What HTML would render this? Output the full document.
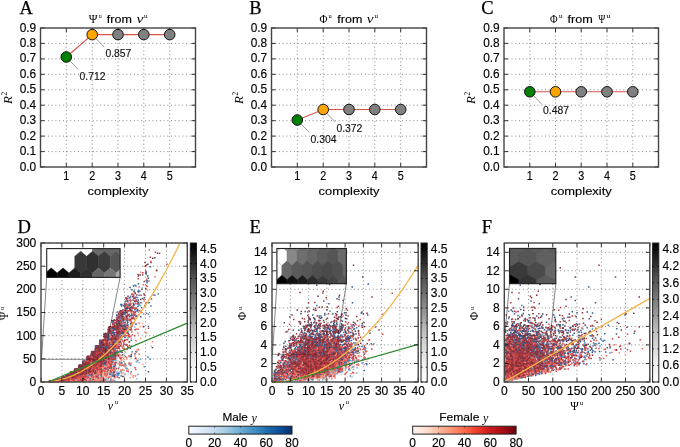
<!DOCTYPE html>
<html><head><meta charset="utf-8"><style>html,body{margin:0;padding:0;background:#fff;}svg{display:block;filter:blur(0.5px);}</style></head>
<body><svg width="680" height="447" viewBox="0 0 680 447">
<rect width="680" height="447" fill="#fff"/>
<path d="M66.3 28.0V167.0M92.2 28.0V167.0M118.0 28.0V167.0M143.8 28.0V167.0M169.7 28.0V167.0M40.5 151.6H195.5M40.5 136.1H195.5M40.5 120.7H195.5M40.5 105.2H195.5M40.5 89.8H195.5M40.5 74.3H195.5M40.5 58.9H195.5M40.5 43.4H195.5" stroke="#000" stroke-width="0.8" stroke-dasharray="1 2.73" opacity="0.6" fill="none"/>
<path d="M66.3 167.0v-4M66.3 28.0v4M92.2 167.0v-4M92.2 28.0v4M118.0 167.0v-4M118.0 28.0v4M143.8 167.0v-4M143.8 28.0v4M169.7 167.0v-4M169.7 28.0v4M40.5 167.0h4M195.5 167.0h-4M40.5 151.6h4M195.5 151.6h-4M40.5 136.1h4M195.5 136.1h-4M40.5 120.7h4M195.5 120.7h-4M40.5 105.2h4M195.5 105.2h-4M40.5 89.8h4M195.5 89.8h-4M40.5 74.3h4M195.5 74.3h-4M40.5 58.9h4M195.5 58.9h-4M40.5 43.4h4M195.5 43.4h-4M40.5 28.0h4M195.5 28.0h-4" stroke="#000" stroke-width="0.8" fill="none"/>
<rect x="40.5" y="28.0" width="155.0" height="139.0" fill="none" stroke="#444" stroke-width="1.4"/>
<text x="36.2" y="170.5" font-size="12" font-family='"Liberation Sans", sans-serif' text-anchor="end" textLength="16.5" lengthAdjust="spacingAndGlyphs" fill="#000" stroke="#000" stroke-width="0.15">0.0</text>
<text x="36.2" y="155.1" font-size="12" font-family='"Liberation Sans", sans-serif' text-anchor="end" textLength="16.5" lengthAdjust="spacingAndGlyphs" fill="#000" stroke="#000" stroke-width="0.15">0.1</text>
<text x="36.2" y="139.6" font-size="12" font-family='"Liberation Sans", sans-serif' text-anchor="end" textLength="16.5" lengthAdjust="spacingAndGlyphs" fill="#000" stroke="#000" stroke-width="0.15">0.2</text>
<text x="36.2" y="124.2" font-size="12" font-family='"Liberation Sans", sans-serif' text-anchor="end" textLength="16.5" lengthAdjust="spacingAndGlyphs" fill="#000" stroke="#000" stroke-width="0.15">0.3</text>
<text x="36.2" y="108.7" font-size="12" font-family='"Liberation Sans", sans-serif' text-anchor="end" textLength="16.5" lengthAdjust="spacingAndGlyphs" fill="#000" stroke="#000" stroke-width="0.15">0.4</text>
<text x="36.2" y="93.3" font-size="12" font-family='"Liberation Sans", sans-serif' text-anchor="end" textLength="16.5" lengthAdjust="spacingAndGlyphs" fill="#000" stroke="#000" stroke-width="0.15">0.5</text>
<text x="36.2" y="77.8" font-size="12" font-family='"Liberation Sans", sans-serif' text-anchor="end" textLength="16.5" lengthAdjust="spacingAndGlyphs" fill="#000" stroke="#000" stroke-width="0.15">0.6</text>
<text x="36.2" y="62.4" font-size="12" font-family='"Liberation Sans", sans-serif' text-anchor="end" textLength="16.5" lengthAdjust="spacingAndGlyphs" fill="#000" stroke="#000" stroke-width="0.15">0.7</text>
<text x="36.2" y="46.9" font-size="12" font-family='"Liberation Sans", sans-serif' text-anchor="end" textLength="16.5" lengthAdjust="spacingAndGlyphs" fill="#000" stroke="#000" stroke-width="0.15">0.8</text>
<text x="36.2" y="31.5" font-size="12" font-family='"Liberation Sans", sans-serif' text-anchor="end" textLength="16.5" lengthAdjust="spacingAndGlyphs" fill="#000" stroke="#000" stroke-width="0.15">0.9</text>
<text x="66.3" y="179.6" font-size="12" font-family='"Liberation Sans", sans-serif' text-anchor="middle" textLength="6.0" lengthAdjust="spacingAndGlyphs" fill="#000" stroke="#000" stroke-width="0.15">1</text>
<text x="92.2" y="179.6" font-size="12" font-family='"Liberation Sans", sans-serif' text-anchor="middle" textLength="6.0" lengthAdjust="spacingAndGlyphs" fill="#000" stroke="#000" stroke-width="0.15">2</text>
<text x="118.0" y="179.6" font-size="12" font-family='"Liberation Sans", sans-serif' text-anchor="middle" textLength="6.0" lengthAdjust="spacingAndGlyphs" fill="#000" stroke="#000" stroke-width="0.15">3</text>
<text x="143.8" y="179.6" font-size="12" font-family='"Liberation Sans", sans-serif' text-anchor="middle" textLength="6.0" lengthAdjust="spacingAndGlyphs" fill="#000" stroke="#000" stroke-width="0.15">4</text>
<text x="169.7" y="179.6" font-size="12" font-family='"Liberation Sans", sans-serif' text-anchor="middle" textLength="6.0" lengthAdjust="spacingAndGlyphs" fill="#000" stroke="#000" stroke-width="0.15">5</text>
<text x="118.0" y="194.6" font-size="11" font-family='"Liberation Sans", sans-serif' text-anchor="middle" textLength="61.0" lengthAdjust="spacingAndGlyphs" fill="#000" stroke="#000" stroke-width="0.15">complexity</text>
<g transform="translate(7.5,97.5) rotate(-90)">
<text x="-2.6" y="4.3" font-size="13" font-family='"Liberation Serif", serif' text-anchor="middle" font-style="italic" fill="#000">R</text>
<text x="3.9" y="-0.8" font-size="7.5" font-family='"Liberation Serif", serif' text-anchor="middle" fill="#000">2</text>
</g>
<text x="88.8" y="22.6" font-size="11.5" font-family='"Liberation Serif", serif' text-anchor="start" textLength="8.8" lengthAdjust="spacingAndGlyphs" fill="#000">Ψ</text>
<text x="98.8" y="18.3" font-size="6.5" font-family='"Liberation Serif", serif' text-anchor="start" textLength="3.0" lengthAdjust="spacingAndGlyphs" fill="#000">u</text>
<text x="106.8" y="22.6" font-size="11" font-family='"Liberation Sans", sans-serif' text-anchor="start" textLength="25.0" lengthAdjust="spacingAndGlyphs" fill="#000" stroke="#000" stroke-width="0.15">from</text>
<text x="136.5" y="22.6" font-size="11.5" font-family='"Liberation Serif", serif' text-anchor="start" font-style="italic" textLength="7.0" lengthAdjust="spacingAndGlyphs" fill="#000">ν</text>
<text x="144.0" y="18.3" font-size="6.5" font-family='"Liberation Serif", serif' text-anchor="start" textLength="3.6" lengthAdjust="spacingAndGlyphs" fill="#000">u</text>
<text x="19.6" y="13.6" font-size="18.5" font-family='"Liberation Serif", serif' text-anchor="start" fill="#000" stroke="#000" stroke-width="0.25">A</text>
<polyline points="66.3,57.0 92.2,34.6 118.0,34.6 143.8,34.6 169.7,34.6" fill="none" stroke="#d9534a" stroke-width="1.1"/>
<path d="M66.3 57.0l12 12.5" stroke="#999" stroke-width="1.0" fill="none"/>
<path d="M92.2 34.6l12 12.5" stroke="#999" stroke-width="1.0" fill="none"/>
<circle cx="66.3" cy="57.0" r="5.3" fill="#008000" stroke="#111" stroke-width="1"/>
<circle cx="92.2" cy="34.6" r="5.3" fill="#ffa500" stroke="#111" stroke-width="1"/>
<circle cx="118.0" cy="34.6" r="5.3" fill="#808080" stroke="#111" stroke-width="1"/>
<circle cx="143.8" cy="34.6" r="5.3" fill="#808080" stroke="#111" stroke-width="1"/>
<circle cx="169.7" cy="34.6" r="5.3" fill="#808080" stroke="#111" stroke-width="1"/>
<text x="79.5" y="79.6" font-size="10.8" font-family='"Liberation Sans", sans-serif' text-anchor="start" textLength="26.0" lengthAdjust="spacingAndGlyphs" fill="#111" stroke="#111" stroke-width="0.15">0.712</text>
<text x="105.4" y="57.2" font-size="10.8" font-family='"Liberation Sans", sans-serif' text-anchor="start" textLength="26.0" lengthAdjust="spacingAndGlyphs" fill="#111" stroke="#111" stroke-width="0.15">0.857</text>
<path d="M297.3 28.0V167.0M323.2 28.0V167.0M349.0 28.0V167.0M374.8 28.0V167.0M400.7 28.0V167.0M271.5 151.6H426.5M271.5 136.1H426.5M271.5 120.7H426.5M271.5 105.2H426.5M271.5 89.8H426.5M271.5 74.3H426.5M271.5 58.9H426.5M271.5 43.4H426.5" stroke="#000" stroke-width="0.8" stroke-dasharray="1 2.73" opacity="0.6" fill="none"/>
<path d="M297.3 167.0v-4M297.3 28.0v4M323.2 167.0v-4M323.2 28.0v4M349.0 167.0v-4M349.0 28.0v4M374.8 167.0v-4M374.8 28.0v4M400.7 167.0v-4M400.7 28.0v4M271.5 167.0h4M426.5 167.0h-4M271.5 151.6h4M426.5 151.6h-4M271.5 136.1h4M426.5 136.1h-4M271.5 120.7h4M426.5 120.7h-4M271.5 105.2h4M426.5 105.2h-4M271.5 89.8h4M426.5 89.8h-4M271.5 74.3h4M426.5 74.3h-4M271.5 58.9h4M426.5 58.9h-4M271.5 43.4h4M426.5 43.4h-4M271.5 28.0h4M426.5 28.0h-4" stroke="#000" stroke-width="0.8" fill="none"/>
<rect x="271.5" y="28.0" width="155.0" height="139.0" fill="none" stroke="#444" stroke-width="1.4"/>
<text x="267.2" y="170.5" font-size="12" font-family='"Liberation Sans", sans-serif' text-anchor="end" textLength="16.5" lengthAdjust="spacingAndGlyphs" fill="#000" stroke="#000" stroke-width="0.15">0.0</text>
<text x="267.2" y="155.1" font-size="12" font-family='"Liberation Sans", sans-serif' text-anchor="end" textLength="16.5" lengthAdjust="spacingAndGlyphs" fill="#000" stroke="#000" stroke-width="0.15">0.1</text>
<text x="267.2" y="139.6" font-size="12" font-family='"Liberation Sans", sans-serif' text-anchor="end" textLength="16.5" lengthAdjust="spacingAndGlyphs" fill="#000" stroke="#000" stroke-width="0.15">0.2</text>
<text x="267.2" y="124.2" font-size="12" font-family='"Liberation Sans", sans-serif' text-anchor="end" textLength="16.5" lengthAdjust="spacingAndGlyphs" fill="#000" stroke="#000" stroke-width="0.15">0.3</text>
<text x="267.2" y="108.7" font-size="12" font-family='"Liberation Sans", sans-serif' text-anchor="end" textLength="16.5" lengthAdjust="spacingAndGlyphs" fill="#000" stroke="#000" stroke-width="0.15">0.4</text>
<text x="267.2" y="93.3" font-size="12" font-family='"Liberation Sans", sans-serif' text-anchor="end" textLength="16.5" lengthAdjust="spacingAndGlyphs" fill="#000" stroke="#000" stroke-width="0.15">0.5</text>
<text x="267.2" y="77.8" font-size="12" font-family='"Liberation Sans", sans-serif' text-anchor="end" textLength="16.5" lengthAdjust="spacingAndGlyphs" fill="#000" stroke="#000" stroke-width="0.15">0.6</text>
<text x="267.2" y="62.4" font-size="12" font-family='"Liberation Sans", sans-serif' text-anchor="end" textLength="16.5" lengthAdjust="spacingAndGlyphs" fill="#000" stroke="#000" stroke-width="0.15">0.7</text>
<text x="267.2" y="46.9" font-size="12" font-family='"Liberation Sans", sans-serif' text-anchor="end" textLength="16.5" lengthAdjust="spacingAndGlyphs" fill="#000" stroke="#000" stroke-width="0.15">0.8</text>
<text x="267.2" y="31.5" font-size="12" font-family='"Liberation Sans", sans-serif' text-anchor="end" textLength="16.5" lengthAdjust="spacingAndGlyphs" fill="#000" stroke="#000" stroke-width="0.15">0.9</text>
<text x="297.3" y="179.6" font-size="12" font-family='"Liberation Sans", sans-serif' text-anchor="middle" textLength="6.0" lengthAdjust="spacingAndGlyphs" fill="#000" stroke="#000" stroke-width="0.15">1</text>
<text x="323.2" y="179.6" font-size="12" font-family='"Liberation Sans", sans-serif' text-anchor="middle" textLength="6.0" lengthAdjust="spacingAndGlyphs" fill="#000" stroke="#000" stroke-width="0.15">2</text>
<text x="349.0" y="179.6" font-size="12" font-family='"Liberation Sans", sans-serif' text-anchor="middle" textLength="6.0" lengthAdjust="spacingAndGlyphs" fill="#000" stroke="#000" stroke-width="0.15">3</text>
<text x="374.8" y="179.6" font-size="12" font-family='"Liberation Sans", sans-serif' text-anchor="middle" textLength="6.0" lengthAdjust="spacingAndGlyphs" fill="#000" stroke="#000" stroke-width="0.15">4</text>
<text x="400.7" y="179.6" font-size="12" font-family='"Liberation Sans", sans-serif' text-anchor="middle" textLength="6.0" lengthAdjust="spacingAndGlyphs" fill="#000" stroke="#000" stroke-width="0.15">5</text>
<text x="349.0" y="194.6" font-size="11" font-family='"Liberation Sans", sans-serif' text-anchor="middle" textLength="61.0" lengthAdjust="spacingAndGlyphs" fill="#000" stroke="#000" stroke-width="0.15">complexity</text>
<g transform="translate(238.5,97.5) rotate(-90)">
<text x="-2.6" y="4.3" font-size="13" font-family='"Liberation Serif", serif' text-anchor="middle" font-style="italic" fill="#000">R</text>
<text x="3.9" y="-0.8" font-size="7.5" font-family='"Liberation Serif", serif' text-anchor="middle" fill="#000">2</text>
</g>
<text x="319.6" y="22.6" font-size="11.5" font-family='"Liberation Serif", serif' text-anchor="start" textLength="8.0" lengthAdjust="spacingAndGlyphs" fill="#000">Φ</text>
<text x="328.6" y="18.3" font-size="6.5" font-family='"Liberation Serif", serif' text-anchor="start" textLength="3.2" lengthAdjust="spacingAndGlyphs" fill="#000">u</text>
<text x="337.3" y="22.6" font-size="11" font-family='"Liberation Sans", sans-serif' text-anchor="start" textLength="25.1" lengthAdjust="spacingAndGlyphs" fill="#000" stroke="#000" stroke-width="0.15">from</text>
<text x="366.7" y="22.6" font-size="11.5" font-family='"Liberation Serif", serif' text-anchor="start" font-style="italic" textLength="6.8" lengthAdjust="spacingAndGlyphs" fill="#000">ν</text>
<text x="374.5" y="18.3" font-size="6.5" font-family='"Liberation Serif", serif' text-anchor="start" textLength="3.5" lengthAdjust="spacingAndGlyphs" fill="#000">u</text>
<text x="249.3" y="13.6" font-size="18.5" font-family='"Liberation Serif", serif' text-anchor="start" fill="#000" stroke="#000" stroke-width="0.25">B</text>
<polyline points="297.3,120.0 323.2,109.5 349.0,109.5 374.8,109.5 400.7,109.5" fill="none" stroke="#d9534a" stroke-width="1.1"/>
<path d="M297.3 120.0l12 12.5" stroke="#999" stroke-width="1.0" fill="none"/>
<path d="M323.2 109.5l12 12.5" stroke="#999" stroke-width="1.0" fill="none"/>
<circle cx="297.3" cy="120.0" r="5.3" fill="#008000" stroke="#111" stroke-width="1"/>
<circle cx="323.2" cy="109.5" r="5.3" fill="#ffa500" stroke="#111" stroke-width="1"/>
<circle cx="349.0" cy="109.5" r="5.3" fill="#808080" stroke="#111" stroke-width="1"/>
<circle cx="374.8" cy="109.5" r="5.3" fill="#808080" stroke="#111" stroke-width="1"/>
<circle cx="400.7" cy="109.5" r="5.3" fill="#808080" stroke="#111" stroke-width="1"/>
<text x="310.5" y="142.6" font-size="10.8" font-family='"Liberation Sans", sans-serif' text-anchor="start" textLength="26.0" lengthAdjust="spacingAndGlyphs" fill="#111" stroke="#111" stroke-width="0.15">0.304</text>
<text x="336.4" y="132.1" font-size="10.8" font-family='"Liberation Sans", sans-serif' text-anchor="start" textLength="26.0" lengthAdjust="spacingAndGlyphs" fill="#111" stroke="#111" stroke-width="0.15">0.372</text>
<path d="M529.8 28.0V167.0M555.5 28.0V167.0M581.2 28.0V167.0M607.0 28.0V167.0M632.8 28.0V167.0M504.0 151.6H658.5M504.0 136.1H658.5M504.0 120.7H658.5M504.0 105.2H658.5M504.0 89.8H658.5M504.0 74.3H658.5M504.0 58.9H658.5M504.0 43.4H658.5" stroke="#000" stroke-width="0.8" stroke-dasharray="1 2.73" opacity="0.6" fill="none"/>
<path d="M529.8 167.0v-4M529.8 28.0v4M555.5 167.0v-4M555.5 28.0v4M581.2 167.0v-4M581.2 28.0v4M607.0 167.0v-4M607.0 28.0v4M632.8 167.0v-4M632.8 28.0v4M504.0 167.0h4M658.5 167.0h-4M504.0 151.6h4M658.5 151.6h-4M504.0 136.1h4M658.5 136.1h-4M504.0 120.7h4M658.5 120.7h-4M504.0 105.2h4M658.5 105.2h-4M504.0 89.8h4M658.5 89.8h-4M504.0 74.3h4M658.5 74.3h-4M504.0 58.9h4M658.5 58.9h-4M504.0 43.4h4M658.5 43.4h-4M504.0 28.0h4M658.5 28.0h-4" stroke="#000" stroke-width="0.8" fill="none"/>
<rect x="504.0" y="28.0" width="154.5" height="139.0" fill="none" stroke="#444" stroke-width="1.4"/>
<text x="499.7" y="170.5" font-size="12" font-family='"Liberation Sans", sans-serif' text-anchor="end" textLength="16.5" lengthAdjust="spacingAndGlyphs" fill="#000" stroke="#000" stroke-width="0.15">0.0</text>
<text x="499.7" y="155.1" font-size="12" font-family='"Liberation Sans", sans-serif' text-anchor="end" textLength="16.5" lengthAdjust="spacingAndGlyphs" fill="#000" stroke="#000" stroke-width="0.15">0.1</text>
<text x="499.7" y="139.6" font-size="12" font-family='"Liberation Sans", sans-serif' text-anchor="end" textLength="16.5" lengthAdjust="spacingAndGlyphs" fill="#000" stroke="#000" stroke-width="0.15">0.2</text>
<text x="499.7" y="124.2" font-size="12" font-family='"Liberation Sans", sans-serif' text-anchor="end" textLength="16.5" lengthAdjust="spacingAndGlyphs" fill="#000" stroke="#000" stroke-width="0.15">0.3</text>
<text x="499.7" y="108.7" font-size="12" font-family='"Liberation Sans", sans-serif' text-anchor="end" textLength="16.5" lengthAdjust="spacingAndGlyphs" fill="#000" stroke="#000" stroke-width="0.15">0.4</text>
<text x="499.7" y="93.3" font-size="12" font-family='"Liberation Sans", sans-serif' text-anchor="end" textLength="16.5" lengthAdjust="spacingAndGlyphs" fill="#000" stroke="#000" stroke-width="0.15">0.5</text>
<text x="499.7" y="77.8" font-size="12" font-family='"Liberation Sans", sans-serif' text-anchor="end" textLength="16.5" lengthAdjust="spacingAndGlyphs" fill="#000" stroke="#000" stroke-width="0.15">0.6</text>
<text x="499.7" y="62.4" font-size="12" font-family='"Liberation Sans", sans-serif' text-anchor="end" textLength="16.5" lengthAdjust="spacingAndGlyphs" fill="#000" stroke="#000" stroke-width="0.15">0.7</text>
<text x="499.7" y="46.9" font-size="12" font-family='"Liberation Sans", sans-serif' text-anchor="end" textLength="16.5" lengthAdjust="spacingAndGlyphs" fill="#000" stroke="#000" stroke-width="0.15">0.8</text>
<text x="499.7" y="31.5" font-size="12" font-family='"Liberation Sans", sans-serif' text-anchor="end" textLength="16.5" lengthAdjust="spacingAndGlyphs" fill="#000" stroke="#000" stroke-width="0.15">0.9</text>
<text x="529.8" y="179.6" font-size="12" font-family='"Liberation Sans", sans-serif' text-anchor="middle" textLength="6.0" lengthAdjust="spacingAndGlyphs" fill="#000" stroke="#000" stroke-width="0.15">1</text>
<text x="555.5" y="179.6" font-size="12" font-family='"Liberation Sans", sans-serif' text-anchor="middle" textLength="6.0" lengthAdjust="spacingAndGlyphs" fill="#000" stroke="#000" stroke-width="0.15">2</text>
<text x="581.2" y="179.6" font-size="12" font-family='"Liberation Sans", sans-serif' text-anchor="middle" textLength="6.0" lengthAdjust="spacingAndGlyphs" fill="#000" stroke="#000" stroke-width="0.15">3</text>
<text x="607.0" y="179.6" font-size="12" font-family='"Liberation Sans", sans-serif' text-anchor="middle" textLength="6.0" lengthAdjust="spacingAndGlyphs" fill="#000" stroke="#000" stroke-width="0.15">4</text>
<text x="632.8" y="179.6" font-size="12" font-family='"Liberation Sans", sans-serif' text-anchor="middle" textLength="6.0" lengthAdjust="spacingAndGlyphs" fill="#000" stroke="#000" stroke-width="0.15">5</text>
<text x="581.2" y="194.6" font-size="11" font-family='"Liberation Sans", sans-serif' text-anchor="middle" textLength="61.0" lengthAdjust="spacingAndGlyphs" fill="#000" stroke="#000" stroke-width="0.15">complexity</text>
<g transform="translate(471.0,97.5) rotate(-90)">
<text x="-2.6" y="4.3" font-size="13" font-family='"Liberation Serif", serif' text-anchor="middle" font-style="italic" fill="#000">R</text>
<text x="3.9" y="-0.8" font-size="7.5" font-family='"Liberation Serif", serif' text-anchor="middle" fill="#000">2</text>
</g>
<text x="550.0" y="22.6" font-size="11.5" font-family='"Liberation Serif", serif' text-anchor="start" textLength="7.6" lengthAdjust="spacingAndGlyphs" fill="#000">Φ</text>
<text x="558.9" y="18.3" font-size="6.5" font-family='"Liberation Serif", serif' text-anchor="start" textLength="3.6" lengthAdjust="spacingAndGlyphs" fill="#000">u</text>
<text x="567.6" y="22.6" font-size="11" font-family='"Liberation Sans", sans-serif' text-anchor="start" textLength="25.3" lengthAdjust="spacingAndGlyphs" fill="#000" stroke="#000" stroke-width="0.15">from</text>
<text x="598.2" y="22.6" font-size="11.5" font-family='"Liberation Serif", serif' text-anchor="start" textLength="7.1" lengthAdjust="spacingAndGlyphs" fill="#000">Ψ</text>
<text x="606.5" y="18.3" font-size="6.5" font-family='"Liberation Serif", serif' text-anchor="start" textLength="4.1" lengthAdjust="spacingAndGlyphs" fill="#000">u</text>
<text x="481.2" y="13.6" font-size="18.5" font-family='"Liberation Serif", serif' text-anchor="start" fill="#000" stroke="#000" stroke-width="0.25">C</text>
<polyline points="529.8,91.8 555.5,91.8 581.2,91.8 607.0,91.8 632.8,91.8" fill="none" stroke="#d9534a" stroke-width="1.1"/>
<path d="M529.8 91.8l12 12.5" stroke="#999" stroke-width="1.0" fill="none"/>
<circle cx="529.8" cy="91.8" r="5.3" fill="#008000" stroke="#111" stroke-width="1"/>
<circle cx="555.5" cy="91.8" r="5.3" fill="#ffa500" stroke="#111" stroke-width="1"/>
<circle cx="581.2" cy="91.8" r="5.3" fill="#808080" stroke="#111" stroke-width="1"/>
<circle cx="607.0" cy="91.8" r="5.3" fill="#808080" stroke="#111" stroke-width="1"/>
<circle cx="632.8" cy="91.8" r="5.3" fill="#808080" stroke="#111" stroke-width="1"/>
<text x="543.0" y="114.4" font-size="10.8" font-family='"Liberation Sans", sans-serif' text-anchor="start" textLength="26.0" lengthAdjust="spacingAndGlyphs" fill="#111" stroke="#111" stroke-width="0.15">0.487</text>
<defs>
<linearGradient id="gr" x1="0" y1="0" x2="0" y2="1"><stop offset="0.000" stop-color="rgb(0, 0, 0)"/><stop offset="0.125" stop-color="rgb(37, 37, 37)"/><stop offset="0.250" stop-color="rgb(82, 82, 82)"/><stop offset="0.375" stop-color="rgb(115, 115, 115)"/><stop offset="0.500" stop-color="rgb(150, 150, 150)"/><stop offset="0.625" stop-color="rgb(189, 189, 189)"/><stop offset="0.750" stop-color="rgb(217, 217, 217)"/><stop offset="0.875" stop-color="rgb(240, 240, 240)"/><stop offset="1.000" stop-color="rgb(255, 255, 255)"/></linearGradient>
<linearGradient id="bl" x1="0" y1="0" x2="1" y2="0"><stop offset="0.000" stop-color="#f7fbff"/><stop offset="0.125" stop-color="#deebf7"/><stop offset="0.250" stop-color="#c6dbef"/><stop offset="0.375" stop-color="#9ecae1"/><stop offset="0.500" stop-color="#6baed6"/><stop offset="0.625" stop-color="#4292c6"/><stop offset="0.750" stop-color="#2171b5"/><stop offset="0.875" stop-color="#08519c"/><stop offset="1.000" stop-color="#08306b"/></linearGradient>
<linearGradient id="rd" x1="0" y1="0" x2="1" y2="0"><stop offset="0.000" stop-color="#fff5f0"/><stop offset="0.125" stop-color="#fee0d2"/><stop offset="0.250" stop-color="#fcbba1"/><stop offset="0.375" stop-color="#fc9272"/><stop offset="0.500" stop-color="#fb6a4a"/><stop offset="0.625" stop-color="#ef3b2c"/><stop offset="0.750" stop-color="#cb181d"/><stop offset="0.875" stop-color="#a50f15"/><stop offset="1.000" stop-color="#67000d"/></linearGradient>
<clipPath id="cD"><rect x="46.7" y="248.6" width="73.4" height="28.8"/></clipPath>
<clipPath id="cE"><rect x="276.9" y="248.5" width="69.5" height="35.2"/></clipPath>
<clipPath id="cF"><rect x="509.5" y="248.4" width="46.3" height="35.3"/></clipPath>
</defs>
<path d="M61.9 243.0V382.0M82.8 243.0V382.0M103.7 243.0V382.0M124.6 243.0V382.0M145.5 243.0V382.0M166.4 243.0V382.0M41.0 358.8H187.3M41.0 335.7H187.3M41.0 312.5H187.3M41.0 289.3H187.3M41.0 266.2H187.3M41.0 243.0H187.3" stroke="#000" stroke-width="0.8" stroke-dasharray="1 2.73" opacity="0.6" fill="none"/>
<path d="M46.7 277.4L41.5 359.3M120.1 277.4L103.7 359.3M41 359.3H103.7" stroke="#777" stroke-width="0.9" fill="none"/>
<g transform="scale(0.25)" stroke-width="5.6" fill="none" opacity="0.8"><path d="M437 1424h6m-39 45h6m23 2h6m-15 3h6m-37 28h6m-91 13h6m-51 9h6m0 2h6m15 0h6" stroke="#c6dbef"/><path d="M450 1374h6m93 24h6m-117 37h6m-15 4h6m7 7h6m-24 6h6m-70 2h6m-13 4h6m97 18h6m-126 4h6m14 2h6m-27 9h6m39 0h6m16 5h6m-128 4h6m162 4h6m-98 2h6m40 2h6m-72 5h6m16 0h6m-75 2h6m81 0h6m36 0h6m-133 2h6m59 0h6m-57 4h6m-63 1h6m29 0h6m32 0h6m-39 4h6" stroke="#9ecae1"/><path d="M596 1267h6m-193 126h6m4 5h6m-8 6h6m16 0h6m-8 11h6m21 6h6m-67 7h6m32 0h6m-23 7h6m10 4h6m13 4h6m-116 20h6m2 0h6m32 2h6m-80 2h6m104 0h6m-53 5h6m-23 8h6m-42 2h6m37 0h6m86 5h6m-166 2h6m13 0h6m31 2h6m-53 4h6m15 0h6m46 3h6m-1 0h6m-13 2h6m-6 0h6m-57 2h6m52 0h6m-106 2h6m-18 2h6m118 0h6m-74 2h6m-18 1h6m17 4h6m0 0h6m-2 0h6m-65 4h6m-36 2h6m25 0h6m66 0h6m-47 2h6m-3 0h6m18 1h6m-43 2h6m-5 0h6m-102 2h6m166 0h6" stroke="#6baed6"/><path d="M542 1244h6m-55 39h6m-63 52h6m5 8h6m63 5h6m-58 8h6m2 18h6m-78 4h6m64 2h6m-70 3h6m62 6h6m-17 2h6m-40 5h6m-34 2h6m-26 2h6m93 6h6m-64 2h6m-33 1h6m13 0h6m2 2h6m-21 4h6m12 2h6m-24 2h6m-46 2h6m10 3h6m-3 0h6m59 2h6m-64 6h6m-14 3h6m2 0h6m18 0h6m17 0h6m-64 2h6m31 0h6m17 0h6m-11 2h6m-72 2h6m14 2h6m3 0h6m50 0h6m-62 2h6m-23 3h6m3 0h6m-5 2h6m-24 2h6m28 2h6m-51 2h6m29 0h6m3 0h6m-14 2h6m-29 3h6m-31 6h6m17 0h6m10 0h6m-24 2h6m-50 2h6m15 0h6m19 0h6m-61 5h6m30 2h6m-6 0h6m-47 2h6m12 0h6m25 2h6m13 0h6m18 0h6m-99 2h6m-5 0h6m67 0h6m-54 1h6m1 2h6m-4 0h6m49 0h6m100 0h6m-220 2h6m-3 0h6m27 0h6m46 0h6m2 4h6m-19 2h6m21 0h6m-23 1h6m-104 2h6m92 0h6m-52 2h6m38 0h6m27 0h6m-106 2h6m4 0h6m71 0h6m-106 2h6m23 0h6m14 0h6m26 0h6m-5 0h6m-38 2h6m129 0h6m-217 2h6m8 0h6m92 0h6m-3 0h6m-27 1h6m0 0h6m22 0h6m9 0h6m-178 2h6m12 0h6m17 0h6m110 0h6m-147 2h6m6 0h6m30 0h6m-16 2h6m25 0h6m-104 2h6m4 0h6m-3 0h6m8 0h6m-2 0h6m3 0h6m5 0h6m14 4h6m23 0h6m26 0h6m26 0h6m21 0h6m-196 1h6m60 0h6m7 0h6m41 0h6m-151 2h6m131 0h6" stroke="#4292c6"/><path d="M593 1124h6m-65 39h6m90 13h6m-117 9h6m19 4h6m-35 2h6m26 0h6m-55 31h6m30 4h6m-38 13h6m-4 4h6m3 1h6m65 10h6m-76 3h6m-35 26h6m-4 23h6m4 1h6m0 6h6m-39 2h6m31 4h6m-45 9h6m-19 4h6m-2 9h6m-39 5h6m51 4h6m-75 9h6m72 8h6m-32 11h6m-64 5h6m18 0h6m-37 2h6m18 0h6m-9 4h6m12 6h6m6 0h6m8 0h6m-89 5h6m3 4h6m39 7h6m3 0h6m-87 2h6m1 0h6m60 2h6m-68 2h6m36 2h6m6 0h6m-55 2h6m16 0h6m23 0h6m4 0h6m0 1h6m-5 0h6m-91 2h6m65 0h6m-4 2h6m0 0h6m-29 4h6m-41 3h6m-22 4h6m61 0h6m-1 2h6m-97 4h6m192 0h6m-161 2h6m-3 1h6m-23 2h6m-5 0h6m14 0h6m-57 2h6m37 0h6m66 0h6m-106 2h6m5 0h6m-1 0h6m14 0h6m12 0h6m-54 2h6m4 0h6m15 0h6m-36 2h6m-23 2h6m4 0h6m28 0h6m1 0h6m13 0h6m-61 1h6m61 0h6m-111 2h6m183 0h6m-183 2h6m44 0h6m83 0h6m-113 2h6m-45 2h6m5 0h6m12 0h6m-45 2h6m22 0h6m12 0h6m24 0h6m-73 2h6m24 0h6m83 0h6m-129 1h6m29 0h6m20 0h6m-7 2h6m-44 2h6m-3 0h6m81 0h6m-107 2h6m8 0h6m-3 0h6m-6 0h6m1 0h6m-64 2h6m36 0h6m-35 2h6m-1 0h6m25 0h6m13 0h6m1 0h6m7 0h6m-74 2h6m45 0h6m49 0h6m-127 1h6m-6 0h6m0 0h6m12 0h6m-2 0h6m11 0h6m9 0h6m-6 0h6m5 0h6m-77 2h6m-5 0h6m-4 0h6m-6 0h6m-1 0h6m25 0h6m0 0h6m48 0h6m63 0h6m-169 2h6m119 0h6m-154 2h6m-3 0h6m32 0h6m13 0h6m7 0h6m-25 2h6m8 0h6m96 0h6m-173 2h6m-6 0h6m4 0h6m-2 0h6m0 0h6m-16 1h6m8 0h6m-6 0h6m-2 0h6m-26 2h6m18 0h6m-43 2h6m8 0h6m11 0h6m57 0h6m15 0h6m-148 2h6m21 0h6m11 0h6m14 0h6m4 0h6m-62 2h6m5 0h6m-2 0h6m1 0h6m37 0h6m18 0h6m-5 0h6m-117 2h6m31 0h6m-6 0h6m25 0h6m21 0h6m-1 0h6m-21 2h6m35 0h6m-150 1h6m7 0h6m31 0h6m112 0h6m-166 2h6m-4 0h6m3 0h6m62 0h6m93 0h6m-161 2h6m13 0h6m-31 2h6m12 0h6m-19 2h6m62 0h6m16 0h6m29 0h6m-153 2h6m38 0h6m82 0h6m-120 2h6m-8 1h6m24 0h6m32 0h6m-130 2h6m-3 0h6m0 0h6m74 0h6m-104 2h6m-4 0h6m128 0h6" stroke="#2171b5"/><path d="M548 1098h6m31 33h6m-93 76h6m55 4h6m36 13h6m-71 15h6m-10 17h6m-63 1h6m53 4h6m-19 2h6m-24 4h6m8 13h6m-44 14h6m34 2h6m-33 4h6m-23 11h6m0 21h6m-7 1h6m5 0h6m-64 13h6m75 0h6m-73 2h6m-4 8h6m-20 5h6m-4 0h6m0 6h6m0 2h6m-60 7h6m-2 2h6m28 0h6m3 0h6m-60 5h6m-6 4h6m-3 4h6m46 2h6m-63 2h6m-3 1h6m4 4h6m0 0h6m28 0h6m11 0h6m-66 9h6m0 4h6m-39 2h6m42 0h6m-6 0h6m-15 4h6m-49 2h6m-11 5h6m27 2h6m4 0h6m-62 2h6m0 0h6m23 0h6m11 0h6m20 0h6m-52 2h6m12 0h6m11 0h6m-61 1h6m4 0h6m5 0h6m13 0h6m36 0h6m-50 2h6m-41 2h6m73 0h6m4 0h6m-86 2h6m5 0h6m-4 0h6m66 4h6m-75 2h6m33 1h6m-76 2h6m7 0h6m4 0h6m-36 2h6m94 0h6m-92 2h6m18 0h6m-31 2h6m15 0h6m15 0h6m32 0h6m33 0h6m-127 2h6m56 0h6m-54 2h6m12 0h6m-60 1h6m8 0h6m64 0h6m-78 2h6m20 0h6m118 0h6m-159 2h6m-29 2h6m50 0h6m-29 2h6m-23 2h6m21 0h6m2 0h6m-61 2h6m12 0h6m23 0h6m-50 1h6m27 0h6m-3 0h6m-24 2h6m-18 2h6m-6 0h6m28 0h6m8 0h6m-79 2h6m39 0h6m-1 0h6m43 0h6m-92 2h6m13 0h6m-43 2h6m13 0h6m1 0h6m8 0h6m26 0h6m-77 2h6m-2 0h6m-3 0h6m24 0h6m-3 0h6m20 0h6m-60 1h6m-3 0h6m44 0h6m-2 0h6m-77 2h6m9 0h6m31 0h6m29 0h6m-93 2h6m24 0h6m30 0h6m30 0h6m36 0h6m-152 2h6m-6 0h6m-2 0h6m18 0h6m91 0h6m-147 2h6m-3 0h6m15 0h6m8 0h6m31 0h6m-65 2h6m-5 0h6m-2 0h6m-5 0h6m-5 0h6m-3 1h6m-5 0h6m0 0h6m1 0h6m-1 0h6m83 0h6m-139 2h6m130 0h6m24 0h6m-165 2h6m24 0h6m-5 0h6m-6 0h6m-39 2h6m26 0h6m-6 0h6m-2 0h6m23 0h6m-47 2h6m25 0h6m8 0h6m-95 2h6m30 0h6m64 0h6m-6 0h6m3 0h6m-125 2h6m29 0h6m19 0h6m-61 1h6m-5 0h6m6 0h6m-2 0h6m9 0h6m1 0h6m-58 2h6m-6 0h6m87 0h6m17 0h6m-118 4h6m15 0h6m7 0h6m106 0h6m-124 2h6m73 0h6m-124 2h6m0 0h6m5 0h6m2 0h6m11 0h6m-56 2h6m-3 0h6m-23 1h6m11 0h6m-34 2h6m2 0h6m-24 2h6m-6 0h6m56 0h6" stroke="#08519c"/><path d="M559 1100h6m25 13h6m-12 11h6m-52 67h6m-36 3h6m53 0h6m-23 6h6m-20 6h6m9 3h6m-50 21h6m28 1h6m-30 4h6m-24 2h6m1 4h6m-33 2h6m12 0h6m21 0h6m-9 1h6m-52 2h6m3 10h6m-1 1h6m6 4h6m-24 4h6m0 0h6m6 2h6m-31 2h6m-6 3h6m-3 0h6m-3 4h6m4 6h6m10 0h6m-68 1h6m53 0h6m-35 6h6m26 0h6m-55 2h6m-17 2h6m-1 1h6m13 0h6m-22 2h6m-6 0h6m30 6h6m-4 0h6m-43 2h6m38 5h6m14 0h6m-95 4h6m17 2h6m-29 5h6m16 0h6m3 0h6m7 2h6m-36 4h6m10 4h6m4 0h6m-12 2h6m0 0h6m-46 1h6m1 0h6m19 0h6m-51 2h6m18 6h6m8 0h6m-43 2h6m0 0h6m6 2h6m-27 1h6m-4 0h6m1 2h6m-6 0h6m14 8h6m8 0h6m-18 1h6m-1 0h6m-49 4h6m15 0h6m-41 2h6m-2 2h6m17 0h6m44 2h6m-62 2h6m-5 0h6m44 0h6m-76 1h6m30 6h6m-30 4h6m-10 2h6m51 0h6m-56 1h6m37 0h6m-76 2h6m-6 0h6m9 0h6m32 0h6m28 0h6m44 0h6m-142 2h6m44 0h6m-51 2h6m57 0h6m-3 2h6m143 0h6m-210 2h6m7 0h6m4 0h6m4 0h6m-40 2h6m7 0h6m31 0h6m-51 1h6m1 0h6m3 0h6m0 0h6m16 0h6m-3 0h6m-79 2h6m0 0h6m-1 0h6m19 0h6m-39 2h6m-5 0h6m9 0h6m-3 0h6m47 0h6m-55 2h6m34 0h6m-5 0h6m-63 2h6m13 0h6m9 0h6m27 0h6m-88 2h6m2 0h6m12 0h6m-40 2h6m-4 0h6m-2 0h6m21 0h6m1 0h6m-6 0h6m8 0h6m-3 0h6m-66 1h6m32 0h6m-44 2h6m-2 0h6m23 0h6m1 0h6m1 0h6m-5 0h6m2 0h6m14 0h6m-75 2h6m20 0h6m-2 0h6m-4 0h6m15 0h6m-63 2h6m163 0h6m-173 2h6m-4 0h6m18 0h6m6 0h6m-38 2h6m10 0h6m10 0h6m23 0h6m45 0h6m-126 2h6m25 0h6m8 0h6m16 0h6m-5 0h6m-79 1h6m-1 0h6m22 0h6m0 0h6m-5 0h6m-47 2h6m-1 0h6m-3 0h6m-3 0h6m-4 0h6m24 2h6m-44 2h6m8 0h6m-6 0h6m46 0h6m-81 2h6m2 0h6m48 0h6m13 0h6m-53 2h6m10 0h6m-4 0h6m-3 0h6m2 0h6m-81 1h6m6 0h6m57 0h6m14 0h6m-101 2h6m-6 0h6m0 0h6m-3 0h6m-2 0h6m-3 0h6m7 0h6m35 0h6m-54 2h6m-1 0h6m7 0h6m12 0h6m15 0h6m-78 2h6m7 0h6m7 0h6m-1 0h6m5 0h6m-47 2h6m-3 0h6m17 0h6m4 0h6m-48 2h6m-4 0h6m3 0h6m8 0h6m7 0h6m0 0h6m-46 2h6m-5 0h6m64 0h6m2 0h6m-108 1h6m2 0h6m-1 0h6m17 0h6m20 0h6m-6 0h6m-46 2h6m10 0h6m-2 0h6m-6 0h6m31 0h6m-81 2h6m-2 0h6m8 0h6m-1 0h6m-2 0h6m-3 0h6m14 0h6m26 0h6m-88 2h6m23 0h6m21 0h6m-5 0h6m-3 0h6m85 0h6m-160 2h6m-6 0h6m-1 0h6m-5 0h6m15 0h6m-4 0h6m-5 0h6m-2 0h6m-5 0h6m-4 0h6m7 0h6m-56 2h6m-3 0h6m28 0h6m0 0h6m21 0h6m-54 2h6m-4 0h6m7 0h6m-4 0h6m5 0h6m10 0h6m-55 1h6m-3 0h6m11 0h6m-5 0h6m-5 0h6m-1 0h6m-65 2h6m31 0h6m10 0h6m-52 2h6m-2 0h6m-6 0h6m-3 0h6m-1 0h6m0 0h6m-4 0h6m2 0h6m-3 0h6m-4 0h6m7 0h6m13 0h6m-1 0h6m-5 0h6m-78 2h6m12 0h6m4 0h6m49 0h6m-84 2h6m-3 0h6m-2 0h6m11 0h6m16 0h6m-64 2h6m-5 0h6m0 0h6m-4 0h6m-5 0h6m-6 0h6m9 0h6m6 0h6m0 0h6m-50 2h6m-4 0h6m-6 0h6m-2 0h6m1 0h6m-6 0h6m4 0h6m-3 0h6m4 0h6m13 0h6m-2 0h6m-59 1h6m-2 0h6m2 0h6m-6 0h6m-3 0h6m-1 0h6m19 0h6m1 0h6m12 0h6m28 0h6m-99 2h6m3 0h6m3 0h6m8 0h6m-6 0h6m12 0h6m77 0h6m-150 2h6m29 0h6m-61 2h6m1 0h6m-4 0h6m37 0h6m-5 0h6m-1 0h6m-5 0h6m-2 0h6m3 0h6m-81 2h6m-4 0h6m-4 0h6m-5 0h6m-4 0h6m5 0h6m3 0h6m-4 0h6m-2 0h6m-4 0h6m-4 0h6m-1 0h6m9 0h6m-3 0h6m1 0h6m4 0h6m-84 2h6m-6 0h6m1 0h6m-3 0h6m2 0h6m-5 0h6m-3 0h6m9 0h6m-5 0h6m-3 0h6m0 0h6m7 0h6m-62 2h6m17 0h6m-4 0h6m-5 0h6m5 0h6m-2 0h6m-49 1h6m3 0h6m0 0h6m8 0h6m-1 0h6m9 0h6m7 0h6m-34 2h6m3 0h6m5 0h6m60 0h6m-143 2h6m1 0h6m-3 0h6m1 0h6m22 0h6m3 0h6m-2 0h6m14 0h6m11 0h6m-90 2h6m2 0h6m8 0h6m0 0h6m17 0h6m-67 2h6m-1 0h6m-5 0h6m-2 0h6m17 0h6m-40 2h6m2 0h6m-1 0h6m-2 0h6m-4 0h6m0 0h6m-6 0h6m3 0h6m42 0h6m54 0h6m-118 1h6m4 0h6m3 0h6m0 0h6m2 0h6m-66 2h6m12 0h6m16 0h6m100 0h6m-170 2h6m-5 0h6m-3 0h6m29 0h6m2 0h6m-52 2h6m0 0h6m-4 0h6m37 0h6m34 0h6m-100 2h6m-4 0h6m0 0h6m-2 0h6m32 0h6m5 0h6m7 0h6m21 0h6m-102 2h6m47 0h6m-58 2h6m6 0h6m-5 0h6m-6 0h6m-4 0h6m6 0h6m-3 0h6m-60 1h6m3 0h6m-12 2h6m4 0h6m3 0h6m0 0h6m152 0h6m-178 2h6m-1 0h6m122 0h6m-153 2h6m7 0h6m23 0h6m11 0h6m11 0h6m22 0h6m-127 2h6m1 0h6m-5 0h6m-3 0h6m-5 0h6m17 0h6m12 0h6m-53 2h6m-3 0h6m7 0h6m-1 0h6m-26 2h6m-3 0h6m-5 0h6m10 0h6m38 0h6m-3 0h6m-2 0h6m13 0h6m5 0h6m31 0h6m-162 1h6m-1 0h6m-3 0h6m53 0h6m-78 2h6m-5 0h6m7 0h6m-6 0h6m89 0h6m-129 2h6m-6 0h6m-3 0h6m-4 0h6m-4 0h6m-3 0h6m-6 0h6m-6 0h6m4 0h6m-5 0h6m-4 0h6" stroke="#08306b"/><path d="M345 1465h6m166 26h6m-107 20h6" stroke="#fff5f0"/><path d="M419 1485h6m-9 6h6m-71 5h6m139 6h6m-159 2h6m97 2h6m-103 2h6m100 1h6m-81 6h6m-130 4h6m40 0h6m142 0h6m-138 3h6m13 4h6" stroke="#fee0d2"/><path d="M368 1417h6m94 13h6m-88 7h6m37 0h6m-66 6h6m20 2h6m3 1h6m69 0h6m-131 10h6m38 7h6m47 11h6m-118 2h6m76 0h6m-60 2h6m16 6h6m-40 1h6m-47 2h6m66 0h6m1 2h6m-73 4h6m124 2h6m-165 3h6m66 0h6m33 2h6m110 0h6m-164 2h6m21 0h6m9 4h6m-106 3h6m-1 0h6m14 2h6m-74 4h6m-1 0h6m20 0h6m14 0h6m35 2h6m2 0h6m-95 2h6m21 0h6m81 0h6m-114 2h6m103 0h6m-54 1h6m82 0h6m-131 2h6m69 0h6m-184 2h6" stroke="#fcbba1"/><path d="M483 1280h6m4 27h6m59 0h6m-87 6h6m-23 43h6m-25 16h6m-21 8h6m12 37h6m-44 4h6m14 0h6m-34 5h6m4 4h6m-8 5h6m36 0h6m-5 2h6m48 0h6m-67 2h6m-12 2h6m-56 4h6m14 1h6m-33 8h6m-15 5h6m29 0h6m-13 2h6m5 0h6m16 0h6m-34 2h6m6 0h6m-32 2h6m21 0h6m-54 2h6m126 0h6m-139 2h6m-10 2h6m46 1h6m21 0h6m0 0h6m-89 2h6m30 0h6m32 0h6m-3 0h6m-100 2h6m0 0h6m37 0h6m-85 2h6m26 0h6m60 0h6m-58 2h6m29 2h6m-53 2h6m37 0h6m-49 1h6m4 0h6m20 0h6m37 0h6m71 0h6m-157 4h6m37 0h6m-57 2h6m133 0h6m-131 2h6m0 0h6m0 0h6m106 0h6m-163 2h6m23 0h6m20 0h6m-85 1h6m1 0h6m3 0h6m-2 0h6m35 0h6m25 0h6m-73 2h6m66 0h6m-83 2h6m23 0h6m8 0h6m-68 2h6m8 0h6m140 0h6m-154 2h6m-6 2h6m71 0h6m35 0h6m-174 2h6m15 0h6m30 0h6m24 0h6m0 0h6m-44 1h6m6 0h6m38 0h6m7 0h6m31 0h6m-124 2h6m8 0h6m-1 0h6m2 0h6m-78 2h6m8 0h6m-5 0h6m14 0h6m17 0h6m22 0h6m-94 2h6m9 0h6m57 0h6m21 0h6m-110 2h6m9 2h6m9 0h6m19 0h6m99 0h6m-180 2h6m10 0h6m23 0h6m102 0h6m-99 1h6m-85 2h6m98 0h6m8 0h6m1 0h6m-158 2h6m12 0h6m89 0h6" stroke="#fc9272"/><path d="M560 1089h6m21 72h6m-86 95h6m-61 24h6m35 35h6m3 17h6m75 0h6m-116 11h6m-49 7h6m86 2h6m-61 5h6m-18 2h6m38 2h6m102 6h6m-161 13h6m-5 0h6m-6 0h6m1 16h6m-46 2h6m17 0h6m-59 6h6m37 0h6m1 0h6m0 0h6m-85 4h6m78 0h6m1 0h6m-32 1h6m105 0h6m-110 4h6m-20 4h6m0 0h6m30 0h6m-80 2h6m40 0h6m-43 2h6m-11 1h6m63 0h6m-71 2h6m7 0h6m117 0h6m-190 2h6m72 0h6m-67 2h6m-29 2h6m60 0h6m12 0h6m-49 2h6m-3 0h6m5 0h6m32 0h6m-43 1h6m-9 2h6m4 0h6m-1 0h6m2 0h6m9 0h6m16 0h6m-67 2h6m-1 0h6m70 0h6m-97 2h6m148 0h6m-161 2h6m41 0h6m-49 2h6m-30 2h6m28 0h6m-21 3h6m48 2h6m-4 0h6m-46 2h6m17 0h6m0 0h6m84 0h6m-147 2h6m-21 2h6m25 0h6m-2 0h6m-72 2h6m90 0h6m-83 1h6m27 0h6m-5 0h6m28 0h6m-29 2h6m18 0h6m-77 2h6m-1 0h6m13 0h6m8 0h6m10 0h6m-61 2h6m-2 0h6m-9 2h6m30 0h6m59 0h6m-92 2h6m16 0h6m4 0h6m-9 2h6m23 0h6m-79 1h6m15 0h6m0 0h6m5 0h6m-2 0h6m-65 2h6m96 0h6m-122 2h6m14 0h6m-6 0h6m-4 0h6m22 0h6m6 0h6m-50 2h6m12 0h6m26 0h6m-66 2h6m-4 0h6m2 0h6m-28 2h6m4 0h6m-13 2h6m-5 0h6m-1 0h6m4 0h6m20 0h6m0 0h6m28 0h6m11 0h6m-1 1h6m-91 2h6m-3 0h6m5 0h6m-4 0h6m23 0h6m-73 2h6m-3 0h6m-5 0h6m23 0h6m-2 0h6m8 0h6m15 0h6m-80 4h6m10 0h6m-5 0h6m2 0h6m-41 2h6m12 0h6m46 0h6m90 0h6m-169 1h6m-5 0h6m8 0h6m60 0h6m34 0h6m-152 2h6m19 0h6m8 0h6m-5 0h6m-2 0h6m4 0h6m-55 2h6m18 0h6m-1 0h6m-5 0h6m12 0h6m29 0h6m9 0h6m4 0h6m24 0h6m-160 2h6m52 0h6m1 0h6m73 0h6m-159 2h6m10 0h6m22 0h6m18 0h6m38 0h6m-5 0h6m5 0h6m-126 2h6m6 0h6m4 0h6m8 0h6m-6 0h6m6 0h6m15 0h6m77 0h6m25 0h6m-167 2h6m108 0h6m-130 1h6m5 0h6m44 2h6m-80 2h6m-4 0h6m0 0h6m10 0h6m13 0h6m20 0h6m11 0h6m12 0h6m17 0h6m-128 2h6m6 0h6m65 0h6m-3 0h6m46 0h6m-182 2h6m24 0h6m-1 0h6m-1 0h6m-21 2h6m21 0h6m23 0h6m-1 0h6m15 0h6m4 0h6m86 0h6m-198 2h6m64 0h6m0 0h6m-101 1h6m13 0h6m0 0h6m33 0h6m38 0h6m-117 2h6m11 0h6m24 0h6m75 0h6m74 0h6m-245 2h6m-6 0h6m-5 0h6m-2 0h6m-6 0h6m-2 0h6m18 0h6m63 0h6m33 0h6" stroke="#fb6a4a"/><path d="M550 1105h6m28 12h6m-27 94h6m-71 28h6m-11 15h6m40 3h6m-41 8h6m20 9h6m-28 4h6m39 15h6m-96 1h6m35 8h6m13 2h6m-33 2h6m-44 7h6m-32 2h6m59 0h6m6 2h6m-43 3h6m-6 2h6m14 4h6m-9 2h6m-25 2h6m15 0h6m-10 3h6m-28 2h6m40 6h6m-13 2h6m-91 2h6m26 1h6m-9 4h6m-3 6h6m10 1h6m9 0h6m-28 6h6m-40 7h6m-36 2h6m17 0h6m-28 4h6m48 4h6m9 0h6m-15 2h6m-30 1h6m-53 2h6m23 2h6m-35 4h6m-11 5h6m23 0h6m39 0h6m-79 2h6m58 0h6m-34 4h6m1 0h6m-29 2h6m27 0h6m-15 2h6m-36 2h6m8 0h6m48 0h6m-102 3h6m23 0h6m17 0h6m0 0h6m-12 2h6m-60 2h6m42 0h6m-8 2h6m-49 2h6m68 0h6m-70 2h6m71 0h6m19 0h6m-99 1h6m32 2h6m-80 2h6m-9 2h6m89 0h6m-34 2h6m13 0h6m17 0h6m39 0h6m-146 2h6m31 0h6m45 0h6m-71 1h6m65 0h6m-99 2h6m0 0h6m5 0h6m-5 0h6m-3 0h6m2 0h6m-2 0h6m-23 2h6m-3 0h6m-33 2h6m20 0h6m9 0h6m17 0h6m-55 2h6m4 0h6m0 0h6m31 0h6m-59 2h6m-4 0h6m-4 0h6m41 0h6m10 0h6m-60 2h6m-49 1h6m24 0h6m22 0h6m-4 0h6m-4 0h6m48 0h6m-87 2h6m3 0h6m-17 2h6m1 0h6m-2 0h6m-3 0h6m27 0h6m-59 2h6m62 0h6m-34 2h6m12 0h6m-81 2h6m12 0h6m1 0h6m1 0h6m130 0h6m-75 3h6m-105 2h6m13 0h6m-58 2h6m-2 0h6m19 0h6m6 0h6m8 0h6m-5 0h6m33 0h6m36 0h6m-142 2h6m5 0h6m-2 0h6m8 0h6m-4 0h6m-3 0h6m13 0h6m-43 2h6m11 0h6m91 0h6m-135 2h6m-3 0h6m4 0h6m8 0h6m-3 0h6m15 0h6m6 0h6m-53 2h6m47 0h6m27 0h6m-97 1h6m-5 0h6m0 0h6m8 0h6m-2 0h6m5 0h6m17 0h6m-68 2h6m5 0h6m0 0h6m0 0h6m12 0h6m-67 2h6m16 0h6m10 0h6m-1 0h6m-2 0h6m-5 0h6m-31 2h6m2 0h6m45 0h6m13 0h6m32 0h6m-155 2h6m-6 0h6m28 0h6m147 0h6m-155 2h6m-1 0h6m2 0h6m17 0h6m7 0h6m-96 2h6m-4 0h6m-5 0h6m-5 0h6m-2 0h6m13 0h6m11 0h6m11 0h6m-2 0h6m-42 1h6m5 0h6m-3 0h6m1 0h6m12 0h6m3 0h6m11 0h6m115 0h6m-221 2h6m29 0h6m1 0h6m13 0h6m-3 0h6m9 0h6m32 0h6m-121 2h6m11 0h6m-5 0h6m4 0h6m-1 0h6m3 0h6m13 0h6m41 0h6m-106 2h6m3 0h6m-1 0h6m-6 0h6m-5 0h6m15 0h6m6 0h6m38 0h6m4 0h6m70 0h6m-190 2h6m-6 0h6m10 0h6m1 0h6m14 0h6m9 0h6m63 0h6m-122 2h6m0 0h6m8 0h6m13 0h6m-5 0h6m28 0h6m-6 0h6m-75 1h6m-4 0h6m6 0h6m21 0h6m0 0h6m-56 2h6m-5 0h6m15 0h6m-3 0h6m5 0h6m27 0h6m35 0h6m-5 0h6m18 0h6m-191 2h6m19 0h6m5 0h6m-3 0h6m27 0h6m12 0h6m-90 2h6m22 0h6m12 0h6m-2 0h6m6 0h6m7 0h6m13 0h6m-97 2h6m-2 0h6m4 0h6m-2 0h6m5 0h6m-3 0h6m10 0h6m1 0h6m10 0h6m4 0h6m11 0h6m164 0h6m-255 2h6m1 0h6m27 0h6m-70 2h6m-3 0h6m10 0h6m-2 0h6m1 0h6m41 0h6m4 0h6m29 0h6m-135 1h6m6 0h6m15 0h6m105 0h6m-4 0h6m-140 2h6m47 0h6m-1 0h6m2 0h6m-53 2h6m-6 0h6m53 0h6m-5 0h6m19 0h6m23 0h6m-42 2h6m30 0h6m30 0h6m-205 2h6m-1 0h6m1 0h6m58 0h6m2 0h6m5 0h6m5 0h6m-107 2h6m-5 0h6m-2 0h6m164 0h6m-191 2h6m31 0h6m35 0h6m2 0h6m29 0h6m-150 1h6m12 0h6m2 0h6m31 0h6m8 0h6m6 0h6m-96 2h6m-4 0h6m-5 0h6m41 0h6m-2 0h6m46 0h6m-103 2h6m33 0h6m87 0h6" stroke="#ef3b2c"/><path d="M550 1115h6m8 42h6m-20 8h6m-29 11h6m18 39h6m-61 3h6m23 17h6m-23 11h6m-35 8h6m51 24h6m-79 4h6m16 0h6m-29 5h6m5 17h6m-22 2h6m38 3h6m-20 2h6m-21 2h6m16 0h6m-33 2h6m30 5h6m-76 13h6m-13 2h6m45 2h6m-32 4h6m7 2h6m65 0h6m-73 3h6m-51 4h6m-13 2h6m33 2h6m1 0h6m-35 3h6m-7 2h6m16 4h6m-11 2h6m-1 0h6m-60 2h6m54 0h6m-59 2h6m51 0h6m-72 1h6m-4 0h6m28 4h6m-1 2h6m30 2h6m-85 2h6m42 0h6m0 2h6m2 1h6m-75 2h6m52 0h6m-5 0h6m-53 2h6m11 0h6m-1 0h6m-6 2h6m9 2h6m-3 0h6m-54 2h6m38 0h6m-1 0h6m10 0h6m-51 2h6m5 0h6m-49 1h6m-5 0h6m50 0h6m-23 2h6m10 0h6m62 0h6m-63 2h6m-3 0h6m-62 2h6m-4 0h6m-19 2h6m20 0h6m33 0h6m-22 2h6m-67 2h6m43 0h6m-25 1h6m25 0h6m14 0h6m-46 2h6m-33 4h6m7 0h6m-3 0h6m22 0h6m-49 2h6m24 0h6m-44 2h6m1 0h6m-25 2h6m47 0h6m-1 0h6m-2 0h6m-68 1h6m51 0h6m11 0h6m0 0h6m-88 2h6m16 0h6m15 0h6m10 0h6m10 0h6m-25 2h6m-75 2h6m28 0h6m-3 0h6m-3 2h6m3 0h6m-1 0h6m7 0h6m-75 2h6m58 0h6m7 0h6m-60 1h6m11 0h6m14 0h6m1 0h6m57 0h6m-139 2h6m23 0h6m-33 2h6m20 0h6m-5 0h6m0 0h6m1 0h6m2 0h6m-51 2h6m-2 0h6m26 0h6m19 0h6m13 0h6m-42 2h6m-38 2h6m-2 0h6m32 0h6m-2 0h6m4 0h6m-68 2h6m-5 0h6m-1 0h6m9 0h6m16 0h6m-75 1h6m3 0h6m5 0h6m28 0h6m8 0h6m-2 0h6m5 0h6m17 0h6m6 0h6m-90 2h6m5 0h6m31 0h6m-4 0h6m11 0h6m-105 2h6m-4 0h6m3 0h6m25 0h6m-1 0h6m2 0h6m23 0h6m-41 2h6m124 0h6m-170 2h6m15 0h6m-3 0h6m79 0h6m-124 2h6m5 0h6m-3 0h6m3 0h6m-2 0h6m-3 0h6m-5 0h6m-5 0h6m21 0h6m-1 0h6m66 0h6m-134 2h6m-4 0h6m-5 0h6m8 0h6m15 0h6m5 0h6m30 0h6m-68 1h6m-3 0h6m-29 2h6m-4 0h6m-2 0h6m11 0h6m53 0h6m17 0h6m-141 2h6m-1 0h6m31 0h6m5 0h6m-5 0h6m27 0h6m-5 0h6m17 0h6m-78 2h6m15 0h6m4 0h6m-1 0h6m-82 2h6m13 0h6m-3 0h6m1 0h6m13 0h6m81 0h6m-139 2h6m-3 0h6m0 0h6m-6 0h6m-5 0h6m12 0h6m6 0h6m7 0h6m21 0h6m11 0h6m-110 2h6m0 0h6m5 0h6m13 0h6m6 0h6m-1 0h6m-4 0h6m-1 0h6m5 0h6m-6 0h6m-52 1h6m10 0h6m-24 2h6m-2 0h6m2 0h6m0 0h6m-5 0h6m-5 0h6m6 0h6m-38 2h6m12 0h6m14 0h6m-78 2h6m3 0h6m-4 0h6m-4 0h6m12 0h6m14 0h6m-4 0h6m-6 0h6m2 0h6m169 0h6m-250 2h6m7 0h6m19 0h6m-3 0h6m108 0h6m-137 2h6m-6 0h6m-2 0h6m11 0h6m0 0h6m19 0h6m8 0h6m-4 0h6m-92 2h6m-6 0h6m9 0h6m5 0h6m-5 0h6m2 0h6m22 0h6m-2 0h6m79 0h6m-143 1h6m-3 0h6m8 0h6m1 0h6m-5 0h6m-3 0h6m-2 0h6m16 0h6m-81 2h6m17 0h6m13 0h6m-6 0h6m1 0h6m9 0h6m6 0h6m3 0h6m-92 2h6m18 0h6m0 0h6m-5 0h6m7 0h6m85 0h6m-154 2h6m13 0h6m-3 0h6m-2 0h6m-2 0h6m-2 0h6m-35 2h6m43 0h6m56 0h6m-102 2h6m6 0h6m-3 0h6m47 0h6m7 0h6m-88 1h6m-2 0h6m3 0h6m-6 0h6m-1 0h6m-4 0h6m9 0h6m39 0h6m-90 2h6m-6 0h6m0 0h6m-1 0h6m7 0h6m-2 0h6m37 0h6m-74 2h6m-5 0h6m49 0h6m-100 2h6m17 0h6m6 0h6m-4 0h6m35 0h6m24 0h6m50 0h6m-166 2h6m14 0h6m12 0h6m-2 0h6m5 0h6m4 0h6m39 0h6m-4 0h6m-2 0h6m-90 2h6m12 0h6m10 0h6m6 0h6m6 0h6m-98 2h6m7 0h6m21 0h6m-6 0h6m-5 0h6m8 0h6m-74 1h6m7 0h6m7 0h6m3 0h6m39 0h6m47 0h6m-123 2h6m-3 0h6m-2 0h6m-4 0h6m-4 0h6m15 0h6m5 0h6m24 0h6m13 0h6m-99 2h6m-3 0h6m5 0h6m6 0h6m2 0h6m10 0h6m-61 2h6m3 0h6m-2 0h6m-6 0h6m9 0h6m73 0h6m-124 2h6m22 0h6m4 0h6m26 0h6m8 0h6m-2 0h6m14 0h6m-112 2h6m4 0h6m18 0h6m39 0h6m-106 2h6m1 0h6m-3 0h6m11 0h6m22 0h6m-38 1h6m-6 0h6m-45 2h6m7 0h6m-6 0h6m7 0h6m-50 2h6m-1 0h6m-5 0h6m-6 0h6m0 0h6m-6 0h6m-4 0h6m2 0h6m-2 0h6m-3 0h6" stroke="#cb181d"/><path d="M598 1029h6m20 54h6m-105 95h6m72 18h6m-101 6h6m3 0h6m-3 2h6m-7 9h6m21 2h6m-20 2h6m14 0h6m-49 3h6m12 10h6m-28 1h6m-12 10h6m19 13h6m-58 2h6m5 3h6m38 2h6m-44 13h6m-7 6h6m-12 3h6m-31 8h6m9 2h6m7 1h6m5 4h6m-25 4h6m-12 2h6m33 0h6m-53 2h6m12 3h6m-37 2h6m-27 8h6m29 1h6m-36 8h6m34 5h6m-39 2h6m16 0h6m44 4h6m-20 2h6m-55 2h6m-4 0h6m15 0h6m-4 0h6m12 0h6m-76 3h6m-15 2h6m0 2h6m58 0h6m-20 2h6m-45 5h6m10 0h6m19 2h6m-39 4h6m-5 0h6m8 0h6m-2 0h6m-12 2h6m14 0h6m-63 7h6m-25 4h6m47 0h6m37 2h6m-99 4h6m15 0h6m-42 3h6m36 0h6m11 0h6m-49 2h6m34 2h6m-49 2h6m17 0h6m-42 4h6m-3 0h6m39 1h6m-9 2h6m-56 2h6m-1 0h6m-5 0h6m48 0h6m-5 0h6m-5 0h6m-61 2h6m33 0h6m23 0h6m-76 2h6m23 2h6m10 3h6m6 0h6m-56 2h6m4 0h6m2 0h6m14 0h6m-66 2h6m24 0h6m60 0h6m-75 2h6m14 0h6m13 0h6m15 0h6m-62 2h6m1 0h6m-45 2h6m6 0h6m-4 0h6m-4 0h6m23 0h6m6 0h6m-1 0h6m-60 2h6m19 0h6m-47 5h6m10 2h6m15 0h6m-46 2h6m39 0h6m-43 2h6m17 0h6m28 0h6m-55 1h6m43 0h6m-38 2h6m3 0h6m0 0h6m-42 4h6m-5 0h6m10 0h6m1 0h6m9 0h6m4 0h6m2 0h6m-45 2h6m16 0h6m3 0h6m-61 2h6m2 0h6m-2 0h6m0 0h6m-2 0h6m0 0h6m6 0h6m-27 2h6m-5 0h6m19 0h6m-48 1h6m-5 0h6m-2 0h6m-1 0h6m38 0h6m-77 2h6m13 0h6m-36 2h6m-6 0h6m-1 0h6m4 0h6m12 0h6m-29 2h6m-3 0h6m1 0h6m28 0h6m12 0h6m7 0h6m-69 2h6m-27 2h6m2 0h6m3 0h6m26 0h6m15 0h6m-68 2h6m-1 0h6m-3 0h6m-3 0h6m4 0h6m10 0h6m-25 1h6m-4 0h6m-6 0h6m-2 0h6m2 0h6m21 0h6m14 0h6m-91 2h6m28 0h6m40 0h6m10 0h6m-97 2h6m29 0h6m1 0h6m-46 2h6m-1 0h6m-1 0h6m-4 0h6m31 0h6m1 0h6m-85 2h6m1 0h6m-6 0h6m1 0h6m5 0h6m33 0h6m-72 2h6m8 0h6m-13 2h6m-6 1h6m16 0h6m15 0h6m21 0h6m-88 2h6m-6 0h6m0 0h6m6 0h6m15 0h6m23 0h6m-58 2h6m1 0h6m21 0h6m-51 2h6m2 0h6m15 0h6m1 0h6m-5 0h6m-61 2h6m-4 0h6m-6 0h6m10 0h6m10 0h6m-3 0h6m19 0h6m-76 2h6m-6 0h6m5 0h6m10 0h6m0 0h6m3 0h6m-47 2h6m-3 0h6m0 0h6m60 0h6m-42 1h6m-1 0h6m41 0h6m-75 2h6m14 0h6m8 0h6m-73 2h6m3 0h6m39 0h6m-66 2h6m30 0h6m7 0h6m86 0h6m-146 2h6m7 0h6m2 0h6m21 0h6m16 0h6m-65 2h6m20 0h6m4 0h6m4 0h6m-42 1h6m-5 0h6m9 0h6m-2 0h6m2 0h6m50 0h6m-90 2h6m8 0h6m-2 0h6m-5 0h6m-59 2h6m6 0h6m15 0h6m0 0h6m-5 0h6m-3 0h6m-5 0h6m15 0h6m7 0h6m-70 2h6m8 0h6m-4 0h6m-4 0h6m9 0h6m-2 0h6m-62 2h6m6 0h6m11 0h6m17 0h6m3 0h6m0 0h6m3 0h6m-68 2h6m5 0h6m3 0h6m22 0h6m-1 0h6m30 0h6m13 0h6m-86 2h6m-4 0h6m-50 1h6m-4 0h6m-2 0h6m3 0h6m27 0h6m-66 2h6m7 0h6m3 0h6m-26 2h6m3 0h6m10 0h6m68 0h6m-110 2h6m19 0h6m-4 0h6m16 0h6m-68 2h6m-1 0h6m7 0h6m43 0h6m-75 2h6m-5 0h6m1 0h6m4 0h6m29 0h6m-71 3h6m-6 0h6m-4 0h6m-12 2h6m84 0h6m-112 2h6m-2 0h6" stroke="#a50f15"/><path d="M627 1013h6m-32 37h6m16 31h6m-77 19h6m22 55h6m-77 30h6m12 2h6m-32 4h6m-5 2h6m30 13h6m-24 9h6m-22 3h6m-27 6h6m11 4h6m2 0h6m-16 2h6m-24 22h6m-3 2h6m-9 7h6m6 8h6m10 5h6m9 0h6m-41 6h6m-37 2h6m-18 1h6m22 8h6m27 5h6m-36 2h6m-5 2h6m-36 6h6m44 0h6m-44 7h6m-30 2h6m15 0h6m38 2h6m-40 2h6m-1 1h6m20 4h6m-14 6h6m12 0h6m-81 3h6m-20 4h6m-7 11h6m1 0h6m17 0h6m14 2h6m-26 2h6m2 2h6m-64 9h6m3 0h6m-15 2h6m0 0h6m23 0h6m8 0h6m-23 4h6m-25 3h6m7 4h6m-21 2h6m20 4h6m-4 0h6m-56 3h6m-1 0h6m32 2h6m73 0h6m-106 2h6m-2 0h6m31 0h6m-75 2h6m0 0h6m-1 0h6m33 0h6m-13 2h6m-44 2h6m29 0h6m-36 1h6m12 0h6m39 0h6m-55 2h6m32 0h6m-5 0h6m-1 0h6m-44 2h6m-3 0h6m-37 2h6m-2 0h6m-4 0h6m13 0h6m-33 2h6m0 0h6m9 0h6m15 0h6m31 0h6m1 0h6m-54 2h6m29 0h6m-87 2h6m35 0h6m-52 1h6m2 0h6m38 0h6m-55 2h6m-6 0h6m-3 0h6m2 0h6m-16 2h6m22 0h6m-5 0h6m-1 0h6m-47 2h6m14 0h6m3 0h6m19 0h6m-62 2h6m-3 0h6m1 0h6m23 0h6m2 0h6m-50 2h6m-4 0h6m-6 0h6m13 0h6m25 0h6m-58 2h6m-6 0h6m14 0h6m33 0h6m-66 1h6m-6 0h6m-4 0h6m20 0h6m20 0h6m-54 2h6m34 0h6m-1 0h6m-73 2h6m4 0h6m29 0h6m-2 0h6m-49 2h6m-5 0h6m12 0h6m-4 0h6m0 0h6m2 0h6m31 0h6m1 0h6m-79 2h6m5 0h6m6 0h6m19 0h6m-67 2h6m-2 0h6m40 0h6m-20 1h6m151 0h6m-193 2h6m0 0h6m72 0h6m-95 2h6m8 0h6m-11 2h6m-6 0h6m-4 0h6m-6 0h6m8 0h6m-31 2h6m-6 2h6m9 0h6m-5 0h6m0 0h6m18 0h6m0 0h6m-3 0h6m6 0h6m-90 2h6m6 0h6m55 0h6m-79 1h6m-4 0h6m-2 0h6m16 0h6m-26 2h6m113 0h6m-133 2h6m12 2h6m2 0h6m1 0h6m1 0h6m2 0h6m8 0h6m-67 2h6m-5 0h6m25 0h6m-1 0h6m1 0h6m14 0h6m-65 2h6m4 0h6m-4 0h6m1 0h6m1 0h6m-40 2h6m-6 0h6m1 0h6m13 0h6m10 0h6m-35 1h6m12 0h6m6 0h6m1 0h6m-70 2h6m0 0h6m16 0h6m16 0h6m2 0h6m-59 2h6m5 0h6m-2 0h6m10 0h6m-6 0h6m-2 0h6m97 0h6m-141 2h6m30 0h6m-6 0h6m-16 2h6m14 0h6m-58 2h6m3 0h6m6 0h6m-4 0h6m2 0h6m-5 0h6m-5 0h6m-43 2h6m-5 0h6m-1 0h6m-5 0h6m-3 0h6m-2 0h6m2 0h6m18 0h6m-5 0h6m-51 1h6m5 0h6m-1 0h6m-3 0h6m-4 0h6m31 0h6m-53 2h6m6 0h6m10 0h6m-57 2h6m-2 0h6m6 0h6m-2 0h6m-5 0h6m-25 2h6m7 0h6m14 0h6m-4 0h6m-42 2h6m-5 0h6m-3 0h6m-4 0h6m8 0h6m11 0h6m-4 0h6m8 0h6m4 0h6m-76 2h6m5 0h6m-4 0h6m3 0h6m1 0h6m26 0h6m-52 2h6m8 0h6m0 0h6m-3 0h6m7 0h6m-40 1h6m1 0h6m-2 0h6m3 0h6m-20 2h6m-5 0h6m-4 0h6m-2 0h6m1 0h6m2 0h6m15 0h6m-85 2h6m-1 0h6m-3 0h6m4 0h6m-21 2h6m-6 0h6m-5 0h6m15 0h6m82 0h6m-119 2h6m-5 0h6m-4 0h6m-3 0h6m-5 0h6m9 0h6m6 0h6m-4 0h6m81 0h6m-109 2h6m-2 0h6m0 0h6m-1 0h6m-25 1h6m-2 0h6m-3 0h6m8 0h6m-29 2h6m15 0h6m14 0h6m-5 0h6m12 0h6m-99 2h6m-1 0h6m-5 0h6m-3 0h6m-11 2h6m-1 0h6m-4 0h6m0 0h6m0 0h6m27 0h6m-65 2h6m-6 0h6m3 0h6m-1 0h6m31 0h6m-40 2h6m-1 0h6m6 0h6m-29 2h6m4 0h6m53 0h6m-100 1h6m-6 0h6m-3 0h6m18 0h6m19 0h6m8 0h6m10 0h6m-90 2h6m-6 0h6m-3 0h6m-3 0h6m-6 0h6m-1 0h6m12 0h6m22 0h6m-55 2h6m-5 0h6m10 0h6m-38 4h6m3 0h6m-5 0h6m-3 0h6m37 0h6m1 0h6m-24 2h6m-59 2h6m19 0h6m-48 1h6m-5 0h6m4 0h6m-6 0h6m7 0h6m-5 0h6m-33 2h6m7 0h6m9 0h6m18 0h6m-75 2h6m0 0h6m-1 0h6m-6 0h6m-5 0h6m-4 0h6m11 0h6" stroke="#67000d"/><path d="M365 1506h6" stroke="#deebf7"/><path d="M392 1471h6m-7 31h6m-55 6h6m24 1h6m-45 4h6m9 6h6m-48 2h6m102 0h6m-67 5h6" stroke="#c6dbef"/><path d="M450 1402h6m38 13h6m-57 7h6m68 4h6m-85 2h6m-21 22h6m1 0h6m-6 2h6m17 4h6m-82 5h6m16 6h6m-54 17h6m41 0h6m-51 3h6m-6 0h6m91 9h6m-84 10h6m-85 11h6m1 4h6m-91 3h6m162 2h6m4 0h6" stroke="#9ecae1"/><path d="M541 1298h6m-11 11h6m-55 2h6m-45 15h6m-25 59h6m-19 2h6m12 8h6m-33 31h6m13 9h6m-33 2h6m52 2h6m1 2h6m-88 9h6m166 0h6m-211 6h6m62 0h6m-69 2h6m-7 1h6m9 2h6m24 4h6m-41 2h6m105 2h6m-132 3h6m-4 0h6m-8 2h6m5 2h6m-22 2h6m35 0h6m-37 4h6m147 0h6m-170 2h6m66 0h6m-89 1h6m-15 2h6m31 2h6m31 0h6m89 2h6m-167 4h6m29 1h6m127 2h6m-21 2h6m-174 4h6m8 0h6m23 0h6m9 0h6m22 0h6m-56 4h6m-88 1h6m8 0h6m20 0h6m33 0h6m9 0h6m64 0h6m-64 2h6m-91 2h6m146 0h6m-176 2h6m45 0h6m95 0h6m113 0h6m-277 4h6m32 0h6m1 0h6m-14 2h6m28 0h6m-93 1h6m111 2h6m-6 0h6m-122 2h6m8 0h6m11 0h6m81 0h6" stroke="#6baed6"/><path d="M566 1152h6m-51 63h6m4 13h6m-30 29h6m-49 91h6m-37 15h6m19 2h6m27 20h6m-88 6h6m18 2h6m-23 5h6m24 2h6m-27 2h6m22 0h6m-7 2h6m-61 2h6m21 0h6m-4 0h6m-14 3h6m26 0h6m-8 2h6m14 0h6m-60 2h6m-27 2h6m34 0h6m4 0h6m-50 7h6m-9 10h6m33 0h6m0 3h6m-88 2h6m74 0h6m114 0h6m-108 2h6m-57 2h6m-9 2h6m4 0h6m-27 2h6m94 0h6m-163 1h6m50 0h6m78 2h6m-96 2h6m61 0h6m-105 4h6m96 0h6m-107 2h6m14 0h6m-41 2h6m18 3h6m-2 0h6m1 0h6m3 0h6m2 0h6m-2 0h6m5 0h6m-93 2h6m56 0h6m18 0h6m46 0h6m-23 4h6m-128 4h6m24 1h6m-2 0h6m1 0h6m86 0h6m-118 2h6m43 0h6m-29 2h6m2 0h6m-27 2h6m17 0h6m1 0h6m18 0h6m-76 2h6m-1 0h6m-5 0h6m16 0h6m0 0h6m41 0h6m30 0h6m-85 2h6m-30 2h6m16 0h6m-3 0h6m32 0h6m-83 1h6m33 0h6m1 2h6m-5 0h6m7 0h6m-54 2h6m22 0h6m-69 2h6m19 0h6m7 0h6m-43 2h6m-4 0h6m-4 0h6m17 0h6m21 0h6m-90 2h6m17 0h6m46 0h6m-35 3h6m74 0h6m-76 2h6m10 0h6m28 0h6m-107 2h6m14 0h6m-2 0h6m0 0h6m26 0h6m-87 2h6m116 0h6m-116 2h6m8 2h6m66 0h6m35 0h6m-23 1h6m-123 2h6m18 0h6m14 0h6m-3 0h6m20 0h6m-4 0h6m-8 2h6m55 0h6m-168 2h6m28 0h6m99 0h6m22 0h6m-147 2h6m104 0h6m-138 2h6m-3 0h6m0 0h6m-32 2h6m100 0h6m72 0h6m-187 1h6m97 0h6m30 0h6m27 0h6m-149 2h6m42 0h6m-73 2h6m66 0h6" stroke="#4292c6"/><path d="M550 1218h6m-43 2h6m34 0h6m-70 37h6m-8 13h6m-5 6h6m-3 28h6m-9 5h6m-29 2h6m15 22h6m-28 4h6m6 6h6m17 0h6m-50 2h6m8 1h6m-60 11h6m16 2h6m42 0h6m-16 6h6m-10 13h6m64 0h6m-99 4h6m-72 3h6m3 6h6m7 0h6m60 0h6m-61 7h6m-5 0h6m2 0h6m23 2h6m-44 2h6m16 0h6m-3 0h6m13 0h6m81 2h6m-71 4h6m-62 1h6m-57 6h6m19 0h6m11 0h6m-58 2h6m96 0h6m-74 2h6m14 0h6m-39 2h6m5 1h6m4 2h6m7 0h6m-35 2h6m-6 2h6m34 0h6m-81 2h6m39 0h6m10 0h6m-70 3h6m27 0h6m-12 2h6m34 0h6m-41 2h6m17 0h6m13 6h6m-33 3h6m2 0h6m26 0h6m-82 2h6m-6 0h6m10 0h6m37 0h6m-35 2h6m-28 2h6m8 2h6m-3 0h6m26 0h6m-85 2h6m0 0h6m93 0h6m19 0h6m-119 2h6m16 0h6m-5 0h6m17 0h6m-79 3h6m59 0h6m-55 2h6m23 0h6m-28 2h6m0 0h6m16 0h6m-63 2h6m70 0h6m167 0h6m-257 2h6m6 0h6m10 0h6m2 0h6m-3 0h6m-4 0h6m46 0h6m-83 2h6m3 0h6m4 0h6m3 0h6m-5 0h6m26 0h6m-60 1h6m5 0h6m-31 2h6m17 0h6m13 0h6m60 0h6m-115 2h6m0 0h6m3 0h6m4 0h6m10 0h6m-36 2h6m2 0h6m9 0h6m-56 2h6m12 0h6m-3 0h6m1 0h6m-1 0h6m0 0h6m-3 0h6m1 0h6m119 0h6m-180 2h6m-5 0h6m21 0h6m4 0h6m3 0h6m2 0h6m0 0h6m-56 2h6m7 0h6m-2 0h6m13 0h6m-32 1h6m59 0h6m-60 2h6m43 0h6m-44 2h6m1 0h6m-55 2h6m1 0h6m-6 0h6m3 0h6m-19 2h6m-5 0h6m-6 0h6m3 0h6m0 0h6m7 0h6m-57 2h6m11 0h6m-2 0h6m-4 0h6m-2 0h6m-4 0h6m0 0h6m-5 0h6m97 0h6m-87 1h6m-6 0h6m-79 2h6m26 2h6m-56 2h6m21 0h6m8 0h6m27 0h6m-76 2h6m23 0h6m-5 0h6m36 0h6m2 0h6m36 0h6m85 0h6m-183 2h6m-2 0h6m-41 2h6m0 0h6m-2 0h6m34 0h6m23 0h6m51 0h6m-145 1h6m-4 0h6m61 0h6m17 0h6m16 0h6m-136 2h6m14 0h6m39 0h6m6 0h6m-72 2h6m-4 0h6m0 0h6m-5 0h6m-5 0h6m5 0h6m17 0h6m85 0h6m-86 2h6m-3 0h6m27 0h6m-131 2h6m11 0h6m-3 0h6m14 0h6m7 2h6m9 0h6m-48 2h6m79 0h6m8 0h6m78 0h6m-184 1h6m83 0h6m-1 2h6m42 0h6m-207 2h6m-2 0h6m8 0h6m-4 0h6" stroke="#2171b5"/><path d="M537 1141h6m-2 3h6m69 37h6m-84 8h6m-50 35h6m32 6h6m-45 24h6m28 7h6m-56 15h6m-2 7h6m-18 2h6m5 11h6m11 0h6m-38 4h6m17 2h6m97 4h6m-142 5h6m1 9h6m21 0h6m-39 10h6m24 2h6m-4 1h6m-28 2h6m-1 2h6m-20 6h6m-33 2h6m22 7h6m10 2h6m-67 3h6m33 0h6m-31 8h6m-37 2h6m25 2h6m7 0h6m-24 5h6m23 0h6m-7 2h6m-23 2h6m19 4h6m-17 3h6m-63 2h6m9 0h6m15 0h6m19 2h6m-20 4h6m75 0h6m-132 2h6m-11 1h6m24 0h6m12 0h6m-16 2h6m-18 2h6m-31 2h6m15 4h6m11 0h6m-64 3h6m39 0h6m46 0h6m-96 8h6m56 2h6m-57 2h6m16 0h6m-22 1h6m21 0h6m-62 2h6m3 0h6m25 0h6m-6 0h6m-5 2h6m-4 0h6m-57 2h6m73 0h6m-48 2h6m61 2h6m-102 1h6m53 0h6m-37 2h6m18 0h6m-2 0h6m-61 2h6m32 0h6m10 0h6m-72 2h6m6 0h6m28 0h6m-1 0h6m1 0h6m-66 2h6m19 0h6m43 0h6m-31 2h6m18 2h6m-26 1h6m11 0h6m-68 2h6m3 0h6m-1 0h6m13 0h6m-6 0h6m50 0h6m-105 2h6m15 0h6m-6 0h6m28 0h6m4 0h6m12 0h6m-107 2h6m56 0h6m5 0h6m-2 0h6m-48 2h6m0 0h6m-3 0h6m7 0h6m19 0h6m-62 4h6m-5 0h6m7 0h6m-4 0h6m-23 1h6m11 0h6m80 0h6m-111 4h6m-3 0h6m5 0h6m-6 0h6m-54 2h6m22 0h6m4 0h6m0 0h6m19 0h6m-6 0h6m-39 2h6m5 0h6m4 0h6m-36 2h6m15 0h6m30 0h6m24 0h6m-116 2h6m8 0h6m11 0h6m64 0h6m-113 1h6m26 0h6m-3 0h6m0 0h6m-5 0h6m-52 2h6m60 0h6m-77 2h6m79 0h6m-66 2h6m4 0h6m37 0h6m-50 2h6m42 0h6m-79 2h6m0 0h6m-5 0h6m0 0h6m-27 2h6m19 0h6m-2 0h6m-2 0h6m-35 1h6m-1 0h6m2 0h6m15 0h6m0 0h6m-1 0h6m10 0h6m-68 2h6m41 0h6m23 0h6m-74 2h6m-3 0h6m-4 0h6m10 0h6m26 0h6m66 0h6m-167 2h6m17 0h6m0 0h6m63 0h6m-72 2h6m-6 0h6m17 0h6m-52 2h6m-6 0h6m-2 0h6m-6 0h6m13 0h6m0 0h6m38 0h6m12 0h6m-77 1h6m14 0h6m-1 0h6m48 0h6m-64 2h6m-52 2h6m12 0h6m7 0h6m12 0h6m7 0h6m98 0h6m-198 2h6m6 0h6m11 0h6m-4 0h6m3 0h6m74 0h6m58 0h6m-189 2h6m-6 0h6m-3 0h6m-6 0h6m9 0h6m-1 0h6m28 0h6m-3 0h6m7 0h6m11 0h6m89 0h6m-188 4h6m-1 0h6m25 0h6m34 0h6m2 0h6m-82 1h6m-1 0h6m0 0h6m18 0h6m0 0h6m-58 2h6m15 0h6m2 2h6m12 0h6m57 0h6m-106 2h6m12 0h6m62 0h6m22 0h6m-164 2h6m10 0h6m-5 0h6m3 0h6m-1 0h6m-4 0h6m-39 2h6m-2 0h6m7 0h6m-5 0h6m7 0h6m40 0h6m44 0h6m-127 2h6m49 0h6m43 0h6m-131 1h6m-5 0h6m11 0h6m7 0h6m17 0h6m5 0h6m-4 0h6m-70 2h6m2 0h6m-36 2h6m2 0h6" stroke="#08519c"/><path d="M581 1087h6m1 17h6m-43 31h6m-32 24h6m25 6h6m13 26h6m-49 2h6m-9 7h6m7 0h6m-47 4h6m1 3h6m33 0h6m-56 8h6m11 5h6m29 6h6m-35 4h6m37 1h6m-80 8h6m24 4h6m-41 3h6m6 4h6m-2 0h6m-23 7h6m19 4h6m-28 6h6m-19 3h6m8 4h6m-5 4h6m-3 2h6m-31 2h6m4 1h6m-8 6h6m13 0h6m-13 4h6m28 1h6m-40 2h6m-3 0h6m46 0h6m-51 4h6m-36 2h6m16 0h6m-3 2h6m-26 2h6m95 1h6m-106 2h6m-47 6h6m44 0h6m-53 2h6m26 2h6m7 0h6m20 1h6m-45 2h6m10 0h6m-16 2h6m10 6h6m-42 2h6m16 0h6m-32 1h6m29 0h6m-1 2h6m-68 4h6m60 0h6m-66 6h6m-21 3h6m-6 2h6m2 0h6m-1 0h6m15 0h6m-3 0h6m6 2h6m1 0h6m-63 4h6m7 0h6m33 0h6m-19 1h6m-45 2h6m-25 2h6m15 0h6m48 0h6m-19 2h6m-46 2h6m1 0h6m17 2h6m2 0h6m-55 2h6m-6 3h6m-18 2h6m8 0h6m19 0h6m-37 2h6m-12 2h6m18 0h6m2 0h6m14 0h6m-57 4h6m49 0h6m-80 1h6m-5 0h6m21 0h6m-4 0h6m9 0h6m-50 2h6m4 0h6m22 2h6m1 0h6m21 0h6m4 0h6m-84 2h6m1 0h6m2 0h6m16 0h6m-37 2h6m32 0h6m-42 2h6m-19 2h6m30 0h6m14 0h6m-51 3h6m8 0h6m39 0h6m-77 2h6m2 0h6m46 0h6m13 0h6m-74 2h6m2 0h6m-24 2h6m-4 0h6m-5 0h6m1 0h6m-5 0h6m0 0h6m-4 0h6m-5 0h6m27 0h6m-1 0h6m-27 2h6m-58 2h6m32 0h6m25 0h6m86 0h6m-166 1h6m0 0h6m31 0h6m19 0h6m-72 2h6m11 0h6m13 0h6m-38 2h6m7 0h6m-18 2h6m-4 2h6m26 2h6m109 0h6m-142 2h6m7 0h6m14 0h6m8 0h6m-6 0h6m-63 1h6m-1 0h6m-21 2h6m-2 0h6m7 0h6m-4 0h6m18 0h6m5 0h6m-68 2h6m2 0h6m19 0h6m-5 0h6m23 0h6m5 0h6m-86 2h6m-4 0h6m7 0h6m6 0h6m6 0h6m36 0h6m-58 2h6m-40 2h6m-3 0h6m0 0h6m14 0h6m-3 0h6m-4 0h6m-6 0h6m-5 0h6m9 0h6m30 0h6m-93 1h6m-6 0h6m13 0h6m20 0h6m-51 2h6m15 0h6m4 0h6m1 0h6m0 0h6m-3 0h6m1 0h6m11 0h6m-76 2h6m4 0h6m-6 0h6m13 0h6m9 0h6m1 0h6m-49 2h6m-6 0h6m21 0h6m-6 0h6m7 0h6m16 0h6m9 0h6m-87 2h6m-3 0h6m4 0h6m-1 0h6m1 0h6m-2 0h6m22 0h6m-59 2h6m-1 0h6m68 0h6m-66 2h6m3 0h6m-6 0h6m4 0h6m-67 1h6m-5 0h6m36 0h6m6 0h6m-51 2h6m-5 0h6m-3 0h6m10 0h6m-5 0h6m-2 0h6m12 0h6m-5 0h6m-61 2h6m-3 0h6m-3 0h6m15 0h6m-2 0h6m-3 0h6m2 0h6m14 0h6m14 0h6m-91 2h6m45 0h6m-1 0h6m8 0h6m3 0h6m-66 2h6m1 0h6m-4 0h6m13 0h6m-1 0h6m-55 2h6m-4 0h6m13 0h6m-5 0h6m15 0h6m1 0h6m6 0h6m-64 2h6m-2 0h6m7 0h6m-5 0h6m1 0h6m13 0h6m-1 0h6m-57 1h6m13 0h6m0 0h6m-2 0h6m-12 2h6m2 0h6m0 0h6m-63 2h6m-1 0h6m-6 0h6m-3 0h6m-5 0h6m4 0h6m19 0h6m-28 2h6m-3 0h6m11 0h6m-2 0h6m-5 0h6m0 0h6m3 0h6m4 0h6m-74 2h6m-2 0h6m-5 0h6m-6 0h6m-5 0h6m2 0h6m37 0h6m3 0h6m2 0h6m54 0h6m-131 2h6m5 0h6m-2 0h6m7 0h6m-2 0h6m-5 0h6m-48 2h6m-5 0h6m14 0h6m-5 0h6m6 0h6m-4 0h6m-2 0h6m-41 1h6m11 0h6m-4 0h6m1 0h6m3 0h6m-50 2h6m90 0h6m11 0h6m-123 2h6m14 0h6m5 0h6m7 0h6m-1 0h6m7 0h6m-3 0h6m-75 2h6m-4 0h6m7 0h6m14 0h6m-4 0h6m-2 0h6m-6 0h6m6 0h6m-1 0h6m-5 0h6m10 0h6m-90 2h6m-5 0h6m-5 0h6m-6 0h6m4 0h6m-5 0h6m1 0h6m13 0h6m2 0h6m24 0h6m28 0h6m-116 2h6m3 0h6m-3 0h6m0 0h6m18 0h6m-2 0h6m3 0h6m12 0h6m-1 0h6m16 0h6m-105 2h6m17 0h6m16 0h6m6 0h6m33 0h6m-93 1h6m6 0h6m-1 0h6m4 0h6m-2 0h6m-4 0h6m8 0h6m-62 2h6m12 0h6m-4 0h6m11 0h6m41 0h6m68 0h6m-181 2h6m3 0h6m-4 0h6m7 0h6m7 0h6m5 0h6m1 0h6m-1 0h6m-63 2h6m-1 0h6m7 0h6m6 0h6m86 0h6m61 0h6m-194 2h6m-4 0h6m15 0h6m13 0h6m29 0h6m-85 2h6m-2 0h6m0 0h6m6 0h6m-2 0h6m3 0h6m5 0h6m11 0h6m-66 1h6m14 0h6m-3 0h6m3 0h6m11 0h6m1 0h6m68 0h6m18 0h6m-144 2h6m10 0h6m2 0h6m-70 2h6m0 0h6m-2 0h6m18 0h6m38 0h6m27 0h6m45 0h6m-165 2h6m-2 0h6m-3 0h6m7 0h6m81 0h6m-112 2h6m-2 0h6m-5 0h6m-3 0h6m8 0h6m-2 0h6m8 0h6m8 0h6m127 0h6m-194 2h6m0 0h6m9 0h6m4 0h6m5 0h6m-43 2h6m8 0h6m29 0h6m14 0h6m-93 1h6m-5 0h6m11 0h6m-5 0h6m-4 0h6m-5 0h6m49 0h6m-87 2h6m2 0h6m1 0h6m0 0h6m20 0h6m18 0h6m-74 2h6m2 2h6m31 0h6m11 0h6m-6 0h6m-5 0h6m-91 2h6m17 0h6m-5 0h6m-3 0h6m-6 0h6m-3 0h6m-2 0h6m-1 0h6m-44 2h6m0 0h6m-5 0h6m0 0h6m7 0h6m21 0h6m-57 2h6m4 0h6m9 0h6m60 0h6m-114 1h6m-5 0h6m0 0h6m1 0h6m1 0h6m-4 0h6m22 0h6m-61 2h6m-1 0h6m-6 0h6m-2 0h6m-4 0h6m-6 0h6m6 0h6m8 0h6m15 0h6m-78 2h6m-5 0h6m0 0h6m-3 0h6m-6 0h6m-5 0h6m0 0h6m-4 0h6" stroke="#08306b"/><path d="M346 1476h6m3 6h6" stroke="#fff5f0"/><path d="M535 1226h6m-87 219h6m-51 3h6m-9 28h6m27 6h6m-85 33h6m26 2h6m-106 7h6" stroke="#fee0d2"/><path d="M551 1337h6m-141 72h6m34 10h6m-18 22h6m-52 9h6m-33 2h6m45 6h6m-32 7h6m-6 7h6m68 10h6m-162 2h6m64 0h6m35 0h6m-45 9h6m-69 5h6m44 2h6m-83 2h6m107 0h6m-3 2h6m-32 2h6m27 0h6m-79 2h6m-19 1h6m21 0h6m-85 2h6m96 0h6m27 0h6m-97 4h6m41 0h6m48 0h6m18 0h6m-74 4h6m-61 2h6m-63 1h6m22 2h6m27 0h6m6 0h6m6 0h6m-156 2h6m3 0h6" stroke="#fcbba1"/><path d="M567 1294h6m-84 4h6m9 22h6m-87 47h6m60 0h6m-77 15h6m-25 3h6m197 0h6m-151 6h6m-20 4h6m-49 3h6m27 4h6m-4 0h6m-28 2h6m13 5h6m-6 0h6m16 2h6m-52 6h6m-18 2h6m32 2h6m-18 1h6m-21 6h6m46 0h6m-105 5h6m-15 2h6m55 4h6m-44 7h6m79 0h6m-92 2h6m80 2h6m-63 4h6m5 0h6m-51 2h6m98 0h6m-124 2h6m209 0h6m-137 1h6m-35 2h6m22 2h6m-66 4h6m18 0h6m-74 2h6m18 0h6m33 0h6m38 0h6m-79 2h6m-47 1h6m77 2h6m-67 2h6m-1 0h6m10 0h6m64 2h6m-40 2h6m-70 2h6m0 0h6m133 0h6m-159 2h6m3 0h6m16 0h6m25 0h6m-63 1h6m-4 0h6m10 0h6m45 0h6m-72 4h6m2 0h6m-40 2h6m34 0h6m35 0h6m-61 2h6m22 0h6m-6 2h6m-28 1h6m50 0h6m6 0h6m-2 0h6m-92 2h6m-36 2h6m-5 0h6m11 0h6m40 0h6m54 0h6m-127 2h6m39 0h6m-91 2h6m31 0h6m12 0h6m-47 2h6m-4 0h6m54 0h6m14 2h6m54 0h6m-111 1h6m18 0h6m53 0h6m111 2h6m-241 2h6m14 0h6m26 0h6m35 0h6m-45 2h6m23 0h6m39 0h6m-146 2h6m96 0h6m-45 2h6m-72 2h6m23 0h6m30 0h6m61 0h6m-167 1h6m15 0h6m-6 0h6m32 0h6m6 0h6m17 0h6m29 0h6m121 0h6m-258 2h6m24 0h6m28 0h6m-113 2h6m18 0h6m126 0h6" stroke="#fc9272"/><path d="M575 1204h6m-108 70h6m8 4h6m1 5h6m-1 6h6m-14 5h6m-27 21h6m8 4h6m-21 16h6m84 19h6m-114 5h6m-6 4h6m-25 20h6m37 0h6m-58 10h6m-12 3h6m32 4h6m-46 4h6m38 0h6m-39 2h6m-32 2h6m12 1h6m-3 0h6m3 0h6m-22 2h6m1 4h6m33 0h6m-64 4h6m10 0h6m-2 0h6m-30 3h6m-5 0h6m16 0h6m-24 2h6m-1 0h6m4 0h6m51 0h6m-124 2h6m30 0h6m5 4h6m9 0h6m7 0h6m-86 2h6m26 1h6m47 0h6m-1 0h6m-62 4h6m12 0h6m11 0h6m8 0h6m5 0h6m-46 2h6m-50 4h6m12 0h6m4 0h6m30 2h6m-51 1h6m48 0h6m-70 2h6m4 0h6m48 0h6m-49 2h6m11 0h6m-2 0h6m-6 0h6m-43 2h6m4 0h6m0 0h6m4 0h6m-71 2h6m14 0h6m53 0h6m-52 2h6m-3 0h6m51 2h6m56 0h6m-150 1h6m10 0h6m-4 0h6m-34 2h6m2 0h6m38 0h6m5 0h6m-2 0h6m-7 2h6m20 0h6m-42 2h6m-2 0h6m19 0h6m-87 4h6m5 2h6m57 0h6m-101 1h6m32 0h6m8 0h6m-48 2h6m-3 0h6m1 0h6m18 0h6m8 0h6m-36 2h6m8 0h6m-4 0h6m17 0h6m-59 2h6m-2 0h6m6 0h6m9 0h6m114 0h6m-161 2h6m50 0h6m-64 2h6m23 0h6m8 0h6m10 0h6m35 0h6m5 0h6m-117 2h6m45 0h6m-48 1h6m22 0h6m14 0h6m15 0h6m2 0h6m31 0h6m-111 2h6m13 0h6m20 0h6m24 0h6m4 0h6m-98 2h6m51 0h6m-88 2h6m-2 0h6m35 0h6m35 0h6m-45 2h6m5 0h6m-81 2h6m17 0h6m36 0h6m69 0h6m9 0h6m60 0h6m-223 1h6m11 0h6m-10 2h6m-1 0h6m20 0h6m52 0h6m-108 2h6m12 0h6m-35 2h6m-1 0h6m55 0h6m168 0h6m-272 2h6m53 0h6m7 0h6m29 0h6m-95 2h6m20 0h6m2 0h6m1 0h6m74 0h6m12 0h6m11 0h6m-138 2h6m7 0h6m57 0h6m20 0h6m43 0h6m-129 1h6m188 0h6m-273 2h6m4 0h6m15 0h6m66 0h6m17 0h6m62 0h6m-4 0h6m-133 2h6m-80 2h6m-1 0h6m-1 0h6m25 0h6m92 0h6m-143 2h6m18 0h6m-4 0h6m11 0h6m6 0h6m-49 2h6m-5 0h6m14 0h6m7 0h6m-81 2h6m10 0h6m29 0h6m14 0h6m25 0h6m5 0h6m-115 1h6m0 0h6m30 0h6m3 0h6m-79 2h6m47 0h6m-6 0h6m26 0h6m18 0h6m8 0h6m1 0h6m61 0h6m-215 2h6m51 0h6" stroke="#fb6a4a"/><path d="M580 1083h6m31 24h6m-52 32h6m-24 9h6m-46 65h6m-35 31h6m0 0h6m65 0h6m-4 6h6m3 6h6m-91 1h6m14 0h6m-13 6h6m-41 7h6m64 6h6m-75 2h6m-7 2h6m9 3h6m34 0h6m-29 6h6m-23 5h6m-34 2h6m-9 2h6m69 6h6m-40 3h6m-12 6h6m18 2h6m-7 7h6m11 6h6m-92 2h6m-1 3h6m77 6h6m-82 2h6m25 7h6m-15 6h6m-37 3h6m10 6h6m0 0h6m19 2h6m-36 2h6m-7 2h6m51 0h6m-39 1h6m-47 4h6m-24 2h6m54 0h6m-32 4h6m3 0h6m-73 2h6m31 0h6m49 0h6m-75 5h6m58 0h6m-88 6h6m23 3h6m56 0h6m-70 4h6m20 0h6m-19 2h6m-28 2h6m6 4h6m-46 3h6m36 0h6m-21 2h6m-1 0h6m17 0h6m2 0h6m4 0h6m-73 2h6m7 0h6m19 0h6m16 0h6m-96 2h6m14 0h6m5 0h6m0 0h6m61 0h6m75 0h6m-178 2h6m-4 0h6m-27 2h6m34 0h6m12 1h6m-43 2h6m16 2h6m-16 2h6m44 0h6m-52 2h6m-23 2h6m-5 0h6m9 0h6m31 0h6m-87 1h6m-3 0h6m43 0h6m16 0h6m-80 2h6m21 0h6m0 0h6m0 0h6m-49 2h6m13 0h6m34 0h6m6 0h6m-72 2h6m14 0h6m9 0h6m9 0h6m18 2h6m-89 2h6m66 0h6m-2 0h6m-75 2h6m41 0h6m-41 1h6m17 0h6m25 0h6m-50 2h6m-5 0h6m-6 2h6m1 0h6m-1 0h6m-5 0h6m22 0h6m-88 2h6m-6 0h6m29 0h6m-5 0h6m-3 0h6m11 0h6m31 0h6m-62 2h6m-46 2h6m8 0h6m23 0h6m-30 2h6m-1 0h6m0 0h6m14 0h6m13 0h6m-5 0h6m-59 1h6m-2 0h6m19 0h6m0 0h6m-61 2h6m4 0h6m23 0h6m-4 0h6m11 0h6m2 0h6m6 0h6m62 0h6m-167 2h6m24 0h6m5 0h6m22 0h6m-76 2h6m26 0h6m-2 0h6m-2 0h6m11 0h6m-2 0h6m-30 2h6m17 0h6m26 0h6m-58 2h6m-5 0h6m-4 0h6m-4 0h6m15 0h6m1 0h6m4 0h6m-86 2h6m-2 0h6m-6 0h6m25 0h6m29 0h6m14 0h6m13 0h6m-96 1h6m5 0h6m22 0h6m15 0h6m97 0h6m-179 2h6m2 0h6m-2 0h6m2 0h6m-1 0h6m-8 2h6m15 0h6m-4 0h6m20 0h6m8 0h6m-82 2h6m-5 0h6m10 0h6m5 0h6m14 0h6m39 0h6m-135 2h6m26 0h6m0 0h6m4 0h6m76 0h6m-85 2h6m-3 0h6m3 0h6m-3 0h6m-3 0h6m0 0h6m3 0h6m14 0h6m-81 2h6m0 0h6m14 0h6m-5 0h6m-5 0h6m-46 1h6m6 0h6m31 0h6m-4 0h6m1 0h6m61 0h6m-115 2h6m-1 0h6m-6 0h6m-4 0h6m20 0h6m10 0h6m-23 2h6m-5 0h6m3 0h6m-85 2h6m22 0h6m3 0h6m31 0h6m58 0h6m-131 2h6m-2 0h6m-5 0h6m6 0h6m16 0h6m-63 2h6m1 0h6m2 0h6m-6 0h6m2 0h6m-24 1h6m-2 0h6m-2 0h6m17 0h6m22 0h6m-4 0h6m0 0h6m-2 0h6m-77 2h6m-4 0h6m-5 0h6m-1 0h6m8 0h6m-2 0h6m7 0h6m10 0h6m-58 2h6m0 0h6m4 0h6m-5 0h6m-2 0h6m20 0h6m63 0h6m-141 2h6m6 0h6m-2 0h6m-6 0h6m0 0h6m0 0h6m29 0h6m-67 2h6m0 0h6m8 0h6m37 0h6m-11 2h6m-3 0h6m-70 2h6m0 0h6m12 0h6m17 0h6m-52 1h6m14 0h6m26 0h6m30 0h6m-106 2h6m2 0h6m2 0h6m15 0h6m-3 0h6m1 0h6m-1 0h6m72 0h6m-5 0h6m-157 2h6m2 0h6m3 0h6m9 0h6m7 0h6m-3 0h6m31 0h6m2 0h6m-5 0h6m4 0h6m11 0h6m1 0h6m-113 2h6m5 0h6m27 0h6m0 0h6m17 0h6m27 0h6m-131 2h6m20 0h6m1 0h6m31 0h6m3 0h6m21 0h6m-111 2h6m-19 2h6m143 0h6m56 0h6m-236 1h6m6 0h6m-6 0h6m0 0h6m4 0h6m28 0h6m8 0h6m-89 2h6m3 0h6m12 0h6m8 0h6m33 0h6m-2 0h6m-2 0h6m85 0h6m2 0h6m-205 2h6m1 0h6m-6 0h6m10 0h6m5 0h6m2 0h6m16 0h6" stroke="#ef3b2c"/><path d="M619 1009h6m-25 37h6m-19 78h6m-10 19h6m-38 24h6m15 31h6m-59 2h6m8 2h6m-21 16h6m0 8h6m-32 5h6m-4 2h6m37 2h6m-34 6h6m-12 2h6m-27 1h6m27 2h6m-39 11h6m-22 2h6m73 2h6m-83 2h6m60 2h6m-62 4h6m-2 7h6m21 4h6m-45 3h6m-2 0h6m0 2h6m-41 13h6m9 6h6m36 7h6m8 4h6m21 2h6m-108 3h6m0 0h6m9 0h6m19 8h6m-66 2h6m28 0h6m-27 2h6m25 3h6m-9 2h6m-4 0h6m-19 2h6m14 2h6m-29 4h6m-2 0h6m-38 1h6m15 0h6m54 0h6m-102 4h6m20 0h6m1 0h6m17 6h6m-19 1h6m-62 4h6m-6 4h6m5 0h6m31 0h6m-52 2h6m-5 0h6m9 11h6m32 0h6m-10 4h6m-80 3h6m8 0h6m24 0h6m-8 2h6m5 0h6m-52 2h6m-8 2h6m63 0h6m-69 2h6m7 0h6m12 0h6m34 0h6m19 0h6m-74 2h6m-19 1h6m34 2h6m-2 2h6m-4 0h6m-27 2h6m19 2h6m-20 2h6m-41 2h6m0 0h6m9 0h6m-35 1h6m-5 0h6m-40 2h6m1 0h6m-1 0h6m50 0h6m6 0h6m-6 2h6m-81 2h6m0 0h6m45 0h6m0 0h6m-40 2h6m24 0h6m-59 2h6m13 0h6m28 2h6m33 0h6m-106 1h6m15 0h6m-10 2h6m7 0h6m-1 0h6m-3 0h6m18 0h6m-42 2h6m4 0h6m-4 0h6m3 0h6m0 0h6m-78 2h6m10 2h6m17 0h6m5 0h6m-4 0h6m67 0h6m2 0h6m-124 2h6m-6 0h6m16 0h6m1 0h6m-34 1h6m5 0h6m14 0h6m-20 2h6m-3 0h6m28 0h6m-76 2h6m12 0h6m5 0h6m-1 0h6m17 0h6m-27 2h6m-6 0h6m24 0h6m-3 0h6m20 0h6m-106 2h6m-2 0h6m1 0h6m25 0h6m-2 0h6m-45 2h6m31 0h6m-35 2h6m0 0h6m-2 0h6m-1 0h6m39 0h6m-82 1h6m28 0h6m-48 2h6m-1 0h6m18 0h6m-5 0h6m19 0h6m5 0h6m3 0h6m-69 2h6m10 0h6m0 0h6m-1 0h6m50 0h6m-101 2h6m20 0h6m-2 0h6m7 0h6m-2 0h6m68 0h6m-136 2h6m20 0h6m-5 0h6m-5 0h6m34 0h6m14 0h6m-67 2h6m20 0h6m32 0h6m0 0h6m65 0h6m-150 2h6m15 0h6m5 0h6m-57 1h6m14 0h6m-6 0h6m9 0h6m11 0h6m-38 2h6m-3 0h6m-5 0h6m1 0h6m2 0h6m-5 0h6m16 0h6m85 0h6m-162 2h6m20 0h6m5 0h6m-61 2h6m1 0h6m-8 2h6m9 0h6m-5 0h6m1 0h6m-1 0h6m1 0h6m0 0h6m10 0h6m23 0h6m-1 0h6m28 0h6m-116 2h6m11 0h6m-2 0h6m11 0h6m-5 0h6m-6 0h6m-1 0h6m2 0h6m-59 2h6m-5 0h6m2 0h6m-4 0h6m-4 0h6m18 0h6m-47 1h6m22 0h6m-15 2h6m-5 0h6m6 0h6m8 0h6m1 0h6m-3 0h6m80 0h6m-170 2h6m37 0h6m-3 0h6m2 0h6m-59 2h6m-3 0h6m15 0h6m-3 0h6m36 0h6m2 0h6m10 0h6m-92 2h6m13 0h6m3 0h6m-2 0h6m-5 0h6m2 0h6m7 0h6m5 0h6m5 0h6m59 0h6m-159 2h6m5 0h6m0 0h6m-1 0h6m-4 0h6m-6 0h6m26 0h6m-65 2h6m-4 0h6m11 0h6m-2 0h6m-5 0h6m-4 0h6m-1 0h6m14 0h6m56 0h6m29 0h6m-124 1h6m-4 0h6m-2 0h6m2 0h6m21 0h6m1 0h6m44 0h6m-76 2h6m-65 2h6m11 0h6m-6 0h6m0 0h6m15 0h6m14 0h6m52 0h6m-130 2h6m52 0h6m-60 2h6m-1 0h6m15 0h6m3 0h6m15 0h6m-75 2h6m15 0h6m7 0h6m5 0h6m-4 0h6m0 0h6m1 0h6m-46 1h6m-3 0h6m44 0h6m18 0h6m-108 2h6m12 0h6m0 0h6m-5 0h6m-4 0h6m4 0h6m-44 2h6m-1 0h6m4 0h6m3 0h6m-3 0h6m-50 2h6m1 0h6m-5 0h6m-6 0h6m23 0h6m-3 0h6m62 0h6m10 0h6m-122 2h6m-5 0h6m2 0h6m3 0h6m-3 0h6m14 0h6m18 0h6m-63 2h6m-2 0h6m-1 0h6m-4 0h6m17 0h6m5 0h6m-55 2h6m9 0h6m7 0h6m33 0h6m-1 0h6m15 0h6m91 0h6m-217 1h6m10 0h6m-1 0h6m5 0h6m-4 0h6m0 0h6m4 0h6m71 0h6m-134 2h6m-3 0h6m16 0h6m7 0h6m10 0h6m-49 2h6m5 0h6m3 0h6m-1 0h6m37 0h6m-76 2h6m15 0h6m7 0h6m0 0h6m33 0h6m-110 2h6m1 0h6m5 0h6m-6 0h6m0 0h6m58 0h6m-93 2h6m7 0h6m1 0h6m-2 0h6m6 0h6m35 0h6m2 0h6m0 0h6m-93 2h6m-3 0h6m-2 0h6m-23 1h6m3 0h6m-5 0h6m5 0h6m-34 2h6m41 0h6m30 0h6m-108 2h6m10 0h6" stroke="#cb181d"/><path d="M635 1013h6m-73 87h6m-30 80h6m-47 18h6m34 6h6m33 7h6m-87 9h6m6 11h6m6 0h6m6 4h6m-72 22h6m65 6h6m-78 2h6m66 2h6m-23 2h6m1 1h6m-63 4h6m35 8h6m-53 1h6m57 8h6m-72 2h6m55 3h6m-80 8h6m30 0h6m-26 5h6m0 0h6m-16 4h6m-36 2h6m19 2h6m-16 2h6m10 0h6m-41 3h6m35 2h6m-39 2h6m36 0h6m-15 7h6m-32 8h6m-15 4h6m7 1h6m-30 4h6m-3 0h6m-17 2h6m45 0h6m-30 5h6m0 0h6m-51 4h6m82 2h6m-45 2h6m-6 0h6m-63 2h6m111 0h6m-90 2h6m-5 1h6m-2 0h6m-25 2h6m-21 8h6m6 0h6m6 0h6m-5 0h6m-52 3h6m72 0h6m-31 6h6m-23 2h6m13 0h6m-6 5h6m-3 0h6m-48 2h6m35 0h6m9 0h6m-72 2h6m-1 0h6m-6 0h6m16 2h6m14 0h6m17 0h6m-83 2h6m2 0h6m23 5h6m-47 2h6m19 0h6m31 0h6m-41 2h6m50 0h6m-99 2h6m24 0h6m14 0h6m-5 0h6m3 0h6m-36 2h6m21 0h6m-54 2h6m26 0h6m-51 2h6m-1 0h6m-2 0h6m4 0h6m6 0h6m9 0h6m-1 0h6m-53 1h6m47 0h6m28 0h6m-69 2h6m12 0h6m46 0h6m-58 2h6m19 0h6m83 0h6m-128 2h6m34 0h6m-62 2h6m2 0h6m8 0h6m-59 2h6m59 0h6m8 0h6m-55 1h6m3 2h6m8 2h6m29 0h6m-65 2h6m5 0h6m-48 2h6m17 2h6m12 0h6m-48 2h6m15 0h6m-2 0h6m-10 1h6m7 0h6m-2 0h6m-62 2h6m3 0h6m3 0h6m17 0h6m6 0h6m-55 2h6m12 0h6m27 0h6m-56 2h6m10 0h6m0 0h6m11 0h6m6 0h6m63 0h6m-82 2h6m-2 0h6m-5 0h6m7 0h6m-6 0h6m-67 2h6m3 0h6m61 0h6m-84 2h6m-4 0h6m-2 0h6m-1 0h6m2 0h6m25 0h6m-45 1h6m12 0h6m-12 2h6m19 0h6m-65 2h6m6 0h6m36 0h6m15 0h6m-69 2h6m4 0h6m18 0h6m-2 0h6m12 0h6m-70 2h6m3 0h6m-6 0h6m-4 0h6m9 0h6m-5 0h6m24 0h6m-66 2h6m8 0h6m8 0h6m8 0h6m7 0h6m-6 0h6m-66 2h6m-3 0h6m9 0h6m2 0h6m12 0h6m-3 0h6m-57 1h6m14 0h6m15 0h6m27 0h6m-82 2h6m3 0h6m13 0h6m19 0h6m-62 2h6m6 0h6m3 0h6m18 0h6m-67 2h6m37 0h6m6 0h6m3 0h6m1 0h6m-6 0h6m-60 2h6m21 0h6m1 0h6m-5 0h6m-57 2h6m-1 0h6m-3 0h6m-6 0h6m-5 0h6m7 0h6m-4 0h6m-4 0h6m-4 0h6m-2 0h6m1 0h6m57 0h6m-106 2h6m-5 0h6m-3 0h6m3 0h6m-5 0h6m19 0h6m15 0h6m8 0h6m22 0h6m9 0h6m17 0h6m-130 1h6m-4 0h6m-3 0h6m0 0h6m6 0h6m-4 0h6m-51 2h6m15 0h6m0 0h6m6 0h6m-48 2h6m36 0h6m1 0h6m11 0h6m-79 2h6m0 0h6m2 0h6m-26 2h6m49 0h6m8 0h6m-56 2h6m-2 0h6m-3 0h6m-2 0h6m1 0h6m-5 0h6m8 0h6m-4 0h6m129 0h6m-183 1h6m8 0h6m-5 0h6m-6 0h6m-3 0h6m-3 0h6m-4 0h6m21 0h6m-4 0h6m-67 2h6m37 0h6m-4 0h6m8 0h6m-85 2h6m-6 0h6m12 0h6m4 0h6m-5 0h6m0 0h6m-3 0h6m11 0h6m-2 0h6m-57 2h6m15 0h6m-1 0h6m27 0h6m-72 2h6m4 0h6m1 0h6m-3 0h6m3 0h6m-6 0h6m24 0h6m15 0h6m4 0h6m4 0h6m-1 0h6m-91 2h6m-1 0h6m-2 0h6m-5 0h6m-27 2h6m-12 1h6m75 0h6m-28 2h6m142 0h6m-211 2h6m2 0h6m-24 2h6m-5 0h6m-2 0h6m-23 2h6m-2 0h6m-6 0h6m119 0h6m-145 2h6m177 0h6m-195 2h6m3 0h6m-32 1h6m-5 0h6m-1 0h6m22 0h6m19 0h6m-60 2h6m-25 2h6m-6 0h6m-5 0h6m-5 0h6m-2 0h6" stroke="#a50f15"/><path d="M608 1033h6m-33 58h6m-54 76h6m-1 5h6m-6 2h6m31 6h6m-51 42h6m-28 11h6m-14 13h6m-2 4h6m-46 11h6m43 0h6m-4 6h6m-49 3h6m49 4h6m-69 4h6m-6 0h6m-15 2h6m32 2h6m-48 1h6m-6 4h6m26 0h6m-25 6h6m6 0h6m-1 7h6m-23 2h6m2 0h6m-21 4h6m-12 3h6m-3 0h6m3 2h6m-33 2h6m35 2h6m4 0h6m-53 9h6m-11 2h6m-12 2h6m50 0h6m-56 4h6m2 1h6m-1 0h6m18 2h6m13 0h6m13 0h6m-103 2h6m24 0h6m14 8h6m-4 0h6m-54 1h6m0 0h6m18 0h6m-31 4h6m-2 0h6m44 6h6m-67 3h6m-6 4h6m-5 0h6m4 0h6m0 0h6m21 0h6m-39 2h6m21 2h6m-36 2h6m27 0h6m-54 3h6m3 0h6m11 2h6m8 0h6m-50 2h6m48 0h6m-25 2h6m-30 4h6m-37 1h6m48 0h6m5 0h6m25 0h6m-99 4h6m78 0h6m-71 2h6m2 2h6m2 0h6m-9 2h6m-12 2h6m-33 1h6m7 0h6m0 0h6m-26 2h6m45 0h6m-41 2h6m-25 2h6m-4 0h6m16 0h6m11 0h6m-46 2h6m-24 2h6m10 0h6m12 0h6m-2 2h6m12 0h6m-52 1h6m9 0h6m-5 0h6m-22 2h6m42 0h6m4 0h6m-67 2h6m-6 0h6m44 0h6m6 0h6m-77 2h6m-4 0h6m2 0h6m44 0h6m-50 2h6m-6 0h6m-2 0h6m11 0h6m34 0h6m10 0h6m-81 2h6m3 0h6m30 0h6m-64 2h6m0 1h6m8 0h6m28 0h6m29 0h6m-41 2h6m-73 2h6m46 0h6m44 0h6m-98 2h6m4 0h6m0 0h6m4 0h6m-48 2h6m-1 0h6m5 0h6m-12 2h6m-10 1h6m-5 0h6m7 0h6m38 0h6m6 0h6m-73 2h6m38 0h6m-62 2h6m11 0h6m18 0h6m39 0h6m-83 2h6m23 0h6m-32 2h6m-1 0h6m2 0h6m-6 0h6m-3 0h6m-28 2h6m17 0h6m21 0h6m-39 2h6m4 0h6m-50 1h6m0 0h6m15 0h6m6 0h6m-3 0h6m-53 2h6m-6 0h6m0 0h6m-6 0h6m-5 0h6m-3 0h6m8 0h6m4 0h6m-5 0h6m-3 0h6m-4 0h6m-6 0h6m10 0h6m29 0h6m-93 2h6m-4 0h6m9 0h6m-2 0h6m-1 0h6m39 0h6m-79 2h6m1 0h6m-6 0h6m12 0h6m-5 0h6m24 0h6m-62 2h6m-3 0h6m2 0h6m51 0h6m-1 0h6m-75 2h6m-5 0h6m-6 0h6m-1 0h6m-2 0h6m-4 0h6m13 0h6m-4 0h6m-46 2h6m6 0h6m1 0h6m8 0h6m51 0h6m-95 1h6m40 0h6m-60 2h6m13 0h6m15 0h6m0 0h6m-55 2h6m-4 0h6m26 0h6m0 0h6m21 0h6m-80 2h6m2 0h6m7 0h6m-5 0h6m-22 2h6m-4 0h6m-5 0h6m-3 0h6m23 0h6m12 0h6m-4 0h6m-64 2h6m-3 0h6m-3 0h6m-4 0h6m5 0h6m18 0h6m-51 2h6m-6 0h6m-4 0h6m-1 0h6m-4 0h6m3 0h6m-5 0h6m-2 0h6m-1 0h6m-5 0h6m-5 0h6m7 0h6m18 0h6m56 0h6m-133 1h6m27 0h6m-6 0h6m-4 0h6m1 0h6m-41 2h6m4 0h6m17 0h6m46 0h6m-106 2h6m-3 0h6m16 0h6m14 0h6m-5 0h6m31 0h6m-98 2h6m11 0h6m18 0h6m-4 0h6m-46 2h6m3 0h6m3 0h6m10 0h6m27 0h6m-69 2h6m-6 0h6m-2 0h6m22 0h6m26 0h6m-72 2h6m4 0h6m2 0h6m-5 0h6m-2 0h6m42 0h6m-66 1h6m5 0h6m11 0h6m-3 0h6m8 0h6m-50 2h6m18 0h6m-41 2h6m4 0h6m0 0h6m-1 0h6m-43 2h6m-5 0h6m-4 0h6m1 0h6m14 0h6m29 0h6m46 0h6m-132 2h6m-6 0h6m1 0h6m-3 0h6m-4 0h6m-5 0h6m10 0h6m-24 2h6m-5 0h6m-6 0h6m11 0h6m7 0h6m3 0h6m-46 1h6m-1 0h6m3 0h6m-6 0h6m7 0h6m-5 0h6m5 0h6m-36 2h6m-5 0h6m4 0h6m-54 2h6m1 0h6m-12 2h6m-5 0h6m-5 0h6m-4 0h6m-3 0h6m-4 0h6m-4 0h6m-5 0h6m-5 0h6m56 0h6m-81 2h6m-5 0h6m6 0h6m-15 2h6m1 0h6m0 0h6m169 0h6m27 0h6m-232 2h6m39 0h6m-66 1h6m-3 0h6m-4 0h6m1 0h6m-5 0h6m4 0h6m-3 0h6m-29 2h6m0 0h6m27 0h6m-2 0h6m-53 2h6m6 0h6m3 0h6m17 0h6m21 0h6m-73 2h6m4 0h6m40 0h6m-83 2h6m-5 0h6m0 0h6m5 0h6m1 0h6m-20 2h6m5 0h6m19 0h6m-53 2h6m-5 0h6m-5 0h6m6 0h6m-36 1h6m2 0h6m-3 0h6m-16 2h6m-24 2h6m-6 0h6m-6 0h6m-1 0h6m-3 0h6m146 0h6" stroke="#67000d"/><path d="M582 1495h6" stroke="#deebf7"/><path d="M390 1469h6m-21 9h6m49 18h6" stroke="#c6dbef"/><path d="M423 1419h6m-60 18h6m18 6h6m-37 18h6m80 6h6m-70 4h6m-90 18h6m35 6h6m22 0h6m35 1h6m-58 10h6m22 2h6m4 0h6m-97 9h6m44 2h6m-5 0h6m-108 2h6m22 1h6m63 0h6m-34 4h6m7 0h6" stroke="#9ecae1"/><path d="M509 1300h6m-68 37h6m-26 59h6m4 12h6m4 1h6m47 0h6m-79 2h6m-53 13h6m23 17h6m-72 5h6m3 12h6m24 1h6m-5 0h6m-2 0h6m5 0h6m10 0h6m-44 2h6m19 2h6m-67 4h6m104 0h6m-35 2h6m-74 2h6m47 0h6m-15 1h6m4 4h6m10 0h6m-60 6h6m11 0h6m-58 2h6m1 0h6m9 0h6m12 1h6m-49 2h6m94 0h6m-54 2h6m85 0h6m41 0h6m-186 2h6m42 0h6m20 0h6m43 0h6m13 0h6m-177 2h6m64 0h6m-57 2h6m-55 5h6m13 0h6m25 0h6m8 0h6m30 0h6m-81 4h6m-8 2h6m-25 2h6m12 0h6m26 0h6m13 1h6m-40 2h6m46 0h6m-50 4h6m-18 2h6m23 0h6m-11 2h6m77 0h6m-182 3h6m43 0h6m72 0h6m-106 2h6m-65 2h6m21 0h6m44 0h6" stroke="#6baed6"/><path d="M559 1222h6m26 34h6m-114 57h6m-21 26h6m2 2h6m-43 35h6m10 6h6m-41 11h6m-1 0h6m-52 2h6m17 3h6m-18 4h6m41 0h6m-30 2h6m30 2h6m-59 2h6m13 1h6m45 0h6m-15 2h6m-77 2h6m50 0h6m-43 2h6m1 2h6m-27 2h6m11 0h6m0 5h6m0 4h6m-22 2h6m-3 0h6m5 0h6m-4 0h6m-56 2h6m37 1h6m-35 6h6m-11 2h6m66 0h6m-83 4h6m5 1h6m0 0h6m-18 2h6m158 0h6m-155 2h6m-15 2h6m27 0h6m-36 2h6m-28 2h6m4 0h6m-24 2h6m3 0h6m12 0h6m42 1h6m-90 2h6m141 0h6m-189 2h6m35 0h6m2 0h6m-14 2h6m56 0h6m-62 2h6m13 0h6m0 0h6m10 0h6m11 0h6m-52 2h6m-3 0h6m11 0h6m6 0h6m-96 2h6m28 0h6m0 1h6m-5 0h6m-28 2h6m0 0h6m18 0h6m-3 2h6m-37 2h6m40 0h6m-27 2h6m7 0h6m79 2h6m17 0h6m-174 3h6m7 0h6m10 0h6m9 0h6m16 0h6m5 0h6m-84 2h6m19 0h6m29 0h6m-3 0h6m141 0h6m-186 2h6m6 0h6m-28 4h6m32 0h6m-58 2h6m39 0h6m-73 1h6m-6 0h6m-5 0h6m71 0h6m-74 2h6m-22 2h6m4 0h6m19 0h6m-35 2h6m45 0h6m119 0h6m-192 2h6m-1 0h6m13 0h6m-11 2h6m56 0h6m-94 2h6m21 0h6m21 0h6m4 0h6m3 0h6m-83 1h6m59 0h6m-73 2h6m90 0h6m-104 2h6m40 0h6m2 0h6m-56 4h6m0 0h6m-42 2h6m47 0h6m-62 2h6m10 0h6m41 0h6m-52 1h6m82 0h6m103 0h6m-216 2h6m36 2h6" stroke="#4292c6"/><path d="M551 1163h6m-23 57h6m20 28h6m-68 17h6m12 13h6m-36 7h6m-1 2h6m2 13h6m4 0h6m-40 13h6m26 0h6m-50 7h6m38 0h6m-3 8h6m-35 2h6m-67 9h6m44 9h6m33 4h6m-117 9h6m30 0h6m-14 4h6m1 0h6m5 0h6m2 0h6m1 0h6m-1 2h6m3 0h6m-38 5h6m-10 2h6m-17 2h6m23 0h6m41 2h6m-69 2h6m-29 5h6m-2 0h6m16 2h6m-32 2h6m15 6h6m13 0h6m-42 1h6m-7 2h6m33 0h6m-49 4h6m19 0h6m-32 4h6m1 0h6m113 0h6m-158 2h6m16 1h6m10 2h6m-12 2h6m-11 2h6m-47 2h6m22 0h6m15 0h6m-35 2h6m48 0h6m-7 2h6m-91 1h6m5 2h6m7 0h6m17 0h6m-14 2h6m7 0h6m79 0h6m-108 2h6m4 2h6m11 0h6m-82 2h6m62 1h6m-71 2h6m62 0h6m11 0h6m-61 2h6m30 0h6m175 0h6m-195 2h6m2 0h6m-72 2h6m52 0h6m7 0h6m20 2h6m-68 2h6m-4 0h6m-5 0h6m-37 1h6m29 0h6m6 0h6m-28 2h6m-30 2h6m78 0h6m-75 2h6m-43 4h6m5 0h6m160 2h6m-155 1h6m28 0h6m-57 2h6m36 0h6m-8 2h6m-48 2h6m41 0h6m38 0h6m-78 2h6m1 0h6m48 0h6m-100 2h6m-4 0h6m40 0h6m14 0h6m-48 2h6m-38 1h6m4 0h6m-1 0h6m12 0h6m8 0h6m-45 4h6m11 0h6m3 0h6m-60 2h6m5 0h6m84 0h6m-40 2h6m-47 2h6m9 0h6m20 0h6m13 0h6m-61 2h6m0 1h6m4 0h6m-5 0h6m-1 0h6m36 0h6m-4 0h6m-105 2h6m-1 0h6m18 0h6m-4 0h6m-6 0h6m16 2h6m12 0h6m-69 2h6m-6 0h6m-3 0h6m12 0h6m12 0h6m34 0h6m41 0h6m-136 2h6m-1 0h6m12 0h6m-54 2h6m15 0h6m8 0h6m16 0h6m58 0h6m-118 1h6m36 0h6m-42 2h6m5 0h6m0 0h6m-2 0h6m-4 0h6m-1 0h6m1 0h6m32 0h6m2 0h6m4 0h6m154 0h6m-255 2h6m13 0h6m11 0h6m125 0h6m-200 2h6m10 0h6m6 0h6m47 0h6m-94 2h6m0 0h6m38 0h6m24 0h6m-2 0h6m4 0h6m21 0h6m-113 2h6m7 0h6m5 0h6m8 0h6m78 0h6m-140 2h6m21 0h6m23 0h6m57 1h6m-144 2h6m13 0h6m15 0h6m29 0h6m-66 2h6m1 0h6m26 0h6m-2 0h6m-67 2h6m34 0h6m30 0h6m-74 2h6m-1 0h6m15 0h6m3 0h6m64 0h6m-23 2h6m-114 2h6m6 0h6m11 0h6m50 0h6m35 0h6m44 0h6m-183 1h6m-3 0h6m151 0h6m-167 2h6m3 0h6m28 0h6m86 0h6m-177 2h6m5 0h6" stroke="#2171b5"/><path d="M589 1057h6m-42 124h6m-79 37h6m16 15h6m-41 15h6m15 9h6m49 8h6m-62 2h6m-20 7h6m7 0h6m-1 2h6m-51 13h6m46 0h6m-37 13h6m47 5h6m-53 10h6m-66 22h6m56 0h6m-59 18h6m24 4h6m64 0h6m-112 2h6m24 0h6m-5 0h6m-47 7h6m-15 12h6m48 0h6m-78 3h6m25 0h6m20 0h6m-18 2h6m-21 4h6m20 0h6m-5 0h6m32 2h6m-64 2h6m35 3h6m-14 2h6m-53 2h6m69 0h6m-25 2h6m-54 4h6m0 0h6m9 0h6m16 0h6m-84 1h6m36 4h6m-40 2h6m18 4h6m1 0h6m-2 0h6m-40 2h6m6 0h6m-38 1h6m36 0h6m-6 2h6m-31 4h6m64 0h6m-5 0h6m131 0h6m-212 2h6m12 0h6m-56 5h6m12 0h6m35 0h6m-47 2h6m13 0h6m-25 2h6m21 0h6m-54 2h6m28 0h6m-41 2h6m23 0h6m-2 0h6m24 0h6m-44 3h6m2 0h6m24 0h6m-67 2h6m10 0h6m15 2h6m14 0h6m64 0h6m-142 2h6m4 0h6m7 0h6m4 0h6m-37 2h6m1 0h6m15 0h6m-40 4h6m9 0h6m11 0h6m-23 1h6m-1 0h6m25 0h6m-30 2h6m38 0h6m-56 2h6m12 0h6m15 0h6m-45 2h6m-6 0h6m25 0h6m-52 2h6m-1 0h6m5 0h6m-34 2h6m-5 0h6m12 0h6m4 0h6m4 0h6m-1 0h6m-68 2h6m11 0h6m13 0h6m10 0h6m-28 1h6m0 0h6m35 0h6m-63 2h6m1 0h6m-2 0h6m-3 0h6m-5 0h6m-4 0h6m-4 0h6m10 0h6m1 0h6m125 0h6m-190 2h6m10 0h6m-5 0h6m112 0h6m-166 2h6m21 0h6m10 0h6m14 0h6m-41 2h6m-4 0h6m3 0h6m1 0h6m6 0h6m2 0h6m-56 2h6m-2 0h6m-3 0h6m-3 0h6m19 0h6m30 0h6m15 0h6m-43 2h6m-64 1h6m-3 0h6m-9 2h6m38 0h6m-4 0h6m-3 0h6m-46 2h6m-4 0h6m6 0h6m-2 0h6m9 0h6m19 0h6m-78 2h6m37 0h6m15 0h6m44 0h6m-1 0h6m20 0h6m-168 2h6m-4 0h6m4 0h6m10 0h6m-1 0h6m45 0h6m6 0h6m35 0h6m-150 2h6m13 0h6m35 0h6m9 0h6m15 0h6m22 0h6m62 0h6m-179 1h6m3 0h6m-5 0h6m0 0h6m-4 0h6m0 0h6m-6 0h6m4 0h6m-3 0h6m-1 0h6m-41 2h6m-2 0h6m23 0h6m-75 2h6m21 0h6m32 0h6m9 0h6m3 0h6m95 0h6m-194 2h6m78 0h6m-90 2h6m-3 0h6m-2 0h6m11 0h6m-1 0h6m20 0h6m8 0h6m-1 0h6m-69 2h6m-1 0h6m-14 2h6m16 0h6m77 0h6m-122 1h6m1 0h6m-2 0h6m-37 2h6m35 0h6m1 0h6m-1 0h6m83 0h6m-122 2h6m-1 0h6m3 0h6m37 0h6m-5 0h6m-10 2h6m-106 2h6m-3 0h6m24 0h6m-5 0h6m-6 0h6m35 0h6m12 2h6m13 0h6m-104 2h6m5 0h6m-38 1h6m25 0h6m4 0h6m18 0h6m-74 2h6m-26 2h6m-3 0h6m-4 0h6" stroke="#08519c"/><path d="M616 1031h6m-24 36h6m-22 29h6m-57 48h6m-20 6h6m28 17h6m-25 13h6m-21 11h6m70 20h6m-99 6h6m-22 1h6m42 2h6m-47 2h6m2 13h6m43 4h6m-31 2h6m18 3h6m-81 8h6m11 0h6m-6 2h6m2 0h6m-17 5h6m-28 2h6m52 0h6m-46 2h6m-1 4h6m67 0h6m-91 2h6m-18 1h6m18 6h6m3 6h6m-33 3h6m-2 0h6m-9 8h6m-12 5h6m10 6h6m-1 0h6m2 2h6m-55 5h6m15 0h6m-24 2h6m-14 2h6m5 0h6m13 0h6m-19 2h6m-4 0h6m30 0h6m-37 2h6m-3 0h6m-7 3h6m-4 0h6m-32 2h6m20 2h6m2 0h6m-35 4h6m-3 0h6m36 0h6m-68 2h6m51 1h6m-61 4h6m16 0h6m6 2h6m-20 2h6m-28 4h6m36 1h6m-47 4h6m61 0h6m-66 4h6m-8 3h6m8 0h6m-34 2h6m-8 2h6m18 0h6m-31 2h6m-23 2h6m40 0h6m26 0h6m-77 2h6m26 2h6m-33 1h6m37 0h6m-61 2h6m-4 0h6m-5 4h6m-5 0h6m16 0h6m-25 2h6m6 0h6m23 0h6m-16 2h6m-38 3h6m6 0h6m5 0h6m-47 2h6m3 0h6m53 0h6m-78 2h6m53 0h6m-3 0h6m-74 2h6m29 0h6m-3 0h6m-19 2h6m-22 2h6m-3 0h6m11 0h6m8 0h6m20 0h6m-5 0h6m-60 2h6m24 0h6m-41 1h6m-3 0h6m33 0h6m-6 0h6m6 0h6m-3 0h6m-29 2h6m-4 0h6m-33 2h6m18 0h6m8 0h6m0 0h6m-60 2h6m1 0h6m-10 2h6m-5 0h6m14 0h6m19 0h6m-58 2h6m8 0h6m2 0h6m10 0h6m2 0h6m-62 2h6m43 0h6m3 0h6m0 0h6m25 0h6m-102 3h6m12 0h6m21 0h6m19 0h6m6 0h6m-3 0h6m-94 2h6m-5 0h6m11 0h6m10 0h6m22 0h6m-40 2h6m-5 0h6m1 0h6m7 0h6m-3 0h6m-63 2h6m-5 0h6m5 0h6m-3 0h6m-1 0h6m-3 0h6m2 0h6m1 0h6m8 0h6m0 0h6m-48 2h6m0 0h6m4 0h6m-1 0h6m10 0h6m-63 2h6m14 0h6m14 0h6m9 0h6m-1 0h6m-67 1h6m11 0h6m23 0h6m35 0h6m-91 2h6m3 0h6m28 0h6m13 0h6m-65 2h6m36 0h6m-5 0h6m10 0h6m87 0h6m-179 2h6m0 0h6m1 0h6m6 0h6m12 0h6m46 0h6m12 0h6m-84 2h6m-5 0h6m9 0h6m44 0h6m-78 2h6m23 0h6m-2 0h6m9 0h6m2 0h6m-72 1h6m54 0h6m-73 2h6m9 0h6m7 0h6m5 0h6m-3 0h6m3 0h6m10 0h6m3 0h6m-5 0h6m-84 2h6m16 0h6m-5 0h6m-3 0h6m8 0h6m11 0h6m31 0h6m-109 2h6m12 0h6m-5 0h6m9 0h6m18 0h6m5 0h6m-75 2h6m0 0h6m25 0h6m-36 2h6m-1 0h6m-4 0h6m35 0h6m-67 2h6m9 0h6m-5 0h6m10 0h6m8 0h6m11 0h6m-83 1h6m0 0h6m5 0h6m12 0h6m-2 0h6m0 0h6m13 0h6m21 0h6m-88 2h6m-5 0h6m-5 0h6m61 0h6m-2 0h6m2 0h6m-90 2h6m-2 0h6m48 0h6m14 0h6m1 0h6m-89 2h6m4 0h6m-3 0h6m11 0h6m0 0h6m-4 0h6m79 0h6m-134 2h6m-4 0h6m-3 0h6m13 0h6m12 0h6m9 0h6m-5 0h6m13 0h6m20 0h6m-108 2h6m-4 0h6m11 0h6m0 0h6m11 0h6m12 0h6m0 0h6m5 0h6m-2 0h6m0 0h6m16 0h6m-109 2h6m19 0h6m7 0h6m1 0h6m30 0h6m-71 1h6m-3 0h6m3 0h6m-57 2h6m3 0h6m20 0h6m-5 0h6m0 0h6m7 0h6m14 0h6m-83 2h6m0 0h6m-6 0h6m-4 0h6m0 0h6m-3 0h6m15 0h6m-1 0h6m4 0h6m-5 0h6m-54 2h6m-1 0h6m10 0h6m11 0h6m19 0h6m14 0h6m-88 2h6m-5 0h6m-3 0h6m10 0h6m8 0h6m3 0h6m6 0h6m24 0h6m41 0h6m-145 2h6m-5 0h6m2 0h6m-2 0h6m-3 0h6m-5 0h6m-2 0h6m-3 0h6m60 0h6m-97 2h6m-4 0h6m-3 0h6m-3 0h6m7 0h6m1 0h6m24 0h6m-22 1h6m3 0h6m-4 0h6m63 0h6m-116 2h6m5 0h6m-4 0h6m13 0h6m-3 0h6m-5 0h6m-64 2h6m0 0h6m-2 0h6m16 0h6m8 0h6m-5 0h6m2 0h6m-63 2h6m-5 0h6m0 0h6m10 0h6m1 0h6m4 0h6m13 0h6m2 0h6m-78 2h6m1 0h6m-6 0h6m-2 0h6m0 0h6m-5 0h6m-6 0h6m-5 0h6m2 0h6m-2 0h6m18 0h6m-58 2h6m2 0h6m2 0h6m2 0h6m-3 0h6m5 0h6m-4 0h6m-3 0h6m6 0h6m-5 0h6m-63 2h6m-6 0h6m-4 0h6m-6 0h6m-1 0h6m-3 0h6m0 0h6m14 0h6m-6 0h6m-1 0h6m-43 1h6m0 0h6m6 0h6m-6 0h6m-5 0h6m9 0h6m1 0h6m-5 0h6m1 0h6m-4 0h6m11 0h6m-73 2h6m0 0h6m1 0h6m3 0h6m-4 0h6m-3 0h6m7 0h6m-5 0h6m1 0h6m0 0h6m-3 0h6m28 0h6m192 0h6m-309 2h6m10 0h6m9 0h6m-5 0h6m-3 0h6m1 0h6m1 0h6m-64 2h6m-6 0h6m3 0h6m-4 0h6m0 0h6m3 0h6m11 0h6m56 0h6m-105 2h6m-3 0h6m-5 0h6m6 0h6m5 0h6m4 0h6m-3 0h6m-48 2h6m-1 0h6m-2 0h6m-3 0h6m1 0h6m-1 0h6m0 0h6m4 0h6m-3 0h6m4 0h6m26 0h6m50 0h6m-142 1h6m-6 0h6m-2 0h6m0 0h6m-5 0h6m9 0h6m0 0h6m-46 2h6m-5 0h6m19 0h6m-6 0h6m8 0h6m-6 0h6m14 0h6m91 0h6m-148 2h6m19 0h6m-5 0h6m12 0h6m-83 2h6m-3 0h6m2 0h6m0 0h6m0 0h6m-3 0h6m-6 0h6m-31 2h6m-1 0h6m-6 0h6m-4 0h6m-2 0h6m8 0h6m-12 2h6m5 0h6m-2 0h6m6 0h6m28 0h6m-76 2h6m7 0h6m-2 0h6m-3 0h6m4 0h6m-56 1h6m-1 0h6m5 0h6m11 0h6m12 0h6m16 0h6m-83 2h6m-6 0h6m-3 0h6m-4 0h6m-5 0h6m-6 0h6m-1 0h6m-3 0h6m5 0h6m7 0h6m65 0h6m-118 2h6m5 0h6m-1 0h6m4 0h6m-2 0h6m40 0h6m-80 2h6m-1 0h6m94 0h6m-120 2h6m2 0h6m-4 0h6m9 0h6m-41 2h6m-3 0h6m-3 0h6m0 0h6m-1 0h6m12 0h6m-40 2h6m-4 0h6m-5 0h6m1 0h6m1 0h6m-1 0h6m-6 0h6m-5 0h6m0 0h6m-49 1h6m-4 0h6m-5 0h6m-6 0h6m29 0h6m-48 2h6m-6 0h6m44 0h6m-73 2h6m-5 0h6m-5 0h6m-5 0h6m-2 0h6m-6 0h6m-6 0h6m-4 0h6m-4 0h6m-3 0h6" stroke="#08306b"/><path d="M609 1398h6m-247 65h6m-57 52h6" stroke="#fff5f0"/><path d="M420 1404h6m-17 46h6m-24 8h6m-43 13h6m98 1h6m-90 15h6m-7 6h6m-24 5h6m-42 2h6m48 4h6m-95 4h6m62 14h6" stroke="#fee0d2"/><path d="M603 1068h6m-113 217h6m-55 78h6m94 39h6m-121 2h6m87 9h6m-71 4h6m-95 26h6m92 5h6m-49 4h6m-58 4h6m-24 7h6m54 4h6m-68 7h6m-27 2h6m78 0h6m-60 2h6m-43 6h6m114 3h6m36 4h6m-102 2h6m-89 2h6m39 0h6m-58 1h6m101 2h6m-99 2h6m-4 4h6m105 2h6m-80 2h6m25 1h6m-124 2h6m74 0h6m-69 2h6m26 0h6m28 0h6m17 0h6m-41 2h6m-10 4h6m8 0h6m-75 2h6m56 0h6m-96 1h6m-2 2h6m24 0h6m34 0h6m-111 2h6" stroke="#fcbba1"/><path d="M476 1357h6m-14 17h6m-32 11h6m-17 13h6m64 0h6m37 2h6m-143 19h6m13 0h6m61 9h6m-119 4h6m1 3h6m15 0h6m-11 4h6m18 0h6m-48 7h6m0 0h6m9 0h6m23 4h6m-49 4h6m-1 0h6m52 0h6m-95 5h6m-10 2h6m-4 0h6m50 0h6m-70 2h6m58 2h6m6 0h6m-62 2h6m22 0h6m-5 2h6m-77 2h6m22 0h6m41 0h6m-23 1h6m7 2h6m-61 2h6m-1 0h6m149 2h6m-62 2h6m-151 4h6m32 0h6m5 0h6m-21 5h6m84 0h6m-29 2h6m-119 2h6m105 0h6m-100 2h6m-6 0h6m15 0h6m32 0h6m-53 1h6m-1 0h6m0 0h6m32 0h6m-83 2h6m-7 2h6m-10 2h6m109 0h6m-42 2h6m-40 2h6m-2 0h6m31 0h6m-83 2h6m22 0h6m-5 0h6m22 1h6m4 0h6m14 0h6m-60 2h6m49 0h6m-3 0h6m-76 2h6m-15 4h6m83 0h6m-158 2h6m0 0h6m29 0h6m27 0h6m10 0h6m32 0h6m-123 2h6m17 0h6m10 0h6m18 1h6m-6 0h6m0 0h6m81 0h6m-207 2h6m35 0h6m20 0h6m51 0h6m-138 2h6m0 0h6m66 0h6m43 0h6" stroke="#fc9272"/><path d="M574 1065h6m-114 237h6m105 26h6m-34 4h6m-64 13h6m-58 1h6m13 0h6m38 13h6m-93 6h6m16 0h6m-12 2h6m4 5h6m-15 2h6m16 4h6m-43 4h6m19 5h6m-6 6h6m-15 2h6m7 3h6m-69 2h6m86 0h6m-63 2h6m8 0h6m8 2h6m-47 7h6m25 4h6m-30 2h6m-6 0h6m24 0h6m-62 4h6m32 0h6m-47 1h6m33 0h6m-23 4h6m-49 2h6m0 2h6m13 0h6m-3 2h6m8 3h6m-41 2h6m83 0h6m-92 2h6m5 0h6m4 0h6m18 0h6m-3 0h6m58 0h6m-101 2h6m-3 0h6m4 0h6m-24 2h6m12 0h6m34 0h6m35 0h6m-147 3h6m-1 0h6m47 0h6m-4 0h6m35 0h6m-114 4h6m23 0h6m2 0h6m18 0h6m-2 0h6m30 0h6m-88 2h6m15 0h6m7 0h6m45 0h6m30 0h6m-118 2h6m3 0h6m2 0h6m0 0h6m59 4h6m22 0h6m-140 1h6m15 0h6m34 0h6m17 0h6m8 0h6m-103 2h6m-3 0h6m14 0h6m-4 0h6m16 0h6m98 0h6m-99 2h6m24 0h6m-70 2h6m28 0h6m50 2h6m-121 2h6m33 0h6m8 0h6m-48 2h6m10 0h6m46 0h6m-6 0h6m-99 1h6m36 0h6m-48 2h6m4 0h6m3 0h6m0 2h6m15 0h6m77 0h6m-90 2h6m61 0h6m-127 2h6m2 0h6m24 0h6m1 0h6m108 0h6m-163 2h6m-1 0h6m16 0h6m1 0h6m-5 0h6m25 0h6m22 0h6m-128 2h6m69 0h6m16 0h6m4 0h6m0 0h6m-110 1h6m19 0h6m-1 0h6m14 2h6m13 0h6m5 0h6m8 0h6m-84 2h6m6 0h6m0 0h6m4 0h6m-1 0h6m-4 0h6m6 0h6m16 0h6m28 0h6m-141 2h6m29 0h6m36 0h6m26 0h6m14 0h6m-137 2h6m19 0h6m-2 0h6m7 0h6m15 0h6m33 0h6m-5 0h6m-82 2h6m-5 0h6m1 0h6m19 0h6m69 0h6m-95 1h6m47 0h6m-88 2h6m-6 0h6m4 0h6m2 0h6m27 0h6m60 0h6m-129 4h6m27 0h6m-37 2h6m3 0h6m11 0h6m-2 0h6m10 0h6m-36 2h6m57 0h6m57 0h6m-74 2h6m-59 1h6m-5 0h6m-5 0h6m5 0h6m-1 0h6m-52 2h6m0 0h6m2 0h6m21 0h6m13 0h6m-95 2h6m13 0h6m16 0h6m10 0h6m-73 2h6m26 0h6m75 0h6m17 0h6m-163 2h6m26 0h6m8 0h6m5 0h6m-3 0h6m65 0h6m-122 2h6m4 0h6m5 0h6m11 0h6m20 0h6m17 0h6m45 0h6m-143 2h6m2 0h6m27 0h6m0 0h6m23 0h6m54 0h6m-1 0h6m-164 1h6m3 0h6m-1 0h6m41 0h6m54 0h6m15 0h6m13 0h6m-176 2h6m17 0h6m65 0h6m61 0h6m-185 2h6m3 0h6m20 0h6m14 0h6m-4 0h6m-1 0h6m53 0h6m-2 0h6" stroke="#fb6a4a"/><path d="M594 1000h6m-14 146h6m18 34h6m-115 35h6m32 0h6m-42 29h6m22 4h6m-64 2h6m44 4h6m1 13h6m-68 7h6m22 2h6m19 2h6m-4 9h6m-40 6h6m31 11h6m-67 11h6m6 7h6m-32 17h6m63 6h6m-67 1h6m-18 13h6m-2 2h6m19 0h6m14 0h6m-32 2h6m65 0h6m-98 2h6m-24 2h6m-22 3h6m2 0h6m42 0h6m-42 6h6m19 0h6m17 0h6m-19 4h6m30 0h6m-111 3h6m45 0h6m-22 2h6m6 0h6m10 2h6m40 2h6m-27 4h6m-87 2h6m4 3h6m-6 0h6m127 0h6m-99 2h6m-49 2h6m3 2h6m-47 2h6m7 0h6m-4 2h6m-1 1h6m-39 6h6m66 0h6m-63 2h6m23 0h6m-44 2h6m44 0h6m-41 2h6m7 0h6m-2 0h6m6 0h6m-41 1h6m14 0h6m9 0h6m-2 0h6m-1 0h6m-18 2h6m-14 2h6m6 0h6m-38 2h6m2 0h6m-8 2h6m-41 2h6m23 0h6m-45 1h6m34 0h6m0 0h6m21 0h6m-54 2h6m5 0h6m-1 0h6m3 0h6m12 0h6m-37 2h6m15 0h6m-4 0h6m11 0h6m10 0h6m-75 2h6m22 0h6m-35 2h6m5 0h6m-3 0h6m-5 0h6m39 2h6m-84 2h6m4 0h6m12 0h6m-4 0h6m-31 1h6m-3 0h6m23 0h6m-8 2h6m-41 2h6m18 0h6m13 0h6m-3 0h6m-34 2h6m-5 0h6m2 0h6m-5 0h6m-51 2h6m14 0h6m3 0h6m-2 0h6m16 0h6m38 0h6m13 0h6m-112 2h6m15 0h6m47 0h6m27 0h6m-122 2h6m1 0h6m-3 0h6m8 0h6m10 0h6m54 0h6m-107 1h6m21 0h6m-2 0h6m47 0h6m-76 2h6m-2 0h6m-5 0h6m14 0h6m4 0h6m-4 0h6m-54 2h6m1 0h6m32 0h6m-2 0h6m93 0h6m-172 2h6m39 0h6m1 0h6m15 0h6m25 0h6m-115 2h6m4 0h6m9 0h6m23 0h6m20 0h6m1 0h6m-78 2h6m15 0h6m8 0h6m17 0h6m18 0h6m-75 2h6m27 0h6m6 0h6m53 0h6m-122 1h6m17 0h6m21 0h6m32 0h6m-101 2h6m4 0h6m10 0h6m-5 0h6m14 0h6m-45 2h6m2 0h6m-5 0h6m-3 0h6m-5 0h6m10 0h6m-50 4h6m8 0h6m43 0h6m11 0h6m-10 2h6m1 0h6m-115 2h6m13 0h6m0 0h6m23 0h6m-1 0h6m143 0h6m-191 1h6m-22 2h6m27 0h6m-6 0h6m0 0h6m6 0h6m10 0h6m10 0h6m47 0h6m-122 2h6m67 0h6m-89 4h6m-3 0h6m-5 0h6m0 0h6m-3 0h6m69 0h6m-107 2h6m-6 1h6m0 0h6m-4 0h6m12 0h6m53 0h6m26 0h6m-133 2h6m0 0h6m-1 0h6m3 0h6m-1 0h6m11 0h6m18 0h6m-5 0h6m27 0h6m-112 2h6m-6 0h6m25 0h6m2 0h6m-5 0h6m6 0h6m83 0h6m-158 2h6m-3 0h6m104 0h6m-121 2h6m24 0h6m2 0h6m7 0h6m42 0h6m11 0h6m-108 2h6m4 0h6m7 0h6m7 0h6m-4 0h6m6 0h6m-56 2h6m24 0h6m43 0h6m14 0h6m-125 1h6m5 0h6m10 0h6m-2 0h6m31 0h6m25 0h6m63 0h6m-166 2h6m-5 0h6m3 0h6m19 0h6m4 0h6m8 0h6m70 0h6m-138 2h6m36 0h6m24 0h6m-108 2h6m27 0h6m-3 0h6m24 0h6m-72 2h6m21 0h6m-5 0h6m-43 4h6m0 0h6m-2 0h6m-1 0h6m5 0h6m5 0h6m7 0h6m27 0h6m-5 0h6m28 0h6m-3 0h6m40 0h6m7 0h6m-192 1h6m-5 0h6m69 0h6m-95 2h6m-4 0h6m-5 0h6m6 0h6m4 0h6m23 0h6m51 0h6m19 0h6m16 0h6m-181 2h6m-4 0h6m-4 0h6m-5 0h6m-5 0h6m-5 0h6m2 0h6m-6 0h6m25 0h6m27 0h6" stroke="#ef3b2c"/><path d="M665 1057h6m-146 121h6m0 9h6m-1 7h6m-39 24h6m4 10h6m14 5h6m15 10h6m-81 5h6m50 2h6m-7 7h6m-63 13h6m8 0h6m-9 4h6m11 2h6m14 15h6m-9 2h6m-80 5h6m-13 8h6m18 0h6m11 0h6m-55 5h6m37 2h6m109 0h6m-130 2h6m7 0h6m-45 2h6m94 0h6m-42 2h6m26 0h6m-76 3h6m19 2h6m-64 6h6m32 0h6m-5 0h6m-59 3h6m38 0h6m-50 2h6m42 13h6m-36 4h6m-19 4h6m34 1h6m1 0h6m-29 6h6m12 2h6m-74 2h6m43 5h6m38 0h6m2 8h6m-1 0h6m-89 2h6m-18 1h6m17 2h6m-50 2h6m79 0h6m-27 2h6m-20 2h6m-15 4h6m-34 3h6m-2 4h6m10 0h6m-2 0h6m-46 2h6m1 0h6m-2 2h6m53 0h6m-26 2h6m-51 1h6m3 0h6m8 0h6m15 0h6m-74 2h6m8 0h6m0 0h6m0 0h6m4 0h6m17 0h6m17 0h6m-36 2h6m0 0h6m7 0h6m-74 2h6m26 0h6m42 0h6m-51 2h6m13 0h6m-32 2h6m8 0h6m5 0h6m-36 2h6m-4 0h6m15 0h6m-5 0h6m-50 1h6m28 0h6m-33 2h6m31 0h6m90 0h6m-167 2h6m-2 0h6m29 0h6m-49 2h6m2 0h6m29 0h6m-34 2h6m-16 2h6m-1 0h6m-6 0h6m41 0h6m-3 0h6m11 0h6m9 0h6m-94 1h6m16 0h6m11 0h6m7 0h6m-1 0h6m8 0h6m20 0h6m-104 2h6m11 0h6m11 0h6m18 0h6m8 0h6m-39 2h6m-5 0h6m-46 2h6m17 0h6m22 0h6m-19 2h6m24 0h6m-73 2h6m5 0h6m-4 0h6m-3 0h6m-3 0h6m20 0h6m-68 2h6m34 0h6m22 0h6m10 0h6m-46 1h6m14 0h6m-3 0h6m-5 0h6m0 0h6m26 0h6m-96 2h6m35 0h6m1 0h6m18 0h6m17 0h6m-109 2h6m19 0h6m19 0h6m7 0h6m-5 0h6m-39 2h6m6 0h6m32 0h6m-78 2h6m7 0h6m-6 0h6m6 0h6m-4 0h6m8 0h6m36 0h6m-108 2h6m17 0h6m19 0h6m13 0h6m-34 2h6m4 0h6m-23 1h6m3 0h6m-4 0h6m38 0h6m32 0h6m-142 2h6m19 0h6m-2 0h6m-4 0h6m4 0h6m6 0h6m-33 2h6m2 0h6m-4 0h6m-1 0h6m15 0h6m11 0h6m33 0h6m-108 2h6m25 0h6m6 0h6m-75 2h6m44 0h6m1 0h6m-58 2h6m46 0h6m8 0h6m-1 0h6m2 0h6m-90 2h6m0 0h6m-5 0h6m4 0h6m6 0h6m0 0h6m6 0h6m10 0h6m2 0h6m-4 0h6m38 0h6m102 0h6m-210 1h6m14 0h6m16 0h6m14 0h6m-25 2h6m72 0h6m-125 2h6m-4 0h6m0 0h6m25 0h6m4 0h6m2 0h6m-77 2h6m-5 0h6m6 0h6m-3 0h6m-5 0h6m13 0h6m4 0h6m-72 2h6m7 0h6m-3 0h6m14 0h6m7 0h6m-2 0h6m69 0h6m-135 2h6m-3 0h6m5 0h6m2 0h6m-5 0h6m4 0h6m15 0h6m10 0h6m-79 2h6m-6 0h6m-3 0h6m12 0h6m2 0h6m0 0h6m-2 0h6m-17 1h6m-5 0h6m5 0h6m-3 0h6m-4 0h6m4 0h6m10 0h6m-61 2h6m13 0h6m-2 0h6m-3 0h6m15 0h6m14 0h6m57 0h6m-170 2h6m-4 0h6m6 0h6m23 0h6m8 0h6m3 0h6m-5 0h6m-1 0h6m12 0h6m-96 2h6m5 0h6m8 0h6m4 0h6m-4 0h6m-4 0h6m-6 0h6m-1 0h6m-3 0h6m4 0h6m-35 2h6m27 0h6m-6 0h6m4 0h6m10 0h6m-90 2h6m1 0h6m-3 0h6m8 0h6m7 0h6m-5 0h6m-5 0h6m-29 1h6m1 0h6m7 0h6m-6 0h6m16 0h6m18 0h6m82 0h6m-160 2h6m-35 2h6m4 0h6m20 0h6m15 0h6m-58 2h6m24 0h6m-4 0h6m-50 2h6m3 0h6m-4 0h6m-4 0h6m-2 0h6m1 0h6m-2 0h6m-5 0h6m-4 0h6m6 0h6m-4 0h6m-4 0h6m-29 2h6m1 0h6m-2 0h6m5 0h6m6 0h6m5 0h6m0 0h6m2 0h6m-70 2h6m-1 0h6m23 0h6m-5 0h6m18 0h6m25 0h6m-107 1h6m3 0h6m0 0h6m13 0h6m41 0h6m-112 2h6m4 0h6m1 0h6m33 0h6m0 0h6m-63 2h6m9 0h6m2 0h6m-5 0h6m-5 0h6m17 0h6m32 0h6m-6 0h6m-96 2h6m-3 0h6m10 0h6m-5 0h6m18 0h6m37 0h6m-104 2h6m-4 0h6m7 0h6m2 0h6m20 0h6m44 0h6m-4 0h6m-3 0h6m-112 2h6m12 0h6m14 0h6m10 0h6m31 0h6m-101 2h6m4 0h6m-2 0h6m5 0h6m33 0h6m-76 1h6m10 0h6m-5 0h6m7 0h6m-38 2h6m-5 0h6m-3 0h6m39 0h6m45 0h6m-129 2h6m-3 0h6m-1 0h6m-2 0h6m2 0h6m75 0h6" stroke="#cb181d"/><path d="M568 1091h6m-13 90h6m-28 10h6m-6 15h6m-15 7h6m-12 15h6m-26 2h6m20 16h6m-12 15h6m-23 2h6m-9 2h6m-45 5h6m47 8h6m-47 4h6m-35 14h6m10 8h6m20 0h6m74 2h6m-140 1h6m-4 0h6m20 6h6m3 2h6m-13 2h6m-39 2h6m24 1h6m54 0h6m-57 2h6m8 2h6m-20 2h6m-15 2h6m13 2h6m18 2h6m-69 1h6m-33 4h6m47 4h6m14 4h6m-33 3h6m12 0h6m-40 8h6m-37 3h6m50 0h6m30 0h6m-97 2h6m4 0h6m65 0h6m-102 2h6m16 2h6m18 4h6m-7 1h6m-3 0h6m21 0h6m-58 2h6m-24 6h6m14 0h6m14 0h6m-5 0h6m-33 2h6m-8 2h6m11 0h6m-41 1h6m25 2h6m14 0h6m-3 0h6m-79 4h6m5 0h6m45 0h6m-31 2h6m46 2h6m-97 2h6m33 0h6m18 0h6m-2 0h6m-46 1h6m5 0h6m-26 2h6m33 0h6m-51 6h6m33 0h6m-2 2h6m-43 2h6m-31 3h6m45 0h6m9 0h6m-77 2h6m18 0h6m38 0h6m-71 2h6m29 0h6m-47 2h6m13 0h6m-1 0h6m36 0h6m-48 2h6m14 0h6m11 0h6m-58 2h6m22 0h6m33 0h6m-75 1h6m3 0h6m1 0h6m37 0h6m-69 2h6m19 0h6m-1 0h6m18 0h6m-81 2h6m-5 0h6m53 0h6m5 0h6m0 0h6m-31 2h6m-25 2h6m2 0h6m-5 0h6m35 0h6m-77 2h6m24 0h6m14 0h6m-44 3h6m82 0h6m-114 2h6m2 0h6m0 0h6m11 0h6m-5 0h6m67 0h6m-108 2h6m-4 0h6m19 0h6m56 0h6m-90 2h6m26 0h6m-5 0h6m-39 2h6m11 0h6m1 0h6m28 0h6m-46 2h6m9 0h6m-25 1h6m-5 0h6m-2 0h6m2 0h6m12 0h6m-68 2h6m-1 0h6m-1 0h6m17 0h6m52 0h6m-90 2h6m1 0h6m-6 0h6m14 0h6m6 0h6m-53 2h6m62 0h6m-69 2h6m-4 0h6m22 0h6m-1 0h6m2 0h6m-52 2h6m42 0h6m14 0h6m-77 2h6m5 0h6m10 0h6m-4 0h6m10 0h6m0 0h6m-40 1h6m3 0h6m-1 0h6m16 0h6m1 0h6m37 0h6m-99 2h6m0 0h6m-5 0h6m10 2h6m1 0h6m-61 2h6m-1 0h6m63 0h6m0 0h6m28 0h6m-131 2h6m1 0h6m4 0h6m18 0h6m-5 0h6m-41 2h6m1 0h6m1 0h6m-5 0h6m-16 2h6m2 0h6m6 0h6m6 0h6m18 0h6m-32 1h6m-4 0h6m-1 0h6m18 0h6m50 0h6m-113 2h6m1 0h6m10 0h6m38 0h6m8 0h6m-123 2h6m27 0h6m-3 0h6m16 0h6m8 0h6m-81 2h6m1 0h6m1 0h6m-3 0h6m-5 0h6m18 0h6m-3 0h6m-50 2h6m1 0h6m-4 0h6m12 0h6m0 0h6m2 0h6m25 0h6m13 0h6m7 0h6m-108 2h6m-3 0h6m10 0h6m-1 0h6m-1 0h6m12 0h6m-3 0h6m-4 0h6m-2 0h6m-31 2h6m6 0h6m14 0h6m-3 0h6m-46 1h6m7 0h6m-1 0h6m6 0h6m-25 2h6m1 0h6m5 0h6m-80 2h6m-3 0h6m13 0h6m8 0h6m10 0h6m-6 0h6m16 0h6m-70 2h6m20 0h6m1 0h6m2 0h6m64 0h6m-99 2h6m-2 0h6m24 0h6m3 0h6m-78 2h6m15 0h6m17 0h6m9 0h6m-27 1h6m2 0h6m23 0h6m-76 2h6m5 0h6m8 0h6m19 0h6m-3 0h6m-5 0h6m19 0h6m-88 2h6m-5 0h6m-2 0h6m21 0h6m-1 0h6m-60 2h6m1 0h6m-4 0h6m-5 0h6m83 0h6m-97 2h6m-4 0h6m-6 0h6m28 0h6m-35 2h6m51 0h6m40 0h6m-2 0h6m-125 2h6m6 0h6m1 0h6m32 0h6m-76 1h6m26 0h6m-5 0h6m-4 0h6m-43 2h6m-3 0h6m-2 0h6m8 0h6m4 0h6m0 0h6m95 0h6m-150 2h6m13 0h6m18 0h6m5 0h6m-53 2h6m10 0h6m18 0h6m-59 2h6m5 0h6m-1 0h6m-4 0h6m4 0h6m45 0h6m-6 0h6m45 0h6m-116 2h6m9 0h6m41 0h6m-99 2h6m20 0h6m-5 0h6m-49 1h6m123 0h6m-127 2h6m11 0h6m5 0h6m58 0h6m-124 2h6m1 0h6m-5 0h6m-4 0h6" stroke="#a50f15"/><path d="M577 1050h6m2 9h6m-11 4h6m-12 63h6m-7 50h6m-19 22h6m-49 24h6m54 0h6m-66 13h6m-5 4h6m-43 4h6m12 0h6m34 5h6m-58 2h6m-5 7h6m-7 8h6m11 4h6m-42 7h6m27 0h6m-16 2h6m-26 5h6m-6 0h6m-7 11h6m-8 6h6m-18 2h6m44 0h6m-45 2h6m10 0h6m-23 2h6m-35 1h6m-11 2h6m10 0h6m14 0h6m-22 2h6m30 2h6m-28 2h6m-40 4h6m55 0h6m18 0h6m-85 3h6m6 2h6m16 4h6m-2 0h6m-18 2h6m-2 3h6m-57 2h6m0 0h6m-14 4h6m-2 0h6m29 0h6m-48 6h6m-5 0h6m39 3h6m-21 6h6m3 0h6m-1 3h6m-1 0h6m-26 2h6m-4 0h6m-41 2h6m-13 4h6m-10 2h6m-4 0h6m-5 0h6m-2 0h6m58 0h6m-24 2h6m-56 1h6m45 0h6m7 0h6m-67 2h6m24 2h6m-30 4h6m32 0h6m-3 0h6m-49 2h6m1 0h6m37 0h6m-5 0h6m-67 2h6m5 0h6m100 0h6m-134 1h6m10 0h6m48 0h6m-74 2h6m6 0h6m-5 2h6m21 0h6m8 0h6m-60 2h6m-3 0h6m-16 2h6m2 0h6m7 0h6m24 2h6m-59 2h6m3 0h6m-4 0h6m18 0h6m28 0h6m-43 1h6m-39 2h6m17 0h6m12 0h6m-46 2h6m7 2h6m10 0h6m1 0h6m-26 2h6m19 0h6m0 0h6m-62 2h6m-1 0h6m3 0h6m30 0h6m-64 3h6m-4 0h6m0 0h6m-3 0h6m-4 0h6m37 0h6m61 0h6m-125 2h6m31 0h6m29 0h6m-77 2h6m81 0h6m-85 2h6m19 0h6m-2 0h6m-15 2h6m-37 2h6m-3 0h6m16 0h6m30 0h6m27 0h6m-76 2h6m3 0h6m-30 1h6m30 0h6m-43 2h6m91 0h6m-127 2h6m22 0h6m5 0h6m-4 0h6m11 0h6m-33 2h6m-4 0h6m-1 0h6m-47 2h6m-1 0h6m25 0h6m0 0h6m8 0h6m-53 2h6m9 0h6m-4 0h6m24 0h6m-3 0h6m-6 0h6m-58 1h6m62 0h6m-77 2h6m2 0h6m23 0h6m38 0h6m-89 2h6m1 0h6m12 2h6m12 0h6m3 0h6m-37 2h6m1 0h6m4 0h6m1 0h6m2 0h6m6 0h6m-63 2h6m11 0h6m10 0h6m2 2h6m-34 1h6m-3 0h6m-6 0h6m11 0h6m14 0h6m9 0h6m-99 2h6m59 0h6m-1 0h6m-35 2h6m6 0h6m-60 2h6m3 0h6m30 0h6m-33 2h6m-6 0h6m-3 0h6m11 0h6m29 0h6m-77 2h6m-1 0h6m4 0h6m-1 0h6m-4 0h6m7 0h6m31 0h6m-64 2h6m22 0h6m-30 1h6m47 0h6m-72 2h6m0 0h6m26 0h6m-69 2h6m-6 0h6m4 0h6m-2 0h6m-15 2h6m-6 0h6m-4 0h6m-5 0h6m31 0h6m-4 0h6m-2 0h6m29 0h6m-92 2h6m-1 0h6m2 0h6m11 0h6m3 0h6m-44 2h6m-3 0h6m-4 0h6m-6 0h6m-5 0h6m-3 0h6m-2 0h6m-1 0h6m6 0h6m-29 2h6m14 0h6m-3 0h6m-31 1h6m5 0h6m-5 0h6m-14 2h6m1 0h6m24 0h6m-60 2h6m-4 0h6m10 0h6m30 0h6m55 0h6m-129 2h6m-3 0h6m-3 0h6m-5 0h6m-4 0h6m9 0h6m29 0h6m-64 2h6m4 0h6m7 0h6m12 0h6m7 0h6m-57 2h6m25 0h6m-5 0h6m-1 0h6m-2 0h6m7 0h6m-63 2h6m-5 0h6m-1 0h6m5 0h6m2 0h6m-6 0h6m41 0h6m1 0h6m-69 1h6m10 0h6m-6 0h6m67 0h6m-93 2h6m29 0h6m0 0h6m-4 0h6m-69 2h6m17 0h6m128 0h6m-179 2h6m-3 0h6m3 0h6m5 0h6m15 0h6m45 0h6m-90 2h6m35 0h6m5 0h6m28 0h6m-93 2h6m-5 1h6m1 0h6m-23 2h6m1 0h6m24 0h6m1 0h6m-63 2h6m30 0h6m-3 0h6m88 0h6m-144 2h6m1 0h6m-2 0h6m-4 0h6m2 0h6m12 0h6m0 0h6m-49 2h6m-2 0h6m-2 0h6m-3 0h6m-1 0h6m-17 2h6m13 2h6m2 0h6m-50 1h6m31 0h6m-39 2h6m-4 0h6m2 0h6m16 0h6m-31 2h6m-5 0h6m59 0h6m-72 2h6m-28 2h6m1 0h6m-25 2h6m-1 0h6m-4 0h6m-5 0h6m-4 0h6m87 0h6m-110 2h6m17 0h6m-46 1h6m0 0h6m-5 0h6m-4 0h6m-6 0h6m-10 2h6m-28 2h6m-4 0h6m-3 0h6m-4 0h6m-5 0h6m-6 0h6m-6 0h6m-5 0h6m-2 0h6m-5 0h6" stroke="#67000d"/></g>
<polyline points="41.0,382.0 42.9,382.0 44.7,381.9 46.6,381.8 48.4,381.7 50.3,381.5 52.1,381.3 54.0,381.0 55.8,380.7 57.7,380.3 59.5,379.9 61.4,379.4 63.2,378.9 65.1,378.4 66.9,377.8 68.8,377.1 70.6,376.4 72.5,375.7 74.3,374.9 76.2,374.0 78.0,373.1 79.9,372.2 81.7,371.2 83.6,370.1 85.4,369.0 87.3,367.9 89.1,366.7 91.0,365.4 92.9,364.1 94.7,362.8 96.6,361.4 98.4,359.9 100.3,358.4 102.1,356.8 104.0,355.2 105.8,353.6 107.7,351.8 109.5,350.1 111.4,348.3 113.2,346.4 115.1,344.5 116.9,342.5 118.8,340.4 120.6,338.4 122.5,336.2 124.3,334.0 126.2,331.8 128.0,329.5 129.9,327.1 131.7,324.7 133.6,322.3 135.4,319.8 137.3,317.2 139.2,314.6 141.0,311.9 142.9,309.2 144.7,306.4 146.6,303.6 148.4,300.7 150.3,297.7 152.1,294.7 154.0,291.7 155.8,288.6 157.7,285.4 159.5,282.2 161.4,278.9 163.2,275.6 165.1,272.2 166.9,268.8 168.8,265.3 170.6,261.8 172.5,258.2 174.3,254.5 176.2,250.8 178.0,247.0 179.9,243.2" fill="none" stroke="#f3b446" stroke-width="1.25"/>
<polyline points="48.1,382.0 187.3,323.1" fill="none" stroke="#2e8b2e" stroke-width="1.2"/>
<path d="M41.0 382.0v-4M41.0 243.0v4M61.9 382.0v-4M61.9 243.0v4M82.8 382.0v-4M82.8 243.0v4M103.7 382.0v-4M103.7 243.0v4M124.6 382.0v-4M124.6 243.0v4M145.5 382.0v-4M145.5 243.0v4M166.4 382.0v-4M166.4 243.0v4M187.3 382.0v-4M187.3 243.0v4M41.0 382.0h4M187.3 382.0h-4M41.0 358.8h4M187.3 358.8h-4M41.0 335.7h4M187.3 335.7h-4M41.0 312.5h4M187.3 312.5h-4M41.0 289.3h4M187.3 289.3h-4M41.0 266.2h4M187.3 266.2h-4M41.0 243.0h4M187.3 243.0h-4" stroke="#000" stroke-width="0.8" fill="none"/>
<rect x="41.0" y="243.0" width="146.3" height="139.0" fill="none" stroke="#444" stroke-width="1.4"/>
<text x="36.3" y="385.8" font-size="12" font-family='"Liberation Sans", sans-serif' text-anchor="end" textLength="6.7" lengthAdjust="spacingAndGlyphs" fill="#000" stroke="#000" stroke-width="0.15">0</text>
<text x="36.3" y="362.6" font-size="12" font-family='"Liberation Sans", sans-serif' text-anchor="end" textLength="13.4" lengthAdjust="spacingAndGlyphs" fill="#000" stroke="#000" stroke-width="0.15">50</text>
<text x="36.3" y="339.5" font-size="12" font-family='"Liberation Sans", sans-serif' text-anchor="end" textLength="20.1" lengthAdjust="spacingAndGlyphs" fill="#000" stroke="#000" stroke-width="0.15">100</text>
<text x="36.3" y="316.3" font-size="12" font-family='"Liberation Sans", sans-serif' text-anchor="end" textLength="20.1" lengthAdjust="spacingAndGlyphs" fill="#000" stroke="#000" stroke-width="0.15">150</text>
<text x="36.3" y="293.1" font-size="12" font-family='"Liberation Sans", sans-serif' text-anchor="end" textLength="20.1" lengthAdjust="spacingAndGlyphs" fill="#000" stroke="#000" stroke-width="0.15">200</text>
<text x="36.3" y="270.0" font-size="12" font-family='"Liberation Sans", sans-serif' text-anchor="end" textLength="20.1" lengthAdjust="spacingAndGlyphs" fill="#000" stroke="#000" stroke-width="0.15">250</text>
<text x="36.3" y="246.8" font-size="12" font-family='"Liberation Sans", sans-serif' text-anchor="end" textLength="20.1" lengthAdjust="spacingAndGlyphs" fill="#000" stroke="#000" stroke-width="0.15">300</text>
<text x="41.0" y="395.0" font-size="12" font-family='"Liberation Sans", sans-serif' text-anchor="middle" textLength="6.7" lengthAdjust="spacingAndGlyphs" fill="#000" stroke="#000" stroke-width="0.15">0</text>
<text x="61.9" y="395.0" font-size="12" font-family='"Liberation Sans", sans-serif' text-anchor="middle" textLength="6.7" lengthAdjust="spacingAndGlyphs" fill="#000" stroke="#000" stroke-width="0.15">5</text>
<text x="82.8" y="395.0" font-size="12" font-family='"Liberation Sans", sans-serif' text-anchor="middle" textLength="13.4" lengthAdjust="spacingAndGlyphs" fill="#000" stroke="#000" stroke-width="0.15">10</text>
<text x="103.7" y="395.0" font-size="12" font-family='"Liberation Sans", sans-serif' text-anchor="middle" textLength="13.4" lengthAdjust="spacingAndGlyphs" fill="#000" stroke="#000" stroke-width="0.15">15</text>
<text x="124.6" y="395.0" font-size="12" font-family='"Liberation Sans", sans-serif' text-anchor="middle" textLength="13.4" lengthAdjust="spacingAndGlyphs" fill="#000" stroke="#000" stroke-width="0.15">20</text>
<text x="145.5" y="395.0" font-size="12" font-family='"Liberation Sans", sans-serif' text-anchor="middle" textLength="13.4" lengthAdjust="spacingAndGlyphs" fill="#000" stroke="#000" stroke-width="0.15">25</text>
<text x="166.4" y="395.0" font-size="12" font-family='"Liberation Sans", sans-serif' text-anchor="middle" textLength="13.4" lengthAdjust="spacingAndGlyphs" fill="#000" stroke="#000" stroke-width="0.15">30</text>
<text x="187.3" y="395.0" font-size="12" font-family='"Liberation Sans", sans-serif' text-anchor="middle" textLength="13.4" lengthAdjust="spacingAndGlyphs" fill="#000" stroke="#000" stroke-width="0.15">35</text>
<text x="17.6" y="233.4" font-size="18.5" font-family='"Liberation Serif", serif' text-anchor="start" fill="#000" stroke="#000" stroke-width="0.25">D</text>
<rect x="46.7" y="248.6" width="73.4" height="28.8" fill="#fff"/>
<g clip-path="url(#cD)"><polygon points="51.2,234.6 57.1,239.6 57.1,251.3 51.2,256.3 45.3,251.3 45.3,239.6" fill="#fff" stroke="#fff" stroke-width="0.5"/><polygon points="63.0,234.6 68.9,239.6 68.9,251.3 63.0,256.3 57.1,251.3 57.1,239.6" fill="#fff" stroke="#fff" stroke-width="0.5"/><polygon points="74.8,234.6 80.7,239.6 80.7,251.3 74.8,256.3 68.9,251.3 68.9,239.6" fill="#fff" stroke="#fff" stroke-width="0.5"/><polygon points="86.6,234.6 92.5,239.6 92.5,251.3 86.6,256.3 80.7,251.3 80.7,239.6" fill="#fff" stroke="#fff" stroke-width="0.5"/><polygon points="98.4,234.6 104.3,239.6 104.3,251.3 98.4,256.3 92.5,251.3 92.5,239.6" fill="#6a6a6a" stroke="#6a6a6a" stroke-width="0.5"/><polygon points="110.2,234.6 116.1,239.6 116.1,251.3 110.2,256.3 104.3,251.3 104.3,239.6" fill="#666" stroke="#666" stroke-width="0.5"/><polygon points="122.0,234.6 127.9,239.6 127.9,251.3 122.0,256.3 116.1,251.3 116.1,239.6" fill="#666" stroke="#666" stroke-width="0.5"/><polygon points="45.3,251.3 51.2,256.3 51.2,268.0 45.3,273.0 39.4,268.0 39.4,256.3" fill="#fff" stroke="#fff" stroke-width="0.5"/><polygon points="57.1,251.3 63.0,256.3 63.0,268.0 57.1,273.0 51.2,268.0 51.2,256.3" fill="#fff" stroke="#fff" stroke-width="0.5"/><polygon points="68.9,251.3 74.8,256.3 74.8,268.0 68.9,273.0 63.0,268.0 63.0,256.3" fill="#fff" stroke="#fff" stroke-width="0.5"/><polygon points="80.7,251.3 86.6,256.3 86.6,268.0 80.7,273.0 74.8,268.0 74.8,256.3" fill="#383838" stroke="#383838" stroke-width="0.5"/><polygon points="92.5,251.3 98.4,256.3 98.4,268.0 92.5,273.0 86.6,268.0 86.6,256.3" fill="#303030" stroke="#303030" stroke-width="0.5"/><polygon points="104.3,251.3 110.2,256.3 110.2,268.0 104.3,273.0 98.4,268.0 98.4,256.3" fill="#3c3c3c" stroke="#3c3c3c" stroke-width="0.5"/><polygon points="116.1,251.3 122.0,256.3 122.0,268.0 116.1,273.0 110.2,268.0 110.2,256.3" fill="#555" stroke="#555" stroke-width="0.5"/><polygon points="51.2,268.0 57.1,273.0 57.1,284.7 51.2,289.7 45.3,284.7 45.3,273.0" fill="#000" stroke="#000" stroke-width="0.5"/><polygon points="63.0,268.0 68.9,273.0 68.9,284.7 63.0,289.7 57.1,284.7 57.1,273.0" fill="#080808" stroke="#080808" stroke-width="0.5"/><polygon points="74.8,268.0 80.7,273.0 80.7,284.7 74.8,289.7 68.9,284.7 68.9,273.0" fill="#1c1c1c" stroke="#1c1c1c" stroke-width="0.5"/><polygon points="86.6,268.0 92.5,273.0 92.5,284.7 86.6,289.7 80.7,284.7 80.7,273.0" fill="#303030" stroke="#303030" stroke-width="0.5"/><polygon points="98.4,268.0 104.3,273.0 104.3,284.7 98.4,289.7 92.5,284.7 92.5,273.0" fill="#666" stroke="#666" stroke-width="0.5"/><polygon points="110.2,268.0 116.1,273.0 116.1,284.7 110.2,289.7 104.3,284.7 104.3,273.0" fill="#777" stroke="#777" stroke-width="0.5"/><polygon points="122.0,268.0 127.9,273.0 127.9,284.7 122.0,289.7 116.1,284.7 116.1,273.0" fill="#aaa" stroke="#aaa" stroke-width="0.5"/></g>
<rect x="46.7" y="248.6" width="73.4" height="28.8" fill="none" stroke="#222" stroke-width="1.1"/>
<rect x="190.3" y="243.0" width="6.2" height="139.0" fill="url(#gr)" stroke="#222" stroke-width="1"/>
<path d="M190.3 382.0h1.5M196.5 382.0h-1.5M190.3 367.2h1.5M196.5 367.2h-1.5M190.3 352.4h1.5M196.5 352.4h-1.5M190.3 337.6h1.5M196.5 337.6h-1.5M190.3 322.9h1.5M196.5 322.9h-1.5M190.3 308.1h1.5M196.5 308.1h-1.5M190.3 293.3h1.5M196.5 293.3h-1.5M190.3 278.5h1.5M196.5 278.5h-1.5M190.3 263.7h1.5M196.5 263.7h-1.5M190.3 248.9h1.5M196.5 248.9h-1.5" stroke="#000" stroke-width="0.8"/>
<text x="200.1" y="385.8" font-size="12" font-family='"Liberation Sans", sans-serif' text-anchor="start" textLength="16.7" lengthAdjust="spacingAndGlyphs" fill="#000" stroke="#000" stroke-width="0.15">0.0</text>
<text x="200.1" y="371.0" font-size="12" font-family='"Liberation Sans", sans-serif' text-anchor="start" textLength="16.7" lengthAdjust="spacingAndGlyphs" fill="#000" stroke="#000" stroke-width="0.15">0.5</text>
<text x="200.1" y="356.2" font-size="12" font-family='"Liberation Sans", sans-serif' text-anchor="start" textLength="16.7" lengthAdjust="spacingAndGlyphs" fill="#000" stroke="#000" stroke-width="0.15">1.0</text>
<text x="200.1" y="341.4" font-size="12" font-family='"Liberation Sans", sans-serif' text-anchor="start" textLength="16.7" lengthAdjust="spacingAndGlyphs" fill="#000" stroke="#000" stroke-width="0.15">1.5</text>
<text x="200.1" y="326.7" font-size="12" font-family='"Liberation Sans", sans-serif' text-anchor="start" textLength="16.7" lengthAdjust="spacingAndGlyphs" fill="#000" stroke="#000" stroke-width="0.15">2.0</text>
<text x="200.1" y="311.9" font-size="12" font-family='"Liberation Sans", sans-serif' text-anchor="start" textLength="16.7" lengthAdjust="spacingAndGlyphs" fill="#000" stroke="#000" stroke-width="0.15">2.5</text>
<text x="200.1" y="297.1" font-size="12" font-family='"Liberation Sans", sans-serif' text-anchor="start" textLength="16.7" lengthAdjust="spacingAndGlyphs" fill="#000" stroke="#000" stroke-width="0.15">3.0</text>
<text x="200.1" y="282.3" font-size="12" font-family='"Liberation Sans", sans-serif' text-anchor="start" textLength="16.7" lengthAdjust="spacingAndGlyphs" fill="#000" stroke="#000" stroke-width="0.15">3.5</text>
<text x="200.1" y="267.5" font-size="12" font-family='"Liberation Sans", sans-serif' text-anchor="start" textLength="16.7" lengthAdjust="spacingAndGlyphs" fill="#000" stroke="#000" stroke-width="0.15">4.0</text>
<text x="200.1" y="252.7" font-size="12" font-family='"Liberation Sans", sans-serif' text-anchor="start" textLength="16.7" lengthAdjust="spacingAndGlyphs" fill="#000" stroke="#000" stroke-width="0.15">4.5</text>
<text x="110.5" y="409.5" font-size="12" font-family='"Liberation Serif", serif' text-anchor="middle" font-style="italic" fill="#000">ν</text>
<text x="116.5" y="404.0" font-size="6.5" font-family='"Liberation Serif", serif' text-anchor="middle" fill="#000">u</text>
<g transform="translate(4.2,316) rotate(-90)">
<text x="0.0" y="3.8" font-size="11.5" font-family='"Liberation Serif", serif' text-anchor="middle" fill="#000">Ψ</text>
<text x="7.5" y="-0.5" font-size="6.5" font-family='"Liberation Serif", serif' text-anchor="middle" fill="#000">u</text>
</g>
<path d="M290.3 243.0V382.0M308.6 243.0V382.0M326.8 243.0V382.0M345.1 243.0V382.0M363.4 243.0V382.0M381.6 243.0V382.0M399.9 243.0V382.0M272.0 363.5H418.2M272.0 344.9H418.2M272.0 326.4H418.2M272.0 307.9H418.2M272.0 289.3H418.2M272.0 270.8H418.2M272.0 252.3H418.2" stroke="#000" stroke-width="0.8" stroke-dasharray="1 2.73" opacity="0.6" fill="none"/>
<path d="M276.9 283.7L272.5 354.3M346.4 283.7L335 354.3M272 354.3H335" stroke="#777" stroke-width="0.9" fill="none"/>
<g transform="scale(0.25)" stroke-width="5.6" fill="none" opacity="0.8"><path d="M1280 1464h6m-21 7h6m23 0h6m13 10h6m-72 21h6" stroke="#c6dbef"/><path d="M1319 1432h6m-41 8h6m44 9h6m-59 2h6m-20 3h6m-85 3h6m11 10h6m-51 7h6m125 2h6m2 1h6m-75 10h6m54 2h6m-50 5h6m-7 2h6m-11 1h6m77 0h6m32 0h6m-139 1h6m-47 5h6m42 5h6m0 12h6" stroke="#9ecae1"/><path d="M1383 1376h6m-115 22h6m-4 17h6m-63 2h6m20 5h6m7 2h6m5 0h6m27 6h6m-2 0h6m-9 7h6m38 4h6m-113 1h6m12 2h6m58 9h6m-66 1h6m32 2h6m96 1h6m-242 1h6m-1 0h6m167 1h6m-43 1h6m-88 2h6m-28 3h6m20 0h6m31 1h6m51 0h6m-127 5h6m106 1h6m-12 2h6m-80 1h6m71 0h6m27 0h6m-72 1h6m2 0h6m88 0h6m-185 1h6m87 0h6m-35 1h6m-4 0h6m66 0h6m-88 2h6m-63 1h6m113 0h6m-69 1h6m11 0h6m-57 2h6m3 1h6m7 1h6m-38 3h6m29 0h6m-21 1h6m-35 1h6m111 1h6m6 1h6m42 0h6m-129 1h6m-106 1h6m124 2h6m-52 2h6m-63 1h6m118 0h6m-86 1h6m-42 4h6m16 0h6m39 0h6m-21 2h6m25 0h6m18 0h6m-98 1h6m72 0h6m114 0h6m-310 1h6m93 1h6m17 0h6m42 0h6m-173 4h6" stroke="#6baed6"/><path d="M1402 1316h6m-139 37h6m-10 27h6m16 8h6m59 12h6m-117 8h6m74 4h6m-91 1h6m59 0h6m1 3h6m-37 3h6m24 0h6m-27 5h6m102 1h6m-237 2h6m95 0h6m75 0h6m5 1h6m-120 3h6m-92 1h6m85 1h6m151 0h6m-175 2h6m29 2h6m-24 2h6m22 2h6m-82 4h6m27 0h6m15 0h6m-8 1h6m13 0h6m6 0h6m-15 2h6m1 0h6m-92 1h6m41 0h6m-41 1h6m50 0h6m1 0h6m25 0h6m-44 2h6m57 2h6m-143 1h6m107 1h6m-41 2h6m84 0h6m-126 1h6m62 1h6m27 0h6m-91 1h6m18 0h6m3 0h6m-34 1h6m6 0h6m14 0h6m-13 1h6m9 0h6m6 0h6m-203 1h6m107 0h6m42 0h6m-35 1h6m15 2h6m-73 1h6m131 0h6m-134 1h6m103 0h6m-113 1h6m88 1h6m111 0h6m-127 1h6m8 0h6m-53 1h6m24 0h6m-72 1h6m-45 3h6m78 0h6m-114 1h6m15 0h6m17 0h6m41 0h6m15 0h6m-5 0h6m1 1h6m15 0h6m-141 1h6m136 0h6m-145 1h6m102 0h6m-66 2h6m28 0h6m24 0h6m-66 1h6m35 0h6m7 1h6m-63 1h6m52 1h6m-4 0h6m-51 3h6m26 1h6m-32 1h6m3 0h6m-99 2h6m41 1h6m-4 1h6m-126 1h6m37 1h6m76 1h6m-21 1h6m-1 0h6m39 0h6m12 1h6m-178 1h6m182 0h6m-187 1h6m156 0h6m55 0h6m-176 1h6m-16 1h6m91 0h6m-137 1h6m93 1h6m70 1h6m-169 1h6m24 2h6m113 0h6m-6 0h6m-73 3h6m29 1h6m-71 1h6m100 3h6m-198 1h6" stroke="#4292c6"/><path d="M1322 1337h6m24 18h6m11 11h6m-158 3h6m24 0h6m-30 1h6m23 1h6m154 1h6m-95 1h6m-71 2h6m57 1h6m-26 4h6m-71 1h6m-9 1h6m51 0h6m0 0h6m1 2h6m95 0h6m-44 1h6m-97 3h6m-51 1h6m36 0h6m99 0h6m-5 0h6m-99 1h6m-3 1h6m-38 5h6m74 6h6m-42 4h6m1 0h6m-5 1h6m38 0h6m5 1h6m-136 1h6m16 1h6m98 0h6m-123 1h6m56 0h6m108 0h6m-4 0h6m-213 1h6m26 0h6m40 0h6m160 0h6m-79 5h6m-179 2h6m31 0h6m79 0h6m36 0h6m-141 1h6m35 1h6m80 0h6m-182 2h6m74 1h6m32 0h6m64 3h6m-222 2h6m101 0h6m91 0h6m-116 1h6m3 0h6m6 0h6m-36 1h6m-41 4h6m-1 0h6m2 0h6m67 0h6m151 0h6m-200 2h6m-4 0h6m1 0h6m7 0h6m-97 1h6m-28 2h6m73 0h6m169 0h6m-118 1h6m-63 1h6m59 0h6m69 0h6m-160 1h6m-13 1h6m40 0h6m36 0h6m76 0h6m-182 1h6m-1 1h6m-39 1h6m22 0h6m44 0h6m34 0h6m90 0h6m3 0h6m-179 1h6m8 0h6m33 0h6m-68 1h6m74 0h6m-100 1h6m-2 1h6m45 0h6m36 0h6m15 0h6m-45 1h6m-92 2h6m-1 0h6m38 0h6m-10 2h6m-112 1h6m75 0h6m63 0h6m-94 1h6m74 1h6m-129 1h6m15 0h6m13 0h6m140 0h6m-159 1h6m22 1h6m-4 0h6m60 0h6m8 0h6m11 0h6m-158 1h6m36 0h6m101 0h6m-2 0h6m-87 1h6m-113 1h6m84 0h6m46 0h6m-72 1h6m112 0h6m-203 1h6m21 0h6m93 0h6m17 0h6m-69 1h6m75 0h6m-130 1h6m127 0h6m-132 1h6m8 1h6m27 1h6m-4 0h6m41 0h6m-109 1h6m21 0h6m30 1h6m-26 2h6m-38 1h6m-38 1h6m13 0h6m36 0h6m9 0h6m28 0h6m-187 1h6m37 0h6m6 0h6m12 0h6m0 0h6m14 0h6m26 0h6m-34 1h6m29 0h6m23 0h6m44 0h6m-111 1h6m2 0h6m-9 1h6m33 0h6m34 0h6m7 0h6m-65 1h6m26 0h6m3 0h6m-95 1h6m20 0h6m67 0h6m-140 1h6m30 0h6m11 0h6m17 1h6m20 0h6m38 1h6m-96 1h6m35 0h6m40 0h6m-152 1h6m92 0h6m9 0h6m-2 0h6m-118 1h6m47 0h6m62 0h6m-99 1h6m43 0h6m0 0h6m-6 0h6m75 0h6m-85 1h6m-13 1h6m28 1h6m-79 3h6m-80 1h6m50 0h6m5 0h6m25 0h6m35 1h6m-16 1h6m-67 1h6m51 0h6m-142 1h6m39 0h6m67 1h6m13 1h6m9 0h6m-2 0h6m113 0h6m-302 1h6m105 0h6m52 0h6m-48 1h6m20 0h6m-87 1h6m48 0h6m-26 1h6m34 2h6m-3 0h6m39 1h6m-139 5h6" stroke="#2171b5"/><path d="M1264 1222h6m-16 52h6m185 27h6m-184 12h6m89 1h6m-37 1h6m-51 10h6m47 8h6m-123 5h6m166 9h6m-47 1h6m-77 1h6m16 3h6m-18 2h6m-10 1h6m-82 3h6m114 12h6m-137 1h6m-11 5h6m40 1h6m125 0h6m-137 5h6m119 0h6m-131 1h6m-3 3h6m-38 1h6m12 0h6m27 0h6m32 0h6m-33 1h6m56 0h6m-59 1h6m-85 1h6m118 1h6m-85 1h6m43 0h6m13 0h6m45 0h6m-131 1h6m81 0h6m-86 1h6m16 0h6m-90 1h6m213 1h6m-191 1h6m-31 1h6m121 0h6m-61 1h6m9 0h6m2 2h6m-39 3h6m62 0h6m78 0h6m-143 2h6m14 0h6m-111 3h6m-38 1h6m112 2h6m36 0h6m-135 2h6m109 0h6m-62 2h6m-68 1h6m24 2h6m19 0h6m78 0h6m6 1h6m-139 1h6m-2 0h6m28 0h6m21 0h6m21 0h6m-71 1h6m37 0h6m9 0h6m93 0h6m-161 1h6m-43 1h6m57 0h6m9 0h6m-53 1h6m9 0h6m54 0h6m-116 2h6m63 0h6m22 1h6m-127 2h6m104 1h6m-5 0h6m-116 2h6m91 0h6m-94 2h6m57 1h6m10 0h6m45 0h6m-73 1h6m-28 1h6m47 1h6m-30 1h6m20 0h6m10 0h6m-95 1h6m44 0h6m-1 1h6m66 0h6m-114 1h6m114 0h6m19 0h6m-137 1h6m67 0h6m52 0h6m-88 1h6m-136 1h6m-3 0h6m98 0h6m38 0h6m45 0h6m-212 1h6m50 0h6m10 0h6m67 0h6m-83 1h6m27 0h6m-5 0h6m27 0h6m-94 1h6m42 0h6m101 0h6m-4 0h6m-148 2h6m43 0h6m116 0h6m-176 1h6m3 1h6m111 0h6m23 0h6m-97 1h6m40 0h6m22 0h6m-110 1h6m-3 0h6m22 0h6m-47 1h6m112 0h6m-167 1h6m74 0h6m6 0h6m-3 0h6m-109 2h6m80 0h6m-3 0h6m-3 0h6m-119 1h6m36 0h6m126 0h6m-146 2h6m51 0h6m-87 1h6m10 0h6m31 0h6m15 1h6m48 0h6m-53 1h6m14 0h6m-137 2h6m26 0h6m91 0h6m-2 0h6m7 0h6m-98 1h6m31 0h6m22 0h6m-86 1h6m32 0h6m22 0h6m14 0h6m-87 1h6m-3 0h6m69 0h6m4 1h6m-52 1h6m80 0h6m-1 0h6m6 0h6m-161 1h6m38 0h6m-2 0h6m0 0h6m53 0h6m-51 1h6m-12 2h6m27 0h6m-122 1h6m23 0h6m52 0h6m48 0h6m-91 1h6m11 0h6m8 0h6m-3 0h6m-81 1h6m121 0h6m-120 1h6m61 0h6m4 0h6m28 0h6m44 0h6m102 2h6m-249 1h6m-18 1h6m83 0h6m30 0h6m-125 2h6m-3 1h6m37 0h6m19 1h6m-32 1h6m-161 1h6m9 0h6m27 0h6m49 1h6m10 0h6m7 1h6m-6 0h6m-120 1h6m66 0h6m24 0h6m70 0h6m-166 1h6m115 0h6m29 0h6m0 0h6m-66 1h6m1 0h6m-47 1h6m40 0h6m67 0h6m-163 1h6m74 0h6m-14 2h6m-110 1h6m92 0h6m-27 1h6m-3 1h6m81 1h6m-176 1h6m103 0h6m-28 1h6m4 0h6m12 1h6m-39 1h6m-112 2h6m-13 3h6m58 1h6m-55 4h6m88 0h6m-77 1h6m1 0h6" stroke="#08519c"/><path d="M1362 1108h6m38 40h6m-5 63h6m-162 27h6m89 9h6m-24 9h6m29 4h6m99 0h6m-193 4h6m97 11h6m-43 1h6m-79 7h6m52 1h6m29 1h6m-239 6h6m277 2h6m-225 2h6m159 0h6m-125 4h6m-19 1h6m78 0h6m-61 1h6m-38 3h6m94 0h6m35 0h6m-109 1h6m22 0h6m-85 2h6m75 0h6m18 0h6m-33 2h6m-79 1h6m140 1h6m-113 1h6m80 6h6m-36 1h6m44 1h6m-179 1h6m159 0h6m-77 1h6m-44 3h6m124 0h6m-46 2h6m13 1h6m-147 2h6m129 3h6m-112 2h6m160 0h6m-143 2h6m-1 0h6m25 2h6m8 1h6m79 0h6m-211 2h6m3 0h6m145 0h6m19 0h6m-135 2h6m18 1h6m16 2h6m6 0h6m-125 1h6m84 1h6m60 0h6m-154 2h6m-54 2h6m121 0h6m16 1h6m19 0h6m-90 1h6m38 0h6m32 0h6m57 0h6m-9 1h6m-96 1h6m62 2h6m9 0h6m-222 1h6m48 0h6m73 0h6m-22 1h6m-2 0h6m59 0h6m63 0h6m-67 2h6m-11 1h6m-86 1h6m-145 1h6m165 0h6m52 0h6m-74 2h6m58 1h6m-106 2h6m-20 1h6m19 0h6m42 0h6m-38 1h6m121 0h6m-146 1h6m8 0h6m4 0h6m-151 1h6m2 0h6m79 0h6m51 0h6m-98 1h6m42 1h6m-64 1h6m45 0h6m-3 0h6m15 0h6m25 0h6m-30 1h6m16 0h6m-95 2h6m6 0h6m93 0h6m62 2h6m-149 1h6m83 0h6m-107 1h6m146 0h6m-169 2h6m-8 1h6m66 0h6m-35 1h6m-3 0h6m-103 1h6m87 0h6m18 0h6m-18 1h6m16 0h6m30 0h6m3 0h6m15 0h6m-156 1h6m103 0h6m66 0h6m-148 1h6m22 0h6m5 0h6m-5 0h6m41 0h6m18 0h6m-167 1h6m6 0h6m152 1h6m31 0h6m-115 2h6m-4 0h6m122 0h6m-283 1h6m128 1h6m111 0h6m-237 1h6m8 0h6m45 1h6m-5 0h6m31 0h6m82 0h6m-188 1h6m60 0h6m-58 1h6m128 0h6m-104 1h6m-28 1h6m33 0h6m43 1h6m4 0h6m102 0h6m-229 1h6m49 0h6m54 0h6m37 0h6m-78 1h6m2 0h6m45 0h6m-96 1h6m81 0h6m18 0h6m-220 1h6m68 0h6m143 0h6m25 0h6m-84 1h6m-120 1h6m20 0h6m51 0h6m-136 1h6m30 0h6m138 0h6m-171 1h6m112 0h6m-6 0h6m-68 1h6m97 0h6m-103 1h6m41 0h6m-1 0h6m83 0h6m-186 1h6m64 0h6m46 0h6m4 0h6m-124 1h6m15 0h6m29 0h6m6 0h6m-154 1h6m38 0h6m11 0h6m13 1h6m-6 0h6m98 0h6m-131 1h6m17 0h6m-12 1h6m-68 2h6m60 0h6m31 0h6m43 0h6m-54 1h6m12 0h6m2 0h6m2 0h6m-5 0h6m39 0h6m-124 1h6m50 0h6m48 0h6m-125 1h6m62 0h6m-108 1h6m42 0h6m10 0h6m10 0h6m82 0h6m-149 1h6m13 0h6m-40 1h6m57 0h6m6 0h6m-24 1h6m3 0h6m24 0h6m47 0h6m-203 1h6m101 0h6m9 0h6m46 0h6m137 0h6m-258 1h6m51 0h6m-138 1h6m30 0h6m64 0h6m-2 0h6m0 0h6m-1 0h6m41 0h6m7 0h6m31 0h6m-179 1h6m-5 0h6m94 0h6m-5 0h6m89 0h6m-200 1h6m63 0h6m7 0h6m-2 0h6m9 0h6m-4 0h6m56 0h6m-142 1h6m45 0h6m104 0h6m-142 1h6m31 0h6m6 0h6m15 0h6m-139 1h6m16 0h6m97 0h6m2 0h6m-145 1h6m78 0h6m26 0h6m-4 0h6m20 0h6m-134 1h6m2 0h6m-1 0h6m35 0h6m-2 0h6m0 0h6m20 0h6m-61 1h6m27 0h6m-113 1h6m100 0h6m34 0h6m-79 1h6m120 0h6m-104 1h6m31 0h6m0 0h6m27 0h6m-33 1h6m9 0h6m-172 1h6m101 0h6m26 0h6m8 0h6m-65 1h6m9 0h6m51 0h6m-6 0h6m-143 1h6m-4 0h6m45 0h6m10 0h6m33 0h6m11 0h6m-87 1h6m49 0h6m-88 1h6m11 0h6m28 0h6m8 0h6m13 0h6m97 0h6m-156 1h6m52 0h6m36 0h6m-178 1h6m56 0h6m29 0h6m43 0h6m-4 0h6m51 0h6m-198 1h6m23 0h6m-5 0h6m3 0h6m7 0h6m14 0h6m-42 1h6m11 0h6m26 0h6m2 0h6m-75 1h6m4 0h6m5 0h6m125 0h6m-1 0h6m-241 1h6m59 0h6m38 0h6m-83 1h6m28 0h6m34 0h6m19 0h6m1 0h6m31 2h6m58 0h6m-167 1h6m-1 0h6m3 0h6m34 0h6m5 0h6m-55 1h6m12 0h6m-85 1h6m30 0h6m-1 0h6m74 0h6m5 0h6m14 1h6m-145 1h6m57 0h6m35 0h6m21 0h6m37 0h6m-227 1h6m141 0h6m5 0h6m23 0h6m-36 1h6m6 0h6m12 0h6m-45 1h6m-115 1h6m138 0h6m12 0h6m-85 1h6m7 0h6m26 0h6m-67 1h6m30 0h6m28 0h6m-28 1h6m53 0h6m1 0h6m-92 1h6m14 0h6m-84 1h6m58 0h6m19 0h6m24 0h6m-170 1h6m86 0h6m-2 0h6m0 0h6m-2 0h6m-77 1h6m40 0h6m19 0h6m38 0h6m-111 1h6m-4 0h6m143 0h6m-169 1h6m18 0h6m49 0h6m68 0h6m-232 1h6m34 0h6m82 0h6m3 1h6m20 0h6m-153 1h6m79 0h6m122 0h6m-174 1h6m4 0h6m2 1h6m53 0h6m39 0h6m49 0h6m-170 1h6m3 0h6m5 0h6m4 0h6m62 0h6m30 0h6m-158 1h6m74 0h6m50 0h6m-187 1h6m25 0h6m64 0h6m49 0h6m-73 1h6m33 0h6m8 0h6m-140 1h6m35 0h6m52 0h6m-3 0h6m-4 0h6m9 0h6m26 0h6m-83 1h6m5 0h6m11 0h6m-127 1h6m110 0h6m4 0h6m11 0h6m-118 1h6m115 0h6m1 0h6m-144 1h6m88 0h6m0 0h6m36 0h6m38 0h6m-160 1h6m7 0h6m2 1h6m33 0h6m0 0h6m5 0h6m-3 0h6m-112 1h6m40 0h6m85 0h6m-70 1h6m15 1h6m2 0h6m-73 1h6m78 0h6m9 0h6m-92 1h6m69 0h6m41 1h6m-116 1h6m112 1h6m-214 1h6m57 0h6m-67 1h6m22 0h6m104 0h6m-142 1h6m55 1h6m35 2h6m14 0h6m-79 1h6m23 0h6m-67 5h6m-17 1h6m27 2h6m16 2h6" stroke="#08306b"/><path d="M1472 1435h6m-229 24h6m-12 27h6m-146 31h6" stroke="#fff5f0"/><path d="M1272 1424h6m131 10h6m-129 36h6m-41 5h6m-8 6h6m76 11h6m-71 5h6m-22 11h6" stroke="#fee0d2"/><path d="M1247 1432h6m96 0h6m34 0h6m-130 4h6m64 5h6m-3 6h6m-68 6h6m16 1h6m-74 2h6m58 0h6m-14 3h6m-138 2h6m61 12h6m-28 1h6m72 0h6m-45 1h6m88 0h6m-86 2h6m-12 2h6m-8 1h6m-60 1h6m26 1h6m-11 1h6m-130 1h6m240 1h6m-90 1h6m-52 1h6m143 0h6m-189 1h6m6 0h6m80 0h6m-56 1h6m25 0h6m72 2h6m-75 1h6m32 2h6m-73 1h6m-56 1h6m106 3h6m4 0h6m-46 2h6m-14 1h6m-13 1h6m12 2h6m-48 1h6m63 3h6m-12 3h6m-164 5h6m67 7h6" stroke="#fcbba1"/><path d="M1246 1350h6m7 42h6m45 12h6m15 0h6m-37 2h6m-42 4h6m-50 5h6m-18 2h6m75 1h6m-63 5h6m27 0h6m12 1h6m-39 1h6m78 0h6m-47 1h6m1 4h6m55 3h6m-92 4h6m52 2h6m-186 1h6m128 0h6m86 0h6m-172 1h6m84 6h6m-42 4h6m42 2h6m-118 1h6m105 2h6m-76 1h6m108 1h6m-20 1h6m34 0h6m-159 1h6m22 0h6m19 0h6m31 1h6m8 2h6m-160 1h6m84 2h6m4 0h6m3 0h6m-71 2h6m32 1h6m-94 1h6m41 0h6m36 0h6m20 1h6m39 0h6m-165 1h6m60 0h6m-58 1h6m62 0h6m-139 1h6m95 0h6m-70 2h6m132 0h6m-35 1h6m9 0h6m30 2h6m51 0h6m-145 1h6m-47 1h6m32 0h6m19 0h6m-75 1h6m26 2h6m79 0h6m-146 1h6m46 0h6m-31 1h6m100 0h6m54 0h6m-75 1h6m23 0h6m-113 1h6m38 0h6m7 1h6m-41 1h6m108 1h6m-99 1h6m-127 1h6m53 0h6m45 0h6m-18 1h6m49 0h6m-59 1h6m-2 0h6m60 0h6m-47 1h6m-26 1h6m-94 2h6m77 0h6m-12 2h6m-4 2h6m-26 1h6m13 0h6m-59 1h6m37 0h6m32 1h6m18 1h6m-35 1h6m-50 2h6m40 0h6m16 1h6m-61 3h6m-129 2h6m125 1h6m-142 2h6m23 5h6" stroke="#fc9272"/><path d="M1309 1292h6m156 70h6m-257 1h6m99 0h6m-18 2h6m106 8h6m-108 2h6m-91 17h6m-75 8h6m62 0h6m21 0h6m0 0h6m32 0h6m-25 2h6m-95 5h6m109 0h6m-84 3h6m109 0h6m-71 1h6m130 0h6m-197 2h6m-16 2h6m137 0h6m0 0h6m-71 2h6m36 0h6m-146 2h6m24 0h6m-4 1h6m38 0h6m16 0h6m42 0h6m-36 2h6m-17 1h6m-58 2h6m-62 1h6m52 0h6m54 0h6m-109 1h6m91 1h6m7 0h6m-48 1h6m9 0h6m-31 1h6m-9 1h6m-80 1h6m66 0h6m17 0h6m36 2h6m3 0h6m-159 1h6m79 1h6m-135 1h6m101 1h6m120 0h6m-195 1h6m85 0h6m-21 1h6m-79 2h6m68 0h6m-48 1h6m132 1h6m-159 4h6m40 0h6m3 0h6m5 0h6m-83 1h6m-13 1h6m67 0h6m-102 1h6m124 0h6m-92 3h6m12 0h6m36 0h6m28 0h6m-103 1h6m74 0h6m-100 1h6m54 0h6m-63 1h6m8 0h6m2 0h6m57 0h6m-4 0h6m-64 1h6m-53 1h6m6 1h6m107 0h6m-5 0h6m-4 0h6m112 0h6m-186 1h6m-2 0h6m25 0h6m-122 1h6m39 0h6m13 0h6m51 0h6m12 0h6m-28 1h6m15 0h6m4 0h6m-80 1h6m24 0h6m33 0h6m-142 1h6m71 0h6m-5 1h6m19 0h6m12 2h6m17 0h6m-40 1h6m-68 1h6m60 0h6m-70 1h6m16 0h6m16 0h6m15 0h6m-105 1h6m65 0h6m2 0h6m-2 0h6m-118 1h6m88 0h6m53 0h6m-136 1h6m58 0h6m65 0h6m-3 0h6m-100 1h6m-72 1h6m77 0h6m9 0h6m-4 0h6m-42 1h6m87 0h6m11 0h6m-76 1h6m-1 0h6m-4 0h6m-3 0h6m26 0h6m-131 1h6m60 0h6m48 0h6m-2 0h6m1 0h6m14 0h6m18 0h6m-182 1h6m38 0h6m53 0h6m-100 1h6m48 0h6m30 2h6m39 0h6m-105 1h6m27 0h6m-7 1h6m56 0h6m6 0h6m-194 2h6m19 0h6m98 0h6m51 0h6m-144 2h6m54 0h6m-25 1h6m-5 0h6m-54 1h6m73 0h6m9 0h6m-50 1h6m-5 0h6m41 0h6m117 0h6m-292 1h6m132 0h6m-37 1h6m-130 1h6m69 0h6m8 0h6m-1 0h6m97 0h6m-77 1h6m-5 0h6m15 0h6m10 0h6m-48 1h6m-124 1h6m126 0h6m30 0h6m16 0h6m-135 1h6m90 0h6m34 0h6m-55 1h6m50 0h6m-208 1h6m37 0h6m55 0h6m16 0h6m-34 2h6m11 0h6m79 0h6m-68 2h6m-138 1h6m38 0h6m81 0h6m-35 1h6m1 0h6m50 2h6m-74 1h6m79 0h6m-209 1h6m80 0h6m24 0h6m38 0h6m48 1h6m-43 2h6m-47 5h6m-146 2h6" stroke="#fb6a4a"/><path d="M1336 1281h6m-67 12h6m-17 28h6m-67 22h6m157 8h6m-32 1h6m-81 6h6m-79 4h6m10 1h6m70 3h6m-44 1h6m75 0h6m-4 0h6m-144 4h6m-4 1h6m193 1h6m-105 1h6m-97 2h6m24 0h6m142 1h6m-97 6h6m27 0h6m-88 1h6m43 0h6m63 1h6m-88 1h6m-41 1h6m-14 1h6m39 0h6m-3 2h6m7 0h6m-85 2h6m31 0h6m116 0h6m-150 2h6m145 1h6m-184 1h6m72 0h6m-143 2h6m173 0h6m-99 1h6m-25 1h6m10 0h6m19 0h6m-1 3h6m0 0h6m8 1h6m25 2h6m150 0h6m-83 1h6m-119 1h6m54 1h6m52 1h6m53 0h6m-22 1h6m-169 3h6m-4 0h6m64 0h6m-71 1h6m-53 1h6m143 1h6m22 1h6m-192 1h6m24 0h6m13 0h6m29 1h6m49 0h6m-31 1h6m-58 1h6m-42 2h6m1 0h6m67 0h6m13 0h6m10 0h6m-129 1h6m35 0h6m-96 1h6m74 0h6m-58 1h6m19 0h6m15 0h6m108 0h6m-115 1h6m0 0h6m-77 3h6m3 0h6m67 0h6m84 0h6m-184 1h6m28 0h6m41 1h6m-3 0h6m1 1h6m90 0h6m30 0h6m-155 1h6m127 0h6m-193 1h6m10 0h6m42 0h6m71 0h6m-204 1h6m50 0h6m17 0h6m18 0h6m23 0h6m39 0h6m-71 1h6m0 1h6m104 0h6m-167 1h6m19 0h6m25 0h6m140 0h6m-212 1h6m0 0h6m2 0h6m50 1h6m-81 1h6m14 0h6m22 0h6m12 0h6m-138 1h6m56 0h6m9 0h6m-36 2h6m32 0h6m-3 0h6m-44 1h6m45 0h6m-5 0h6m-73 1h6m56 0h6m99 0h6m-167 2h6m1 0h6m4 0h6m15 0h6m32 0h6m53 0h6m-4 0h6m34 0h6m-130 1h6m-88 1h6m84 0h6m52 0h6m58 0h6m-101 1h6m-19 1h6m57 0h6m-136 1h6m20 0h6m27 0h6m22 0h6m3 0h6m44 0h6m-208 1h6m32 0h6m-4 0h6m23 0h6m3 0h6m31 0h6m44 0h6m-61 1h6m-4 0h6m-2 0h6m121 0h6m-175 1h6m4 0h6m17 0h6m43 0h6m-8 1h6m-129 1h6m37 0h6m203 0h6m-192 1h6m4 0h6m30 0h6m-86 1h6m33 0h6m13 0h6m49 0h6m23 0h6m-88 1h6m-2 0h6m-77 1h6m35 0h6m27 0h6m-135 1h6m92 0h6m-1 0h6m16 0h6m-4 0h6m-107 1h6m67 0h6m-66 1h6m218 0h6m-198 1h6m166 0h6m-178 1h6m35 0h6m44 0h6m-80 1h6m31 0h6m34 0h6m-146 1h6m20 0h6m12 0h6m21 0h6m10 0h6m28 0h6m0 0h6m2 0h6m10 0h6m-106 1h6m33 0h6m-43 1h6m27 0h6m-5 0h6m-2 0h6m24 0h6m8 0h6m-20 1h6m8 0h6m-178 1h6m77 0h6m-50 1h6m19 0h6m4 0h6m28 0h6m4 0h6m9 0h6m13 0h6m-2 0h6m-95 1h6m1 0h6m89 0h6m28 0h6m12 0h6m-233 1h6m12 0h6m50 0h6m3 0h6m45 0h6m18 0h6m-4 0h6m-170 1h6m113 0h6m69 0h6m25 0h6m-196 1h6m22 0h6m18 0h6m57 0h6m-13 1h6m-93 1h6m12 0h6m15 0h6m23 0h6m-61 1h6m29 0h6m-51 1h6m13 0h6m83 0h6m4 0h6m-117 1h6m28 0h6m31 0h6m19 0h6m-45 1h6m2 0h6m-71 1h6m32 0h6m-2 0h6m57 0h6m-107 1h6m3 0h6m15 0h6m5 0h6m106 0h6m-218 1h6m16 1h6m65 0h6m15 0h6m36 0h6m39 0h6m-193 1h6m39 0h6m66 0h6m19 0h6m1 0h6m76 0h6m-232 1h6m-51 1h6m97 0h6m29 0h6m69 0h6m-114 1h6m25 0h6m51 0h6m-69 1h6m2 0h6m-2 0h6m-56 1h6m91 0h6m-130 1h6m66 0h6m24 0h6m8 0h6m9 0h6m-158 1h6m31 0h6m47 0h6m-4 0h6m53 0h6m-203 1h6m118 0h6m11 0h6m-46 1h6m42 0h6m-3 0h6m-4 1h6m-68 1h6m7 0h6m30 0h6m37 1h6m-112 1h6m58 0h6m4 0h6m-137 1h6m93 0h6m35 0h6m-179 1h6m116 0h6m-109 1h6m18 0h6m-2 0h6m26 0h6m53 0h6m15 0h6m-137 1h6m181 0h6m-146 5h6m-61 2h6m-10 1h6m5 1h6m-13 2h6m-24 2h6m5 1h6m-11 1h6" stroke="#ef3b2c"/><path d="M1228 1248h6m204 30h6m-53 13h6m-163 5h6m92 1h6m83 2h6m-95 13h6m-33 9h6m-27 3h6m11 1h6m-23 12h6m238 0h6m-203 8h6m-112 4h6m32 1h6m-80 3h6m93 4h6m-93 1h6m215 1h6m-255 1h6m125 0h6m-120 5h6m23 0h6m81 0h6m30 0h6m-87 1h6m53 0h6m-28 1h6m-4 0h6m78 0h6m-67 2h6m-25 1h6m-37 1h6m16 0h6m-41 1h6m-22 1h6m23 0h6m55 0h6m-32 1h6m-116 4h6m40 0h6m6 0h6m16 2h6m-128 1h6m97 0h6m40 0h6m-57 3h6m-55 3h6m91 0h6m22 1h6m52 0h6m-136 1h6m-50 1h6m94 1h6m-48 2h6m-37 1h6m10 0h6m19 0h6m-4 2h6m71 0h6m85 1h6m-250 3h6m116 0h6m-51 1h6m92 0h6m-64 1h6m-55 1h6m5 0h6m62 2h6m-100 1h6m3 0h6m42 1h6m14 0h6m-84 1h6m10 0h6m-76 2h6m44 1h6m2 0h6m21 0h6m-13 1h6m-27 1h6m41 0h6m-17 1h6m-2 0h6m-106 1h6m35 0h6m29 0h6m16 0h6m58 0h6m-109 1h6m11 0h6m68 0h6m-147 1h6m0 0h6m27 0h6m1 0h6m65 0h6m-123 1h6m-27 1h6m49 0h6m7 0h6m-5 0h6m-6 0h6m16 0h6m-62 1h6m91 0h6m59 0h6m-198 1h6m31 1h6m-4 0h6m17 0h6m8 0h6m-41 1h6m108 0h6m-161 1h6m49 0h6m162 0h6m-232 1h6m37 0h6m141 0h6m-126 1h6m20 0h6m80 0h6m-93 1h6m7 0h6m32 0h6m5 0h6m-20 1h6m-140 1h6m36 0h6m40 0h6m5 1h6m-120 1h6m21 0h6m15 0h6m-1 0h6m110 0h6m-101 1h6m22 0h6m-143 1h6m113 0h6m-54 1h6m26 0h6m-3 0h6m71 0h6m-156 1h6m5 0h6m28 0h6m53 0h6m28 0h6m9 0h6m-40 1h6m-74 1h6m5 0h6m36 0h6m-82 1h6m38 0h6m13 0h6m-35 1h6m3 0h6m58 1h6m-69 1h6m10 0h6m-3 0h6m43 0h6m-98 1h6m5 0h6m90 0h6m31 0h6m-119 1h6m-151 1h6m105 0h6m-24 1h6m29 0h6m-4 0h6m-23 1h6m79 0h6m15 0h6m-146 1h6m23 0h6m65 0h6m7 0h6m2 0h6m-87 1h6m81 0h6m-219 1h6m108 0h6m27 0h6m16 0h6m8 0h6m-67 1h6m-4 0h6m-6 0h6m9 0h6m60 0h6m42 0h6m-62 1h6m-99 1h6m7 0h6m16 0h6m82 0h6m-216 1h6m32 0h6m1 0h6m18 0h6m87 0h6m13 0h6m9 0h6m-111 1h6m76 0h6m16 0h6m17 0h6m-144 1h6m58 0h6m11 0h6m-104 1h6m-1 0h6m19 0h6m48 0h6m-37 1h6m5 0h6m-2 0h6m-106 1h6m41 0h6m0 0h6m-45 1h6m4 1h6m33 0h6m99 0h6m-3 0h6m-155 1h6m18 0h6m11 0h6m73 0h6m-94 1h6m28 0h6m23 0h6m12 0h6m-116 1h6m50 0h6m59 0h6m41 0h6m-157 1h6m11 0h6m20 0h6m53 0h6m-142 1h6m103 0h6m4 0h6m39 0h6m-133 1h6m36 0h6m12 0h6m11 0h6m7 0h6m60 0h6m-208 1h6m23 0h6m22 0h6m7 0h6m3 0h6m22 0h6m71 0h6m-187 1h6m14 0h6m35 0h6m44 0h6m-4 0h6m-82 1h6m-37 1h6m23 0h6m29 0h6m22 0h6m13 0h6m-51 1h6m27 0h6m-3 0h6m24 0h6m-99 1h6m28 0h6m-4 0h6m-5 0h6m15 0h6m13 0h6m-94 1h6m49 0h6m6 0h6m29 0h6m-55 1h6m23 0h6m-5 0h6m-67 1h6m129 0h6m-182 1h6m23 0h6m14 0h6m23 0h6m62 0h6m-170 1h6m39 0h6m36 0h6m17 0h6m-135 1h6m57 0h6m76 0h6m-121 1h6m71 0h6m7 0h6m54 0h6m-136 1h6m3 0h6m7 0h6m16 0h6m11 0h6m15 0h6m-146 1h6m141 0h6m-113 1h6m66 0h6m-89 1h6m118 0h6m-68 1h6m4 0h6m33 0h6m-3 0h6m12 0h6m6 0h6m-147 1h6m22 0h6m8 0h6m32 0h6m48 0h6m-3 0h6m44 0h6m-219 1h6m24 0h6m-1 0h6m3 0h6m75 0h6m-67 1h6m8 0h6m-1 0h6m37 0h6m19 0h6m-131 1h6m0 0h6m3 0h6m52 0h6m-47 1h6m5 0h6m72 0h6m-2 0h6m-88 1h6m22 0h6m7 0h6m15 0h6m-61 1h6m38 0h6m-2 0h6m-60 1h6m5 0h6m0 0h6m43 0h6m53 0h6m-95 1h6m-79 1h6m72 0h6m62 0h6m-56 1h6m37 1h6m-130 1h6m29 0h6m0 0h6m4 0h6m20 0h6m19 1h6m-88 1h6m21 0h6m-3 0h6m16 0h6m30 1h6m-200 1h6m12 1h6m60 0h6m-75 1h6m172 0h6m-164 1h6m86 1h6m-76 1h6m26 1h6m27 0h6m-64 2h6m80 2h6m0 2h6m-166 1h6m14 0h6m202 0h6m-81 1h6m-161 3h6m21 0h6m-22 1h6" stroke="#cb181d"/><path d="M1256 1210h6m125 31h6m-82 14h6m25 8h6m-77 19h6m136 20h6m-75 3h6m57 5h6m-105 3h6m98 4h6m-214 6h6m69 6h6m-14 6h6m-54 1h6m93 1h6m-5 0h6m-53 4h6m14 1h6m0 0h6m-28 2h6m117 0h6m-172 3h6m72 0h6m21 3h6m-148 3h6m60 0h6m-28 2h6m58 0h6m72 0h6m-231 3h6m125 0h6m-36 1h6m63 0h6m54 0h6m-136 1h6m-4 0h6m52 0h6m28 1h6m-80 2h6m-133 1h6m117 2h6m106 0h6m-110 1h6m-21 1h6m10 0h6m-110 1h6m112 0h6m46 0h6m-72 1h6m-125 3h6m71 2h6m58 0h6m37 1h6m-120 1h6m79 0h6m-88 1h6m44 2h6m-122 2h6m223 0h6m-240 2h6m38 1h6m113 0h6m57 1h6m-132 1h6m-4 0h6m58 1h6m-8 3h6m-1 0h6m-155 1h6m108 0h6m-5 0h6m11 0h6m-5 0h6m-175 1h6m30 0h6m17 0h6m45 0h6m66 0h6m-105 1h6m-1 0h6m19 0h6m23 0h6m18 0h6m2 1h6m-39 1h6m19 0h6m35 2h6m-94 1h6m13 0h6m82 1h6m16 0h6m-210 1h6m227 0h6m-219 1h6m81 0h6m-20 1h6m-6 1h6m22 0h6m-128 1h6m56 1h6m50 2h6m-74 1h6m27 0h6m-97 1h6m203 1h6m-147 1h6m-93 1h6m58 0h6m31 1h6m38 0h6m-34 1h6m-66 1h6m5 0h6m111 0h6m-177 1h6m103 0h6m37 0h6m-112 1h6m2 0h6m-64 1h6m27 0h6m15 0h6m31 1h6m-90 1h6m25 0h6m28 0h6m20 0h6m11 0h6m22 0h6m-1 0h6m-148 1h6m64 0h6m3 0h6m0 0h6m-6 0h6m19 0h6m71 0h6m6 0h6m5 0h6m-239 2h6m178 0h6m-190 1h6m33 0h6m69 0h6m128 0h6m-179 2h6m56 0h6m-123 1h6m31 0h6m38 0h6m-68 1h6m54 0h6m-53 1h6m5 0h6m-6 0h6m113 0h6m-57 1h6m-131 1h6m13 0h6m53 0h6m68 0h6m4 0h6m17 0h6m-160 1h6m155 0h6m-99 1h6m-27 1h6m0 0h6m0 0h6m36 0h6m-22 1h6m-165 1h6m65 0h6m59 0h6m69 0h6m-183 1h6m127 1h6m-107 1h6m-11 1h6m69 0h6m57 0h6m30 0h6m-199 1h6m45 0h6m23 0h6m-94 1h6m19 0h6m65 0h6m28 0h6m-114 2h6m95 0h6m7 0h6m-49 1h6m13 0h6m26 0h6m-127 1h6m34 0h6m35 0h6m-58 1h6m29 1h6m18 0h6m23 0h6m19 0h6m-54 1h6m12 0h6m57 0h6m-192 1h6m89 0h6m-1 0h6m-1 0h6m66 0h6m-149 1h6m47 0h6m-102 1h6m66 0h6m-19 1h6m16 0h6m-57 3h6m21 0h6m35 0h6m7 0h6m115 0h6m-178 1h6m58 0h6m14 0h6m-118 1h6m31 0h6m47 0h6m-179 1h6m140 0h6m7 0h6m-70 1h6m1 0h6m1 0h6m-13 1h6m6 0h6m19 0h6m43 0h6m5 0h6m-117 1h6m20 0h6m109 0h6m-95 1h6m14 0h6m44 0h6m-123 1h6m-5 0h6m6 0h6m27 0h6m23 0h6m0 0h6m41 0h6m0 0h6m-202 2h6m51 0h6m117 0h6m16 0h6m-182 1h6m17 0h6m34 0h6m4 0h6m8 0h6m-4 0h6m15 1h6m29 0h6m-6 0h6m-205 1h6m132 0h6m21 0h6m-88 1h6m69 0h6m49 0h6m10 0h6m9 0h6m-118 1h6m67 0h6m-11 1h6m33 0h6m-146 1h6m8 0h6m14 0h6m28 0h6m-95 1h6m40 0h6m7 0h6m6 0h6m37 1h6m-168 1h6m64 0h6m2 0h6m-5 0h6m6 0h6m-118 1h6m104 0h6m-37 3h6m18 0h6m9 0h6m3 0h6m66 0h6m-95 1h6m31 0h6m-75 1h6m11 0h6m16 0h6m69 0h6m-210 1h6m50 0h6m10 0h6m40 0h6m-61 1h6m27 0h6m66 0h6m-172 1h6m116 0h6m-4 0h6m38 0h6m-147 1h6m160 0h6m-127 1h6m-20 1h6m30 0h6m71 2h6m-175 1h6m94 0h6m125 0h6m-133 1h6m25 0h6m17 0h6m-150 1h6m33 0h6m42 1h6m14 0h6m-23 1h6m-11 1h6m26 1h6m-83 3h6m10 0h6m-52 1h6m22 0h6m90 1h6m-73 1h6m-3 0h6m-35 1h6m-65 1h6m38 1h6m54 1h6m-98 1h6m82 0h6m-117 1h6m13 0h6m102 0h6m-133 6h6m18 0h6m60 0h6m-101 6h6" stroke="#a50f15"/><path d="M1411 1061h6m-220 109h6m99 21h6m-2 37h6m70 7h6m-83 4h6m-109 7h6m257 7h6m-106 3h6m10 5h6m-52 8h6m-134 5h6m166 0h6m-147 5h6m13 1h6m-70 7h6m0 1h6m97 12h6m-13 1h6m-80 1h6m103 1h6m-67 6h6m25 1h6m1 2h6m66 0h6m-45 1h6m-7 2h6m-82 2h6m244 3h6m-229 3h6m-32 2h6m76 0h6m-126 1h6m148 0h6m-84 1h6m-167 1h6m201 1h6m-17 1h6m-25 1h6m-58 1h6m59 0h6m-33 2h6m122 0h6m-255 1h6m74 0h6m20 0h6m-2 2h6m-47 1h6m46 2h6m-35 2h6m24 0h6m10 1h6m-159 1h6m58 2h6m97 1h6m-176 1h6m64 0h6m57 0h6m-41 2h6m18 0h6m0 0h6m37 1h6m-83 1h6m34 0h6m95 0h6m-132 1h6m102 0h6m-213 1h6m55 0h6m19 0h6m68 0h6m-71 1h6m-54 1h6m130 0h6m-139 1h6m-9 1h6m-5 0h6m94 1h6m-88 1h6m62 0h6m4 0h6m-125 4h6m114 0h6m21 0h6m-75 1h6m-40 1h6m41 0h6m36 1h6m-134 1h6m22 0h6m-57 1h6m74 0h6m-2 0h6m3 0h6m-32 1h6m-45 1h6m99 1h6m56 1h6m-84 1h6m1 0h6m48 4h6m16 0h6m-162 1h6m9 0h6m26 0h6m-4 1h6m-81 1h6m50 0h6m11 1h6m119 0h6m-110 1h6m3 0h6m-69 1h6m-106 1h6m50 0h6m57 0h6m8 0h6m29 0h6m0 0h6m26 2h6m-220 1h6m99 0h6m40 0h6m-97 1h6m54 0h6m56 0h6m-17 1h6m22 0h6m65 0h6m-25 1h6m-27 1h6m-110 2h6m-21 1h6m47 0h6m-73 1h6m29 0h6m-73 1h6m156 0h6m-52 1h6m-19 1h6m-128 2h6m89 0h6m-110 1h6m24 0h6m9 0h6m21 0h6m27 0h6m13 0h6m-132 1h6m45 0h6m-62 1h6m50 0h6m162 1h6m-202 1h6m7 0h6m38 0h6m-75 1h6m25 0h6m-7 1h6m44 0h6m22 0h6m18 0h6m7 0h6m-37 1h6m-76 1h6m29 0h6m18 0h6m64 0h6m-189 1h6m29 0h6m84 0h6m22 0h6m-134 1h6m23 0h6m62 0h6m-104 1h6m-21 1h6m126 0h6m22 0h6m-199 1h6m96 0h6m41 0h6m-151 1h6m105 0h6m31 0h6m-83 1h6m71 0h6m-115 1h6m10 0h6m8 0h6m69 0h6m0 0h6m-120 1h6m112 0h6m26 0h6m-176 1h6m106 0h6m20 0h6m30 0h6m-133 1h6m12 0h6m21 0h6m24 0h6m-21 1h6m-121 1h6m69 0h6m-6 0h6m12 1h6m-41 1h6m47 0h6m-139 1h6m50 0h6m41 0h6m-17 1h6m99 0h6m-214 1h6m136 0h6m-41 1h6m147 0h6m-237 1h6m-6 1h6m80 0h6m22 0h6m24 0h6m69 0h6m11 0h6m-179 1h6m27 0h6m13 0h6m30 0h6m-5 1h6m-48 1h6m43 0h6m5 0h6m-160 1h6m10 0h6m52 0h6m106 0h6m2 0h6m-78 1h6m-62 1h6m19 0h6m-87 1h6m30 1h6m40 0h6m73 0h6m-156 1h6m107 0h6m-91 1h6m28 0h6m2 0h6m-44 1h6m-1 0h6m44 0h6m-82 1h6m-2 0h6m21 0h6m9 0h6m135 1h6m-179 2h6m36 0h6m-37 1h6m4 0h6m-39 1h6m-5 0h6m99 0h6m-95 1h6m-23 1h6m83 0h6m5 0h6m-68 1h6m-4 0h6m29 0h6m-112 1h6m60 0h6m-23 1h6m43 0h6m38 0h6m23 0h6m-143 1h6m3 0h6m17 0h6m-130 1h6m101 0h6m-43 1h6m32 0h6m-2 0h6m64 0h6m12 0h6m-170 1h6m139 0h6m-100 1h6m52 0h6m-6 0h6m17 0h6m-6 0h6m-10 1h6m-68 1h6m13 0h6m2 0h6m32 0h6m-166 1h6m93 0h6m110 0h6m-115 1h6m28 0h6m-36 1h6m13 0h6m-3 0h6m50 0h6m-3 0h6m-73 1h6m52 0h6m-92 1h6m-2 0h6m62 0h6m-3 0h6m-186 1h6m57 0h6m65 0h6m14 0h6m58 0h6m-68 1h6m6 0h6m-176 1h6m156 0h6m-41 1h6m17 0h6m-34 1h6m-2 1h6m53 0h6m32 0h6m-226 1h6m81 0h6m81 0h6m-139 1h6m13 0h6m33 0h6m11 0h6m-37 1h6m14 0h6m-21 1h6m40 2h6m42 0h6m-145 2h6m9 0h6m27 0h6m54 1h6m-5 0h6m-52 1h6m29 0h6m2 0h6m-156 2h6m49 0h6m57 0h6m-100 1h6m45 0h6m-68 1h6m-36 2h6m134 0h6m-88 1h6m54 0h6m22 1h6m-87 1h6m1 0h6m47 0h6m-31 2h6m-49 2h6m60 1h6m-2 0h6m26 1h6m11 1h6m-153 2h6m18 0h6m55 0h6m-99 2h6m93 0h6m-68 1h6m24 2h6m-82 1h6m56 0h6m-73 1h6m30 0h6m4 0h6m47 0h6m38 0h6m-107 4h6m-50 5h6m-6 5h6m-10 1h6m-5 2h6m-9 1h6" stroke="#67000d"/><path d="M1110 1471h6" stroke="#deebf7"/><path d="M1280 1415h6m-84 55h6m27 12h6m-72 2h6m62 15h6m22 1h6m-1 11h6m-178 4h6" stroke="#c6dbef"/><path d="M1239 1436h6m15 1h6m74 9h6m45 7h6m-145 14h6m-14 2h6m-7 2h6m41 0h6m-74 1h6m45 0h6m-71 6h6m63 6h6m32 4h6m-57 3h6m-18 1h6m167 0h6m-177 5h6m48 2h6m-120 5h6m75 0h6m50 0h6m-97 1h6m85 1h6m-43 1h6m-64 10h6" stroke="#9ecae1"/><path d="M1330 1345h6m0 49h6m119 0h6m-179 13h6m20 5h6m43 1h6m-126 17h6m-13 3h6m2 6h6m-7 1h6m-16 1h6m-2 3h6m37 2h6m-73 2h6m106 1h6m-45 2h6m-20 1h6m81 0h6m-144 1h6m60 0h6m-105 2h6m121 5h6m-66 1h6m26 0h6m-111 2h6m92 2h6m24 0h6m5 1h6m-83 1h6m0 0h6m-20 3h6m8 1h6m91 0h6m-60 1h6m79 2h6m-172 2h6m-80 2h6m248 2h6m-89 1h6m48 1h6m-91 1h6m-37 3h6m-26 2h6m-1 1h6m-19 1h6m52 0h6m-50 3h6m-1 1h6m-81 2h6m23 0h6m79 0h6m-83 1h6m25 3h6m-3 0h6m54 1h6m-84 2h6m-5 6h6m47 0h6m-58 10h6m43 0h6" stroke="#6baed6"/><path d="M1352 1350h6m-60 9h6m85 5h6m40 1h6m-25 10h6m-128 5h6m-48 2h6m18 5h6m-1 0h6m-16 1h6m-11 9h6m42 1h6m-19 1h6m15 3h6m46 1h6m-73 3h6m-55 1h6m5 1h6m-53 3h6m2 2h6m33 1h6m-4 0h6m71 5h6m-46 1h6m-34 2h6m43 3h6m3 2h6m-129 3h6m75 0h6m20 0h6m30 1h6m-145 2h6m17 2h6m61 0h6m36 0h6m-154 2h6m65 3h6m-39 1h6m34 1h6m23 1h6m-15 1h6m46 0h6m-118 2h6m128 0h6m-156 1h6m103 1h6m29 0h6m-52 2h6m-56 2h6m73 0h6m88 0h6m-187 4h6m-36 1h6m8 0h6m5 0h6m27 0h6m-44 1h6m9 0h6m-122 1h6m55 0h6m24 0h6m6 0h6m22 0h6m-101 2h6m48 3h6m-2 0h6m37 0h6m-3 0h6m20 1h6m-51 1h6m33 0h6m-89 1h6m53 0h6m12 1h6m-147 2h6m0 0h6m36 0h6m80 0h6m-67 1h6m-17 1h6m21 0h6m-15 1h6m55 0h6m-122 2h6m136 0h6m-139 1h6m51 0h6m15 0h6m64 1h6m-123 1h6m-48 1h6m71 0h6m11 1h6m107 1h6m-140 1h6m-34 1h6m2 1h6m119 0h6m-133 1h6m23 0h6m2 0h6m14 0h6m30 0h6m-142 1h6m51 0h6m2 0h6m4 0h6m-5 0h6m11 0h6m37 0h6m-129 1h6m76 0h6m-132 1h6m69 0h6m17 2h6m5 0h6m-114 1h6m9 0h6m40 0h6m82 0h6m-120 1h6m4 0h6m67 0h6m8 0h6m-160 1h6m79 0h6m-24 1h6m118 0h6m-122 1h6m44 0h6m2 0h6m55 0h6m-145 1h6m25 0h6m20 0h6m-4 0h6m-67 2h6m72 2h6m-164 1h6m68 0h6m77 1h6m-11 1h6m1 1h6m-4 0h6m-128 1h6m102 3h6m-111 2h6m30 1h6m54 1h6m36 7h6m-97 1h6" stroke="#4292c6"/><path d="M1269 1302h6m88 19h6m-139 24h6m146 19h6m-189 1h6m29 9h6m252 2h6m-264 1h6m98 0h6m53 4h6m-185 4h6m211 0h6m-14 5h6m-80 2h6m-65 3h6m87 0h6m-152 2h6m41 0h6m9 0h6m-51 1h6m-34 1h6m83 3h6m-129 1h6m100 0h6m116 0h6m-55 1h6m-86 2h6m-67 2h6m2 0h6m44 0h6m-98 2h6m166 0h6m14 0h6m-109 2h6m15 0h6m-66 1h6m106 1h6m-55 1h6m-10 1h6m58 0h6m-109 4h6m-64 3h6m158 2h6m-165 1h6m52 0h6m5 0h6m60 0h6m16 1h6m-131 1h6m-11 3h6m55 0h6m-37 1h6m-28 1h6m-3 0h6m24 2h6m28 0h6m37 0h6m-127 1h6m18 2h6m43 1h6m-44 1h6m37 0h6m-90 1h6m17 0h6m97 1h6m-108 1h6m-15 1h6m43 0h6m-133 2h6m8 0h6m18 2h6m46 0h6m-5 0h6m-64 1h6m22 0h6m2 0h6m70 0h6m25 0h6m-3 0h6m-185 1h6m8 1h6m71 0h6m-52 1h6m112 0h6m-167 1h6m25 0h6m0 0h6m27 0h6m16 0h6m15 0h6m-76 1h6m4 0h6m19 0h6m-8 1h6m-12 1h6m6 0h6m-2 2h6m12 0h6m-97 1h6m111 0h6m26 0h6m27 0h6m1 0h6m82 0h6m-332 1h6m143 0h6m52 0h6m-6 0h6m-23 1h6m-113 1h6m8 0h6m55 0h6m14 0h6m-175 1h6m68 0h6m-31 1h6m17 0h6m-47 1h6m88 0h6m-14 1h6m79 0h6m-125 2h6m41 0h6m-69 1h6m79 0h6m11 0h6m-213 1h6m84 0h6m28 0h6m5 0h6m-36 1h6m31 0h6m17 0h6m44 0h6m-64 1h6m1 0h6m-120 1h6m71 0h6m19 0h6m-27 1h6m45 0h6m-75 1h6m24 0h6m8 0h6m65 0h6m-215 1h6m94 0h6m-3 0h6m65 0h6m37 0h6m-153 1h6m-3 0h6m23 0h6m39 0h6m6 0h6m32 0h6m-131 2h6m14 0h6m73 0h6m12 0h6m-13 1h6m-148 1h6m2 0h6m34 0h6m70 0h6m0 1h6m-146 1h6m59 0h6m-8 1h6m35 0h6m13 0h6m-54 2h6m18 0h6m7 0h6m-73 1h6m156 0h6m-178 1h6m64 0h6m77 0h6m-175 1h6m58 0h6m-3 0h6m8 0h6m-1 0h6m-14 1h6m-31 1h6m83 0h6m-152 1h6m46 0h6m69 0h6m-89 1h6m4 0h6m77 1h6m-38 1h6m-174 1h6m90 0h6m16 0h6m47 0h6m-112 1h6m1 0h6m45 0h6m9 1h6m-130 1h6m33 0h6m6 1h6m24 1h6m2 0h6m3 2h6m13 0h6m23 0h6m-97 1h6m82 0h6m28 1h6m-33 1h6m-127 1h6m77 0h6m-141 1h6m158 1h6m-59 2h6m31 0h6m-81 2h6m24 0h6m11 4h6m-15 2h6" stroke="#2171b5"/><path d="M1424 1311h6m-15 4h6m-63 6h6m-84 6h6m-64 11h6m-25 1h6m98 11h6m-84 3h6m126 5h6m-185 2h6m215 2h6m39 0h6m-197 1h6m-9 1h6m-4 0h6m75 10h6m-50 1h6m183 0h6m-222 3h6m114 2h6m-152 1h6m12 5h6m2 0h6m18 2h6m-27 2h6m72 0h6m-2 1h6m24 2h6m-81 1h6m32 2h6m-47 1h6m-39 1h6m181 1h6m-218 2h6m84 0h6m-121 1h6m39 0h6m52 1h6m-143 2h6m67 1h6m25 0h6m21 0h6m5 1h6m33 0h6m-148 1h6m75 0h6m-42 1h6m86 0h6m21 0h6m-189 1h6m48 1h6m33 0h6m28 3h6m-123 1h6m-22 1h6m10 1h6m122 1h6m-81 1h6m-30 1h6m10 0h6m73 2h6m-74 1h6m26 0h6m-134 1h6m26 0h6m7 0h6m1 0h6m17 0h6m48 0h6m-10 1h6m-131 1h6m20 1h6m5 0h6m27 0h6m49 0h6m24 0h6m10 0h6m-128 1h6m7 0h6m-6 0h6m-59 1h6m80 1h6m-1 0h6m50 0h6m-155 1h6m170 0h6m-109 1h6m10 0h6m36 0h6m-149 1h6m167 0h6m-162 1h6m31 0h6m68 0h6m-128 1h6m15 0h6m19 1h6m0 3h6m-4 0h6m-16 1h6m10 0h6m11 0h6m-43 1h6m39 0h6m-111 1h6m34 0h6m70 1h6m49 0h6m47 0h6m-164 1h6m2 0h6m-7 1h6m10 0h6m49 0h6m0 0h6m19 0h6m-119 1h6m22 0h6m32 0h6m1 0h6m0 0h6m31 0h6m-97 1h6m-71 1h6m67 0h6m4 0h6m25 0h6m-80 1h6m31 0h6m-109 1h6m31 1h6m105 0h6m-144 1h6m44 1h6m7 0h6m-1 0h6m-40 1h6m145 0h6m6 0h6m-130 1h6m9 0h6m19 0h6m182 0h6m-247 1h6m-18 1h6m69 0h6m61 0h6m-248 1h6m83 0h6m108 0h6m-168 1h6m20 0h6m56 0h6m54 0h6m-90 1h6m6 0h6m28 0h6m-45 1h6m62 0h6m67 0h6m-195 1h6m62 0h6m16 0h6m31 0h6m21 0h6m-119 1h6m49 0h6m45 0h6m-51 1h6m11 1h6m18 0h6m-131 1h6m55 0h6m-48 1h6m15 0h6m17 1h6m-93 2h6m34 0h6m16 0h6m-2 0h6m20 0h6m-107 1h6m63 0h6m10 0h6m-50 1h6m39 0h6m49 0h6m-69 1h6m-37 1h6m117 0h6m-98 1h6m5 0h6m9 0h6m17 0h6m17 0h6m-101 1h6m24 0h6m33 0h6m1 0h6m-78 1h6m15 0h6m43 0h6m-39 1h6m-79 1h6m58 0h6m1 0h6m-142 1h6m50 0h6m61 0h6m9 0h6m23 0h6m31 0h6m-189 1h6m148 0h6m-93 1h6m7 1h6m56 1h6m-23 2h6m3 0h6m53 0h6m-73 1h6m-96 1h6m86 0h6m-100 1h6m13 0h6m-50 2h6m39 0h6m77 1h6m25 0h6m-98 1h6m28 0h6m44 0h6m-163 1h6m23 0h6m107 0h6m11 2h6m-113 1h6m-15 1h6m25 0h6m-111 1h6m-3 1h6m62 0h6m25 1h6m15 2h6m-2 0h6m-69 4h6m7 1h6m-23 1h6m37 0h6m-67 1h6m20 0h6m26 0h6m47 0h6m-85 1h6m10 1h6m-89 3h6m45 0h6m-79 1h6m83 1h6m-91 1h6m0 1h6m74 2h6" stroke="#08519c"/><path d="M1448 1108h6m16 28h6m-212 5h6m75 54h6m18 7h6m67 50h6m-247 3h6m41 5h6m42 0h6m-28 4h6m70 5h6m7 0h6m-90 4h6m22 0h6m-57 3h6m29 6h6m-42 6h6m74 1h6m-111 1h6m85 0h6m-49 5h6m52 5h6m-108 2h6m80 2h6m5 0h6m2 0h6m18 2h6m23 2h6m-142 2h6m11 2h6m54 1h6m-62 1h6m9 0h6m61 0h6m-146 1h6m4 2h6m26 0h6m-40 3h6m14 1h6m64 0h6m-93 1h6m111 0h6m6 0h6m-101 1h6m69 0h6m-90 2h6m17 0h6m-50 1h6m91 0h6m-88 3h6m75 0h6m44 2h6m-164 5h6m23 1h6m-7 1h6m13 1h6m-17 1h6m145 3h6m-64 1h6m-138 1h6m13 0h6m33 1h6m-35 1h6m112 0h6m-61 3h6m73 0h6m-192 2h6m48 0h6m6 0h6m112 1h6m-149 2h6m24 0h6m8 0h6m-1 0h6m28 0h6m4 1h6m-92 1h6m-6 0h6m87 0h6m-184 2h6m-6 1h6m54 0h6m-4 0h6m47 1h6m70 0h6m-27 1h6m-190 1h6m118 0h6m-53 1h6m95 0h6m-8 1h6m0 0h6m-47 1h6m20 1h6m-130 1h6m39 0h6m63 1h6m-135 3h6m99 0h6m-69 1h6m45 1h6m140 0h6m-109 1h6m-108 2h6m79 0h6m46 1h6m-161 1h6m25 0h6m66 1h6m-32 1h6m34 1h6m-148 1h6m116 0h6m-5 0h6m-1 0h6m-60 1h6m20 0h6m74 0h6m-60 1h6m12 1h6m6 0h6m-94 1h6m12 0h6m8 0h6m-42 1h6m104 1h6m-220 1h6m150 0h6m-139 1h6m62 0h6m6 1h6m38 0h6m28 0h6m43 0h6m-132 1h6m54 0h6m-110 1h6m97 0h6m-9 1h6m-91 1h6m39 0h6m8 0h6m6 0h6m15 0h6m89 0h6m-87 1h6m-2 0h6m0 0h6m-145 1h6m24 1h6m66 0h6m-60 1h6m-3 0h6m66 0h6m-110 1h6m10 0h6m21 0h6m15 0h6m-3 0h6m48 0h6m-129 1h6m26 0h6m20 0h6m2 0h6m-45 1h6m30 0h6m5 0h6m-5 0h6m-16 1h6m-117 2h6m50 0h6m32 0h6m2 0h6m1 0h6m9 0h6m4 0h6m60 0h6m63 0h6m-124 1h6m-120 1h6m145 0h6m-148 1h6m93 0h6m34 0h6m-51 1h6m-8 1h6m-58 1h6m84 0h6m-12 1h6m5 0h6m-169 1h6m71 0h6m80 0h6m10 0h6m-153 1h6m69 0h6m-29 1h6m-4 0h6m13 0h6m70 0h6m-178 2h6m10 0h6m2 0h6m32 0h6m75 0h6m-163 1h6m41 0h6m44 0h6m-102 1h6m22 0h6m-3 0h6m26 0h6m47 0h6m13 0h6m24 0h6m-107 1h6m18 0h6m0 0h6m-159 1h6m112 0h6m-3 0h6m20 0h6m-2 0h6m5 1h6m1 0h6m36 0h6m-202 1h6m85 0h6m12 0h6m42 0h6m2 0h6m-1 1h6m-127 1h6m9 0h6m31 0h6m11 0h6m9 0h6m23 0h6m5 0h6m43 0h6m-211 1h6m88 0h6m-1 0h6m-77 1h6m114 0h6m-84 1h6m73 0h6m65 0h6m-224 1h6m54 0h6m11 0h6m-6 0h6m2 0h6m22 0h6m-132 1h6m84 0h6m-2 0h6m9 0h6m98 0h6m-195 1h6m86 0h6m54 0h6m38 0h6m6 0h6m-201 1h6m29 0h6m17 0h6m1 0h6m40 0h6m-9 1h6m20 0h6m46 0h6m-211 1h6m114 0h6m18 0h6m1 0h6m8 0h6m12 0h6m-116 1h6m48 0h6m-61 1h6m4 0h6m85 0h6m-42 1h6m26 0h6m-109 1h6m21 0h6m1 0h6m90 0h6m96 0h6m-184 1h6m14 0h6m37 0h6m-81 1h6m60 0h6m-128 1h6m24 0h6m-2 0h6m21 0h6m62 0h6m16 0h6m-128 1h6m16 0h6m1 0h6m22 0h6m-81 1h6m38 0h6m29 0h6m3 0h6m-3 0h6m-34 1h6m-3 0h6m77 0h6m-6 0h6m-115 1h6m9 0h6m-116 1h6m51 0h6m30 0h6m4 0h6m63 0h6m-123 1h6m-4 0h6m18 0h6m-21 1h6m17 0h6m17 0h6m20 0h6m30 0h6m-217 1h6m67 0h6m43 0h6m29 0h6m9 0h6m27 0h6m-120 1h6m32 0h6m38 0h6m-81 1h6m46 0h6m34 0h6m44 0h6m-189 1h6m45 0h6m6 0h6m4 0h6m20 0h6m17 0h6m66 0h6m-149 1h6m-4 0h6m13 0h6m9 0h6m-5 0h6m-126 1h6m80 0h6m4 0h6m17 0h6m0 0h6m4 0h6m-1 0h6m-107 1h6m10 0h6m35 0h6m42 0h6m-94 1h6m8 0h6m5 0h6m25 0h6m-117 1h6m35 0h6m20 0h6m7 0h6m52 0h6m85 0h6m-236 1h6m-1 0h6m73 0h6m8 0h6m87 0h6m-109 1h6m15 0h6m30 0h6m-5 0h6m-115 1h6m4 0h6m31 0h6m-5 0h6m-5 0h6m3 0h6m-5 0h6m1 0h6m-80 1h6m3 0h6m-2 0h6m41 0h6m-3 0h6m44 0h6m10 0h6m-5 0h6m-114 1h6m10 0h6m-7 1h6m50 0h6m-152 1h6m92 0h6m17 0h6m45 0h6m-3 0h6m-8 1h6m16 0h6m-131 1h6m42 0h6m-3 0h6m3 0h6m3 0h6m-4 0h6m31 0h6m58 0h6m-161 1h6m42 0h6m8 0h6m31 0h6m13 0h6m-101 1h6m36 0h6m1 0h6m23 0h6m-125 1h6m0 0h6m39 0h6m-21 1h6m14 0h6m-127 1h6m88 0h6m4 0h6m-9 1h6m-3 0h6m12 0h6m-119 1h6m23 0h6m17 0h6m65 0h6m104 0h6m-201 1h6m28 0h6m7 0h6m4 0h6m26 0h6m-56 1h6m-1 0h6m24 0h6m-2 0h6m17 0h6m-107 1h6m54 0h6m53 0h6m-130 1h6m28 0h6m22 0h6m13 0h6m-6 0h6m71 0h6m-155 1h6m90 0h6m25 0h6m-180 1h6m3 0h6m143 0h6m-181 1h6m96 0h6m15 0h6m54 0h6m-9 1h6m-66 1h6m-3 0h6m22 0h6m-6 0h6m-149 1h6m33 0h6m8 0h6m25 0h6m5 0h6m58 0h6m37 0h6m-187 1h6m52 0h6m11 0h6m51 0h6m1 0h6m-129 1h6m92 0h6m1 0h6m-8 1h6m6 0h6m35 0h6m36 0h6m-189 1h6m14 0h6m24 0h6m42 0h6m-2 0h6m-73 1h6m50 0h6m-135 1h6m34 0h6m66 0h6m3 0h6m39 0h6m-203 1h6m133 0h6m14 0h6m23 0h6m1 0h6m-3 0h6m-108 1h6m54 0h6m37 0h6m-96 1h6m-123 1h6m102 0h6m-21 1h6m3 0h6m8 0h6m18 0h6m10 0h6m-162 1h6m9 0h6m-5 0h6m102 0h6m5 0h6m5 0h6m2 0h6m-145 1h6m42 0h6m3 1h6m34 0h6m44 0h6m-58 1h6m30 0h6m-51 1h6m-73 1h6m173 0h6m-220 1h6m27 1h6m95 0h6m16 0h6m-159 1h6m80 0h6m-4 0h6m-34 1h6m44 0h6m-113 2h6m50 0h6m36 0h6m-89 2h6m-22 1h6m137 0h6m-149 1h6m-3 0h6m9 0h6m-5 0h6m-29 1h6m27 0h6m59 0h6m-88 7h6m-2 1h6" stroke="#08306b"/><path d="M1213 1508h6" stroke="#fff5f0"/><path d="M1314 1459h6m-132 2h6m19 6h6m61 1h6m-26 2h6m18 3h6m15 0h6m-83 6h6m52 14h6m12 5h6m-124 3h6m-78 4h6m108 0h6m76 13h6" stroke="#fee0d2"/><path d="M1381 1404h6m-35 10h6m-68 17h6m12 1h6m-35 12h6m-72 2h6m10 1h6m65 2h6m-31 11h6m-103 3h6m231 2h6m-172 1h6m32 2h6m-20 3h6m58 0h6m-57 3h6m11 0h6m-175 4h6m181 0h6m-129 5h6m-8 4h6m45 0h6m84 0h6m-68 3h6m-53 2h6m-1 0h6m67 0h6m-31 1h6m16 0h6m-133 1h6m14 0h6m20 0h6m-11 5h6m19 1h6m50 3h6m-191 9h6m113 2h6m16 1h6m-150 4h6" stroke="#fcbba1"/><path d="M1153 1368h6m48 32h6m79 1h6m58 2h6m-134 6h6m43 0h6m108 2h6m-187 7h6m167 2h6m-66 4h6m-36 1h6m50 0h6m23 1h6m-158 2h6m-19 1h6m71 0h6m-114 5h6m24 3h6m25 0h6m-23 2h6m3 2h6m9 3h6m61 1h6m-9 2h6m5 0h6m32 0h6m-197 1h6m96 0h6m89 0h6m-120 1h6m-112 1h6m183 0h6m-125 2h6m66 0h6m-69 2h6m26 0h6m-35 2h6m54 0h6m3 0h6m-14 1h6m8 0h6m-8 1h6m-26 2h6m28 1h6m-70 1h6m3 1h6m-4 1h6m14 0h6m2 1h6m-3 0h6m-172 1h6m54 0h6m49 1h6m42 0h6m-98 1h6m108 0h6m4 0h6m-28 1h6m-4 2h6m-70 1h6m9 0h6m-3 0h6m138 1h6m-138 2h6m14 2h6m-7 1h6m-83 1h6m18 0h6m-1 0h6m3 0h6m0 0h6m-53 1h6m79 3h6m-5 1h6m30 2h6m-167 1h6m118 0h6m-137 1h6m0 0h6m-6 0h6m75 0h6m30 0h6m16 0h6m-55 1h6m8 0h6m-45 1h6m46 1h6m0 0h6m-68 1h6m62 0h6m19 0h6m-182 1h6m32 0h6m25 0h6m42 0h6m16 0h6m-118 1h6m79 0h6m27 0h6m16 0h6m-102 2h6m69 0h6m-78 1h6m101 0h6m12 0h6m-87 2h6m-98 2h6m34 0h6m-79 1h6m178 0h6m-152 2h6m50 0h6m51 0h6m24 0h6m-147 2h6m24 1h6m25 1h6m-40 4h6m18 2h6m-32 7h6" stroke="#fc9272"/><path d="M1361 1348h6m-126 5h6m-2 3h6m59 0h6m-17 17h6m115 1h6m-190 7h6m44 1h6m9 1h6m56 4h6m9 0h6m-62 4h6m-123 4h6m-22 1h6m25 5h6m35 1h6m67 1h6m-185 3h6m76 0h6m63 0h6m49 2h6m-86 1h6m56 3h6m-31 2h6m20 5h6m-13 1h6m-41 4h6m-23 1h6m60 3h6m11 0h6m27 0h6m-104 1h6m-97 1h6m234 3h6m-236 1h6m20 0h6m7 0h6m145 0h6m-163 1h6m63 0h6m-97 2h6m-43 1h6m31 0h6m47 0h6m-1 0h6m-43 2h6m13 0h6m37 1h6m-101 1h6m-60 1h6m9 0h6m44 0h6m5 0h6m-72 1h6m93 1h6m42 0h6m0 0h6m-162 1h6m87 0h6m55 2h6m12 1h6m-2 0h6m-135 1h6m51 0h6m-24 1h6m8 0h6m-76 1h6m19 0h6m74 0h6m-177 1h6m-2 0h6m1 0h6m39 0h6m38 0h6m40 0h6m13 0h6m-30 2h6m-58 1h6m68 0h6m-46 1h6m5 0h6m-1 0h6m-27 1h6m-2 0h6m52 0h6m58 0h6m-166 1h6m37 0h6m92 0h6m-123 2h6m26 0h6m87 0h6m-83 1h6m28 0h6m-50 1h6m-85 1h6m70 0h6m28 0h6m-94 1h6m-5 0h6m21 0h6m16 0h6m-5 0h6m-4 0h6m-5 0h6m-41 1h6m35 0h6m32 0h6m-84 1h6m26 0h6m-6 0h6m-71 1h6m0 0h6m5 0h6m6 2h6m0 0h6m11 0h6m-16 1h6m22 0h6m1 0h6m-26 1h6m-50 1h6m18 0h6m-97 1h6m108 0h6m16 0h6m-162 1h6m54 1h6m31 0h6m24 0h6m-62 1h6m27 0h6m-32 1h6m7 0h6m32 0h6m-77 1h6m16 0h6m14 0h6m23 0h6m59 0h6m26 0h6m-161 1h6m3 0h6m111 0h6m-204 1h6m88 0h6m37 0h6m-4 1h6m35 0h6m-44 1h6m-134 1h6m64 0h6m20 0h6m-6 0h6m8 0h6m38 0h6m-137 1h6m52 0h6m12 0h6m3 0h6m22 0h6m6 1h6m-136 1h6m30 0h6m61 0h6m-1 0h6m-124 1h6m70 0h6m3 1h6m13 0h6m52 0h6m-109 1h6m61 0h6m-139 1h6m102 0h6m67 0h6m-47 1h6m-69 1h6m7 0h6m30 0h6m-73 1h6m38 0h6m-29 1h6m11 0h6m144 0h6m-92 1h6m-98 1h6m18 0h6m18 0h6m38 1h6m-110 1h6m102 0h6m-177 1h6m0 0h6m7 0h6m-2 0h6m1 0h6m27 0h6m-26 1h6m17 0h6m23 0h6m-14 1h6m16 0h6m-3 0h6m-79 1h6m92 1h6m-29 1h6m-148 1h6m36 0h6m108 0h6m42 0h6m-45 1h6m45 0h6m-224 1h6m116 2h6m25 0h6m-77 1h6m30 0h6m19 0h6m-56 1h6m-2 0h6m-6 1h6m70 1h6m-114 3h6m15 2h6m-98 2h6m23 2h6m15 0h6m-70 2h6" stroke="#fb6a4a"/><path d="M1369 1264h6m-41 46h6m-27 3h6m32 12h6m-188 29h6m25 13h6m137 2h6m-97 1h6m-37 2h6m63 6h6m102 0h6m51 6h6m-132 1h6m-35 2h6m-43 2h6m97 0h6m-98 1h6m3 1h6m-45 1h6m-33 1h6m122 1h6m-109 1h6m48 1h6m115 3h6m-213 3h6m108 1h6m7 0h6m81 0h6m-156 2h6m-39 1h6m109 0h6m-130 1h6m64 2h6m88 1h6m-158 1h6m11 0h6m-3 0h6m103 0h6m-115 1h6m49 0h6m-180 2h6m122 1h6m-5 0h6m-29 1h6m-27 5h6m16 0h6m7 0h6m81 1h6m22 0h6m-67 1h6m-48 1h6m-3 0h6m66 0h6m-85 1h6m100 0h6m-152 1h6m48 1h6m28 0h6m33 0h6m-111 1h6m-127 1h6m44 0h6m118 0h6m-44 1h6m11 0h6m101 0h6m-142 1h6m41 0h6m19 0h6m85 0h6m-90 1h6m-4 0h6m-103 1h6m9 0h6m-3 0h6m1 0h6m-56 1h6m108 0h6m-105 1h6m-3 0h6m132 0h6m-172 1h6m-10 1h6m4 0h6m28 0h6m37 0h6m-110 1h6m102 0h6m-109 1h6m70 0h6m-1 0h6m3 0h6m125 0h6m-119 1h6m1 0h6m-79 1h6m52 1h6m87 0h6m-45 1h6m15 0h6m-3 0h6m-157 1h6m74 0h6m-69 1h6m99 0h6m-55 1h6m14 0h6m3 0h6m-4 0h6m23 0h6m21 0h6m-174 1h6m26 0h6m39 0h6m-116 1h6m42 0h6m25 0h6m36 0h6m-69 1h6m50 0h6m-77 1h6m16 0h6m51 0h6m-50 1h6m13 0h6m53 0h6m-205 1h6m96 0h6m58 0h6m-158 1h6m77 0h6m-1 0h6m33 0h6m0 0h6m-58 1h6m-1 0h6m21 0h6m23 0h6m2 0h6m-74 1h6m29 0h6m10 0h6m8 0h6m-6 0h6m-75 1h6m57 0h6m55 0h6m-173 1h6m51 0h6m38 0h6m43 0h6m-108 1h6m-2 0h6m55 0h6m-1 0h6m0 0h6m70 0h6m-174 1h6m-43 1h6m76 0h6m4 0h6m-2 0h6m16 0h6m-146 1h6m89 0h6m53 0h6m-65 1h6m-17 1h6m3 0h6m-3 0h6m0 0h6m-63 1h6m1 0h6m128 0h6m12 0h6m-176 1h6m83 0h6m-108 1h6m78 0h6m-25 1h6m19 0h6m0 0h6m36 0h6m10 0h6m-153 1h6m53 0h6m-33 1h6m6 0h6m15 0h6m-4 0h6m123 0h6m-201 1h6m20 0h6m32 0h6m-137 1h6m106 0h6m41 0h6m2 0h6m89 0h6m-179 1h6m12 0h6m4 0h6m1 0h6m-3 0h6m66 0h6m-101 1h6m15 0h6m-124 1h6m53 0h6m16 0h6m7 0h6m35 0h6m-5 0h6m24 0h6m43 0h6m-171 1h6m42 0h6m7 0h6m16 0h6m-52 1h6m12 0h6m12 0h6m35 0h6m24 0h6m39 0h6m-151 1h6m25 0h6m18 0h6m-110 1h6m24 0h6m-4 0h6m40 0h6m35 0h6m-2 0h6m-83 1h6m7 0h6m-2 0h6m28 0h6m4 0h6m41 0h6m-75 1h6m25 0h6m15 0h6m-81 1h6m18 0h6m-147 1h6m85 0h6m24 0h6m75 0h6m36 0h6m-1 0h6m-143 1h6m18 0h6m18 0h6m35 0h6m-155 1h6m29 0h6m24 0h6m-3 0h6m35 0h6m4 0h6m24 0h6m-77 1h6m56 0h6m-65 1h6m23 0h6m57 0h6m-88 1h6m-6 0h6m35 0h6m11 0h6m-109 1h6m28 0h6m-138 1h6m175 0h6m-73 1h6m22 0h6m3 0h6m-56 1h6m14 0h6m24 0h6m-79 1h6m30 0h6m74 0h6m-117 1h6m45 0h6m24 0h6m20 0h6m-157 1h6m71 0h6m7 0h6m-78 1h6m35 1h6m33 0h6m5 0h6m-4 0h6m31 0h6m-118 1h6m2 0h6m0 0h6m16 0h6m-102 1h6m21 0h6m86 0h6m-15 1h6m-5 1h6m15 0h6m6 0h6m57 0h6m-137 1h6m4 0h6m-103 1h6m34 0h6m94 0h6m9 1h6m-68 1h6m0 1h6m95 0h6m-229 1h6m98 0h6m-59 1h6m54 0h6m36 0h6m31 0h6m-111 2h6m20 0h6m35 0h6m3 0h6m-100 1h6m-73 1h6m0 0h6m152 0h6m25 0h6m-81 1h6m-53 2h6m22 0h6m39 0h6m-152 1h6m109 0h6m13 0h6m-133 1h6m19 0h6m-2 1h6m40 0h6m60 1h6m-141 3h6m4 1h6" stroke="#ef3b2c"/><path d="M1346 1230h6m35 66h6m-238 1h6m216 4h6m50 3h6m-33 19h6m-61 9h6m-148 5h6m51 4h6m138 3h6m-89 2h6m75 2h6m-181 1h6m31 0h6m1 2h6m-71 1h6m45 2h6m85 0h6m60 1h6m-148 2h6m37 0h6m-65 2h6m75 0h6m5 3h6m29 0h6m-110 1h6m54 0h6m-30 6h6m-153 3h6m170 0h6m-194 2h6m154 0h6m10 3h6m60 2h6m-105 2h6m5 0h6m-82 2h6m208 2h6m-183 2h6m50 0h6m38 0h6m-88 3h6m65 1h6m-103 1h6m107 0h6m-58 1h6m-28 4h6m-103 1h6m23 1h6m67 1h6m-125 1h6m92 1h6m50 0h6m-97 1h6m7 0h6m87 0h6m0 2h6m-110 1h6m49 0h6m-62 1h6m16 0h6m-86 1h6m6 0h6m32 0h6m4 0h6m9 0h6m-109 2h6m59 0h6m156 0h6m-203 1h6m52 0h6m9 0h6m35 0h6m39 1h6m-98 1h6m35 0h6m-138 1h6m80 0h6m16 0h6m-57 1h6m73 0h6m-142 1h6m27 0h6m51 0h6m44 0h6m-38 1h6m-129 1h6m-4 0h6m84 1h6m33 0h6m-1 0h6m9 0h6m-70 1h6m7 0h6m30 0h6m-120 1h6m206 0h6m3 0h6m-206 1h6m18 0h6m9 0h6m15 0h6m38 0h6m39 0h6m13 0h6m-236 1h6m132 0h6m27 0h6m19 0h6m14 0h6m-83 1h6m-66 1h6m-24 1h6m66 0h6m70 0h6m3 0h6m3 0h6m-244 1h6m43 0h6m46 0h6m-3 0h6m95 0h6m-188 1h6m117 0h6m163 0h6m-222 1h6m104 0h6m-55 1h6m20 0h6m58 0h6m-251 1h6m67 0h6m172 0h6m20 0h6m-260 1h6m-1 0h6m94 0h6m133 0h6m-176 1h6m77 0h6m10 0h6m-113 1h6m13 0h6m4 0h6m140 0h6m-187 1h6m-6 1h6m-4 0h6m101 0h6m-137 1h6m-2 0h6m52 0h6m-18 1h6m10 0h6m60 0h6m19 0h6m21 0h6m-209 1h6m68 0h6m-37 1h6m34 0h6m15 0h6m-125 1h6m43 0h6m33 0h6m63 0h6m16 0h6m-243 1h6m119 0h6m0 0h6m20 0h6m59 0h6m-70 1h6m-1 0h6m-148 1h6m155 0h6m4 0h6m-140 1h6m79 0h6m27 0h6m6 0h6m61 0h6m-235 1h6m104 0h6m30 0h6m3 0h6m89 0h6m-143 1h6m22 0h6m-28 1h6m-24 1h6m8 0h6m-5 0h6m29 0h6m-54 1h6m6 0h6m10 0h6m12 0h6m-97 1h6m22 0h6m35 0h6m72 0h6m1 0h6m-193 1h6m79 0h6m30 0h6m61 0h6m-173 1h6m145 0h6m25 0h6m-130 1h6m8 0h6m85 0h6m-133 1h6m49 0h6m-2 1h6m10 0h6m-43 1h6m0 0h6m62 0h6m0 0h6m-76 1h6m-1 0h6m-5 0h6m53 0h6m-76 1h6m-4 0h6m36 0h6m43 0h6m-161 1h6m41 0h6m17 0h6m74 0h6m-124 1h6m77 0h6m31 0h6m-147 1h6m19 0h6m11 0h6m-35 1h6m8 0h6m11 0h6m-4 0h6m22 0h6m-117 1h6m48 0h6m2 0h6m59 0h6m-148 1h6m31 0h6m23 0h6m93 0h6m-149 1h6m26 0h6m5 0h6m66 0h6m-17 1h6m28 0h6m-75 1h6m17 0h6m-36 1h6m-76 1h6m45 0h6m-1 0h6m-87 2h6m75 0h6m8 0h6m-43 1h6m60 0h6m-3 0h6m-142 1h6m9 0h6m81 0h6m66 0h6m-79 1h6m9 0h6m-121 1h6m45 0h6m17 0h6m3 0h6m40 0h6m24 0h6m51 0h6m-209 1h6m47 0h6m31 0h6m21 0h6m10 0h6m33 0h6m17 0h6m-94 1h6m30 0h6m-1 0h6m15 0h6m-132 1h6m31 0h6m39 0h6m-163 1h6m96 0h6m-2 0h6m100 0h6m-191 1h6m36 0h6m6 0h6m27 0h6m47 0h6m-97 1h6m24 0h6m6 0h6m7 0h6m5 0h6m-86 1h6m23 0h6m31 0h6m-151 1h6m188 0h6m-102 1h6m1 0h6m24 0h6m8 0h6m37 0h6m-1 0h6m-3 0h6m-150 1h6m57 0h6m64 0h6m-101 1h6m23 0h6m6 0h6m13 0h6m25 0h6m-124 1h6m39 0h6m63 0h6m-129 1h6m46 0h6m9 0h6m7 0h6m16 0h6m31 1h6m-52 1h6m-86 1h6m14 0h6m5 0h6m52 0h6m-102 1h6m43 0h6m1 0h6m-106 2h6m71 0h6m-2 0h6m15 1h6m12 0h6m-132 1h6m133 0h6m-160 1h6m73 0h6m50 0h6m-44 1h6m40 0h6m21 1h6m-73 1h6m-3 0h6m5 0h6m35 0h6m34 0h6m-82 1h6m-119 1h6m19 0h6m118 0h6m-136 1h6m29 0h6m43 0h6m-5 0h6m3 0h6m13 0h6m6 0h6m-2 0h6m-155 1h6m25 0h6m71 0h6m107 0h6m-239 1h6m85 1h6m-14 1h6m2 0h6m13 1h6m-108 1h6m107 0h6m-95 3h6m104 1h6m-96 1h6m-57 1h6m73 0h6" stroke="#cb181d"/><path d="M1288 1172h6m-63 39h6m114 14h6m-123 20h6m187 38h6m-109 4h6m50 0h6m-105 6h6m26 9h6m40 5h6m-90 4h6m-6 3h6m36 0h6m-68 6h6m-9 4h6m-54 1h6m262 0h6m-331 1h6m185 1h6m-1 1h6m-104 4h6m-14 5h6m50 4h6m134 0h6m-141 4h6m-59 2h6m108 1h6m-52 1h6m120 0h6m-26 5h6m-241 1h6m159 2h6m-108 3h6m29 1h6m62 4h6m12 0h6m6 0h6m-51 1h6m-72 4h6m50 1h6m16 2h6m-190 2h6m141 3h6m34 0h6m41 0h6m-181 1h6m-1 0h6m84 0h6m-88 1h6m63 0h6m-79 1h6m-1 0h6m39 0h6m51 0h6m9 0h6m-204 1h6m54 0h6m101 1h6m-27 1h6m-66 2h6m27 0h6m62 1h6m32 1h6m16 0h6m-178 2h6m35 1h6m-54 2h6m46 0h6m-6 0h6m5 0h6m35 0h6m-54 1h6m50 0h6m39 1h6m-113 2h6m59 0h6m-119 1h6m83 1h6m70 0h6m-140 2h6m32 0h6m21 0h6m-18 1h6m5 0h6m-133 3h6m1 0h6m12 0h6m48 0h6m29 0h6m47 0h6m-178 1h6m20 0h6m16 0h6m76 0h6m-4 0h6m-122 1h6m67 0h6m11 0h6m29 0h6m-125 2h6m30 0h6m69 1h6m-35 2h6m-135 1h6m14 0h6m143 0h6m-176 1h6m79 0h6m33 0h6m-92 1h6m49 0h6m31 0h6m18 0h6m-149 1h6m79 0h6m16 0h6m-133 1h6m81 0h6m30 0h6m47 0h6m-74 1h6m-40 1h6m-66 1h6m63 0h6m81 0h6m-131 1h6m24 0h6m0 0h6m26 0h6m18 1h6m53 0h6m-203 1h6m24 0h6m52 0h6m60 0h6m27 0h6m67 0h6m-241 1h6m54 1h6m91 0h6m5 0h6m39 0h6m-122 1h6m-110 1h6m159 0h6m-85 1h6m10 0h6m4 0h6m-59 1h6m31 0h6m-72 2h6m39 0h6m18 0h6m54 0h6m-1 0h6m-104 1h6m-6 0h6m16 0h6m13 1h6m32 0h6m-125 1h6m78 0h6m184 0h6m-293 1h6m80 0h6m48 0h6m15 0h6m-45 1h6m51 0h6m-117 1h6m13 1h6m24 0h6m-19 1h6m23 0h6m-89 1h6m-2 1h6m-32 1h6m1 0h6m25 0h6m22 0h6m41 0h6m-102 1h6m39 0h6m46 0h6m-46 1h6m17 0h6m-86 1h6m0 0h6m2 0h6m7 0h6m28 0h6m-95 1h6m136 0h6m30 0h6m-183 1h6m15 0h6m24 0h6m72 0h6m2 0h6m-121 1h6m-27 2h6m147 0h6m-136 1h6m43 0h6m-145 1h6m103 0h6m-1 0h6m63 0h6m-131 1h6m75 0h6m-106 1h6m75 0h6m29 0h6m18 0h6m4 0h6m-54 1h6m-5 0h6m-1 0h6m-99 1h6m65 0h6m-38 1h6m-65 1h6m67 0h6m36 0h6m-93 1h6m67 0h6m-4 0h6m11 0h6m-107 1h6m50 0h6m-100 1h6m99 0h6m-131 1h6m9 0h6m65 0h6m13 1h6m0 0h6m-74 1h6m17 0h6m6 0h6m7 0h6m86 0h6m33 0h6m-219 1h6m62 0h6m69 1h6m34 0h6m-34 1h6m-55 1h6m7 0h6m21 0h6m11 0h6m-80 1h6m66 0h6m-116 1h6m20 0h6m23 0h6m30 0h6m-5 0h6m-130 1h6m2 0h6m122 0h6m-54 1h6m-128 1h6m104 0h6m37 0h6m-3 0h6m46 0h6m-154 1h6m58 0h6m-4 0h6m0 1h6m-30 1h6m4 0h6m-3 3h6m43 0h6m-80 1h6m25 1h6m13 1h6m-5 0h6m-107 1h6m40 0h6m15 0h6m3 0h6m-4 0h6m6 0h6m-124 1h6m49 0h6m56 1h6m27 0h6m-92 1h6m15 0h6m10 0h6m-34 1h6m37 0h6m-140 1h6m105 0h6m8 0h6m7 0h6m20 0h6m-77 1h6m-2 0h6m14 0h6m-19 1h6m56 0h6m-96 1h6m45 0h6m-43 1h6m1 0h6m-132 2h6m136 0h6m-4 0h6m16 0h6m4 0h6m58 0h6m-69 1h6m-162 2h6m64 0h6m12 2h6m22 0h6m-70 2h6m53 0h6m15 0h6m-21 1h6m-3 0h6m4 1h6m12 0h6m-110 1h6m46 3h6m-105 3h6m41 0h6m-71 1h6m43 0h6m-53 2h6m10 0h6m-19 8h6m-11 3h6" stroke="#a50f15"/><path d="M1315 1138h6m34 43h6m-92 4h6m210 3h6m-138 10h6m-85 31h6m101 22h6m-47 4h6m-2 4h6m-185 1h6m181 9h6m-106 2h6m89 4h6m-181 3h6m64 12h6m15 4h6m177 0h6m-209 3h6m161 2h6m-190 2h6m-5 2h6m73 0h6m-38 1h6m-68 1h6m37 1h6m57 0h6m11 0h6m113 1h6m-150 2h6m-26 1h6m32 1h6m-121 2h6m-67 5h6m217 1h6m7 1h6m-165 4h6m115 0h6m-62 1h6m-71 1h6m93 1h6m17 1h6m-20 2h6m-22 5h6m-21 1h6m67 4h6m-214 2h6m183 0h6m-71 1h6m26 1h6m-143 2h6m-25 3h6m64 0h6m33 1h6m-14 3h6m-2 0h6m-66 2h6m62 0h6m-39 1h6m135 1h6m-110 1h6m-59 1h6m20 0h6m79 0h6m-19 2h6m13 1h6m-1 0h6m-120 1h6m113 0h6m-5 0h6m-122 1h6m86 0h6m-126 2h6m115 0h6m-100 1h6m-1 1h6m106 0h6m-105 1h6m66 0h6m-172 1h6m111 0h6m8 0h6m-87 2h6m97 0h6m111 1h6m-271 1h6m54 0h6m72 0h6m147 1h6m-289 1h6m-6 0h6m59 0h6m-32 1h6m-44 1h6m184 0h6m50 0h6m-140 1h6m-43 1h6m74 0h6m-80 1h6m22 1h6m-5 1h6m-5 2h6m-73 1h6m64 0h6m-29 1h6m-76 2h6m15 0h6m60 0h6m15 0h6m3 0h6m25 0h6m-142 1h6m43 0h6m-112 1h6m79 0h6m45 0h6m-154 1h6m121 0h6m96 0h6m-169 2h6m0 0h6m131 0h6m-224 1h6m203 0h6m-31 1h6m7 0h6m13 0h6m-92 1h6m19 0h6m48 1h6m-216 1h6m273 0h6m-282 1h6m97 0h6m0 0h6m8 0h6m87 0h6m-175 1h6m-19 1h6m83 0h6m-66 1h6m42 0h6m63 0h6m-77 1h6m66 0h6m-66 1h6m26 0h6m-86 1h6m-20 1h6m19 0h6m4 0h6m20 0h6m-138 1h6m6 0h6m227 0h6m-182 1h6m61 0h6m35 0h6m-181 1h6m78 0h6m22 0h6m12 0h6m68 0h6m-163 2h6m46 0h6m7 0h6m54 0h6m4 0h6m33 0h6m-113 1h6m-37 2h6m41 0h6m61 0h6m-158 1h6m-6 1h6m106 0h6m-79 1h6m-73 1h6m103 0h6m24 1h6m-1 0h6m50 0h6m15 0h6m-131 1h6m16 0h6m42 0h6m-65 1h6m24 0h6m-71 1h6m10 0h6m-54 2h6m22 0h6m28 0h6m-1 0h6m11 0h6m57 0h6m11 0h6m-230 1h6m98 0h6m97 0h6m27 0h6m-129 1h6m8 1h6m-62 1h6m22 0h6m13 0h6m15 0h6m-55 1h6m-2 0h6m110 0h6m-107 1h6m-124 1h6m91 0h6m9 0h6m-99 1h6m57 0h6m48 0h6m-5 0h6m19 0h6m18 0h6m49 0h6m-115 1h6m23 0h6m10 1h6m-51 1h6m-35 1h6m17 0h6m16 0h6m46 0h6m8 0h6m-167 1h6m31 1h6m11 1h6m-57 1h6m90 1h6m-89 1h6m57 0h6m-3 0h6m2 0h6m8 0h6m-54 1h6m3 0h6m17 0h6m-15 1h6m24 0h6m-88 1h6m91 0h6m-157 1h6m36 0h6m175 0h6m-20 1h6m-256 1h6m74 0h6m87 0h6m-16 1h6m12 0h6m1 0h6m55 0h6m-106 1h6m-3 0h6m-34 1h6m-16 1h6m49 0h6m-2 0h6m-3 0h6m-123 1h6m6 0h6m46 1h6m3 0h6m-6 0h6m1 1h6m17 1h6m77 0h6m-206 1h6m72 0h6m20 0h6m13 0h6m-2 0h6m10 0h6m-170 1h6m-9 1h6m188 0h6m24 0h6m-180 1h6m72 0h6m-113 1h6m107 1h6m-53 1h6m10 0h6m56 0h6m-85 1h6m24 0h6m-148 1h6m96 0h6m105 0h6m-158 1h6m87 0h6m23 0h6m-29 1h6m-3 0h6m-96 1h6m15 0h6m2 0h6m59 0h6m-156 1h6m73 0h6m-13 1h6m42 0h6m19 0h6m13 0h6m-2 0h6m-75 2h6m21 0h6m12 0h6m-3 0h6m-3 0h6m16 0h6m-36 1h6m-19 1h6m-140 1h6m194 0h6m72 0h6m-231 1h6m104 0h6m-76 1h6m41 0h6m-80 2h6m73 0h6m-113 1h6m78 0h6m-45 1h6m21 0h6m5 0h6m-123 1h6m146 0h6m0 0h6m-102 1h6m16 0h6m76 0h6m-182 3h6m166 0h6m-118 1h6m37 2h6m19 0h6m27 0h6m-103 6h6m-2 0h6m62 2h6m-156 2h6m16 0h6m111 1h6m6 0h6m-123 1h6m72 0h6m23 2h6m37 0h6m-96 1h6m34 0h6m16 0h6m-158 1h6m-5 1h6m128 0h6m-145 1h6m-3 0h6m111 0h6m-3 2h6m-38 1h6m-96 5h6m-7 1h6m4 1h6" stroke="#67000d"/><path d="M1446 1505h6m-190 2h6" stroke="#deebf7"/><path d="M1299 1475h6m-35 5h6m-95 1h6m129 7h6m3 3h6m-79 1h6m-87 7h6m20 7h6m104 15h6" stroke="#c6dbef"/><path d="M1205 1398h6m-28 3h6m135 5h6m-157 31h6m138 5h6m-16 2h6m-65 6h6m7 19h6m69 3h6m-64 12h6m-92 1h6m123 0h6m3 0h6m-79 3h6m-75 3h6m39 3h6m95 0h6m-215 1h6m185 0h6m-30 1h6m-165 1h6m66 1h6m98 1h6m-156 1h6m88 3h6m-17 1h6m-29 2h6m38 3h6m-85 1h6m83 7h6" stroke="#9ecae1"/><path d="M1272 1400h6m79 6h6m-121 2h6m38 7h6m1 16h6m-117 9h6m-11 4h6m109 1h6m24 11h6m-81 1h6m84 1h6m1 3h6m-60 1h6m-2 4h6m-103 2h6m29 0h6m15 0h6m-10 1h6m81 0h6m-39 1h6m-8 1h6m-65 1h6m97 5h6m60 0h6m-161 3h6m-17 1h6m1 7h6m20 0h6m16 0h6m-182 2h6m113 0h6m6 0h6m25 0h6m-64 2h6m25 0h6m48 0h6m104 0h6m-170 1h6m-36 1h6m1 1h6m17 1h6m40 3h6m-33 1h6m-35 2h6m-69 1h6m72 0h6m-97 1h6m9 1h6m-32 1h6m6 0h6m26 0h6m32 0h6m0 2h6m-30 1h6m-7 1h6m4 1h6m-68 2h6m38 2h6m-25 1h6m-94 2h6m28 3h6m-25 4h6" stroke="#6baed6"/><path d="M1402 1330h6m-72 7h6m27 26h6m-74 23h6m-87 14h6m90 2h6m-61 4h6m-32 2h6m55 9h6m-12 1h6m-58 1h6m12 2h6m-36 1h6m44 1h6m-70 1h6m22 6h6m32 1h6m-96 1h6m40 1h6m-26 2h6m14 2h6m21 0h6m31 0h6m-64 1h6m3 0h6m-7 1h6m37 0h6m42 0h6m-79 2h6m49 1h6m10 0h6m-103 1h6m-45 1h6m111 1h6m10 0h6m-59 1h6m15 0h6m8 1h6m-158 2h6m94 0h6m0 0h6m10 0h6m-121 1h6m93 0h6m18 0h6m-88 1h6m159 0h6m-177 1h6m-40 2h6m99 0h6m50 1h6m-32 1h6m-176 1h6m131 0h6m-20 1h6m65 1h6m-130 1h6m34 0h6m-18 1h6m-10 1h6m69 0h6m-60 1h6m13 0h6m18 0h6m37 0h6m8 1h6m5 0h6m-147 1h6m31 0h6m-25 1h6m8 1h6m-42 2h6m54 0h6m-28 2h6m22 0h6m-4 0h6m1 0h6m26 0h6m18 0h6m-100 1h6m-79 1h6m102 0h6m-6 1h6m43 0h6m-64 1h6m-111 1h6m101 1h6m48 0h6m-86 1h6m45 1h6m-136 1h6m67 0h6m4 1h6m-110 1h6m30 0h6m34 0h6m-98 1h6m34 0h6m45 1h6m33 1h6m-1 0h6m7 0h6m-68 1h6m37 0h6m-21 1h6m-4 0h6m69 0h6m-155 2h6m-1 0h6m61 1h6m-52 2h6m15 0h6m57 0h6m45 0h6m-255 1h6m120 0h6m17 0h6m28 0h6m23 0h6m-72 1h6m-92 1h6m92 0h6m-16 2h6m54 0h6m-108 1h6m-6 0h6m31 0h6m22 0h6m-5 0h6m-95 1h6m115 0h6m-85 1h6m41 0h6m-30 1h6m-46 1h6m-108 2h6m97 0h6m25 0h6m-88 1h6m83 1h6m-49 2h6m-103 2h6m42 1h6m56 1h6m-36 1h6m-63 3h6m97 2h6" stroke="#4292c6"/><path d="M1317 1245h6m70 71h6m-83 9h6m-59 1h6m-39 18h6m101 14h6m-66 1h6m88 3h6m-135 4h6m-25 4h6m63 3h6m25 0h6m15 0h6m-44 3h6m-66 1h6m-31 3h6m63 0h6m107 4h6m-52 1h6m-67 1h6m-36 1h6m36 2h6m-108 2h6m134 0h6m-100 6h6m36 5h6m-55 1h6m-6 3h6m40 0h6m1 2h6m-47 2h6m1 1h6m109 0h6m43 2h6m-114 1h6m-35 1h6m-119 1h6m197 0h6m-181 2h6m38 0h6m102 0h6m0 1h6m-97 1h6m-65 1h6m-2 1h6m16 0h6m3 0h6m48 0h6m25 0h6m-38 2h6m52 1h6m-119 1h6m105 0h6m-178 1h6m89 1h6m17 0h6m-112 2h6m99 0h6m-94 1h6m93 0h6m-28 1h6m2 0h6m1 0h6m-33 1h6m28 0h6m-80 1h6m43 0h6m-104 1h6m55 0h6m-60 1h6m32 1h6m57 0h6m-107 1h6m190 0h6m-173 1h6m4 1h6m6 0h6m40 0h6m108 0h6m-163 1h6m50 0h6m32 0h6m-126 1h6m27 0h6m-43 1h6m102 0h6m56 1h6m-252 1h6m197 0h6m-63 2h6m77 2h6m-93 1h6m-141 1h6m92 0h6m-53 1h6m13 0h6m-2 0h6m-10 2h6m-40 1h6m50 0h6m26 0h6m20 0h6m-162 1h6m167 0h6m-39 1h6m9 0h6m36 1h6m-89 1h6m-46 1h6m6 0h6m45 0h6m54 0h6m0 0h6m-95 1h6m37 0h6m13 0h6m-95 1h6m2 0h6m15 0h6m9 0h6m37 0h6m2 0h6m-61 1h6m5 0h6m-2 0h6m-5 0h6m47 0h6m-102 1h6m-6 0h6m68 0h6m4 0h6m-178 2h6m35 0h6m48 0h6m13 0h6m-34 1h6m13 0h6m68 0h6m-119 1h6m176 0h6m-124 1h6m-118 1h6m44 0h6m11 0h6m38 0h6m42 0h6m-164 1h6m52 1h6m27 0h6m-35 1h6m-6 0h6m-4 0h6m9 0h6m11 0h6m-88 3h6m53 0h6m-51 1h6m23 0h6m-9 1h6m-33 1h6m63 0h6m-2 0h6m-131 1h6m107 1h6m-161 1h6m71 0h6m-26 1h6m24 0h6m58 0h6m-1 0h6m1 1h6m33 0h6m21 0h6m-190 2h6m37 0h6m20 0h6m-67 2h6m188 0h6m-114 1h6m15 0h6m-159 1h6m2 0h6m156 0h6m-103 1h6m14 0h6m-4 0h6m9 0h6m-62 1h6m33 0h6m100 0h6m5 0h6m-220 1h6m81 0h6m20 0h6m52 0h6m-1 1h6m4 0h6m-127 1h6m95 0h6m-30 1h6m-44 1h6m24 0h6m19 0h6m-7 1h6m-3 0h6m-85 1h6m-78 1h6m96 0h6m53 0h6m-4 0h6m-101 1h6m3 0h6m45 3h6m-145 1h6m0 0h6m42 0h6m126 0h6m-208 4h6m75 2h6m37 0h6m-8 3h6m-5 2h6m-115 5h6m-8 4h6" stroke="#2171b5"/><path d="M1367 1301h6m-43 18h6m-120 1h6m150 10h6m-104 4h6m52 5h6m-67 2h6m83 0h6m-121 5h6m5 3h6m149 7h6m-159 3h6m-17 2h6m64 14h6m26 2h6m12 3h6m-77 1h6m-119 4h6m149 1h6m-144 1h6m30 0h6m-41 1h6m74 2h6m49 4h6m-78 2h6m-23 2h6m3 0h6m77 3h6m-1 2h6m-57 1h6m-39 1h6m-21 1h6m45 0h6m-75 1h6m139 0h6m42 0h6m-24 1h6m-166 3h6m18 0h6m136 0h6m-153 1h6m-20 1h6m140 0h6m-178 1h6m79 0h6m10 1h6m-155 1h6m144 0h6m-103 3h6m-60 1h6m224 0h6m-150 2h6m12 0h6m-52 1h6m74 0h6m-95 2h6m74 0h6m-6 0h6m31 0h6m-122 1h6m135 0h6m-119 2h6m126 1h6m-157 1h6m128 0h6m-189 1h6m75 0h6m-26 1h6m28 0h6m-22 1h6m70 1h6m-185 1h6m116 0h6m20 0h6m-47 1h6m4 0h6m43 0h6m-93 1h6m12 0h6m-6 1h6m128 0h6m-167 1h6m68 0h6m-180 1h6m113 0h6m159 0h6m-158 1h6m130 0h6m-135 1h6m43 0h6m-149 1h6m47 0h6m49 0h6m36 0h6m-90 1h6m14 0h6m53 0h6m-166 1h6m44 0h6m135 0h6m-122 1h6m10 0h6m30 0h6m24 0h6m18 0h6m-71 1h6m-82 1h6m61 0h6m17 0h6m15 0h6m51 0h6m-232 1h6m67 1h6m42 0h6m-20 2h6m18 0h6m-19 1h6m0 0h6m23 0h6m-130 1h6m59 0h6m1 0h6m-47 2h6m17 1h6m22 0h6m52 0h6m-125 1h6m67 0h6m-18 1h6m-3 0h6m2 0h6m-34 1h6m2 0h6m149 1h6m-190 1h6m37 0h6m33 1h6m16 0h6m-107 1h6m72 0h6m-128 1h6m22 0h6m28 0h6m41 0h6m-62 1h6m28 0h6m21 0h6m38 0h6m-101 1h6m20 0h6m5 2h6m13 1h6m-2 0h6m44 0h6m-213 1h6m70 0h6m-9 1h6m46 0h6m59 0h6m-86 1h6m20 0h6m22 0h6m-107 1h6m7 0h6m19 0h6m18 0h6m-61 1h6m115 1h6m-168 1h6m105 0h6m53 0h6m-147 1h6m33 0h6m39 0h6m-79 1h6m85 0h6m-178 1h6m95 0h6m-35 1h6m26 0h6m-48 1h6m26 0h6m14 0h6m-6 0h6m16 0h6m-62 1h6m81 0h6m31 0h6m-55 1h6m-120 1h6m68 3h6m-99 1h6m60 0h6m-35 1h6m3 0h6m11 0h6m46 0h6m-71 1h6m63 0h6m12 0h6m-94 1h6m0 1h6m60 0h6m-71 1h6m38 0h6m-79 1h6m69 0h6m24 0h6m-138 1h6m60 0h6m-6 1h6m24 0h6m-153 1h6m143 0h6m56 0h6m-125 2h6m45 0h6m-27 1h6m61 0h6m-30 1h6m-28 1h6m-117 4h6m53 1h6m22 2h6m-111 2h6m11 0h6m26 5h6m82 2h6m-156 2h6m21 0h6" stroke="#08519c"/><path d="M1353 1188h6m-67 16h6m15 11h6m-101 31h6m221 2h6m-76 3h6m-85 3h6m-74 8h6m124 5h6m-131 11h6m214 12h6m-197 2h6m76 0h6m-18 2h6m-66 4h6m67 0h6m-113 1h6m120 0h6m-129 5h6m158 0h6m-51 2h6m-141 2h6m137 2h6m-65 3h6m-19 2h6m8 0h6m-114 1h6m24 3h6m96 0h6m-39 1h6m37 0h6m-180 1h6m146 1h6m-5 0h6m60 0h6m36 1h6m-77 1h6m-67 1h6m113 0h6m-107 2h6m-88 2h6m-34 1h6m186 0h6m-111 2h6m51 0h6m-2 0h6m23 1h6m87 0h6m-240 1h6m-8 1h6m47 1h6m121 0h6m-152 2h6m24 2h6m-38 3h6m-85 1h6m136 0h6m-68 1h6m-38 1h6m85 0h6m8 0h6m-139 1h6m95 1h6m62 0h6m-116 1h6m2 0h6m49 1h6m55 1h6m-192 2h6m47 0h6m117 0h6m-83 1h6m35 0h6m23 0h6m-129 1h6m47 0h6m-40 1h6m-5 0h6m-16 1h6m6 3h6m-108 1h6m89 0h6m31 1h6m53 0h6m-172 1h6m128 0h6m-152 1h6m36 0h6m158 0h6m-173 1h6m133 0h6m-144 1h6m90 0h6m-101 1h6m-3 0h6m1 0h6m20 0h6m110 0h6m-123 1h6m44 0h6m-68 1h6m-33 1h6m45 1h6m-6 0h6m-18 1h6m43 0h6m-188 1h6m83 0h6m-6 0h6m6 0h6m36 0h6m-22 2h6m69 0h6m-55 1h6m-29 1h6m-47 1h6m87 1h6m103 0h6m-268 2h6m74 1h6m57 0h6m-4 0h6m-50 1h6m17 0h6m-33 1h6m-1 0h6m-5 2h6m9 0h6m-2 0h6m6 0h6m143 0h6m-141 1h6m15 0h6m-182 1h6m0 0h6m169 0h6m12 0h6m-171 1h6m36 0h6m25 0h6m-10 1h6m14 0h6m10 0h6m-98 1h6m114 0h6m90 0h6m33 0h6m-81 1h6m-184 1h6m93 0h6m23 1h6m36 0h6m-203 1h6m23 0h6m29 0h6m56 0h6m35 0h6m-208 1h6m78 0h6m56 0h6m-81 1h6m162 0h6m-22 1h6m-155 1h6m14 0h6m51 0h6m65 0h6m-119 1h6m15 0h6m-16 1h6m35 0h6m102 0h6m-58 2h6m11 0h6m-97 1h6m25 0h6m46 0h6m6 0h6m-189 1h6m25 0h6m23 0h6m50 0h6m111 0h6m-137 1h6m34 0h6m-127 1h6m32 0h6m12 0h6m14 0h6m-45 1h6m12 0h6m-83 2h6m11 0h6m2 0h6m9 0h6m-13 1h6m25 0h6m24 0h6m115 0h6m-110 1h6m10 0h6m-114 1h6m-1 0h6m44 0h6m13 0h6m-4 0h6m5 0h6m17 0h6m-2 0h6m13 0h6m-155 1h6m-4 0h6m6 0h6m41 1h6m-84 3h6m61 0h6m-32 1h6m2 0h6m66 0h6m7 0h6m-192 1h6m37 0h6m12 0h6m-4 0h6m62 0h6m12 0h6m-6 0h6m7 0h6m15 0h6m58 0h6m-161 1h6m15 0h6m59 0h6m-154 1h6m83 0h6m-38 1h6m-4 0h6m7 0h6m51 0h6m-48 1h6m5 0h6m-1 0h6m-83 1h6m33 0h6m6 1h6m21 0h6m2 0h6m-3 0h6m-5 0h6m27 0h6m-129 1h6m10 0h6m42 0h6m9 0h6m43 0h6m-1 0h6m-1 0h6m-1 0h6m-160 1h6m23 0h6m35 0h6m21 0h6m43 0h6m11 0h6m-201 1h6m106 0h6m53 0h6m-155 1h6m79 0h6m60 0h6m74 0h6m-189 1h6m24 0h6m-4 0h6m-4 0h6m33 0h6m-3 0h6m4 0h6m11 0h6m-114 1h6m11 0h6m20 0h6m31 0h6m7 0h6m-42 1h6m18 0h6m12 0h6m55 0h6m-203 1h6m17 0h6m17 0h6m19 0h6m73 0h6m36 0h6m-144 1h6m11 0h6m-63 1h6m22 0h6m-5 0h6m-1 0h6m50 0h6m-68 1h6m13 0h6m-2 0h6m76 1h6m29 1h6m-98 1h6m-140 1h6m102 0h6m30 0h6m-25 1h6m35 0h6m3 0h6m-154 1h6m102 0h6m5 0h6m-125 1h6m17 0h6m24 0h6m6 0h6m88 0h6m-48 1h6m-113 1h6m20 0h6m45 0h6m76 0h6m-147 1h6m27 0h6m2 0h6m27 0h6m-5 0h6m40 0h6m-80 1h6m0 0h6m21 0h6m7 0h6m70 0h6m-161 1h6m11 0h6m45 0h6m-36 1h6m12 0h6m9 0h6m4 0h6m-1 0h6m32 0h6m-71 1h6m34 0h6m3 0h6m33 0h6m-215 1h6m33 0h6m17 0h6m8 0h6m3 0h6m0 0h6m10 0h6m10 0h6m53 0h6m-105 1h6m54 0h6m-5 0h6m-131 1h6m57 0h6m22 0h6m9 0h6m-2 0h6m1 0h6m25 0h6m2 0h6m19 0h6m56 0h6m-197 2h6m9 0h6m35 0h6m-44 1h6m5 0h6m-3 0h6m21 0h6m94 0h6m-206 1h6m18 0h6m49 0h6m16 0h6m-6 0h6m68 0h6m-145 1h6m30 0h6m16 0h6m2 0h6m-3 0h6m55 0h6m-187 1h6m49 0h6m21 0h6m-67 1h6m44 0h6m1 0h6m13 0h6m-98 1h6m-5 0h6m29 0h6m4 0h6m-1 0h6m33 0h6m57 0h6m-95 1h6m22 0h6m47 0h6m15 0h6m-115 1h6m120 0h6m-147 1h6m-1 0h6m37 0h6m-104 1h6m95 0h6m-31 1h6m35 0h6m21 0h6m-142 1h6m65 0h6m2 0h6m37 0h6m-6 0h6m5 0h6m-71 1h6m48 0h6m9 0h6m-3 0h6m33 0h6m-208 1h6m75 0h6m40 0h6m-65 1h6m61 0h6m8 0h6m-122 1h6m6 1h6m45 0h6m-4 0h6m1 0h6m28 0h6m34 0h6m-149 1h6m128 0h6m14 0h6m-142 1h6m26 0h6m28 0h6m61 0h6m-84 1h6m73 0h6m-224 1h6m114 0h6m65 0h6m-100 1h6m9 0h6m9 0h6m47 0h6m31 0h6m-163 1h6m47 0h6m10 0h6m16 0h6m34 0h6m-4 0h6m-185 1h6m5 0h6m23 0h6m38 0h6m13 0h6m5 0h6m9 0h6m23 0h6m-105 1h6m51 0h6m19 0h6m12 0h6m-97 1h6m1 0h6m1 0h6m13 0h6m8 1h6m45 0h6m-192 1h6m76 0h6m31 0h6m-104 1h6m95 0h6m26 0h6m-5 1h6m-133 1h6m142 0h6m-142 1h6m41 0h6m19 0h6m7 0h6m12 0h6m69 0h6m-56 1h6m-72 1h6m61 0h6m-144 1h6m9 0h6m36 0h6m15 0h6m2 0h6m-120 1h6m101 0h6m2 0h6m17 0h6m-7 1h6m59 0h6m-161 1h6m123 0h6m-180 1h6m101 0h6m3 0h6m41 0h6m10 0h6m-160 1h6m72 1h6m52 0h6m47 0h6m-225 1h6m26 1h6m15 0h6m96 0h6m14 0h6m-33 1h6m21 0h6m-44 2h6m-127 2h6m102 0h6m96 0h6m-223 1h6m152 0h6m-114 1h6m8 0h6m43 2h6m-103 1h6m-8 2h6m66 0h6m-86 2h6m-12 1h6m1 1h6m-15 2h6m-12 1h6m30 1h6m-44 3h6" stroke="#08306b"/><path d="M1386 1429h6m-129 50h6m-20 16h6m56 15h6" stroke="#fff5f0"/><path d="M1331 1435h6m1 22h6m-141 11h6m62 0h6m-113 15h6m77 8h6m83 0h6m-7 2h6m-82 8h6m114 1h6m-142 1h6m-27 4h6m17 3h6" stroke="#fee0d2"/><path d="M1459 1417h6m-164 5h6m-103 7h6m110 8h6m-60 2h6m97 10h6m-58 1h6m-51 1h6m-67 2h6m-10 1h6m48 3h6m-51 3h6m18 1h6m9 1h6m156 0h6m-224 3h6m52 1h6m-20 1h6m36 3h6m29 1h6m-142 1h6m14 0h6m70 0h6m-39 1h6m-139 4h6m125 3h6m-140 3h6m100 0h6m-32 1h6m21 1h6m76 0h6m-56 2h6m-79 2h6m-26 1h6m179 0h6m-71 1h6m39 2h6m-54 2h6m-54 1h6m-21 2h6m70 4h6m-67 2h6m154 4h6m-116 2h6m-24 1h6m0 1h6m-92 7h6m35 2h6m50 1h6" stroke="#fcbba1"/><path d="M1284 1354h6m28 11h6m-88 4h6m73 13h6m-55 11h6m166 8h6m-206 6h6m2 4h6m-19 9h6m54 4h6m-51 1h6m-39 2h6m213 0h6m-162 2h6m16 2h6m-62 1h6m23 6h6m-8 2h6m45 3h6m11 0h6m-131 1h6m75 0h6m117 0h6m-196 1h6m231 0h6m-267 3h6m114 0h6m32 1h6m-57 1h6m-54 1h6m29 0h6m-14 2h6m-74 2h6m139 0h6m-161 2h6m85 0h6m4 0h6m-210 1h6m39 0h6m154 0h6m-119 1h6m-17 1h6m26 0h6m62 1h6m-6 1h6m-3 0h6m80 0h6m-124 2h6m54 0h6m-151 1h6m84 0h6m70 1h6m-135 2h6m29 0h6m30 0h6m-82 1h6m95 0h6m53 0h6m-128 1h6m-6 1h6m3 0h6m29 0h6m-39 3h6m74 0h6m-145 1h6m1 0h6m-3 0h6m71 0h6m-15 2h6m-92 1h6m56 0h6m-33 1h6m90 0h6m-140 1h6m70 0h6m63 3h6m-67 1h6m-27 1h6m-57 1h6m-4 0h6m26 0h6m-7 2h6m29 0h6m-89 1h6m91 0h6m1 0h6m13 0h6m-11 1h6m-131 1h6m32 0h6m6 0h6m57 0h6m-89 1h6m28 0h6m25 0h6m-62 3h6m-17 1h6m34 0h6m-7 1h6m-20 1h6m80 0h6m-81 1h6m-20 1h6m-114 1h6m117 1h6m45 1h6m-106 1h6m81 0h6m-131 1h6m41 0h6m5 0h6m39 0h6m-22 1h6m11 0h6m21 2h6m-182 1h6m12 0h6m113 1h6m-55 1h6m59 1h6m3 0h6m-48 1h6m-101 2h6m183 0h6m-111 2h6m-105 1h6m93 2h6m-109 4h6" stroke="#fc9272"/><path d="M1290 1309h6m0 37h6m12 1h6m-107 2h6m91 1h6m-16 6h6m-10 3h6m66 2h6m-40 1h6m-35 8h6m-69 12h6m59 3h6m119 8h6m-114 3h6m-49 1h6m12 0h6m14 0h6m-121 2h6m-41 4h6m115 0h6m-30 2h6m97 0h6m-57 1h6m-14 7h6m-2 1h6m-51 2h6m23 3h6m-28 2h6m87 0h6m-124 1h6m56 0h6m19 0h6m47 1h6m45 2h6m-197 3h6m19 0h6m-6 0h6m-21 1h6m22 0h6m-67 1h6m73 0h6m-170 3h6m140 0h6m23 0h6m4 0h6m-73 1h6m-24 1h6m20 0h6m23 1h6m-4 1h6m-94 1h6m77 0h6m-63 1h6m43 0h6m-24 2h6m19 0h6m-65 1h6m19 0h6m7 0h6m51 0h6m15 0h6m-204 1h6m55 1h6m-2 0h6m94 1h6m1 0h6m2 0h6m-61 1h6m-14 2h6m19 0h6m-74 1h6m15 0h6m75 0h6m-75 1h6m-79 1h6m22 0h6m9 0h6m155 0h6m-176 1h6m76 0h6m-139 1h6m57 0h6m-83 1h6m112 0h6m-65 1h6m74 0h6m9 0h6m-148 1h6m193 1h6m-140 1h6m62 0h6m10 0h6m131 0h6m-126 1h6m-129 1h6m46 0h6m70 0h6m2 0h6m-176 1h6m33 0h6m79 0h6m-44 1h6m44 0h6m1 0h6m-97 1h6m53 0h6m48 0h6m-130 1h6m25 1h6m10 0h6m50 0h6m2 0h6m-143 2h6m-15 2h6m51 0h6m40 0h6m91 0h6m-215 1h6m80 0h6m35 0h6m23 0h6m-86 1h6m32 0h6m-51 1h6m-4 0h6m41 0h6m8 0h6m-96 1h6m40 0h6m6 0h6m-4 0h6m22 0h6m7 0h6m14 0h6m-188 1h6m41 0h6m30 1h6m17 0h6m34 0h6m-124 1h6m34 0h6m74 0h6m8 1h6m-191 1h6m152 0h6m10 0h6m38 0h6m-152 1h6m94 0h6m24 0h6m-2 0h6m-116 1h6m10 0h6m10 0h6m-145 1h6m128 0h6m-5 0h6m53 0h6m3 0h6m-143 1h6m4 0h6m72 0h6m-52 1h6m19 0h6m19 0h6m21 0h6m-110 1h6m3 0h6m-1 0h6m-2 0h6m63 0h6m-89 1h6m44 0h6m-1 0h6m49 0h6m-71 1h6m-10 1h6m-5 0h6m2 0h6m56 0h6m62 0h6m-70 1h6m-140 1h6m78 0h6m15 0h6m22 0h6m-136 1h6m18 0h6m8 0h6m50 1h6m2 0h6m113 0h6m-242 1h6m32 0h6m-2 0h6m21 0h6m34 0h6m1 0h6m-146 1h6m76 0h6m-3 0h6m4 0h6m39 0h6m-181 1h6m125 0h6m20 0h6m50 0h6m-152 1h6m-2 0h6m46 0h6m-15 1h6m20 0h6m-100 1h6m35 0h6m90 0h6m-172 1h6m17 0h6m109 0h6m-141 2h6m71 0h6m7 0h6m-1 1h6m69 0h6m-208 1h6m64 0h6m55 0h6m9 0h6m-35 1h6m3 0h6m-60 1h6m29 0h6m10 0h6m-49 1h6m-9 1h6m10 0h6m37 1h6m-61 1h6m84 0h6m6 0h6m-91 1h6m-31 1h6m-5 0h6m-1 0h6m23 0h6m-99 1h6m-7 1h6m212 0h6m-173 1h6m68 1h6m-152 1h6m64 1h6m100 5h6m-184 2h6m96 0h6m-89 3h6" stroke="#fb6a4a"/><path d="M1401 1298h6m-108 21h6m-76 3h6m44 4h6m107 6h6m-107 18h6m31 8h6m-18 4h6m20 0h6m-8 7h6m-158 2h6m71 0h6m57 2h6m150 6h6m-144 2h6m-107 4h6m112 0h6m-81 2h6m66 1h6m0 0h6m-134 1h6m33 0h6m-22 3h6m-52 1h6m-12 1h6m25 0h6m209 1h6m-136 1h6m-67 1h6m39 1h6m75 0h6m52 0h6m-183 2h6m25 0h6m-67 2h6m178 0h6m-118 1h6m-145 1h6m57 0h6m23 0h6m66 1h6m13 1h6m-26 1h6m-33 1h6m-57 1h6m13 0h6m27 1h6m-61 1h6m-42 1h6m81 0h6m-31 1h6m32 2h6m-95 1h6m144 0h6m-233 1h6m73 0h6m-23 1h6m94 1h6m-6 0h6m7 0h6m-36 1h6m68 0h6m-177 1h6m-1 0h6m165 0h6m-241 1h6m159 0h6m117 1h6m-160 2h6m8 0h6m23 0h6m-124 1h6m82 0h6m-31 1h6m1 0h6m-86 1h6m72 1h6m38 0h6m22 0h6m-58 1h6m3 0h6m-35 1h6m78 0h6m-172 1h6m21 0h6m148 0h6m-235 1h6m133 0h6m33 0h6m-160 1h6m103 0h6m-62 2h6m8 0h6m9 0h6m3 0h6m47 0h6m16 0h6m58 1h6m-199 1h6m35 0h6m70 0h6m85 0h6m-203 1h6m37 0h6m15 0h6m-48 1h6m170 0h6m-188 1h6m46 0h6m140 0h6m-151 1h6m9 0h6m28 0h6m40 0h6m-49 1h6m-168 1h6m67 0h6m34 0h6m-65 1h6m4 0h6m31 0h6m22 0h6m-123 1h6m60 0h6m-21 1h6m41 0h6m-131 1h6m85 0h6m-4 0h6m99 0h6m7 0h6m-59 2h6m18 0h6m1 0h6m-137 1h6m89 0h6m15 0h6m-86 1h6m18 0h6m-33 1h6m52 0h6m0 0h6m25 0h6m14 0h6m-128 1h6m-5 0h6m18 0h6m11 0h6m12 0h6m101 0h6m-238 1h6m165 0h6m-85 1h6m-2 0h6m12 0h6m-3 0h6m11 0h6m33 0h6m15 0h6m-126 1h6m9 0h6m-37 1h6m32 0h6m22 0h6m38 0h6m-84 1h6m3 0h6m54 0h6m-132 1h6m-2 0h6m3 0h6m-56 1h6m95 1h6m1 0h6m-6 1h6m37 0h6m-129 1h6m17 0h6m82 0h6m-38 1h6m7 0h6m-137 1h6m215 0h6m-137 1h6m2 0h6m30 0h6m45 0h6m-129 1h6m-85 1h6m106 0h6m66 0h6m-120 1h6m14 0h6m5 0h6m20 0h6m10 0h6m46 0h6m-165 1h6m31 0h6m20 0h6m-4 0h6m13 0h6m1 0h6m5 0h6m37 0h6m-163 1h6m6 0h6m12 0h6m3 0h6m11 0h6m27 0h6m12 0h6m76 0h6m-130 1h6m3 0h6m41 0h6m-154 1h6m124 0h6m33 0h6m-75 1h6m-5 0h6m27 0h6m-46 1h6m10 0h6m17 0h6m26 0h6m-138 1h6m2 0h6m98 0h6m-1 0h6m-117 1h6m13 0h6m9 0h6m11 0h6m128 0h6m-151 1h6m-5 0h6m-4 0h6m2 0h6m6 0h6m9 0h6m11 0h6m5 0h6m44 0h6m-150 1h6m9 0h6m-2 0h6m6 0h6m21 0h6m54 0h6m-183 1h6m65 0h6m35 0h6m7 0h6m-4 1h6m-2 0h6m-6 0h6m37 0h6m-3 0h6m-137 1h6m78 0h6m-50 1h6m1 0h6m107 0h6m-109 1h6m61 0h6m-107 1h6m15 1h6m12 0h6m12 0h6m8 1h6m-76 1h6m13 1h6m40 0h6m33 0h6m-181 1h6m74 0h6m6 0h6m-15 1h6m66 0h6m43 0h6m-171 1h6m17 0h6m36 0h6m0 0h6m-4 0h6m9 0h6m-90 1h6m94 0h6m-8 1h6m-146 1h6m111 0h6m-6 0h6m-50 1h6m15 0h6m27 0h6m-2 0h6m108 0h6m-178 1h6m31 0h6m40 0h6m26 0h6m-173 1h6m83 0h6m-43 1h6m21 0h6m52 0h6m-169 1h6m142 1h6m-142 2h6m46 0h6m3 0h6m55 1h6m-18 1h6m-70 1h6m11 0h6m-3 0h6m0 0h6m27 1h6m-3 0h6m-53 1h6m1 1h6m31 0h6m-104 2h6m23 0h6m44 0h6m-75 2h6m52 2h6m-105 1h6m-1 1h6m63 2h6m6 2h6" stroke="#ef3b2c"/><path d="M1566 1173h6m-43 84h6m-144 55h6m-53 13h6m-35 8h6m-124 4h6m18 1h6m74 1h6m-13 7h6m72 1h6m8 0h6m-160 2h6m79 1h6m-54 3h6m32 1h6m-78 1h6m91 0h6m-94 2h6m2 1h6m89 0h6m122 1h6m-235 5h6m30 0h6m31 0h6m-59 1h6m34 0h6m-72 1h6m84 0h6m1 0h6m-167 1h6m41 0h6m91 1h6m-92 2h6m67 0h6m89 2h6m-107 1h6m-73 1h6m165 1h6m-171 5h6m-4 0h6m-66 1h6m129 0h6m11 2h6m43 0h6m-76 1h6m13 0h6m59 1h6m-97 2h6m43 1h6m-97 1h6m34 1h6m-90 3h6m165 0h6m-151 1h6m9 0h6m19 0h6m57 0h6m71 0h6m-186 2h6m-44 1h6m102 0h6m6 0h6m-205 1h6m100 0h6m14 0h6m-57 1h6m45 0h6m-17 1h6m-94 1h6m13 3h6m90 0h6m42 0h6m29 0h6m-75 1h6m31 0h6m131 0h6m-231 1h6m44 0h6m-4 0h6m-44 1h6m75 1h6m-42 1h6m90 0h6m-143 1h6m38 0h6m37 1h6m13 0h6m36 0h6m-72 1h6m-129 1h6m48 0h6m-92 1h6m26 0h6m-23 1h6m95 0h6m-95 1h6m-21 1h6m99 0h6m31 0h6m-46 1h6m9 0h6m-52 1h6m130 0h6m-181 1h6m22 0h6m77 0h6m17 0h6m-134 1h6m28 1h6m-113 1h6m40 0h6m37 0h6m4 0h6m15 0h6m24 0h6m-94 1h6m11 0h6m5 0h6m6 1h6m22 0h6m89 0h6m-143 1h6m105 0h6m-170 1h6m6 0h6m19 0h6m45 0h6m-108 1h6m14 0h6m30 0h6m20 0h6m14 0h6m51 0h6m0 0h6m-4 0h6m40 0h6m-173 1h6m65 1h6m-92 1h6m7 0h6m-4 0h6m48 0h6m-91 1h6m90 0h6m89 0h6m-142 1h6m32 0h6m1 0h6m-100 1h6m7 0h6m64 0h6m-3 0h6m-78 2h6m47 0h6m-41 1h6m4 0h6m47 0h6m3 0h6m18 0h6m-16 1h6m15 0h6m-129 1h6m61 0h6m-87 1h6m3 0h6m1 0h6m-1 0h6m24 0h6m87 0h6m7 0h6m-167 1h6m4 0h6m60 0h6m12 0h6m21 0h6m-83 1h6m4 0h6m-1 0h6m3 0h6m-52 1h6m26 0h6m-4 0h6m4 0h6m2 0h6m66 0h6m-150 1h6m22 0h6m5 0h6m4 0h6m-4 0h6m-53 1h6m26 0h6m-3 0h6m13 0h6m86 0h6m-150 1h6m1 0h6m8 0h6m13 0h6m0 0h6m-95 1h6m6 0h6m48 0h6m56 0h6m-6 0h6m-152 1h6m65 0h6m-4 0h6m49 0h6m-4 0h6m7 0h6m-3 0h6m-25 1h6m-91 1h6m-3 0h6m41 0h6m6 0h6m28 0h6m-110 1h6m15 0h6m94 1h6m-21 1h6m64 0h6m-5 1h6m-159 1h6m35 0h6m33 0h6m47 0h6m-128 1h6m32 0h6m-24 1h6m23 0h6m-3 0h6m2 0h6m9 0h6m111 0h6m-238 1h6m11 0h6m45 0h6m77 0h6m1 0h6m-151 1h6m-4 0h6m48 0h6m17 0h6m36 0h6m1 0h6m10 0h6m47 0h6m37 0h6m-269 1h6m75 0h6m89 0h6m23 0h6m-226 1h6m3 0h6m60 0h6m45 0h6m38 0h6m-176 1h6m110 0h6m-18 1h6m15 0h6m11 0h6m26 0h6m-193 1h6m47 0h6m-2 0h6m28 0h6m33 0h6m9 0h6m-5 0h6m-141 1h6m11 0h6m74 0h6m54 0h6m-1 0h6m-190 1h6m98 0h6m51 0h6m1 0h6m39 0h6m-125 1h6m67 0h6m-186 1h6m57 0h6m-4 0h6m37 0h6m9 0h6m39 0h6m49 0h6m-142 1h6m12 0h6m8 0h6m27 0h6m4 0h6m-4 0h6m40 0h6m-122 1h6m52 0h6m16 0h6m5 0h6m22 0h6m0 0h6m-117 1h6m30 0h6m26 0h6m-186 1h6m64 0h6m75 0h6m-2 0h6m12 0h6m-44 1h6m2 0h6m19 0h6m30 0h6m-1 0h6m-146 1h6m-3 0h6m23 0h6m2 0h6m-1 0h6m1 0h6m72 0h6m-45 1h6m-120 1h6m94 0h6m9 0h6m58 0h6m-123 1h6m7 0h6m0 0h6m90 0h6m31 0h6m-113 1h6m-36 1h6m3 0h6m36 0h6m-166 1h6m87 0h6m3 0h6m-2 0h6m10 0h6m0 0h6m20 0h6m22 0h6m-1 0h6m-145 1h6m-32 1h6m25 0h6m3 0h6m-2 0h6m20 0h6m22 0h6m-1 0h6m30 0h6m-141 1h6m61 0h6m26 0h6m10 0h6m-5 0h6m22 0h6m-165 1h6m97 0h6m56 0h6m-185 1h6m47 0h6m8 0h6m52 0h6m24 0h6m25 0h6m-140 2h6m30 0h6m11 0h6m59 0h6m-112 1h6m49 0h6m-1 0h6m16 0h6m-64 1h6m33 0h6m50 0h6m-163 1h6m67 0h6m-5 0h6m-1 0h6m180 0h6m-206 1h6m1 0h6m0 0h6m-1 0h6m34 0h6m-6 0h6m3 0h6m-172 1h6m108 0h6m44 0h6m-2 0h6m-80 1h6m-16 1h6m23 0h6m9 0h6m22 0h6m-141 2h6m37 1h6m127 0h6m-1 0h6m-141 1h6m49 0h6m27 0h6m-80 1h6m45 0h6m5 0h6m-69 1h6m4 0h6m32 0h6m-131 1h6m83 0h6m21 0h6m-27 1h6m12 0h6m-6 0h6m74 0h6m-80 2h6m38 1h6m-111 1h6m39 0h6m-6 0h6m12 0h6m27 0h6m-29 2h6m-2 0h6m-80 1h6m40 0h6m47 0h6m-178 1h6m98 0h6m56 1h6m-138 1h6m35 0h6m-64 2h6m69 2h6m-101 1h6m60 0h6m48 1h6m-26 4h6" stroke="#cb181d"/><path d="M1259 1233h6m124 31h6m-121 7h6m-65 5h6m81 2h6m54 4h6m131 26h6m-283 1h6m77 3h6m80 0h6m0 1h6m-46 6h6m30 8h6m-154 9h6m123 3h6m-3 3h6m-183 10h6m125 1h6m-77 2h6m28 1h6m-31 1h6m-74 1h6m88 0h6m51 1h6m-154 2h6m123 5h6m11 2h6m-167 2h6m5 0h6m54 3h6m20 0h6m39 2h6m-29 3h6m105 1h6m-73 1h6m36 0h6m-142 1h6m36 1h6m-94 2h6m16 0h6m39 3h6m-80 1h6m47 2h6m81 0h6m-158 1h6m47 0h6m-36 1h6m-15 2h6m134 0h6m-4 0h6m-21 1h6m51 0h6m-119 1h6m200 0h6m-304 1h6m52 0h6m132 0h6m-145 1h6m-28 2h6m5 0h6m45 0h6m58 0h6m-1 0h6m-127 2h6m18 0h6m15 0h6m5 0h6m-66 1h6m157 0h6m-108 1h6m-4 0h6m-86 1h6m157 1h6m4 0h6m17 0h6m-275 1h6m26 0h6m70 0h6m-48 1h6m156 0h6m-107 1h6m22 0h6m-106 1h6m15 0h6m86 0h6m21 0h6m-103 2h6m-84 1h6m85 0h6m21 0h6m-70 1h6m20 0h6m-3 1h6m72 0h6m-124 1h6m7 0h6m17 0h6m9 0h6m24 0h6m30 0h6m35 0h6m47 0h6m-190 1h6m124 0h6m91 0h6m-218 1h6m-2 0h6m6 1h6m-99 1h6m88 0h6m41 0h6m10 0h6m-73 1h6m-69 1h6m48 0h6m15 0h6m78 0h6m-183 1h6m77 0h6m22 0h6m15 0h6m46 0h6m-102 1h6m-23 1h6m21 0h6m33 0h6m-56 1h6m-6 0h6m42 1h6m-112 1h6m63 0h6m43 0h6m54 0h6m-181 2h6m92 0h6m-2 0h6m-4 0h6m-35 1h6m120 0h6m-166 1h6m-28 1h6m19 0h6m66 0h6m36 0h6m-170 1h6m31 0h6m-6 0h6m0 0h6m29 0h6m23 1h6m-87 1h6m41 0h6m-4 0h6m-1 0h6m-5 0h6m-108 1h6m26 0h6m81 0h6m4 0h6m-96 1h6m30 0h6m-2 0h6m9 0h6m-77 1h6m136 0h6m-159 1h6m43 0h6m-3 0h6m-124 2h6m39 0h6m20 0h6m13 0h6m81 0h6m-66 1h6m-28 1h6m39 0h6m40 0h6m-77 1h6m39 0h6m-35 1h6m-36 1h6m2 0h6m50 0h6m29 0h6m-6 0h6m-113 1h6m76 0h6m-3 1h6m-1 0h6m-151 1h6m29 0h6m-3 0h6m6 0h6m73 0h6m81 0h6m-211 1h6m90 0h6m22 0h6m11 0h6m4 0h6m-132 1h6m14 0h6m-5 0h6m2 0h6m29 0h6m15 0h6m16 0h6m10 0h6m-129 1h6m12 0h6m4 0h6m33 0h6m23 0h6m2 0h6m-117 1h6m1 0h6m57 1h6m27 0h6m8 0h6m-98 1h6m8 0h6m48 0h6m-102 1h6m67 1h6m-6 0h6m8 0h6m-92 1h6m132 0h6m-61 1h6m-1 0h6m16 0h6m-75 1h6m-7 1h6m4 0h6m14 0h6m-4 0h6m51 0h6m-84 1h6m150 0h6m-153 1h6m-8 1h6m-5 0h6m-139 1h6m167 0h6m-80 1h6m36 0h6m-81 1h6m13 0h6m44 0h6m-1 1h6m43 0h6m-133 1h6m73 0h6m-23 1h6m60 1h6m-96 1h6m77 0h6m49 0h6m-116 1h6m14 0h6m2 0h6m-88 1h6m97 0h6m48 0h6m-122 1h6m-3 0h6m10 0h6m-81 1h6m47 0h6m1 0h6m20 0h6m88 0h6m-133 1h6m73 0h6m-81 1h6m12 0h6m30 0h6m-90 1h6m13 0h6m37 0h6m-87 1h6m163 0h6m-114 1h6m-8 1h6m16 0h6m-118 1h6m45 0h6m67 0h6m-77 1h6m-27 2h6m72 0h6m40 0h6m-79 1h6m46 0h6m-90 1h6m25 0h6m3 0h6m-136 1h6m69 0h6m11 0h6m-79 1h6m91 0h6m2 0h6m-21 1h6m5 0h6m-35 1h6m10 0h6m2 0h6m17 0h6m17 0h6m-162 1h6m34 0h6m54 0h6m5 0h6m-16 1h6m41 0h6m-176 1h6m64 0h6m61 0h6m-5 0h6m-21 1h6m5 0h6m39 0h6m-70 1h6m4 0h6m31 1h6m-164 1h6m102 0h6m8 4h6m87 2h6m-94 2h6m-73 1h6m48 1h6m-123 5h6m3 1h6m9 1h6m-31 3h6m77 0h6m45 1h6" stroke="#a50f15"/><path d="M1337 1071h6m-32 52h6m-27 42h6m-10 63h6m-66 4h6m-46 8h6m66 1h6m-3 0h6m183 14h6m-190 9h6m152 2h6m-274 2h6m70 0h6m46 3h6m53 2h6m-115 1h6m-2 2h6m106 1h6m-79 5h6m-53 2h6m100 0h6m2 0h6m-134 3h6m72 2h6m111 0h6m-165 2h6m5 0h6m-70 4h6m99 2h6m-38 3h6m91 0h6m-96 1h6m-43 1h6m41 0h6m-39 2h6m17 0h6m-45 2h6m200 3h6m-212 2h6m94 0h6m18 0h6m-157 2h6m13 2h6m28 1h6m93 0h6m-138 3h6m103 0h6m-132 1h6m20 0h6m230 0h6m-244 3h6m-16 2h6m22 1h6m43 0h6m24 0h6m88 0h6m-147 2h6m10 0h6m-3 0h6m-11 1h6m35 0h6m-150 1h6m201 2h6m-201 3h6m113 0h6m-90 2h6m49 1h6m103 1h6m-198 1h6m10 0h6m33 4h6m118 0h6m-191 1h6m-4 1h6m-2 0h6m-19 1h6m2 0h6m-43 1h6m164 1h6m-133 2h6m14 0h6m17 0h6m160 1h6m-195 1h6m25 1h6m52 0h6m-114 1h6m21 1h6m6 1h6m-97 1h6m54 1h6m19 0h6m31 0h6m10 0h6m-142 1h6m77 0h6m67 0h6m43 0h6m-148 1h6m-41 1h6m-1 0h6m67 0h6m6 0h6m64 1h6m5 0h6m-130 1h6m97 0h6m-165 1h6m37 1h6m-43 1h6m45 0h6m-5 1h6m5 0h6m24 0h6m-84 1h6m33 0h6m-50 1h6m20 0h6m27 1h6m-26 2h6m-25 1h6m11 0h6m92 0h6m-128 1h6m164 0h6m-46 1h6m-142 1h6m83 0h6m-138 1h6m70 0h6m64 0h6m20 0h6m-132 3h6m21 0h6m8 0h6m-103 2h6m81 0h6m-99 1h6m83 1h6m5 0h6m127 0h6m-186 1h6m92 0h6m4 0h6m-5 0h6m-95 1h6m0 1h6m-24 1h6m-4 2h6m12 1h6m-5 0h6m-14 2h6m-31 1h6m95 0h6m4 0h6m58 3h6m-154 1h6m3 0h6m42 0h6m-63 1h6m-44 1h6m-6 0h6m71 0h6m14 0h6m13 0h6m-96 2h6m6 0h6m-5 1h6m8 2h6m40 1h6m5 0h6m-1 0h6m-77 1h6m36 0h6m-102 1h6m72 0h6m-57 1h6m117 0h6m49 0h6m-112 1h6m-74 1h6m8 0h6m-3 0h6m-65 1h6m40 0h6m51 0h6m13 0h6m-187 1h6m88 0h6m-2 0h6m39 0h6m32 0h6m-109 1h6m11 0h6m0 0h6m112 1h6m-76 1h6m-51 1h6m11 0h6m22 0h6m62 0h6m-225 2h6m48 0h6m30 0h6m29 0h6m53 0h6m-169 1h6m239 0h6m-171 1h6m38 0h6m34 0h6m13 0h6m-164 1h6m65 0h6m15 0h6m-5 0h6m22 0h6m14 0h6m-85 1h6m79 0h6m4 0h6m-148 1h6m71 0h6m33 0h6m-1 0h6m-166 1h6m69 0h6m48 0h6m-84 1h6m22 0h6m32 0h6m4 0h6m4 0h6m-50 1h6m14 0h6m34 0h6m17 0h6m-110 2h6m52 0h6m44 0h6m-11 1h6m34 0h6m-126 1h6m-9 1h6m70 0h6m31 0h6m-190 1h6m170 1h6m-6 1h6m-115 1h6m19 0h6m8 0h6m39 0h6m-155 1h6m-6 0h6m117 0h6m19 0h6m-152 1h6m44 0h6m36 0h6m64 0h6m21 0h6m10 0h6m-93 1h6m48 0h6m-36 1h6m10 1h6m-126 1h6m68 0h6m-3 0h6m-48 1h6m55 0h6m-4 0h6m-5 0h6m-66 2h6m-4 0h6m8 0h6m24 0h6m-30 1h6m-101 1h6m44 0h6m42 0h6m-94 1h6m-2 0h6m-3 0h6m75 0h6m71 0h6m-128 1h6m61 0h6m65 0h6m4 1h6m-184 1h6m27 0h6m-3 0h6m62 0h6m-127 1h6m39 0h6m38 0h6m15 0h6m11 1h6m-124 1h6m39 0h6m82 0h6m-38 1h6m46 0h6m-167 1h6m41 0h6m45 0h6m9 0h6m-131 1h6m33 0h6m40 0h6m9 0h6m-81 1h6m-4 1h6m-2 0h6m16 0h6m40 0h6m56 0h6m-98 1h6m83 0h6m-102 1h6m-43 1h6m43 0h6m5 0h6m57 0h6m-155 1h6m155 0h6m-46 1h6m-149 1h6m52 0h6m62 0h6m63 0h6m-215 1h6m51 0h6m84 0h6m-48 1h6m2 0h6m28 0h6m4 0h6m-43 1h6m38 2h6m-126 1h6m29 0h6m36 0h6m14 0h6m9 0h6m-41 1h6m-47 1h6m2 0h6m36 0h6m-63 1h6m16 1h6m43 0h6m-100 1h6m44 0h6m-3 0h6m12 0h6m-128 1h6m122 1h6m22 0h6m-154 1h6m137 0h6m-133 1h6m58 0h6m9 0h6m73 0h6m-195 1h6m123 0h6m-45 1h6m15 1h6m-7 1h6m46 0h6m-95 1h6m20 0h6m-26 1h6m0 0h6m8 0h6m15 0h6m-75 1h6m79 0h6m-4 0h6m-42 2h6m74 0h6m-173 1h6m-25 1h6m56 1h6m37 0h6m43 2h6m-39 2h6m0 0h6m-50 2h6m51 1h6m-3 4h6m-94 1h6m79 0h6m-72 2h6m27 0h6m-108 4h6m-22 3h6m61 3h6m-54 2h6" stroke="#67000d"/></g>
<polyline points="272.0,382.0 273.9,382.0 275.7,381.9 277.6,381.9 279.4,381.7 281.3,381.6 283.1,381.4 285.0,381.2 286.8,380.9 288.7,380.6 290.5,380.3 292.4,379.9 294.2,379.5 296.1,379.1 297.9,378.6 299.8,378.1 301.6,377.5 303.5,376.9 305.3,376.3 307.2,375.6 309.0,374.9 310.9,374.2 312.7,373.4 314.6,372.6 316.4,371.7 318.3,370.8 320.1,369.9 322.0,368.9 323.8,367.9 325.7,366.9 327.5,365.8 329.4,364.7 331.2,363.5 333.1,362.3 334.9,361.1 336.8,359.8 338.6,358.5 340.5,357.1 342.3,355.7 344.2,354.3 346.0,352.8 347.9,351.3 349.7,349.8 351.6,348.2 353.4,346.6 355.3,344.9 357.1,343.2 359.0,341.5 360.8,339.7 362.7,337.9 364.5,336.0 366.4,334.1 368.2,332.2 370.1,330.2 371.9,328.2 373.8,326.2 375.6,324.1 377.5,322.0 379.3,319.8 381.2,317.6 383.0,315.3 384.9,313.0 386.7,310.7 388.6,308.4 390.4,306.0 392.3,303.5 394.1,301.0 396.0,298.5 397.8,295.9 399.7,293.3 401.5,290.7 403.4,288.0 405.2,285.3 407.1,282.5 408.9,279.7 410.8,276.9 412.6,274.0 414.5,271.1 416.3,268.1 418.2,265.1" fill="none" stroke="#f3b446" stroke-width="1.25"/>
<polyline points="286.3,382.0 418.2,344.3" fill="none" stroke="#2e8b2e" stroke-width="1.2"/>
<path d="M272.0 382.0v-4M272.0 243.0v4M290.3 382.0v-4M290.3 243.0v4M308.6 382.0v-4M308.6 243.0v4M326.8 382.0v-4M326.8 243.0v4M345.1 382.0v-4M345.1 243.0v4M363.4 382.0v-4M363.4 243.0v4M381.6 382.0v-4M381.6 243.0v4M399.9 382.0v-4M399.9 243.0v4M418.2 382.0v-4M418.2 243.0v4M272.0 382.0h4M418.2 382.0h-4M272.0 363.5h4M418.2 363.5h-4M272.0 344.9h4M418.2 344.9h-4M272.0 326.4h4M418.2 326.4h-4M272.0 307.9h4M418.2 307.9h-4M272.0 289.3h4M418.2 289.3h-4M272.0 270.8h4M418.2 270.8h-4M272.0 252.3h4M418.2 252.3h-4" stroke="#000" stroke-width="0.8" fill="none"/>
<rect x="272.0" y="243.0" width="146.2" height="139.0" fill="none" stroke="#444" stroke-width="1.4"/>
<text x="267.3" y="385.8" font-size="12" font-family='"Liberation Sans", sans-serif' text-anchor="end" textLength="6.7" lengthAdjust="spacingAndGlyphs" fill="#000" stroke="#000" stroke-width="0.15">0</text>
<text x="267.3" y="367.3" font-size="12" font-family='"Liberation Sans", sans-serif' text-anchor="end" textLength="6.7" lengthAdjust="spacingAndGlyphs" fill="#000" stroke="#000" stroke-width="0.15">2</text>
<text x="267.3" y="348.7" font-size="12" font-family='"Liberation Sans", sans-serif' text-anchor="end" textLength="6.7" lengthAdjust="spacingAndGlyphs" fill="#000" stroke="#000" stroke-width="0.15">4</text>
<text x="267.3" y="330.2" font-size="12" font-family='"Liberation Sans", sans-serif' text-anchor="end" textLength="6.7" lengthAdjust="spacingAndGlyphs" fill="#000" stroke="#000" stroke-width="0.15">6</text>
<text x="267.3" y="311.7" font-size="12" font-family='"Liberation Sans", sans-serif' text-anchor="end" textLength="6.7" lengthAdjust="spacingAndGlyphs" fill="#000" stroke="#000" stroke-width="0.15">8</text>
<text x="267.3" y="293.1" font-size="12" font-family='"Liberation Sans", sans-serif' text-anchor="end" textLength="13.4" lengthAdjust="spacingAndGlyphs" fill="#000" stroke="#000" stroke-width="0.15">10</text>
<text x="267.3" y="274.6" font-size="12" font-family='"Liberation Sans", sans-serif' text-anchor="end" textLength="13.4" lengthAdjust="spacingAndGlyphs" fill="#000" stroke="#000" stroke-width="0.15">12</text>
<text x="267.3" y="256.1" font-size="12" font-family='"Liberation Sans", sans-serif' text-anchor="end" textLength="13.4" lengthAdjust="spacingAndGlyphs" fill="#000" stroke="#000" stroke-width="0.15">14</text>
<text x="272.0" y="395.0" font-size="12" font-family='"Liberation Sans", sans-serif' text-anchor="middle" textLength="6.7" lengthAdjust="spacingAndGlyphs" fill="#000" stroke="#000" stroke-width="0.15">0</text>
<text x="290.3" y="395.0" font-size="12" font-family='"Liberation Sans", sans-serif' text-anchor="middle" textLength="6.7" lengthAdjust="spacingAndGlyphs" fill="#000" stroke="#000" stroke-width="0.15">5</text>
<text x="308.6" y="395.0" font-size="12" font-family='"Liberation Sans", sans-serif' text-anchor="middle" textLength="13.4" lengthAdjust="spacingAndGlyphs" fill="#000" stroke="#000" stroke-width="0.15">10</text>
<text x="326.8" y="395.0" font-size="12" font-family='"Liberation Sans", sans-serif' text-anchor="middle" textLength="13.4" lengthAdjust="spacingAndGlyphs" fill="#000" stroke="#000" stroke-width="0.15">15</text>
<text x="345.1" y="395.0" font-size="12" font-family='"Liberation Sans", sans-serif' text-anchor="middle" textLength="13.4" lengthAdjust="spacingAndGlyphs" fill="#000" stroke="#000" stroke-width="0.15">20</text>
<text x="363.4" y="395.0" font-size="12" font-family='"Liberation Sans", sans-serif' text-anchor="middle" textLength="13.4" lengthAdjust="spacingAndGlyphs" fill="#000" stroke="#000" stroke-width="0.15">25</text>
<text x="381.6" y="395.0" font-size="12" font-family='"Liberation Sans", sans-serif' text-anchor="middle" textLength="13.4" lengthAdjust="spacingAndGlyphs" fill="#000" stroke="#000" stroke-width="0.15">30</text>
<text x="399.9" y="395.0" font-size="12" font-family='"Liberation Sans", sans-serif' text-anchor="middle" textLength="13.4" lengthAdjust="spacingAndGlyphs" fill="#000" stroke="#000" stroke-width="0.15">35</text>
<text x="418.2" y="395.0" font-size="12" font-family='"Liberation Sans", sans-serif' text-anchor="middle" textLength="13.4" lengthAdjust="spacingAndGlyphs" fill="#000" stroke="#000" stroke-width="0.15">40</text>
<text x="249.6" y="233.4" font-size="18.5" font-family='"Liberation Serif", serif' text-anchor="start" fill="#000" stroke="#000" stroke-width="0.25">E</text>
<rect x="276.9" y="248.5" width="69.5" height="35.2" fill="#5c5c5c"/>
<g clip-path="url(#cE)"><polygon points="276.8,233.1 281.8,237.6 281.8,246.6 276.8,251.1 271.8,246.6 271.8,237.6" fill="#fff" stroke="#fff" stroke-width="0.5"/><polygon points="286.9,233.1 291.9,237.6 291.9,246.6 286.9,251.1 281.9,246.6 281.9,237.6" fill="#999" stroke="#999" stroke-width="0.5"/><polygon points="297.1,233.1 302.1,237.6 302.1,246.6 297.1,251.1 292.1,246.6 292.1,237.6" fill="#8a8a8a" stroke="#8a8a8a" stroke-width="0.5"/><polygon points="307.3,233.1 312.3,237.6 312.3,246.6 307.3,251.1 302.3,246.6 302.3,237.6" fill="#7a7a7a" stroke="#7a7a7a" stroke-width="0.5"/><polygon points="317.4,233.1 322.4,237.6 322.4,246.6 317.4,251.1 312.4,246.6 312.4,237.6" fill="#6a6a6a" stroke="#6a6a6a" stroke-width="0.5"/><polygon points="327.6,233.1 332.6,237.6 332.6,246.6 327.6,251.1 322.6,246.6 322.6,237.6" fill="#666" stroke="#666" stroke-width="0.5"/><polygon points="337.8,233.1 342.8,237.6 342.8,246.6 337.8,251.1 332.8,246.6 332.8,237.6" fill="#6a6a6a" stroke="#6a6a6a" stroke-width="0.5"/><polygon points="348.0,233.1 353.0,237.6 353.0,246.6 348.0,251.1 343.0,246.6 343.0,237.6" fill="#777" stroke="#777" stroke-width="0.5"/><polygon points="281.9,247.2 286.9,251.7 286.9,260.7 281.9,265.2 276.9,260.7 276.9,251.7" fill="#fff" stroke="#fff" stroke-width="0.5"/><polygon points="292.1,247.2 297.1,251.7 297.1,260.7 292.1,265.2 287.1,260.7 287.1,251.7" fill="#888" stroke="#888" stroke-width="0.5"/><polygon points="302.3,247.2 307.3,251.7 307.3,260.7 302.3,265.2 297.3,260.7 297.3,251.7" fill="#6e6e6e" stroke="#6e6e6e" stroke-width="0.5"/><polygon points="312.4,247.2 317.4,251.7 317.4,260.7 312.4,265.2 307.4,260.7 307.4,251.7" fill="#666" stroke="#666" stroke-width="0.5"/><polygon points="322.6,247.2 327.6,251.7 327.6,260.7 322.6,265.2 317.6,260.7 317.6,251.7" fill="#5c5c5c" stroke="#5c5c5c" stroke-width="0.5"/><polygon points="332.8,247.2 337.8,251.7 337.8,260.7 332.8,265.2 327.8,260.7 327.8,251.7" fill="#555" stroke="#555" stroke-width="0.5"/><polygon points="343.0,247.2 348.0,251.7 348.0,260.7 343.0,265.2 338.0,260.7 338.0,251.7" fill="#6a6a6a" stroke="#6a6a6a" stroke-width="0.5"/><polygon points="276.8,261.3 281.8,265.8 281.8,274.8 276.8,279.3 271.8,274.8 271.8,265.8" fill="#fff" stroke="#fff" stroke-width="0.5"/><polygon points="286.9,261.3 291.9,265.8 291.9,274.8 286.9,279.3 281.9,274.8 281.9,265.8" fill="#666" stroke="#666" stroke-width="0.5"/><polygon points="297.1,261.3 302.1,265.8 302.1,274.8 297.1,279.3 292.1,274.8 292.1,265.8" fill="#5a5a5a" stroke="#5a5a5a" stroke-width="0.5"/><polygon points="307.3,261.3 312.3,265.8 312.3,274.8 307.3,279.3 302.3,274.8 302.3,265.8" fill="#555" stroke="#555" stroke-width="0.5"/><polygon points="317.4,261.3 322.4,265.8 322.4,274.8 317.4,279.3 312.4,274.8 312.4,265.8" fill="#4e4e4e" stroke="#4e4e4e" stroke-width="0.5"/><polygon points="327.6,261.3 332.6,265.8 332.6,274.8 327.6,279.3 322.6,274.8 322.6,265.8" fill="#4a4a4a" stroke="#4a4a4a" stroke-width="0.5"/><polygon points="337.8,261.3 342.8,265.8 342.8,274.8 337.8,279.3 332.8,274.8 332.8,265.8" fill="#505050" stroke="#505050" stroke-width="0.5"/><polygon points="348.0,261.3 353.0,265.8 353.0,274.8 348.0,279.3 343.0,274.8 343.0,265.8" fill="#666" stroke="#666" stroke-width="0.5"/><polygon points="281.9,275.4 286.9,279.9 286.9,288.9 281.9,293.4 276.9,288.9 276.9,279.9" fill="#000" stroke="#000" stroke-width="0.5"/><polygon points="292.1,275.4 297.1,279.9 297.1,288.9 292.1,293.4 287.1,288.9 287.1,279.9" fill="#111" stroke="#111" stroke-width="0.5"/><polygon points="302.3,275.4 307.3,279.9 307.3,288.9 302.3,293.4 297.3,288.9 297.3,279.9" fill="#1c1c1c" stroke="#1c1c1c" stroke-width="0.5"/><polygon points="312.4,275.4 317.4,279.9 317.4,288.9 312.4,293.4 307.4,288.9 307.4,279.9" fill="#2c2c2c" stroke="#2c2c2c" stroke-width="0.5"/><polygon points="322.6,275.4 327.6,279.9 327.6,288.9 322.6,293.4 317.6,288.9 317.6,279.9" fill="#383838" stroke="#383838" stroke-width="0.5"/><polygon points="332.8,275.4 337.8,279.9 337.8,288.9 332.8,293.4 327.8,288.9 327.8,279.9" fill="#444" stroke="#444" stroke-width="0.5"/><polygon points="343.0,275.4 348.0,279.9 348.0,288.9 343.0,293.4 338.0,288.9 338.0,279.9" fill="#555" stroke="#555" stroke-width="0.5"/></g>
<rect x="276.9" y="248.5" width="69.5" height="35.2" fill="none" stroke="#222" stroke-width="1.1"/>
<rect x="421.0" y="243.0" width="6.2" height="139.0" fill="url(#gr)" stroke="#222" stroke-width="1"/>
<path d="M421.0 382.0h1.5M427.2 382.0h-1.5M421.0 367.2h1.5M427.2 367.2h-1.5M421.0 352.4h1.5M427.2 352.4h-1.5M421.0 337.6h1.5M427.2 337.6h-1.5M421.0 322.9h1.5M427.2 322.9h-1.5M421.0 308.1h1.5M427.2 308.1h-1.5M421.0 293.3h1.5M427.2 293.3h-1.5M421.0 278.5h1.5M427.2 278.5h-1.5M421.0 263.7h1.5M427.2 263.7h-1.5M421.0 248.9h1.5M427.2 248.9h-1.5" stroke="#000" stroke-width="0.8"/>
<text x="430.8" y="385.8" font-size="12" font-family='"Liberation Sans", sans-serif' text-anchor="start" textLength="16.7" lengthAdjust="spacingAndGlyphs" fill="#000" stroke="#000" stroke-width="0.15">0.0</text>
<text x="430.8" y="371.0" font-size="12" font-family='"Liberation Sans", sans-serif' text-anchor="start" textLength="16.7" lengthAdjust="spacingAndGlyphs" fill="#000" stroke="#000" stroke-width="0.15">0.5</text>
<text x="430.8" y="356.2" font-size="12" font-family='"Liberation Sans", sans-serif' text-anchor="start" textLength="16.7" lengthAdjust="spacingAndGlyphs" fill="#000" stroke="#000" stroke-width="0.15">1.0</text>
<text x="430.8" y="341.4" font-size="12" font-family='"Liberation Sans", sans-serif' text-anchor="start" textLength="16.7" lengthAdjust="spacingAndGlyphs" fill="#000" stroke="#000" stroke-width="0.15">1.5</text>
<text x="430.8" y="326.7" font-size="12" font-family='"Liberation Sans", sans-serif' text-anchor="start" textLength="16.7" lengthAdjust="spacingAndGlyphs" fill="#000" stroke="#000" stroke-width="0.15">2.0</text>
<text x="430.8" y="311.9" font-size="12" font-family='"Liberation Sans", sans-serif' text-anchor="start" textLength="16.7" lengthAdjust="spacingAndGlyphs" fill="#000" stroke="#000" stroke-width="0.15">2.5</text>
<text x="430.8" y="297.1" font-size="12" font-family='"Liberation Sans", sans-serif' text-anchor="start" textLength="16.7" lengthAdjust="spacingAndGlyphs" fill="#000" stroke="#000" stroke-width="0.15">3.0</text>
<text x="430.8" y="282.3" font-size="12" font-family='"Liberation Sans", sans-serif' text-anchor="start" textLength="16.7" lengthAdjust="spacingAndGlyphs" fill="#000" stroke="#000" stroke-width="0.15">3.5</text>
<text x="430.8" y="267.5" font-size="12" font-family='"Liberation Sans", sans-serif' text-anchor="start" textLength="16.7" lengthAdjust="spacingAndGlyphs" fill="#000" stroke="#000" stroke-width="0.15">4.0</text>
<text x="430.8" y="252.7" font-size="12" font-family='"Liberation Sans", sans-serif' text-anchor="start" textLength="16.7" lengthAdjust="spacingAndGlyphs" fill="#000" stroke="#000" stroke-width="0.15">4.5</text>
<text x="341.5" y="409.5" font-size="12" font-family='"Liberation Serif", serif' text-anchor="middle" font-style="italic" fill="#000">ν</text>
<text x="347.3" y="404.0" font-size="6.5" font-family='"Liberation Serif", serif' text-anchor="middle" fill="#000">u</text>
<g transform="translate(242,316) rotate(-90)">
<text x="0.0" y="3.8" font-size="11.5" font-family='"Liberation Serif", serif' text-anchor="middle" fill="#000">Φ</text>
<text x="7.5" y="-0.5" font-size="6.5" font-family='"Liberation Serif", serif' text-anchor="middle" fill="#000">u</text>
</g>
<path d="M528.5 243.0V382.0M552.8 243.0V382.0M577.0 243.0V382.0M601.3 243.0V382.0M625.5 243.0V382.0M504.3 363.5H649.8M504.3 344.9H649.8M504.3 326.4H649.8M504.3 307.9H649.8M504.3 289.3H649.8M504.3 270.8H649.8M504.3 252.3H649.8" stroke="#000" stroke-width="0.8" stroke-dasharray="1 2.73" opacity="0.6" fill="none"/>
<path d="M509.5 283.7L504.8 335.7M555.8 283.7L550.3 335.7M504.3 335.7H550.3" stroke="#777" stroke-width="0.9" fill="none"/>
<g transform="scale(0.25)" stroke-width="5.6" fill="none" opacity="0.8"><path d="M2049 1505h6m-17 2h6" stroke="#deebf7"/><path d="M2071 1475h6m-2 5h6m-34 1h6m-23 1h6m87 9h6m-105 1h6m-8 14h6m14 5h6m-26 10h6" stroke="#c6dbef"/><path d="M2028 1401h6m-14 49h6m49 1h6m-32 3h6m-35 3h6m2 12h6m2 2h6m50 0h6m-78 1h6m-4 2h6m-2 4h6m12 13h6m-1 3h6m2 2h6m-10 2h6m-31 1h6m-8 4h6m4 4h6" stroke="#9ecae1"/><path d="M2253 1376h6m-45 18h6m-97 6h6m-23 7h6m-32 8h6m-25 7h6m85 8h6m-85 1h6m-43 2h6m29 7h6m-16 1h6m-43 3h6m25 7h6m-37 2h6m27 0h6m-33 2h6m104 1h6m97 1h6m-145 1h6m-34 2h6m51 0h6m-95 2h6m-26 3h6m-6 3h6m6 1h6m21 1h6m-41 1h6m93 0h6m-43 4h6m-43 1h6m97 0h6m-41 1h6m-19 1h6m-30 2h6m-66 1h6m0 0h6m42 0h6m-40 1h6m46 0h6m-72 4h6m33 0h6m-14 2h6m-33 1h6m-14 1h6m17 0h6m-13 2h6m71 0h6m-80 1h6m-29 1h6m2 5h6m50 1h6m-43 3h6m-37 2h6m12 0h6m2 1h6m38 0h6m-12 1h6m-62 1h6m8 0h6m-24 1h6m27 0h6m-4 2h6" stroke="#6baed6"/><path d="M2329 1316h6m-167 21h6m-132 13h6m19 3h6m-43 27h6m-2 17h6m75 1h6m-60 2h6m-2 7h6m-49 6h6m16 0h6m-5 6h6m53 0h6m-59 2h6m41 2h6m-29 1h6m-57 3h6m165 0h6m7 0h6m-122 4h6m-70 1h6m33 1h6m25 0h6m-39 2h6m42 2h6m-2 2h6m62 0h6m-159 2h6m25 1h6m-18 3h6m45 0h6m-53 1h6m93 0h6m-74 1h6m6 2h6m23 0h6m-55 1h6m25 0h6m-6 0h6m-4 0h6m-87 1h6m262 0h6m-284 1h6m64 0h6m10 3h6m-34 2h6m-8 1h6m2 0h6m6 0h6m-12 1h6m-6 3h6m27 0h6m-72 1h6m-29 1h6m19 0h6m108 2h6m-132 1h6m-25 1h6m-16 1h6m84 0h6m-80 2h6m42 0h6m21 0h6m-66 1h6m56 0h6m-37 1h6m10 0h6m-51 1h6m-27 1h6m64 0h6m-18 1h6m-39 1h6m89 0h6m-27 1h6m-2 1h6m-82 1h6m-6 1h6m-43 1h6m-6 1h6m14 0h6m-8 1h6m-16 1h6m62 0h6m-6 0h6m-4 0h6m-82 1h6m29 0h6m-12 1h6m58 0h6m-91 1h6m37 0h6m-51 1h6m13 1h6m14 0h6m5 1h6m64 0h6m-120 1h6m9 0h6m27 1h6m-10 1h6m-50 1h6m-4 1h6m23 0h6m13 0h6m-52 2h6m-2 1h6m-8 1h6m15 0h6m48 0h6m-83 1h6m15 1h6m74 0h6m-101 2h6m38 1h6m-47 3h6m-21 5h6m-8 1h6m6 1h6" stroke="#4292c6"/><path d="M2080 1302h6m25 23h6m-56 12h6m9 7h6m-50 1h6m44 14h6m165 3h6m-20 2h6m-196 6h6m169 3h6m-66 3h6m213 0h6m-363 1h6m23 3h6m25 0h6m58 0h6m-91 1h6m302 0h6m-314 1h6m54 0h6m266 2h6m-212 1h6m-144 3h6m-8 1h6m31 0h6m78 0h6m61 0h6m-141 1h6m21 1h6m95 1h6m-154 3h6m0 1h6m-18 1h6m-35 2h6m122 3h6m-54 1h6m23 3h6m0 0h6m-64 1h6m96 0h6m-161 1h6m72 0h6m64 0h6m-169 2h6m15 0h6m180 0h6m60 0h6m-194 1h6m124 0h6m-219 1h6m9 0h6m-21 1h6m75 3h6m190 1h6m-252 2h6m91 0h6m34 0h6m-174 1h6m27 0h6m164 1h6m-192 1h6m-4 0h6m141 0h6m-103 2h6m-50 2h6m69 0h6m123 0h6m-43 1h6m-138 1h6m-72 1h6m31 1h6m96 0h6m-56 1h6m-51 2h6m-4 0h6m29 0h6m-85 2h6m-4 0h6m110 0h6m142 0h6m-259 1h6m18 1h6m-1 0h6m43 0h6m-103 1h6m6 0h6m77 0h6m205 0h6m-275 2h6m324 0h6m-385 1h6m181 0h6m-169 1h6m34 0h6m-43 2h6m68 0h6m173 0h6m-286 1h6m29 0h6m2 1h6m-18 1h6m21 1h6m-23 1h6m4 0h6m62 0h6m-94 2h6m35 0h6m-47 1h6m14 0h6m-37 1h6m15 0h6m29 0h6m-80 1h6m25 0h6m60 1h6m25 0h6m-136 1h6m41 0h6m114 0h6m-132 1h6m-12 1h6m126 0h6m-6 1h6m43 0h6m-220 1h6m6 0h6m13 0h6m4 0h6m-2 0h6m2 1h6m67 0h6m-95 1h6m13 0h6m51 0h6m0 0h6m40 0h6m-132 1h6m99 0h6m-144 2h6m70 0h6m11 0h6m-81 1h6m5 0h6m122 0h6m14 0h6m-140 1h6m19 0h6m35 0h6m-119 1h6m48 0h6m60 0h6m-106 1h6m9 0h6m79 0h6m-103 1h6m8 0h6m8 0h6m-6 0h6m3 0h6m33 0h6m-97 1h6m11 0h6m47 0h6m-47 1h6m-6 0h6m19 0h6m-50 1h6m25 0h6m-4 0h6m-6 0h6m3 0h6m-12 1h6m-56 1h6m37 0h6m-47 1h6m31 0h6m25 0h6m50 0h6m-122 1h6m11 0h6m-2 0h6m-43 1h6m25 0h6m-35 1h6m8 0h6m3 0h6m2 0h6m27 0h6m72 0h6m-130 1h6m46 0h6m68 0h6m-121 1h6m-29 1h6m74 0h6m32 0h6m39 0h6m-163 1h6m2 0h6m5 0h6m39 0h6m17 0h6m-87 1h6m52 0h6m38 0h6m-103 2h6m18 0h6m13 0h6m35 0h6m-95 1h6m-14 1h6m-6 0h6m17 0h6m12 0h6m3 0h6m-68 1h6m37 0h6m11 0h6m-2 0h6m8 0h6m0 0h6m-1 0h6m-95 2h6m23 0h6m10 0h6m5 0h6m72 0h6m-60 1h6m27 0h6m-2 0h6m-94 1h6m45 0h6m-43 1h6m27 1h6m-62 3h6m-1 0h6m-33 1h6m20 2h6m-1 0h6m37 0h6m-68 1h6m-12 1h6m33 0h6m0 0h6m-10 1h6m17 0h6m4 0h6m19 0h6m-72 1h6m-41 2h6m33 0h6m-27 1h6m48 1h6m-78 2h6m-2 2h6m0 3h6" stroke="#2171b5"/><path d="M2183 1325h6m-89 2h6m217 3h6m-231 4h6m-49 4h6m128 9h6m-157 2h6m9 1h6m-10 8h6m-27 2h6m52 1h6m155 1h6m-198 2h6m48 11h6m130 5h6m19 0h6m-172 1h6m-32 2h6m-11 3h6m40 0h6m-101 1h6m64 0h6m39 0h6m-96 1h6m39 2h6m19 1h6m173 0h6m-276 3h6m54 2h6m233 0h6m-193 1h6m-97 1h6m72 1h6m374 0h6m-460 3h6m130 1h6m-140 3h6m35 0h6m178 1h6m91 0h6m-336 1h6m367 0h6m-355 3h6m-1 0h6m20 0h6m-20 1h6m15 0h6m142 1h6m-216 1h6m39 0h6m-56 1h6m-24 1h6m4 1h6m23 2h6m29 0h6m-28 1h6m-35 1h6m2 0h6m95 1h6m-4 0h6m4 0h6m-80 1h6m-35 1h6m7 0h6m8 0h6m-2 0h6m60 0h6m-93 1h6m108 0h6m-161 2h6m27 0h6m-24 1h6m12 0h6m11 1h6m-37 1h6m-6 0h6m274 0h6m-206 1h6m27 0h6m-121 1h6m35 0h6m-58 1h6m1 1h6m-27 1h6m0 0h6m27 1h6m5 0h6m90 0h6m-105 1h6m38 2h6m-105 1h6m12 0h6m-4 0h6m73 0h6m-81 1h6m21 0h6m217 0h6m-249 1h6m153 0h6m-165 1h6m0 0h6m87 0h6m27 0h6m31 0h6m33 0h6m-212 1h6m-2 1h6m54 0h6m47 0h6m7 0h6m91 0h6m-260 1h6m23 0h6m2 0h6m19 0h6m4 0h6m-6 0h6m25 0h6m39 0h6m17 0h6m-161 1h6m1 0h6m55 0h6m-78 1h6m29 0h6m-2 0h6m27 0h6m61 0h6m39 0h6m81 1h6m-285 1h6m29 1h6m33 1h6m-78 1h6m8 1h6m11 0h6m149 0h6m76 0h6m-193 1h6m-66 1h6m2 0h6m23 1h6m33 0h6m99 0h6m-206 1h6m46 0h6m-10 1h6m22 0h6m11 0h6m-99 1h6m9 0h6m39 0h6m0 0h6m-55 2h6m14 0h6m31 0h6m1 0h6m10 0h6m-99 1h6m9 0h6m56 0h6m49 0h6m-123 1h6m12 1h6m0 0h6m81 0h6m-80 1h6m-50 1h6m3 0h6m2 0h6m27 0h6m-2 0h6m17 0h6m-68 1h6m74 0h6m1 1h6m0 0h6m-132 1h6m2 0h6m31 0h6m5 0h6m0 0h6m23 0h6m118 0h6m-221 2h6m19 0h6m39 0h6m85 0h6m-149 1h6m-6 1h6m30 0h6m-46 1h6m1 1h6m2 0h6m14 0h6m77 0h6m-53 1h6m18 0h6m-99 1h6m5 0h6m-27 1h6m25 0h6m48 0h6m19 0h6m-130 1h6m18 0h6m81 0h6m-113 1h6m12 1h6m30 0h6m35 0h6m-89 1h6m23 0h6m-2 0h6m48 0h6m48 0h6m-70 1h6m31 0h6m-91 2h6m44 1h6m-27 1h6m-78 1h6m-2 0h6m50 0h6m-35 1h6m-13 1h6m-1 1h6m21 0h6m-33 1h6m12 0h6m0 0h6m-61 1h6m8 0h6m42 0h6m-46 1h6m69 0h6m-95 1h6m19 0h6m99 0h6m-107 2h6m-2 2h6m0 1h6m-18 1h6m2 1h6m4 0h6m-57 1h6m18 1h6m-1 3h6m-31 2h6m4 0h6m17 0h6m-23 5h6m-20 2h6m2 0h6m13 0h6m-19 4h6" stroke="#08519c"/><path d="M2459 1108h6m-307 28h6m188 12h6m-237 56h6m252 7h6m-99 36h6m13 4h6m-221 3h6m72 2h6m-90 4h6m407 0h6m-287 9h6m132 6h6m-251 7h6m-4 1h6m66 6h6m60 10h6m-116 2h6m-8 3h6m5 0h6m-132 1h6m54 2h6m76 1h6m-107 1h6m13 1h6m20 2h6m52 1h6m-16 1h6m-58 1h6m-49 2h6m27 0h6m209 1h6m-126 2h6m-68 1h6m-88 1h6m219 0h6m-31 1h6m-33 1h6m-157 1h6m46 0h6m6 0h6m-86 5h6m359 5h6m-243 1h6m278 0h6m-358 1h6m-2 1h6m66 2h6m-132 2h6m244 0h6m-171 2h6m113 0h6m-233 1h6m-4 1h6m19 6h6m-49 1h6m16 0h6m90 0h6m221 0h6m-223 2h6m16 0h6m83 0h6m-103 1h6m-113 1h6m145 0h6m64 2h6m-124 3h6m72 0h6m48 0h6m-190 1h6m96 0h6m118 1h6m70 0h6m-279 1h6m106 0h6m8 0h6m-247 1h6m194 0h6m-165 1h6m250 0h6m-264 1h6m73 0h6m-46 1h6m-43 1h6m15 3h6m-12 1h6m204 0h6m-266 1h6m134 1h6m-127 2h6m25 0h6m18 0h6m-43 1h6m240 0h6m-221 2h6m7 0h6m107 0h6m-161 1h6m11 1h6m122 0h6m-155 1h6m29 0h6m36 0h6m-114 1h6m163 1h6m269 0h6m-404 1h6m10 0h6m-72 1h6m-2 0h6m145 1h6m-101 1h6m48 0h6m18 0h6m-150 1h6m8 0h6m384 0h6m-375 1h6m12 0h6m255 0h6m22 0h6m-247 1h6m19 0h6m2 0h6m-144 2h6m87 0h6m-99 1h6m78 0h6m25 0h6m11 0h6m-48 1h6m34 0h6m210 0h6m-346 1h6m25 0h6m-14 1h6m62 0h6m33 0h6m114 0h6m-188 1h6m-4 0h6m-27 1h6m279 0h6m-324 1h6m77 0h6m-64 1h6m60 0h6m120 0h6m-196 1h6m166 0h6m-223 1h6m60 0h6m231 0h6m-286 1h6m-6 0h6m68 0h6m118 0h6m-161 1h6m144 0h6m-136 1h6m137 0h6m-167 1h6m19 0h6m113 0h6m60 0h6m-274 1h6m40 0h6m266 0h6m-99 1h6m-185 1h6m24 0h6m1 0h6m-56 1h6m17 0h6m50 0h6m68 0h6m48 0h6m-202 2h6m130 0h6m-161 1h6m109 0h6m-123 2h6m111 0h6m58 0h6m-216 1h6m-4 0h6m50 0h6m37 0h6m73 0h6m-194 1h6m10 0h6m2 0h6m15 0h6m-4 0h6m29 0h6m0 0h6m-4 0h6m1 0h6m33 0h6m54 0h6m-155 1h6m17 0h6m6 0h6m27 0h6m-109 1h6m50 0h6m45 0h6m-53 1h6m-39 1h6m-8 1h6m-2 0h6m74 0h6m-94 1h6m2 0h6m19 0h6m62 0h6m-113 1h6m62 0h6m41 0h6m-122 1h6m7 0h6m6 1h6m166 0h6m25 0h6m-252 1h6m15 0h6m8 0h6m-6 0h6m-4 0h6m-4 0h6m46 0h6m-2 0h6m-62 1h6m5 0h6m22 0h6m25 0h6m15 0h6m4 0h6m15 0h6m-111 1h6m31 0h6m43 0h6m108 0h6m-221 1h6m67 0h6m-95 1h6m8 0h6m23 0h6m37 0h6m-105 1h6m19 0h6m31 0h6m-4 0h6m17 0h6m21 0h6m4 0h6m-134 1h6m0 0h6m3 0h6m53 0h6m-3 0h6m25 0h6m16 0h6m-115 1h6m6 0h6m3 0h6m8 0h6m27 0h6m-12 1h6m80 0h6m-3 0h6m-170 1h6m73 0h6m107 0h6m209 0h6m-324 1h6m99 0h6m-214 1h6m56 0h6m25 0h6m33 0h6m-103 1h6m13 0h6m2 0h6m76 0h6m-92 1h6m66 0h6m-113 1h6m25 0h6m27 1h6m27 0h6m-85 1h6m-43 1h6m19 0h6m35 0h6m7 0h6m33 0h6m-64 1h6m-2 0h6m7 0h6m-97 1h6m2 0h6m0 0h6m75 0h6m10 0h6m48 0h6m-140 1h6m49 0h6m3 0h6m10 0h6m-101 1h6m265 0h6m-291 1h6m16 0h6m96 0h6m56 0h6m-124 1h6m-2 0h6m-2 0h6m7 0h6m-52 1h6m-6 0h6m-6 0h6m17 0h6m6 0h6m27 0h6m5 0h6m-68 1h6m12 0h6m-6 0h6m48 0h6m-130 1h6m21 1h6m37 0h6m-82 1h6m-6 0h6m60 0h6m46 0h6m-81 1h6m11 0h6m6 0h6m-6 0h6m64 0h6m13 0h6m-128 1h6m0 0h6m69 0h6m-110 1h6m-2 0h6m7 0h6m-2 0h6m-4 0h6m4 0h6m3 0h6m0 0h6m10 0h6m-72 1h6m17 0h6m0 0h6m4 0h6m92 0h6m-155 1h6m159 0h6m-128 1h6m147 0h6m-181 1h6m20 0h6m17 0h6m73 0h6m-106 1h6m63 0h6m99 1h6m-178 1h6m19 0h6m-30 1h6m14 0h6m19 0h6m4 0h6m17 0h6m25 0h6m-146 1h6m2 0h6m4 0h6m9 0h6m8 0h6m-29 1h6m5 0h6m25 0h6m53 1h6m-101 1h6m-61 1h6m6 0h6m13 0h6m14 0h6m48 0h6m91 0h6m-206 1h6m27 0h6m15 0h6m-2 0h6m4 0h6m-6 0h6m-4 0h6m19 1h6m-2 0h6m25 0h6m-118 1h6m62 0h6m5 0h6m21 0h6m-112 1h6m-6 0h6m50 0h6m-4 0h6m-64 1h6m143 0h6m-169 1h6m70 0h6m-68 1h6m13 0h6m114 0h6m-132 1h6m6 0h6m-16 1h6m19 0h6m-42 1h6m77 0h6m-66 1h6m17 0h6m74 0h6m-152 1h6m19 0h6m-8 1h6m4 0h6m77 0h6m4 0h6m-128 1h6m-2 0h6m11 0h6m-6 0h6m6 0h6m-2 0h6m11 0h6m8 0h6m-53 1h6m10 0h6m21 0h6m-64 1h6m23 0h6m-6 0h6m-4 0h6m-6 0h6m29 0h6m-70 1h6m48 0h6m17 0h6m6 0h6m-86 1h6m6 0h6m4 0h6m29 0h6m5 0h6m2 0h6m-103 1h6m46 0h6m-40 1h6m11 0h6m15 0h6m-48 1h6m-4 0h6m-6 0h6m25 0h6m-4 0h6m5 0h6m2 0h6m-51 1h6m-2 0h6m45 0h6m-32 1h6m-54 1h6m6 0h6m9 0h6m6 1h6m2 0h6m11 0h6m8 0h6m-80 4h6m33 0h6m-28 1h6m21 0h6m14 0h6m-35 1h6m-4 0h6m-31 1h6m-16 1h6m-22 5h6" stroke="#08306b"/><path d="M2082 1479h6m-19 7h6" stroke="#fff5f0"/><path d="M2020 1467h6m-2 1h6m39 2h6m21 3h6m-78 10h6m-10 8h6m8 0h6m-2 1h6m-20 1h6m29 5h6m-8 3h6m12 2h6m-45 5h6" stroke="#fee0d2"/><path d="M2034 1429h6m4 2h6m-14 1h6m58 17h6m33 0h6m-49 7h6m-45 4h6m-43 3h6m188 2h6m-196 1h6m41 1h6m-28 5h6m-33 1h6m31 0h6m-10 1h6m8 1h6m-41 2h6m-10 2h6m-18 1h6m8 1h6m19 1h6m-41 2h6m33 1h6m4 0h6m5 2h6m-56 1h6m-4 1h6m4 0h6m-18 3h6m50 0h6m-62 1h6m-16 2h6m0 4h6m-8 2h6m4 2h6m-24 1h6m-2 6h6m0 11h6" stroke="#fcbba1"/><path d="M2061 1350h6m83 51h6m-19 3h6m-105 3h6m15 2h6m2 2h6m-33 4h6m-22 3h6m-2 5h6m35 0h6m71 1h6m-83 1h6m-55 2h6m233 0h6m-231 2h6m42 2h6m12 7h6m-72 2h6m27 0h6m-14 4h6m180 0h6m-132 4h6m130 1h6m-198 3h6m2 1h6m52 3h6m-91 1h6m23 0h6m48 0h6m-91 3h6m73 0h6m-54 1h6m-8 1h6m-2 0h6m28 0h6m-31 2h6m-54 1h6m0 0h6m-18 1h6m44 0h6m45 2h6m-74 1h6m17 2h6m17 0h6m-75 1h6m54 0h6m-76 1h6m112 0h6m-134 3h6m12 1h6m-16 1h6m42 0h6m-62 1h6m29 0h6m0 0h6m-6 0h6m-6 0h6m83 0h6m-109 1h6m25 0h6m-37 1h6m-19 4h6m-16 1h6m14 0h6m-28 2h6m4 0h6m2 0h6m29 1h6m30 0h6m-62 1h6m-35 1h6m44 0h6m-37 1h6m33 0h6m2 0h6m-80 1h6m27 0h6m2 1h6m4 0h6m-4 0h6m-30 2h6m37 0h6m-54 1h6m48 0h6m-43 1h6m4 1h6m-28 1h6m-17 1h6m38 1h6m-41 1h6m-27 1h6m-4 0h6m44 0h6m-44 1h6m-6 0h6m31 1h6m-53 4h6m-14 2h6m-8 5h6m-4 3h6m-8 4h6" stroke="#fc9272"/><path d="M2156 1292h6m-37 54h6m2 10h6m11 0h6m-47 6h6m68 0h6m-72 11h6m147 14h6m-188 4h6m-56 4h6m5 1h6m53 1h6m-53 4h6m56 1h6m-2 1h6m-74 3h6m-29 1h6m192 1h6m-181 2h6m58 0h6m-85 3h6m44 1h6m-4 0h6m-14 1h6m-10 1h6m-45 4h6m70 0h6m39 0h6m-2 0h6m-68 1h6m-38 1h6m29 0h6m33 0h6m-107 1h6m58 2h6m47 1h6m-107 2h6m122 0h6m-124 1h6m13 0h6m-4 0h6m-74 1h6m19 0h6m-2 0h6m46 2h6m14 0h6m-115 1h6m35 2h6m6 0h6m13 0h6m33 2h6m-95 1h6m28 0h6m55 0h6m157 0h6m-268 1h6m19 0h6m42 0h6m-64 2h6m54 0h6m29 0h6m-97 1h6m31 0h6m-4 0h6m-4 0h6m-82 1h6m60 0h6m-54 1h6m58 1h6m95 0h6m-140 1h6m23 0h6m-68 2h6m54 0h6m0 0h6m-49 1h6m124 0h6m11 0h6m-118 1h6m-31 1h6m48 0h6m8 0h6m-115 1h6m39 0h6m46 2h6m-95 1h6m79 0h6m-74 2h6m6 0h6m0 0h6m-59 1h6m64 0h6m-74 1h6m19 1h6m8 0h6m-35 1h6m48 0h6m0 0h6m167 0h6m-212 1h6m-6 0h6m21 0h6m25 0h6m6 0h6m4 0h6m-84 1h6m21 0h6m122 0h6m-107 1h6m-99 1h6m-4 0h6m-2 0h6m64 0h6m9 0h6m-48 1h6m44 0h6m-45 1h6m-33 1h6m62 0h6m-68 1h6m0 0h6m11 0h6m-6 0h6m-12 1h6m-33 1h6m0 0h6m17 0h6m0 0h6m-68 1h6m17 0h6m56 0h6m0 0h6m-56 1h6m38 0h6m16 0h6m-2 1h6m-103 2h6m5 0h6m18 0h6m5 0h6m-58 1h6m79 0h6m-39 1h6m19 0h6m123 0h6m-189 1h6m8 0h6m34 0h6m2 0h6m10 0h6m31 0h6m-156 1h6m45 0h6m13 0h6m95 0h6m-142 1h6m58 0h6m29 0h6m-124 1h6m64 0h6m-43 1h6m17 0h6m-4 0h6m-4 0h6m-74 1h6m0 0h6m5 0h6m-6 0h6m-6 0h6m-2 0h6m85 0h6m-81 1h6m2 0h6m-59 2h6m4 0h6m19 0h6m12 0h6m25 0h6m52 0h6m-86 1h6m-43 1h6m33 0h6m-4 0h6m-58 1h6m27 0h6m-2 0h6m25 0h6m-80 1h6m46 0h6m-2 1h6m-48 1h6m17 0h6m2 0h6m1 0h6m-25 1h6m13 0h6m8 1h6m-18 1h6m-4 2h6m-64 1h6m29 0h6m15 0h6m35 0h6m-91 1h6m0 0h6m40 0h6m-76 1h6m12 0h6m9 0h6m12 0h6m-4 1h6m-47 1h6m11 1h6m-17 1h6m13 0h6m-41 1h6m4 0h6m40 1h6m12 1h6m-57 1h6m4 1h6m-39 2h6m10 0h6m-16 1h6m15 0h6m-17 1h6m-14 3h6" stroke="#fb6a4a"/><path d="M2117 1281h6m175 17h6m-222 23h6m-17 1h6m155 3h6m-206 25h6m81 2h6m-95 2h6m151 4h6m-23 4h6m-22 4h6m-118 1h6m21 3h6m-57 1h6m4 1h6m215 1h6m-194 3h6m180 1h6m202 2h6m-340 6h6m52 0h6m-54 2h6m-103 2h6m11 2h6m-21 1h6m19 0h6m41 0h6m-70 1h6m-8 1h6m42 0h6m74 0h6m-150 1h6m81 1h6m0 0h6m289 2h6m-384 2h6m3 0h6m-29 2h6m-10 1h6m237 0h6m-249 1h6m87 1h6m140 2h6m-187 1h6m47 1h6m29 0h6m-61 1h6m-60 1h6m-17 1h6m-3 0h6m120 0h6m-103 3h6m55 0h6m-92 1h6m6 0h6m169 3h6m-171 1h6m65 0h6m86 2h6m-78 1h6m252 0h6m-388 1h6m1 0h6m14 0h6m201 0h6m-192 1h6m17 0h6m31 0h6m-79 2h6m-36 1h6m6 0h6m17 1h6m29 0h6m14 0h6m-119 1h6m52 0h6m20 0h6m-36 1h6m14 0h6m-70 1h6m11 0h6m2 0h6m142 0h6m15 0h6m-161 1h6m7 0h6m50 1h6m66 0h6m194 0h6m-367 2h6m-6 1h6m16 0h6m32 0h6m-66 1h6m111 0h6m-99 1h6m1 0h6m12 0h6m9 0h6m4 0h6m-84 1h6m22 0h6m56 0h6m-74 1h6m48 0h6m21 0h6m-93 1h6m-39 1h6m29 0h6m7 0h6m-33 1h6m-25 1h6m6 0h6m38 0h6m37 0h6m-101 1h6m62 0h6m-72 1h6m67 0h6m-77 1h6m19 0h6m64 0h6m27 0h6m-84 1h6m-66 1h6m48 0h6m25 0h6m-76 1h6m-11 1h6m3 0h6m31 0h6m-60 1h6m73 0h6m14 0h6m15 0h6m-114 1h6m-5 0h6m-2 0h6m252 0h6m-293 1h6m6 0h6m19 0h6m17 0h6m25 0h6m45 0h6m-113 1h6m45 1h6m19 0h6m48 0h6m-132 1h6m2 0h6m0 0h6m-4 0h6m32 0h6m16 0h6m89 0h6m-196 1h6m38 0h6m-64 1h6m33 0h6m15 0h6m8 0h6m-2 0h6m-88 1h6m99 0h6m-2 0h6m-84 1h6m52 0h6m-60 1h6m0 0h6m-2 0h6m-31 1h6m-1 0h6m-4 0h6m70 0h6m128 0h6m-243 1h6m12 0h6m48 0h6m15 0h6m-2 0h6m-95 2h6m-6 0h6m4 0h6m7 0h6m2 0h6m-41 1h6m17 0h6m-35 1h6m56 0h6m39 0h6m-111 1h6m76 0h6m-66 1h6m44 0h6m2 0h6m1 0h6m-4 0h6m-2 0h6m4 0h6m46 0h6m39 0h6m-179 1h6m-6 0h6m27 0h6m-52 1h6m25 0h6m3 0h6m20 0h6m-39 1h6m-2 0h6m29 0h6m23 0h6m-125 1h6m37 0h6m15 0h6m-29 1h6m-4 0h6m15 0h6m-2 0h6m-2 0h6m12 0h6m28 0h6m4 0h6m-116 1h6m52 0h6m5 0h6m72 0h6m-177 1h6m2 0h6m6 0h6m13 0h6m-4 0h6m91 0h6m-122 1h6m7 0h6m-6 0h6m-4 0h6m6 0h6m-4 0h6m-2 0h6m1 0h6m-4 0h6m43 0h6m-97 1h6m-2 0h6m13 0h6m11 0h6m-4 0h6m16 0h6m52 0h6m-150 1h6m56 0h6m-6 0h6m8 0h6m-58 1h6m11 0h6m27 0h6m48 0h6m-126 1h6m62 0h6m-66 1h6m4 0h6m-1 0h6m6 0h6m-6 0h6m4 0h6m38 0h6m66 0h6m-167 1h6m105 0h6m-125 1h6m-4 0h6m165 0h6m-152 1h6m41 0h6m-54 1h6m3 0h6m14 0h6m5 0h6m99 0h6m-163 2h6m-4 0h6m35 0h6m9 0h6m-76 1h6m-6 0h6m35 0h6m2 0h6m-51 1h6m15 0h6m24 0h6m98 0h6m-145 1h6m-24 1h6m54 0h6m-15 1h6m-57 1h6m25 0h6m0 1h6m-4 0h6m-6 0h6m70 0h6m-67 1h6m24 0h6m-41 1h6m3 1h6m-68 1h6m27 0h6m-33 1h6m23 0h6m25 0h6m-15 1h6m-47 1h6m5 1h6m-6 1h6m29 0h6m-68 1h6m-4 0h6m-6 0h6m8 0h6m-2 0h6m-2 0h6m52 0h6m-45 1h6m-37 1h6m-18 1h6m31 0h6m2 1h6m-47 1h6m19 0h6m-21 2h6m-12 1h6m-14 1h6m14 4h6" stroke="#ef3b2c"/><path d="M2061 1248h6m-41 48h6m328 8h6m-152 21h6m-78 8h6m-110 4h6m0 0h6m11 2h6m134 6h6m-37 2h6m-39 6h6m-78 4h6m52 0h6m46 0h6m-153 1h6m178 1h6m340 0h6m-460 4h6m108 0h6m-115 2h6m-73 1h6m40 0h6m68 0h6m0 0h6m-144 1h6m54 0h6m44 3h6m-37 1h6m-75 1h6m325 0h6m-279 1h6m-4 0h6m-24 1h6m68 0h6m-53 7h6m24 0h6m-78 2h6m114 0h6m116 2h6m-270 2h6m72 0h6m10 0h6m15 0h6m52 0h6m-19 1h6m147 0h6m-309 5h6m-6 1h6m23 0h6m49 0h6m69 0h6m8 2h6m-97 2h6m-105 2h6m21 0h6m102 0h6m-141 1h6m21 2h6m46 0h6m-91 1h6m38 0h6m157 1h6m47 0h6m-214 1h6m4 0h6m83 0h6m-134 1h6m138 0h6m-109 1h6m2 0h6m23 1h6m190 0h6m-245 1h6m10 0h6m-8 1h6m19 0h6m-12 1h6m27 0h6m-113 1h6m23 0h6m31 0h6m-2 0h6m-85 1h6m-4 0h6m27 1h6m19 0h6m-55 1h6m10 0h6m44 0h6m80 0h6m-175 1h6m19 0h6m2 0h6m75 0h6m-126 1h6m136 0h6m-86 1h6m-4 0h6m17 0h6m25 0h6m-23 1h6m-37 1h6m-74 1h6m40 0h6m8 0h6m-66 1h6m46 0h6m27 0h6m-68 1h6m8 0h6m-45 1h6m39 0h6m234 0h6m6 0h6m-276 1h6m52 0h6m2 0h6m39 0h6m25 0h6m-169 1h6m0 0h6m-6 0h6m32 0h6m29 0h6m0 0h6m-105 1h6m21 0h6m107 0h6m66 0h6m1 0h6m-188 1h6m21 0h6m39 1h6m-115 1h6m23 0h6m6 0h6m271 0h6m51 0h6m-361 1h6m1 0h6m14 0h6m159 0h6m-146 1h6m-33 1h6m-4 0h6m9 0h6m14 0h6m34 0h6m41 0h6m-159 2h6m19 0h6m8 0h6m104 0h6m-155 1h6m13 0h6m17 0h6m-40 1h6m67 0h6m25 0h6m-62 1h6m-39 1h6m-16 1h6m0 0h6m25 0h6m-33 1h6m6 0h6m-2 0h6m28 0h6m70 0h6m-138 1h6m-41 1h6m14 0h6m13 0h6m97 0h6m-126 1h6m-20 1h6m33 0h6m260 0h6m-292 1h6m6 0h6m68 0h6m2 0h6m-49 1h6m-2 0h6m17 0h6m-68 1h6m21 0h6m19 0h6m-4 0h6m12 0h6m-113 1h6m54 0h6m0 0h6m21 0h6m-107 1h6m12 0h6m174 0h6m-200 1h6m68 0h6m13 0h6m-74 1h6m27 0h6m72 0h6m-89 1h6m69 0h6m45 0h6m-99 1h6m-53 2h6m11 0h6m14 0h6m-2 0h6m64 0h6m-146 1h6m9 0h6m35 0h6m-6 0h6m19 0h6m-75 1h6m46 0h6m0 0h6m13 0h6m6 0h6m29 0h6m69 0h6m64 0h6m-291 1h6m-6 0h6m25 0h6m13 0h6m8 0h6m141 0h6m-211 1h6m95 0h6m91 0h6m-156 1h6m12 0h6m77 0h6m-116 1h6m19 0h6m19 0h6m2 0h6m-107 1h6m25 0h6m-43 1h6m14 0h6m3 0h6m0 0h6m62 0h6m62 0h6m-177 1h6m46 0h6m14 0h6m0 0h6m31 0h6m-119 1h6m8 0h6m75 0h6m-87 1h6m-4 0h6m9 0h6m147 0h6m-155 1h6m-35 1h6m2 0h6m-4 0h6m60 0h6m11 0h6m21 0h6m6 0h6m-107 1h6m29 0h6m42 0h6m-70 1h6m4 0h6m-6 0h6m0 0h6m4 0h6m-74 1h6m-2 0h6m3 0h6m-2 0h6m12 0h6m17 0h6m-53 1h6m6 0h6m13 0h6m20 0h6m1 0h6m85 1h6m-190 1h6m6 0h6m5 0h6m10 0h6m9 0h6m20 0h6m97 0h6m44 0h6m-177 1h6m10 0h6m118 0h6m-132 1h6m9 0h6m-89 1h6m104 0h6m10 0h6m-144 1h6m14 0h6m0 0h6m5 0h6m-6 0h6m-37 1h6m46 0h6m-42 1h6m3 0h6m27 0h6m10 0h6m-2 0h6m3 0h6m0 0h6m-4 0h6m-80 1h6m45 0h6m48 1h6m-126 1h6m39 0h6m48 0h6m-109 1h6m21 0h6m41 0h6m-66 1h6m7 0h6m4 0h6m21 0h6m33 0h6m50 0h6m-157 1h6m17 0h6m21 0h6m2 0h6m-66 1h6m21 0h6m-2 0h6m13 0h6m27 0h6m41 0h6m-105 1h6m6 0h6m-5 0h6m14 0h6m52 0h6m-120 1h6m7 0h6m2 0h6m19 0h6m-58 1h6m21 0h6m77 0h6m-108 1h6m-3 0h6m-2 0h6m0 1h6m48 0h6m-97 1h6m12 0h6m29 1h6m19 0h6m29 1h6m-105 1h6m-12 1h6m76 0h6m-20 1h6m-68 1h6m7 0h6m2 0h6m52 1h6m-48 1h6m-57 1h6m6 0h6m-2 0h6m-2 0h6m5 1h6m25 0h6m-56 3h6m-4 1h6m-18 3h6m16 0h6m-30 1h6m14 2h6m-6 3h6" stroke="#cb181d"/><path d="M2055 1245h6m91 10h6m128 9h6m-163 7h6m242 12h6m-145 4h6m-127 15h6m177 3h6m-262 4h6m120 3h6m149 0h6m-293 2h6m149 0h6m7 5h6m-184 4h6m-16 2h6m512 0h6m-524 1h6m330 1h6m-293 5h6m-24 4h6m23 0h6m14 1h6m-6 0h6m46 0h6m91 4h6m-229 1h6m157 7h6m-124 3h6m23 1h6m29 2h6m188 0h6m-239 1h6m149 1h6m43 2h6m-74 1h6m-134 1h6m252 4h6m-251 1h6m0 0h6m-97 4h6m8 0h6m44 0h6m42 1h6m-56 2h6m-25 2h6m91 0h6m9 0h6m43 1h6m-200 1h6m100 0h6m-6 1h6m138 0h6m-229 1h6m60 0h6m-97 1h6m94 0h6m76 0h6m-22 1h6m43 0h6m-231 1h6m176 0h6m159 0h6m-353 2h6m2 0h6m58 3h6m-4 0h6m151 1h6m-214 3h6m31 0h6m27 0h6m15 0h6m-81 1h6m91 0h6m-148 1h6m23 0h6m15 0h6m154 0h6m-127 1h6m130 0h6m19 1h6m-153 1h6m99 0h6m-167 3h6m23 0h6m164 0h6m-207 1h6m259 0h6m-281 1h6m37 0h6m353 0h6m-422 1h6m23 0h6m24 0h6m19 0h6m27 0h6m-68 2h6m29 0h6m15 0h6m-103 1h6m-4 0h6m85 0h6m89 0h6m-211 1h6m13 0h6m17 0h6m87 0h6m-159 1h6m15 0h6m196 0h6m-211 1h6m220 0h6m-232 1h6m50 0h6m-66 1h6m15 0h6m70 0h6m-78 2h6m0 0h6m-47 1h6m0 0h6m25 0h6m112 0h6m-171 1h6m91 1h6m-79 1h6m1 0h6m0 0h6m37 0h6m17 0h6m99 0h6m120 0h6m-316 1h6m79 0h6m87 0h6m118 0h6m-293 1h6m87 2h6m-126 1h6m31 0h6m3 0h6m-2 0h6m2 0h6m13 0h6m-35 1h6m0 0h6m16 0h6m176 0h6m-264 1h6m-4 0h6m38 0h6m165 0h6m-120 1h6m-96 1h6m14 0h6m101 0h6m94 0h6m-238 1h6m100 1h6m-122 1h6m9 0h6m2 0h6m49 0h6m-72 1h6m54 0h6m-63 1h6m-4 0h6m51 0h6m27 0h6m21 1h6m182 0h6m-328 1h6m72 0h6m34 0h6m-105 1h6m84 0h6m-94 1h6m14 0h6m40 0h6m8 0h6m225 0h6m-280 1h6m-56 1h6m42 0h6m151 0h6m-114 1h6m-107 1h6m36 0h6m84 1h6m-76 1h6m-62 1h6m178 0h6m29 0h6m-225 1h6m-6 0h6m23 0h6m11 0h6m14 0h6m-78 1h6m-2 0h6m1 0h6m16 1h6m42 0h6m-91 1h6m6 1h6m279 0h6m-270 1h6m4 0h6m129 0h6m-151 1h6m132 0h6m-80 1h6m37 0h6m-148 1h6m10 0h6m-3 0h6m196 0h6m-122 1h6m9 0h6m0 0h6m79 0h6m-198 1h6m-6 0h6m20 0h6m23 0h6m126 0h6m-181 1h6m-37 1h6m87 0h6m52 0h6m-147 1h6m44 1h6m-21 2h6m-39 1h6m-4 0h6m85 0h6m11 0h6m-112 1h6m38 0h6m14 0h6m-63 1h6m-33 1h6m48 0h6m4 0h6m2 0h6m50 0h6m-49 1h6m-56 1h6m70 0h6m7 0h6m-128 1h6m8 0h6m5 0h6m16 0h6m48 0h6m6 1h6m15 0h6m-6 1h6m-128 1h6m0 0h6m36 0h6m6 0h6m-4 1h6m2 0h6m63 0h6m16 0h6m-167 1h6m3 0h6m4 0h6m4 0h6m27 0h6m130 1h6m-84 1h6m-97 1h6m-6 1h6m15 0h6m19 0h6m-72 1h6m2 0h6m128 0h6m44 0h6m-198 1h6m25 0h6m-31 1h6m0 0h6m167 0h6m-173 3h6m-33 1h6m44 0h6m66 0h6m-132 2h6m54 0h6m2 0h6m-53 3h6m2 0h6m19 0h6m0 1h6m29 0h6m-62 1h6m1 0h6m47 0h6m-92 1h6m2 0h6m-4 0h6m15 0h6m6 0h6m-33 1h6m4 1h6m56 1h6m-86 1h6m-2 0h6m10 0h6m-51 1h6m11 0h6m126 0h6m-120 1h6m66 0h6m-98 1h6m20 0h6m17 1h6m-62 1h6m1 0h6m12 1h6m35 0h6m-45 1h6m-27 1h6m26 0h6m-58 1h6m58 0h6m-68 2h6m48 2h6m-27 1h6m-45 2h6m4 0h6m9 7h6m-7 5h6" stroke="#a50f15"/><path d="M2393 1061h6m-255 120h6m404 7h6m-437 3h6m-37 37h6m116 11h6m-151 7h6m457 7h6m-409 2h6m-113 5h6m58 4h6m-48 14h6m48 6h6m114 0h6m-179 3h6m-23 1h6m130 1h6m-53 2h6m-79 11h6m11 0h6m25 0h6m56 1h6m43 0h6m-98 3h6m-17 3h6m399 0h6m-330 2h6m16 0h6m-133 2h6m165 0h6m-163 2h6m41 1h6m-109 2h6m36 1h6m177 0h6m-212 1h6m17 3h6m156 1h6m-156 1h6m-37 1h6m66 0h6m48 0h6m62 0h6m-115 1h6m35 1h6m-134 2h6m12 2h6m273 0h6m-305 3h6m29 0h6m157 0h6m-142 2h6m-39 5h6m45 0h6m128 2h6m-197 1h6m0 1h6m-37 1h6m97 0h6m-130 1h6m89 0h6m-31 2h6m38 0h6m23 0h6m-27 1h6m-116 3h6m-18 1h6m40 0h6m49 0h6m29 0h6m-107 1h6m48 0h6m155 1h6m-244 1h6m11 0h6m11 0h6m130 2h6m-39 2h6m85 0h6m27 1h6m4 0h6m-256 1h6m27 0h6m13 0h6m84 0h6m17 0h6m-144 2h6m6 0h6m-33 1h6m89 0h6m-70 1h6m19 0h6m-84 1h6m17 0h6m24 0h6m1 0h6m16 0h6m-101 1h6m93 0h6m40 0h6m-52 1h6m-24 2h6m-54 1h6m75 0h6m54 0h6m56 0h6m-237 1h6m2 1h6m225 0h6m-248 2h6m42 0h6m41 0h6m195 0h6m91 0h6m-411 1h6m85 0h6m39 0h6m-53 1h6m-66 1h6m23 2h6m-72 2h6m81 0h6m-2 0h6m20 0h6m1 0h6m182 0h6m-277 1h6m54 1h6m-111 1h6m43 0h6m7 0h6m-17 1h6m-2 0h6m-22 1h6m77 0h6m-114 1h6m40 0h6m-19 1h6m17 0h6m-12 2h6m45 0h6m-115 1h6m171 0h6m-142 1h6m135 0h6m-21 2h6m-177 1h6m151 0h6m280 0h6m-350 1h6m-95 1h6m15 0h6m-6 0h6m-4 0h6m64 0h6m39 0h6m-34 1h6m-2 0h6m-81 1h6m0 0h6m81 0h6m-140 1h6m50 0h6m16 1h6m73 0h6m89 0h6m-235 1h6m-2 0h6m48 0h6m-2 0h6m-29 1h6m2 0h6m-57 1h6m33 0h6m-29 1h6m-4 1h6m5 0h6m39 0h6m10 0h6m-4 0h6m176 0h6m-299 1h6m10 0h6m122 0h6m-136 1h6m-3 0h6m10 0h6m25 0h6m0 0h6m13 0h6m115 0h6m-220 1h6m6 1h6m23 1h6m157 0h6m-212 1h6m78 0h6m-68 1h6m11 0h6m68 0h6m-88 1h6m4 0h6m-2 0h6m19 0h6m-6 0h6m116 0h6m-196 1h6m21 0h6m27 0h6m-56 1h6m-6 0h6m44 0h6m8 0h6m149 0h6m-120 1h6m-16 1h6m-101 1h6m36 0h6m-2 0h6m-4 0h6m-4 0h6m-31 1h6m10 0h6m-36 1h6m2 0h6m39 0h6m48 0h6m-138 1h6m41 0h6m62 0h6m25 0h6m-61 1h6m-6 0h6m-97 1h6m47 0h6m36 0h6m4 0h6m-2 0h6m-70 1h6m-37 1h6m35 0h6m-12 1h6m-6 0h6m1 0h6m-62 1h6m50 0h6m62 0h6m-126 1h6m31 0h6m33 0h6m33 0h6m-3 0h6m-95 1h6m142 0h6m-61 2h6m-76 1h6m105 0h6m-132 2h6m64 0h6m81 0h6m-2 0h6m62 0h6m-223 1h6m15 0h6m-25 1h6m5 1h6m58 0h6m-89 1h6m44 0h6m8 0h6m-18 1h6m6 0h6m-45 1h6m-51 1h6m6 0h6m95 0h6m-134 1h6m37 0h6m11 0h6m-66 1h6m29 0h6m3 0h6m16 0h6m36 0h6m-110 1h6m-4 0h6m110 0h6m-87 1h6m52 0h6m33 0h6m7 0h6m27 0h6m0 0h6m-148 1h6m76 0h6m134 0h6m-237 1h6m108 0h6m-76 1h6m-89 1h6m23 0h6m-2 1h6m11 0h6m20 0h6m-78 1h6m29 0h6m81 0h6m77 0h6m-221 1h6m8 0h6m50 1h6m23 0h6m2 0h6m11 0h6m-138 1h6m-4 1h6m50 0h6m8 0h6m19 0h6m29 0h6m8 0h6m25 0h6m-107 1h6m39 0h6m94 0h6m-2 0h6m-151 1h6m-6 0h6m-2 1h6m93 0h6m-63 1h6m-62 1h6m52 0h6m-97 1h6m50 0h6m18 0h6m-47 2h6m-56 1h6m48 0h6m-62 1h6m7 1h6m60 0h6m31 0h6m-130 1h6m110 0h6m-124 1h6m6 0h6m25 0h6m1 0h6m-25 1h6m68 0h6m-86 3h6m15 0h6m76 0h6m-39 1h6m-91 1h6m73 0h6m0 0h6m-97 1h6m87 0h6m-4 0h6m5 0h6m-122 1h6m35 0h6m33 0h6m11 0h6m-47 1h6m-4 0h6m-33 1h6m54 0h6m-74 1h6m0 3h6m-29 1h6m58 1h6m-70 1h6m-4 3h6m-10 1h6m15 1h6m-17 1h6m79 0h6m-43 1h6m-35 1h6m15 3h6m-23 1h6m7 2h6m0 0h6m21 0h6m-23 1h6m-76 1h6m25 1h6m35 0h6m-22 3h6m-29 1h6m-31 6h6" stroke="#67000d"/><path d="M2042 1415h6m-20 55h6m33 30h6" stroke="#c6dbef"/><path d="M2022 1398h6m33 42h6m27 2h6m21 11h6m-101 14h6m25 2h6m-16 3h6m0 0h6m-12 4h6m41 1h6m4 7h6m-84 1h6m46 0h6m-19 2h6m38 1h6m-37 1h6m-21 3h6m81 0h6m-118 2h6m46 0h6m-49 2h6m43 1h6m-80 1h6m-4 5h6m-10 1h6m35 0h6m2 2h6" stroke="#9ecae1"/><path d="M2288 1394h6m-249 4h6m2 8h6m105 6h6m-117 1h6m27 11h6m-52 15h6m-2 1h6m56 1h6m-37 1h6m-22 2h6m0 0h6m-26 2h6m57 3h6m-72 3h6m193 0h6m-138 1h6m47 3h6m-80 1h6m-60 1h6m13 3h6m19 0h6m-4 0h6m-48 1h6m100 4h6m4 0h6m-97 1h6m-25 1h6m-30 3h6m56 1h6m51 2h6m-69 1h6m18 0h6m-70 2h6m213 0h6m-198 1h6m42 3h6m-73 2h6m-18 1h6m48 4h6m58 0h6m-130 2h6m2 1h6m-10 1h6m60 0h6m-39 1h6m70 0h6m-98 1h6m-33 1h6m27 0h6m-25 1h6m4 0h6m9 0h6m-27 1h6m42 0h6m-60 6h6m-18 3h6m18 4h6m1 0h6m-29 3h6m23 2h6" stroke="#6baed6"/><path d="M2311 1330h6m-254 33h6m339 2h6m-384 17h6m9 5h6m0 0h6m21 1h6m4 0h6m0 11h6m87 3h6m-109 1h6m-48 5h6m52 0h6m-49 3h6m-41 1h6m25 1h6m76 3h6m-119 2h6m114 1h6m-11 1h6m-99 2h6m-1 0h6m12 2h6m69 4h6m-130 2h6m27 0h6m54 0h6m18 1h6m129 0h6m-232 4h6m-18 2h6m35 2h6m-35 1h6m15 1h6m40 0h6m0 2h6m-79 1h6m48 0h6m0 0h6m-74 1h6m27 1h6m64 0h6m-20 2h6m11 0h6m91 0h6m-155 1h6m44 0h6m-114 1h6m2 0h6m-10 2h6m-16 2h6m-6 1h6m33 1h6m5 0h6m-56 1h6m25 0h6m12 0h6m21 1h6m-84 1h6m29 0h6m10 0h6m9 0h6m52 0h6m-105 1h6m0 0h6m151 0h6m-124 1h6m-18 2h6m51 0h6m5 0h6m-78 1h6m-2 0h6m122 0h6m-196 1h6m120 1h6m-110 1h6m-4 0h6m92 1h6m-116 1h6m23 0h6m-33 1h6m21 0h6m-2 0h6m21 1h6m11 0h6m37 0h6m45 0h6m-121 1h6m25 0h6m4 1h6m9 0h6m-46 1h6m-2 0h6m-55 3h6m105 0h6m-154 1h6m-2 0h6m10 0h6m15 0h6m-4 0h6m11 0h6m14 0h6m-63 1h6m66 0h6m93 0h6m-196 1h6m110 0h6m-128 2h6m33 0h6m8 2h6m-22 1h6m70 0h6m-6 0h6m-117 1h6m43 0h6m25 0h6m-2 0h6m-76 1h6m15 3h6m-27 2h6m-6 0h6m48 0h6m-2 0h6m6 0h6m27 0h6m5 0h6m-134 1h6m14 0h6m81 0h6m11 0h6m-101 1h6m64 0h6m-78 1h6m-2 0h6m19 0h6m-62 1h6m14 0h6m7 1h6m79 0h6m-110 1h6m0 0h6m11 0h6m4 0h6m1 0h6m-52 1h6m29 2h6m-4 2h6m31 0h6m-80 4h6m9 4h6m33 0h6m-25 1h6m-53 4h6m0 4h6" stroke="#4292c6"/><path d="M2038 1365h6m-12 4h6m-10 1h6m54 1h6m242 1h6m-275 1h6m116 0h6m-163 1h6m137 2h6m4 1h6m-161 5h6m333 2h6m-77 1h6m-154 4h6m33 1h6m-86 1h6m-19 6h6m15 5h6m-48 1h6m286 0h6m-174 1h6m-68 2h6m-117 2h6m118 0h6m-78 1h6m-21 1h6m66 1h6m-53 1h6m27 2h6m140 0h6m-82 1h6m-177 1h6m25 2h6m-8 1h6m167 0h6m-101 2h6m-103 6h6m277 0h6m-241 1h6m163 1h6m-213 1h6m19 0h6m-22 1h6m8 0h6m91 0h6m-72 1h6m60 0h6m0 0h6m-113 2h6m-21 1h6m-1 0h6m20 0h6m19 0h6m-43 5h6m21 0h6m31 0h6m-72 1h6m0 0h6m-20 1h6m17 0h6m194 0h6m-229 1h6m-2 0h6m62 0h6m13 1h6m-4 0h6m179 0h6m-165 1h6m-140 1h6m-14 1h6m9 0h6m45 0h6m25 0h6m174 0h6m-279 1h6m23 0h6m81 0h6m-136 1h6m18 0h6m58 0h6m125 0h6m-211 1h6m29 0h6m54 0h6m-2 1h6m-10 1h6m77 0h6m-159 1h6m-21 1h6m1 0h6m-21 1h6m27 0h6m23 1h6m-82 1h6m93 0h6m-93 1h6m23 0h6m-45 1h6m45 0h6m139 0h6m-204 1h6m2 0h6m9 0h6m0 0h6m148 1h6m-1 0h6m-153 1h6m-6 0h6m-2 0h6m56 0h6m35 0h6m-101 1h6m19 0h6m-4 0h6m-78 1h6m11 0h6m16 0h6m29 0h6m36 0h6m-126 1h6m10 1h6m63 0h6m6 0h6m-89 1h6m17 1h6m77 1h6m-85 2h6m85 0h6m-66 1h6m60 0h6m-111 1h6m2 0h6m23 0h6m-26 1h6m-4 1h6m66 0h6m-138 1h6m16 0h6m-4 1h6m19 0h6m-49 2h6m-4 0h6m-2 0h6m13 0h6m37 0h6m-74 1h6m-4 0h6m12 0h6m-32 1h6m16 0h6m38 0h6m41 0h6m-76 1h6m21 1h6m-66 1h6m0 0h6m-2 0h6m25 0h6m50 0h6m-86 1h6m-25 1h6m41 0h6m1 0h6m-46 1h6m11 1h6m50 0h6m-97 1h6m29 0h6m-33 1h6m87 0h6m-80 1h6m0 0h6m-2 0h6m-20 1h6m80 0h6m-95 1h6m28 1h6m-42 2h6m13 0h6m10 0h6m-59 1h6m4 0h6m0 0h6m-4 0h6m-8 1h6m38 0h6m2 0h6m2 1h6m-86 1h6m14 0h6m13 1h6m-27 2h6m9 1h6m10 0h6m-33 1h6m5 0h6m47 0h6m-30 1h6m8 0h6m-78 1h6m14 0h6m-6 4h6m9 0h6m-4 3h6" stroke="#2171b5"/><path d="M2032 1274h6m392 27h6m-375 12h6m136 2h6m255 0h6m-430 18h6m60 8h6m205 15h6m-72 2h6m-198 1h6m351 3h6m-324 1h6m-24 1h6m113 10h6m172 1h6m-312 2h6m137 0h6m130 0h6m-262 4h6m-10 1h6m206 0h6m-216 4h6m-51 1h6m212 1h6m-227 4h6m106 0h6m-80 1h6m85 0h6m-134 1h6m22 0h6m114 0h6m70 2h6m-220 1h6m15 1h6m49 0h6m-28 1h6m-73 2h6m30 0h6m2 0h6m159 2h6m-161 1h6m120 0h6m141 0h6m-316 1h6m52 1h6m-4 0h6m-2 0h6m33 0h6m-128 3h6m34 0h6m192 0h6m10 0h6m-247 1h6m27 1h6m80 1h6m-146 2h6m13 0h6m58 0h6m-45 1h6m-54 1h6m124 0h6m-105 1h6m147 1h6m-54 1h6m-130 1h6m40 1h6m2 0h6m-55 1h6m74 0h6m-87 1h6m25 0h6m-45 1h6m-2 0h6m-6 0h6m23 0h6m-39 1h6m67 0h6m-56 2h6m17 0h6m97 0h6m-151 1h6m-2 0h6m96 0h6m-103 1h6m-31 1h6m12 0h6m5 1h6m29 0h6m165 0h6m-194 1h6m23 0h6m-47 1h6m215 0h6m-239 1h6m56 0h6m2 1h6m-10 1h6m68 0h6m-113 1h6m-25 1h6m-12 1h6m0 0h6m27 0h6m25 1h6m-84 1h6m74 0h6m-107 1h6m17 0h6m37 0h6m-56 1h6m79 0h6m48 0h6m-136 1h6m0 0h6m143 0h6m-188 1h6m4 0h6m54 0h6m-74 1h6m50 0h6m10 0h6m-33 1h6m96 0h6m-145 1h6m33 0h6m17 0h6m-60 1h6m61 0h6m121 0h6m-138 1h6m-12 1h6m161 0h6m-245 1h6m43 0h6m-34 1h6m12 0h6m11 0h6m-31 1h6m25 0h6m25 0h6m-29 1h6m62 0h6m-140 2h6m27 0h6m85 0h6m-111 1h6m134 0h6m-173 1h6m8 0h6m25 0h6m35 0h6m-63 2h6m72 0h6m139 0h6m-236 1h6m15 0h6m11 0h6m-41 3h6m55 0h6m69 0h6m-101 1h6m-14 1h6m0 0h6m-41 2h6m10 0h6m0 0h6m-49 1h6m11 0h6m53 0h6m-92 1h6m33 0h6m11 0h6m31 0h6m-54 1h6m15 0h6m6 0h6m48 0h6m-95 1h6m-6 0h6m0 0h6m77 0h6m-113 1h6m10 0h6m-4 0h6m29 0h6m-64 1h6m30 0h6m-42 1h6m73 0h6m-93 1h6m-4 0h6m4 0h6m104 0h6m-136 1h6m37 0h6m21 0h6m19 0h6m-27 1h6m-20 1h6m-4 0h6m0 0h6m41 0h6m3 0h6m-89 1h6m-31 1h6m62 0h6m5 0h6m27 2h6m-89 2h6m17 0h6m-27 1h6m-43 1h6m9 0h6m18 1h6m-53 1h6m15 0h6m58 0h6m-75 1h6m1 0h6m-4 0h6m35 1h6m-60 1h6m5 0h6m74 0h6m-111 1h6m112 0h6m16 0h6m-119 2h6m-4 0h6m47 0h6m-84 1h6m6 1h6m36 0h6m2 0h6m-56 1h6m-28 1h6m-4 0h6m12 0h6m50 0h6m-37 1h6m44 2h6m-60 2h6m-8 1h6m-43 1h6m16 0h6m-1 0h6m-33 1h6m8 1h6m-20 3h6m27 0h6m-35 1h6m-12 5h6m0 0h6m-6 1h6m-10 2h6" stroke="#08519c"/><path d="M2047 1246h6m62 14h6m91 0h6m-149 2h6m69 2h6m119 5h6m-140 4h6m-4 0h6m-84 5h6m192 7h6m-152 3h6m-97 3h6m97 1h6m202 1h6m-177 1h6m-97 1h6m52 0h6m15 3h6m76 0h6m-140 1h6m134 1h6m-164 2h6m18 2h6m180 0h6m73 0h6m-264 1h6m121 1h6m-98 1h6m-95 1h6m70 4h6m19 1h6m-47 1h6m128 0h6m-211 2h6m44 3h6m75 0h6m24 1h6m-191 1h6m31 1h6m25 1h6m60 0h6m72 2h6m-88 1h6m-99 3h6m0 1h6m165 2h6m54 1h6m40 0h6m-237 1h6m-11 1h6m9 0h6m-97 1h6m37 1h6m-6 2h6m1 0h6m49 1h6m5 0h6m188 2h6m-227 1h6m0 1h6m-76 1h6m31 0h6m-14 1h6m138 0h6m-185 1h6m10 0h6m120 0h6m56 0h6m-208 1h6m107 0h6m85 0h6m-115 1h6m-8 1h6m111 1h6m-196 1h6m-33 1h6m131 1h6m31 0h6m43 0h6m-196 1h6m-3 0h6m37 0h6m8 1h6m259 0h6m-378 1h6m198 0h6m-218 3h6m14 0h6m11 0h6m29 0h6m4 0h6m36 0h6m-116 1h6m93 0h6m79 0h6m93 0h6m-258 2h6m194 0h6m-237 1h6m35 0h6m15 1h6m23 0h6m-4 1h6m-37 1h6m70 1h6m-131 1h6m256 0h6m-209 2h6m17 0h6m-99 1h6m48 0h6m21 0h6m16 0h6m-3 0h6m18 0h6m-125 1h6m29 0h6m10 0h6m19 1h6m17 0h6m-130 1h6m45 0h6m42 0h6m74 0h6m3 0h6m-140 1h6m-9 1h6m30 0h6m76 0h6m-72 1h6m89 0h6m-161 1h6m-39 2h6m-6 2h6m298 0h6m-227 1h6m2 0h6m-35 4h6m72 0h6m50 0h6m-183 1h6m25 0h6m14 0h6m-90 1h6m10 0h6m33 0h6m30 0h6m20 0h6m-97 1h6m90 0h6m76 0h6m42 0h6m-81 1h6m37 0h6m-189 1h6m252 0h6m-279 1h6m127 0h6m22 0h6m25 0h6m-127 1h6m-79 1h6m54 0h6m223 0h6m-132 1h6m87 0h6m-171 1h6m-99 1h6m91 0h6m-103 1h6m38 0h6m25 1h6m2 0h6m169 0h6m-255 1h6m20 0h6m3 0h6m12 0h6m-16 1h6m-6 0h6m196 0h6m-20 1h6m-219 1h6m4 0h6m102 0h6m-120 1h6m38 0h6m45 0h6m182 0h6m39 0h6m-307 1h6m11 0h6m-19 1h6m71 0h6m-114 1h6m79 0h6m-113 1h6m113 0h6m-103 1h6m9 0h6m-39 1h6m4 0h6m145 0h6m22 0h6m-164 1h6m6 0h6m54 0h6m8 0h6m31 0h6m61 0h6m-242 1h6m9 0h6m12 0h6m120 0h6m56 0h6m-105 1h6m-97 1h6m29 0h6m-37 1h6m83 0h6m21 0h6m-159 1h6m6 0h6m1 0h6m-4 0h6m12 0h6m11 0h6m-56 2h6m-4 0h6m7 0h6m180 0h6m-198 1h6m-4 0h6m37 0h6m-62 1h6m54 1h6m95 0h6m-171 1h6m4 0h6m34 0h6m20 0h6m13 0h6m-16 1h6m6 0h6m5 0h6m10 0h6m15 0h6m-110 1h6m3 0h6m31 0h6m2 0h6m-2 0h6m5 0h6m16 0h6m60 0h6m-175 1h6m62 0h6m13 0h6m-122 1h6m29 0h6m52 0h6m58 0h6m-169 1h6m13 0h6m-2 0h6m78 0h6m27 0h6m-92 1h6m-4 0h6m-70 1h6m43 0h6m31 0h6m89 0h6m-179 1h6m33 0h6m23 0h6m101 0h6m-2 0h6m-175 1h6m21 0h6m9 0h6m35 0h6m2 0h6m101 0h6m-222 1h6m18 0h6m23 0h6m67 0h6m4 0h6m35 0h6m95 0h6m-270 1h6m44 1h6m56 0h6m70 0h6m-132 1h6m11 0h6m-41 1h6m74 0h6m-58 1h6m42 0h6m23 0h6m-91 1h6m-45 1h6m13 0h6m82 0h6m-105 1h6m15 0h6m-68 1h6m0 0h6m23 0h6m8 0h6m52 0h6m-2 0h6m-105 1h6m2 0h6m25 0h6m27 0h6m-5 0h6m103 0h6m25 0h6m-126 1h6m50 0h6m60 0h6m-120 1h6m-90 1h6m17 0h6m-4 0h6m10 0h6m-53 1h6m20 0h6m40 0h6m12 0h6m52 0h6m60 0h6m-210 1h6m-4 0h6m0 0h6m4 0h6m25 0h6m-20 1h6m0 0h6m2 0h6m-1 0h6m78 0h6m-169 1h6m25 0h6m23 0h6m10 0h6m48 0h6m-2 0h6m-119 1h6m-6 0h6m-4 0h6m0 0h6m-4 0h6m23 0h6m50 0h6m163 0h6m-281 1h6m34 0h6m-6 0h6m4 0h6m42 0h6m84 0h6m-210 1h6m0 0h6m11 0h6m31 0h6m27 0h6m27 0h6m0 0h6m149 0h6m-254 1h6m4 0h6m-43 1h6m0 0h6m-3 0h6m-2 0h6m-6 0h6m45 0h6m36 0h6m27 0h6m-153 1h6m13 0h6m12 0h6m3 0h6m57 0h6m112 0h6m-229 1h6m-2 0h6m7 0h6m-2 0h6m21 0h6m-4 0h6m39 0h6m124 0h6m77 0h6m-326 1h6m72 0h6m-82 1h6m4 0h6m81 0h6m-4 0h6m6 0h6m81 0h6m-210 1h6m45 0h6m23 0h6m0 0h6m-88 1h6m-2 0h6m6 0h6m-2 0h6m5 0h6m6 0h6m-31 1h6m7 0h6m85 0h6m-70 1h6m-60 1h6m27 0h6m10 0h6m-57 1h6m66 0h6m4 0h6m-1 0h6m12 0h6m-84 1h6m-2 0h6m19 0h6m10 0h6m13 0h6m29 0h6m-136 1h6m18 0h6m9 0h6m60 0h6m35 0h6m-61 1h6m20 0h6m21 0h6m-95 1h6m67 0h6m-105 1h6m6 0h6m21 0h6m-76 1h6m29 0h6m0 0h6m72 0h6m-111 1h6m19 0h6m-4 0h6m27 0h6m2 0h6m31 0h6m-121 2h6m78 0h6m-86 1h6m44 0h6m-40 1h6m15 0h6m-16 1h6m16 0h6m1 0h6m2 0h6m23 0h6m-95 1h6m23 0h6m2 0h6m5 0h6m16 0h6m9 0h6m-101 1h6m41 0h6m3 0h6m2 0h6m0 0h6m29 0h6m-55 1h6m-48 1h6m71 0h6m-93 1h6m48 0h6m-6 0h6m12 0h6m-68 1h6m0 0h6m1 0h6m-6 0h6m4 0h6m-4 0h6m2 0h6m5 0h6m-64 1h6m19 0h6m43 0h6m-76 1h6m60 0h6m44 0h6m53 1h6m-136 1h6m17 0h6m0 0h6m0 0h6m-1 0h6m-40 1h6m-5 1h6m29 0h6m-97 1h6m-6 0h6m18 0h6m23 0h6m5 0h6m8 0h6m-41 1h6m4 0h6m-53 1h6m29 0h6m-41 1h6m27 0h6m-47 1h6m37 0h6m-2 0h6m15 0h6m-72 1h6m39 0h6m33 0h6m-35 1h6m19 0h6m-47 1h6m31 0h6m-84 1h6m41 0h6m-22 1h6m27 0h6m6 0h6m40 0h6m-120 1h6m-12 3h6m27 0h6m49 0h6m-92 2h6m0 0h6m15 1h6m8 1h6m-10 2h6m-20 2h6" stroke="#08306b"/><path d="M2150 1435h6m-128 73h6" stroke="#fff5f0"/><path d="M2028 1424h6m39 33h6m-16 2h6m-51 2h6m2 7h6m19 29h6m-21 4h6m0 1h6m-4 5h6m-3 3h6m0 8h6" stroke="#fee0d2"/><path d="M2496 1417h6m-464 15h6m19 0h6m35 4h6m-53 5h6m-19 5h6m137 1h6m-132 4h6m-33 2h6m5 0h6m-23 1h6m15 7h6m-13 1h6m-24 10h6m-6 2h6m60 6h6m-56 3h6m15 2h6m23 1h6m-78 1h6m2 0h6m-4 0h6m13 0h6m-25 2h6m15 2h6m-27 1h6m11 0h6m-31 1h6m2 1h6m6 0h6m-4 0h6m13 0h6m-16 1h6m16 4h6m-47 1h6m13 5h6m-23 1h6m62 3h6m-80 3h6m4 0h6m23 3h6m-49 7h6m-2 2h6" stroke="#fcbba1"/><path d="M2131 1354h6m2 11h6m-78 39h6m-41 7h6m4 6h6m30 1h6m-6 2h6m35 4h6m4 0h6m-88 1h6m8 3h6m-14 1h6m41 0h6m19 1h6m143 3h6m-207 4h6m21 2h6m-84 1h6m39 1h6m35 2h6m-53 1h6m-45 1h6m111 0h6m19 0h6m-136 2h6m114 0h6m85 0h6m-221 1h6m-4 0h6m6 1h6m-14 1h6m9 1h6m8 0h6m37 0h6m-76 1h6m40 1h6m-50 2h6m5 1h6m25 0h6m23 0h6m-9 2h6m-82 2h6m21 1h6m8 2h6m-1 0h6m-60 1h6m21 0h6m107 0h6m-6 2h6m69 0h6m-145 1h6m-76 1h6m44 1h6m-68 1h6m23 0h6m16 0h6m-10 1h6m73 0h6m-79 1h6m-41 2h6m-20 1h6m21 0h6m-8 1h6m18 1h6m25 0h6m-49 1h6m-39 1h6m118 0h6m-138 2h6m21 0h6m-25 2h6m60 1h6m72 0h6m-154 1h6m14 1h6m5 0h6m6 0h6m13 0h6m-23 1h6m56 0h6m-111 1h6m6 0h6m50 0h6m-56 1h6m28 1h6m-7 1h6m-3 0h6m6 0h6m-51 1h6m25 0h6m86 0h6m-140 2h6m-10 1h6m17 0h6m-17 2h6m-24 2h6m-4 0h6m23 2h6m8 1h6m-43 1h6m-14 1h6m-2 0h6m0 0h6m23 0h6m-39 1h6m-6 2h6m-2 1h6m23 2h6m-18 1h6m-27 3h6m0 0h6m-4 1h6m-24 6h6" stroke="#fc9272"/><path d="M2115 1353h6m-39 3h6m118 5h6m-66 4h6m-95 5h6m157 3h6m-126 2h6m-88 6h6m70 1h6m2 1h6m-16 2h6m122 2h6m273 6h6m-483 3h6m-10 1h6m72 3h6m-45 2h6m-45 1h6m181 0h6m-92 2h6m134 0h6m-202 1h6m27 0h6m-2 1h6m-47 2h6m83 3h6m37 3h6m-146 4h6m4 1h6m29 2h6m-80 4h6m41 0h6m-31 1h6m19 1h6m9 0h6m97 0h6m-47 1h6m-128 1h6m79 1h6m37 2h6m241 0h6m-365 1h6m7 0h6m16 0h6m42 0h6m15 0h6m-99 1h6m37 0h6m-51 1h6m89 0h6m-89 1h6m-27 1h6m-1 0h6m-17 4h6m-16 1h6m208 1h6m-136 1h6m160 0h6m-262 1h6m82 2h6m-94 1h6m27 0h6m68 0h6m-89 1h6m28 0h6m-15 2h6m35 0h6m-94 1h6m18 0h6m7 0h6m-41 1h6m37 0h6m-33 1h6m5 0h6m2 1h6m2 0h6m-39 1h6m9 0h6m47 0h6m-51 1h6m-4 0h6m43 0h6m77 0h6m-130 1h6m33 0h6m15 1h6m0 0h6m7 0h6m-108 1h6m7 0h6m56 0h6m-103 1h6m2 0h6m2 0h6m-22 1h6m82 0h6m-76 1h6m23 0h6m-49 1h6m62 0h6m42 0h6m-91 1h6m-4 0h6m-23 1h6m17 0h6m-6 0h6m-45 1h6m0 0h6m64 0h6m-12 2h6m52 0h6m14 0h6m-148 1h6m15 0h6m-2 0h6m21 0h6m-56 1h6m-2 0h6m50 1h6m-6 0h6m-43 1h6m64 0h6m-99 1h6m-14 1h6m-4 0h6m25 0h6m74 0h6m-101 1h6m-30 1h6m27 0h6m27 0h6m18 0h6m-94 1h6m37 0h6m-8 1h6m6 0h6m-41 1h6m0 0h6m67 0h6m-70 2h6m47 0h6m-84 1h6m6 1h6m124 0h6m1 0h6m-120 1h6m-37 1h6m2 0h6m153 0h6m-171 1h6m-16 1h6m74 0h6m-76 2h6m0 0h6m50 0h6m-76 1h6m13 0h6m66 0h6m-2 0h6m-82 1h6m8 0h6m15 0h6m16 0h6m-72 1h6m-2 0h6m-22 1h6m10 0h6m-1 0h6m80 0h6m-119 1h6m6 0h6m4 0h6m-2 0h6m-3 0h6m12 0h6m-2 1h6m0 0h6m-24 1h6m-6 0h6m8 0h6m3 0h6m-35 1h6m-39 1h6m2 0h6m-4 0h6m-2 0h6m25 0h6m-41 1h6m-4 0h6m19 1h6m2 1h6m-37 1h6m13 0h6m2 1h6m-39 1h6m35 0h6m9 0h6m-6 1h6m-50 3h6m17 0h6m-27 1h6m1 0h6m2 0h6m17 1h6m-33 2h6m6 0h6m-27 2h6m-24 5h6m-12 2h6m2 0h6" stroke="#fb6a4a"/><path d="M2298 1264h6m-154 29h6m-23 17h6m-30 3h6m-19 13h6m165 6h6m-241 11h6m40 15h6m-54 4h6m83 5h6m85 0h6m6 2h6m-84 5h6m6 4h6m140 0h6m-121 3h6m-115 2h6m49 0h6m-117 1h6m452 0h6m-421 2h6m25 1h6m-18 1h6m149 0h6m66 0h6m-223 1h6m145 0h6m-143 1h6m-22 2h6m-80 1h6m25 1h6m155 1h6m-108 1h6m-94 2h6m114 0h6m-54 1h6m-43 1h6m52 0h6m6 0h6m-109 2h6m283 0h6m-221 1h6m27 0h6m-117 1h6m51 0h6m52 0h6m-4 1h6m-63 1h6m39 0h6m93 0h6m-159 1h6m-35 2h6m75 0h6m122 1h6m-179 1h6m126 0h6m-163 1h6m74 2h6m-80 1h6m10 1h6m-53 1h6m27 1h6m2 1h6m-2 0h6m69 1h6m-107 1h6m-4 0h6m95 0h6m-132 1h6m99 0h6m60 0h6m-6 2h6m106 0h6m-267 1h6m59 0h6m202 0h6m-281 1h6m23 0h6m96 0h6m-128 1h6m54 0h6m51 0h6m-10 1h6m-152 1h6m-4 0h6m124 0h6m-122 2h6m139 0h6m10 0h6m-18 1h6m-111 1h6m10 0h6m-2 0h6m4 0h6m-5 0h6m2 0h6m-93 1h6m203 0h6m-184 1h6m39 0h6m-61 1h6m-6 0h6m0 0h6m13 0h6m2 0h6m45 0h6m21 0h6m-101 1h6m17 0h6m-51 1h6m64 0h6m4 0h6m211 0h6m-312 1h6m207 0h6m-192 1h6m81 0h6m21 2h6m93 0h6m-124 1h6m9 0h6m97 0h6m-207 1h6m-5 0h6m-31 1h6m155 0h6m-186 1h6m38 0h6m39 0h6m-4 0h6m169 0h6m-220 1h6m14 0h6m-1 0h6m4 0h6m-56 1h6m-6 0h6m195 0h6m-258 2h6m12 0h6m-2 0h6m34 0h6m115 0h6m-169 1h6m13 0h6m35 0h6m46 0h6m-74 1h6m-4 0h6m37 0h6m132 0h6m-243 1h6m0 0h6m35 0h6m-16 1h6m13 0h6m0 0h6m83 0h6m-97 1h6m17 0h6m23 0h6m70 0h6m-204 1h6m41 0h6m38 0h6m2 0h6m29 0h6m29 0h6m0 0h6m39 0h6m-216 1h6m44 0h6m260 0h6m-283 1h6m15 0h6m17 0h6m89 0h6m-120 1h6m-64 1h6m2 0h6m28 0h6m223 0h6m-225 1h6m17 0h6m-31 1h6m-6 0h6m12 0h6m-4 0h6m15 0h6m-95 1h6m91 0h6m-111 1h6m11 0h6m-6 0h6m76 0h6m-113 1h6m70 0h6m-2 0h6m-80 1h6m4 0h6m27 0h6m52 0h6m118 0h6m-215 1h6m42 0h6m-2 0h6m-60 1h6m15 0h6m114 0h6m-142 1h6m6 0h6m8 0h6m91 0h6m-132 1h6m1 0h6m-4 0h6m0 0h6m0 0h6m0 0h6m21 0h6m-68 1h6m2 0h6m28 0h6m-6 0h6m62 0h6m39 0h6m-165 1h6m-2 0h6m2 0h6m34 0h6m10 0h6m0 0h6m3 0h6m-81 1h6m25 0h6m15 0h6m12 0h6m7 0h6m-105 1h6m23 0h6m35 0h6m-2 0h6m64 0h6m-136 1h6m11 0h6m2 0h6m6 0h6m-61 1h6m54 0h6m68 0h6m27 0h6m-163 1h6m2 0h6m-4 0h6m3 0h6m8 0h6m11 0h6m175 0h6m-245 1h6m23 0h6m8 0h6m-4 0h6m31 0h6m19 0h6m-93 1h6m-2 0h6m5 0h6m-4 0h6m15 0h6m4 0h6m136 0h6m-208 1h6m21 0h6m-4 0h6m-4 2h6m-4 0h6m112 0h6m18 0h6m-171 1h6m3 0h6m23 0h6m18 0h6m-80 1h6m-2 1h6m46 1h6m-6 1h6m0 0h6m4 0h6m71 0h6m-116 1h6m9 0h6m-68 1h6m21 1h6m14 0h6m-2 0h6m31 0h6m-74 1h6m9 0h6m41 0h6m-66 1h6m54 0h6m-66 1h6m11 0h6m-4 0h6m11 0h6m-29 1h6m52 0h6m-85 1h6m25 0h6m39 0h6m-20 1h6m13 0h6m16 0h6m-99 1h6m-3 0h6m-4 0h6m10 0h6m4 0h6m40 0h6m-107 1h6m8 0h6m35 0h6m-53 1h6m12 1h6m-5 0h6m18 0h6m11 0h6m4 0h6m-6 0h6m6 0h6m-84 1h6m40 0h6m-23 1h6m64 0h6m-51 1h6m-70 1h6m2 0h6m17 0h6m-17 1h6m13 0h6m-6 0h6m17 1h6m-52 1h6m2 0h6m-1 0h6m2 0h6m-14 2h6m18 0h6m15 0h6m-29 1h6m-10 1h6m-51 1h6m33 0h6m-39 2h6m13 0h6m-35 3h6m-4 0h6m0 0h6m6 5h6" stroke="#ef3b2c"/><path d="M2239 1230h6m157 48h6m-93 18h6m-128 1h6m95 2h6m-224 22h6m0 3h6m-39 14h6m2 3h6m301 3h6m-224 2h6m6 0h6m110 1h6m-44 1h6m-204 1h6m19 0h6m46 0h6m-46 1h6m-34 2h6m-21 1h6m60 1h6m180 0h6m-35 1h6m186 0h6m-415 3h6m-12 2h6m83 0h6m103 2h6m147 0h6m-316 2h6m19 0h6m64 1h6m75 0h6m-180 2h6m118 0h6m104 0h6m-151 2h6m48 0h6m-97 1h6m-97 2h6m95 5h6m-107 1h6m42 2h6m19 0h6m-93 1h6m107 0h6m-47 3h6m337 1h6m-202 2h6m-188 2h6m97 1h6m-113 1h6m149 0h6m16 2h6m-101 1h6m-53 2h6m322 1h6m-386 1h6m-10 1h6m104 1h6m128 1h6m-126 1h6m108 0h6m-186 1h6m31 0h6m103 1h6m-160 2h6m10 0h6m116 0h6m-138 1h6m-25 1h6m-49 2h6m15 0h6m235 0h6m-245 1h6m33 0h6m126 0h6m79 0h6m10 0h6m-258 2h6m170 0h6m-213 1h6m67 0h6m39 0h6m-51 1h6m35 0h6m-132 1h6m33 0h6m54 0h6m4 0h6m-59 1h6m43 0h6m0 0h6m-45 1h6m-51 1h6m48 0h6m10 0h6m74 0h6m-103 1h6m207 0h6m-305 1h6m17 0h6m183 0h6m-175 1h6m-2 0h6m1 0h6m8 0h6m10 0h6m81 0h6m-136 1h6m7 0h6m214 0h6m-262 1h6m13 0h6m277 0h6m-277 2h6m25 0h6m42 0h6m113 0h6m48 0h6m-309 1h6m49 0h6m100 0h6m-2 0h6m-151 1h6m7 0h6m35 0h6m85 0h6m2 0h6m-144 1h6m12 0h6m48 0h6m130 1h6m-225 1h6m5 0h6m2 0h6m19 0h6m186 0h6m-260 1h6m43 0h6m19 0h6m-45 1h6m21 0h6m10 0h6m1 0h6m-64 1h6m12 0h6m-1 0h6m274 0h6m-326 1h6m-4 0h6m-4 0h6m102 0h6m4 0h6m-37 1h6m-93 1h6m93 0h6m-22 1h6m109 0h6m-204 1h6m32 0h6m6 0h6m-29 1h6m5 0h6m12 0h6m-45 1h6m12 0h6m13 0h6m62 0h6m-72 1h6m19 0h6m43 0h6m44 0h6m-138 1h6m19 0h6m43 0h6m-4 0h6m-115 1h6m-4 0h6m25 0h6m-76 1h6m37 0h6m4 0h6m-2 0h6m1 0h6m93 0h6m91 0h6m-258 1h6m15 0h6m2 0h6m10 0h6m40 0h6m14 0h6m48 0h6m-165 1h6m13 0h6m16 0h6m21 0h6m-28 1h6m-9 1h6m1 0h6m76 0h6m-134 1h6m5 0h6m27 0h6m-6 0h6m47 0h6m17 0h6m79 0h6m-202 1h6m-2 0h6m53 0h6m-86 1h6m17 0h6m109 1h6m5 0h6m10 0h6m-119 1h6m-56 1h6m-2 0h6m-4 0h6m21 0h6m40 0h6m29 0h6m29 0h6m-161 1h6m10 0h6m29 0h6m13 0h6m56 0h6m-99 1h6m21 0h6m-76 1h6m45 0h6m-51 1h6m2 0h6m23 0h6m7 0h6m35 0h6m-12 1h6m88 0h6m-193 1h6m0 0h6m-4 0h6m-6 0h6m-4 0h6m15 0h6m146 0h6m29 0h6m-185 1h6m0 0h6m9 0h6m6 1h6m10 0h6m-4 0h6m-6 0h6m1 0h6m-72 1h6m-4 0h6m8 0h6m29 0h6m-82 1h6m-4 0h6m44 0h6m14 0h6m-64 1h6m23 0h6m13 0h6m23 0h6m126 0h6m-194 1h6m-4 0h6m8 0h6m168 0h6m-175 1h6m39 0h6m-97 1h6m5 0h6m45 0h6m7 0h6m-4 0h6m2 0h6m-101 1h6m39 0h6m29 0h6m-55 1h6m-31 1h6m21 0h6m4 0h6m5 0h6m41 0h6m-66 1h6m35 0h6m7 0h6m2 0h6m-113 1h6m4 0h6m77 0h6m45 0h6m-78 1h6m-68 1h6m11 0h6m33 0h6m178 0h6m-248 1h6m-4 0h6m-2 0h6m2 0h6m-6 0h6m13 0h6m-2 0h6m19 0h6m17 0h6m-97 1h6m12 0h6m29 0h6m1 0h6m45 0h6m-74 1h6m2 0h6m1 0h6m-48 1h6m11 0h6m-2 0h6m10 0h6m-6 0h6m3 0h6m0 0h6m6 0h6m0 0h6m30 0h6m2 0h6m-91 1h6m2 0h6m-59 1h6m0 0h6m17 0h6m10 0h6m-51 1h6m-2 0h6m15 0h6m-2 0h6m-2 0h6m39 0h6m-35 1h6m5 0h6m10 0h6m19 0h6m-99 1h6m27 0h6m13 0h6m10 0h6m7 0h6m8 0h6m23 0h6m-138 1h6m-4 0h6m10 0h6m-4 1h6m-1 0h6m16 0h6m1 0h6m-58 1h6m4 0h6m-4 0h6m9 0h6m2 0h6m48 0h6m-95 1h6m54 0h6m25 0h6m18 0h6m-84 1h6m0 1h6m11 0h6m0 0h6m-78 1h6m12 0h6m44 0h6m-23 1h6m1 0h6m-19 1h6m35 0h6m42 0h6m-64 1h6m-33 1h6m-45 1h6m0 0h6m-2 0h6m15 0h6m10 0h6m-32 1h6m10 0h6m13 0h6m-46 1h6m-5 0h6m10 0h6m0 0h6m11 0h6m19 1h6m-93 2h6m-6 1h6m43 1h6m5 0h6m-66 1h6m19 0h6m8 0h6m-39 1h6m-6 0h6m13 0h6m-17 1h6m-6 0h6m7 1h6m16 0h6m-59 1h6m62 0h6m-56 1h6m21 1h6m13 0h6m-46 2h6m9 1h6m6 0h6m-43 1h6m4 7h6" stroke="#cb181d"/><path d="M2133 1210h6m122 15h6m7 57h6m87 20h6m-165 5h6m340 1h6m-251 2h6m-233 1h6m-27 9h6m66 7h6m5 2h6m-2 6h6m-29 6h6m6 0h6m-49 1h6m-43 5h6m74 0h6m60 3h6m-59 3h6m-93 2h6m42 2h6m-73 1h6m21 0h6m21 1h6m-18 1h6m-25 1h6m23 2h6m-82 1h6m173 1h6m-12 1h6m6 0h6m-173 3h6m83 4h6m37 5h6m-134 4h6m-22 3h6m-2 3h6m300 0h6m-283 2h6m-37 2h6m153 0h6m52 0h6m-142 1h6m-29 1h6m29 0h6m81 0h6m-23 1h6m-4 0h6m64 0h6m-179 1h6m2 1h6m0 0h6m83 0h6m11 0h6m64 1h6m-221 1h6m15 1h6m151 0h6m-205 1h6m-18 1h6m44 0h6m-10 1h6m8 0h6m27 1h6m-49 2h6m-2 0h6m200 0h6m-258 1h6m34 2h6m47 0h6m-68 1h6m106 1h6m-163 2h6m10 1h6m168 0h6m-49 1h6m-130 1h6m18 0h6m69 0h6m-128 1h6m89 0h6m60 0h6m-130 1h6m-8 1h6m11 0h6m12 0h6m-78 1h6m-2 0h6m37 0h6m44 0h6m-74 1h6m33 0h6m33 0h6m42 0h6m-141 1h6m3 0h6m6 0h6m17 0h6m39 0h6m77 0h6m-161 1h6m79 0h6m16 0h6m67 0h6m-221 1h6m8 0h6m133 0h6m-167 1h6m45 0h6m29 0h6m147 0h6m81 0h6m-299 2h6m76 0h6m-66 1h6m176 0h6m-165 1h6m-41 1h6m-4 0h6m122 0h6m31 0h6m-163 1h6m13 0h6m-47 1h6m0 0h6m15 0h6m10 0h6m-35 1h6m157 0h6m64 0h6m-276 1h6m64 1h6m-2 0h6m-2 0h6m19 0h6m4 0h6m116 0h6m-113 1h6m-140 1h6m23 0h6m20 0h6m34 0h6m33 0h6m-120 1h6m3 1h6m76 0h6m-88 1h6m-2 0h6m-39 2h6m-2 0h6m15 0h6m68 0h6m-97 1h6m66 0h6m52 0h6m37 1h6m-173 1h6m13 0h6m64 0h6m-66 1h6m-16 1h6m-2 0h6m-6 0h6m8 0h6m60 0h6m21 0h6m64 0h6m-173 3h6m58 0h6m23 0h6m52 0h6m-194 1h6m25 0h6m33 0h6m23 0h6m-117 1h6m27 0h6m33 0h6m15 0h6m10 0h6m-97 1h6m27 0h6m13 0h6m39 0h6m-4 0h6m-107 1h6m-2 0h6m0 0h6m137 0h6m-91 1h6m-2 0h6m65 0h6m-136 1h6m-2 0h6m43 0h6m-62 1h6m17 0h6m221 0h6m-266 1h6m165 0h6m-166 1h6m25 0h6m12 0h6m54 0h6m-68 1h6m-47 1h6m68 0h6m-113 1h6m60 0h6m39 0h6m-72 1h6m97 0h6m122 0h6m-256 1h6m11 0h6m-2 0h6m35 0h6m52 0h6m48 0h6m-161 1h6m-6 0h6m15 0h6m4 0h6m72 1h6m-154 1h6m58 0h6m25 0h6m-95 1h6m33 0h6m13 0h6m15 0h6m20 0h6m-63 1h6m-6 1h6m-2 0h6m-21 1h6m5 0h6m-4 0h6m22 0h6m50 0h6m33 0h6m-59 1h6m-114 2h6m17 0h6m19 0h6m-2 0h6m17 0h6m14 0h6m-96 1h6m10 0h6m0 1h6m34 0h6m-48 1h6m21 0h6m-80 1h6m29 0h6m-4 0h6m21 1h6m29 0h6m-62 1h6m17 0h6m-37 1h6m33 0h6m21 0h6m-18 1h6m-68 1h6m20 0h6m-1 0h6m31 0h6m-95 1h6m8 0h6m15 0h6m4 0h6m23 0h6m-64 1h6m79 0h6m-93 2h6m30 0h6m-62 1h6m-2 0h6m19 0h6m33 0h6m-29 1h6m-33 1h6m15 1h6m-31 1h6m5 1h6m10 0h6m17 0h6m-50 1h6m19 0h6m93 0h6m-152 1h6m74 0h6m-39 1h6m-27 1h6m-6 0h6m30 1h6m-23 1h6m0 3h6m0 1h6m-39 1h6m-6 0h6m-20 1h6m46 4h6m-46 11h6" stroke="#a50f15"/><path d="M2146 1123h6m4 15h6m-12 27h6m-37 20h6m8 43h6m-14 1h6m-80 3h6m272 3h6m-8 16h6m168 4h6m-324 4h6m47 2h6m-82 8h6m110 0h6m-130 2h6m95 2h6m-190 1h6m23 0h6m225 0h6m-117 3h6m-87 3h6m-6 2h6m108 2h6m-204 3h6m19 7h6m-37 1h6m254 4h6m-242 2h6m-16 2h6m-16 1h6m54 0h6m-60 1h6m-10 1h6m23 0h6m128 3h6m-97 1h6m56 2h6m-118 1h6m13 4h6m194 3h6m-208 3h6m-39 2h6m97 0h6m-109 1h6m31 0h6m42 1h6m-44 1h6m34 0h6m0 1h6m89 0h6m-87 1h6m-6 0h6m46 1h6m-45 1h6m27 2h6m116 0h6m-293 1h6m132 0h6m-91 3h6m281 1h6m-359 1h6m326 0h6m-340 2h6m238 0h6m-62 1h6m145 1h6m-326 2h6m33 0h6m-31 1h6m25 1h6m-60 1h6m207 0h6m-84 1h6m-95 1h6m54 1h6m180 0h6m-221 1h6m17 0h6m-21 1h6m141 0h6m-233 2h6m280 0h6m-264 1h6m21 1h6m-47 1h6m-4 0h6m31 0h6m7 0h6m20 0h6m100 0h6m10 0h6m-229 1h6m48 0h6m83 0h6m186 0h6m-316 1h6m178 0h6m-134 1h6m126 2h6m-182 2h6m106 0h6m-161 1h6m54 1h6m6 0h6m-22 1h6m78 0h6m-154 1h6m-4 0h6m29 1h6m157 1h6m8 0h6m-175 2h6m19 0h6m415 1h6m-406 1h6m-62 1h6m2 0h6m36 2h6m6 1h6m-66 1h6m37 0h6m1 0h6m29 1h6m-130 1h6m43 0h6m112 0h6m-101 1h6m-53 1h6m64 0h6m2 0h6m-64 1h6m77 0h6m74 0h6m-117 1h6m-8 1h6m-81 1h6m27 0h6m-1 0h6m86 0h6m61 0h6m49 0h6m-229 1h6m67 0h6m-13 1h6m-119 1h6m264 0h6m-251 2h6m20 0h6m32 1h6m-13 1h6m126 1h6m3 1h6m-145 1h6m5 2h6m-64 1h6m0 0h6m66 0h6m-103 1h6m15 0h6m-18 3h6m-17 1h6m32 1h6m35 0h6m25 0h6m-52 1h6m-92 1h6m51 0h6m17 0h6m139 0h6m-87 1h6m-109 1h6m132 0h6m-123 1h6m-48 1h6m34 0h6m60 0h6m56 0h6m-174 1h6m25 0h6m5 0h6m53 0h6m125 1h6m-143 1h6m5 0h6m-108 1h6m13 0h6m17 0h6m97 1h6m-140 1h6m70 0h6m31 0h6m34 0h6m-192 1h6m25 0h6m29 0h6m10 0h6m0 0h6m-38 1h6m6 0h6m0 0h6m8 0h6m-80 1h6m36 0h6m91 0h6m-50 1h6m-95 1h6m58 0h6m44 0h6m81 0h6m-227 1h6m103 0h6m-105 1h6m54 0h6m77 0h6m-108 1h6m-12 1h6m27 0h6m9 0h6m25 0h6m-93 1h6m2 0h6m44 0h6m159 1h6m-188 2h6m81 0h6m14 0h6m28 0h6m-211 1h6m60 0h6m13 0h6m10 0h6m-103 1h6m69 0h6m6 0h6m41 0h6m65 0h6m-140 1h6m78 0h6m-119 1h6m6 0h6m6 0h6m44 0h6m83 0h6m-205 1h6m58 0h6m23 0h6m-61 1h6m16 0h6m-59 1h6m128 0h6m-149 1h6m19 0h6m143 0h6m-147 1h6m7 0h6m37 0h6m-92 1h6m49 0h6m-2 0h6m-35 1h6m-3 0h6m-2 0h6m58 0h6m-4 0h6m-43 1h6m-83 1h6m17 0h6m95 0h6m-51 1h6m-87 2h6m4 0h6m13 0h6m205 0h6m-209 1h6m46 0h6m60 0h6m-78 1h6m16 0h6m-103 1h6m5 0h6m0 0h6m12 0h6m-39 1h6m19 0h6m33 0h6m-6 0h6m40 0h6m66 0h6m-183 1h6m99 0h6m-118 1h6m32 1h6m66 0h6m-74 1h6m12 0h6m25 0h6m15 0h6m66 0h6m-167 1h6m11 0h6m-2 0h6m4 0h6m19 0h6m35 0h6m-91 1h6m-30 1h6m0 0h6m13 1h6m-9 2h6m-1 0h6m122 0h6m-85 1h6m-89 2h6m3 0h6m25 0h6m14 0h6m65 0h6m-149 1h6m2 0h6m17 0h6m31 0h6m19 0h6m-58 1h6m40 0h6m4 0h6m23 0h6m-113 1h6m4 0h6m-4 0h6m42 0h6m16 0h6m-37 1h6m-41 1h6m17 0h6m37 0h6m-4 0h6m21 0h6m-142 1h6m85 0h6m6 0h6m-4 0h6m-82 1h6m29 0h6m6 0h6m-53 1h6m6 0h6m-8 1h6m66 1h6m-103 1h6m108 0h6m-134 2h6m21 0h6m-39 1h6m39 1h6m116 0h6m-167 1h6m64 0h6m15 1h6m-70 1h6m14 0h6m17 0h6m-57 2h6m25 0h6m-15 1h6m56 0h6m-105 1h6m35 0h6m3 2h6m12 0h6m27 0h6m-74 5h6m37 0h6m-41 2h6m-51 2h6m58 1h6m-39 1h6m-43 1h6m0 0h6m21 2h6m-33 1h6m10 0h6m-26 1h6m52 0h6m-35 1h6m2 1h6m-41 2h6" stroke="#67000d"/><path d="M2076 1464h6m-48 7h6m36 0h6m-64 13h6m51 4h6m-45 11h6" stroke="#c6dbef"/><path d="M2119 1406h6m0 26h6m-43 4h6m35 8h6m11 2h6m23 3h6m-126 18h6m50 18h6m-17 3h6m-68 3h6m64 4h6m-96 2h6m6 0h6m48 0h6m43 0h6m-43 2h6m-82 1h6m14 4h6m-22 1h6m0 3h6m48 1h6m-54 8h6m-4 3h6" stroke="#9ecae1"/><path d="M2226 1345h6m-177 63h6m-10 7h6m-39 2h6m-6 7h6m-4 6h6m111 0h6m-57 7h6m-17 8h6m-3 3h6m-64 6h6m-8 4h6m31 1h6m-21 6h6m7 0h6m27 0h6m-74 1h6m45 0h6m-2 1h6m-24 1h6m17 1h6m27 1h6m-83 1h6m-6 1h6m29 2h6m-20 2h6m2 0h6m-12 1h6m-10 1h6m-4 2h6m-27 2h6m9 3h6m12 3h6m-45 1h6m0 0h6m-8 1h6m35 0h6m3 0h6m-48 2h6m-10 1h6m25 1h6m71 5h6m-128 1h6m33 0h6m11 0h6m-23 1h6m52 0h6m-35 1h6m-56 1h6m-22 1h6m8 1h6m40 0h6m-66 2h6m33 0h6m-41 1h6m39 0h6m-51 1h6m6 1h6m3 0h6m-33 6h6m-4 3h6m10 0h6" stroke="#6baed6"/><path d="M2131 1359h6m66 5h6m125 11h6m-279 5h6m89 6h6m-25 14h6m-10 2h6m-57 4h6m51 0h6m-90 2h6m-21 6h6m9 0h6m2 3h6m106 2h6m-161 6h6m316 0h6m-316 2h6m120 3h6m-138 2h6m27 1h6m-12 2h6m50 0h6m45 0h6m-109 2h6m-4 0h6m46 0h6m-44 1h6m-6 0h6m-22 1h6m29 3h6m37 0h6m-57 1h6m49 2h6m1 0h6m-132 1h6m31 0h6m29 0h6m-62 1h6m34 1h6m-58 1h6m10 0h6m-26 1h6m50 0h6m76 2h6m136 0h6m-233 2h6m-1 0h6m-6 2h6m-4 1h6m-2 0h6m-6 1h6m-23 1h6m58 1h6m-101 1h6m21 0h6m2 0h6m7 0h6m-54 1h6m15 0h6m2 0h6m4 1h6m27 0h6m19 0h6m-57 1h6m16 0h6m54 0h6m-138 1h6m0 0h6m65 0h6m-75 1h6m5 1h6m80 1h6m-125 2h6m45 0h6m-14 1h6m105 0h6m-123 1h6m-41 1h6m14 0h6m100 2h6m-112 1h6m-4 0h6m75 0h6m8 1h6m-105 2h6m-18 1h6m124 0h6m-126 1h6m64 0h6m5 0h6m-79 1h6m5 1h6m23 0h6m-2 0h6m6 0h6m-70 1h6m29 0h6m46 0h6m-62 1h6m83 0h6m-97 1h6m0 0h6m38 0h6m45 0h6m-123 1h6m8 0h6m0 0h6m9 0h6m-64 2h6m39 1h6m-45 1h6m2 0h6m-4 1h6m-4 1h6m-18 1h6m23 1h6m77 0h6m-128 3h6m0 1h6m33 1h6m2 0h6m-6 0h6m-41 1h6m1 1h6m-19 1h6m-22 1h6m4 0h6m13 0h6m47 0h6m-82 1h6m-4 0h6m-6 0h6m0 1h6m-6 2h6m52 0h6m-64 2h6m-18 1h6m-4 0h6m-2 0h6m27 1h6m-16 4h6m-35 2h6m-4 1h6m17 0h6" stroke="#4292c6"/><path d="M2032 1245h6m329 71h6m-95 5h6m-204 5h6m68 29h6m-14 3h6m-87 8h6m178 0h6m-227 3h6m128 4h6m-128 2h6m5 2h6m54 7h6m-81 1h6m36 0h6m-40 1h6m17 1h6m-55 4h6m33 4h6m-37 2h6m31 0h6m17 1h6m35 4h6m-109 1h6m33 3h6m15 0h6m180 4h6m-163 1h6m25 0h6m186 0h6m-250 1h6m95 0h6m238 0h6m-105 1h6m-238 2h6m21 1h6m85 0h6m-194 2h6m242 0h6m-177 2h6m-70 1h6m-8 1h6m55 0h6m-88 1h6m19 0h6m52 1h6m14 0h6m83 1h6m110 0h6m-302 1h6m44 0h6m144 0h6m-210 2h6m62 1h6m-30 1h6m-25 1h6m52 1h6m-62 1h6m-2 1h6m40 1h6m23 0h6m-106 1h6m-10 1h6m21 0h6m29 0h6m-70 2h6m15 0h6m-33 1h6m42 0h6m14 0h6m70 0h6m-61 1h6m4 0h6m50 1h6m-56 1h6m-86 1h6m-21 2h6m0 1h6m-8 1h6m-3 0h6m66 1h6m167 0h6m-270 2h6m0 0h6m2 0h6m11 0h6m13 0h6m-46 1h6m7 0h6m-37 1h6m12 0h6m0 1h6m-1 0h6m39 0h6m13 1h6m-42 1h6m-55 1h6m56 0h6m-37 2h6m46 0h6m16 0h6m-43 1h6m72 0h6m5 0h6m52 0h6m-209 1h6m-22 1h6m35 0h6m7 0h6m8 0h6m89 0h6m-171 1h6m2 0h6m13 0h6m95 0h6m0 0h6m54 0h6m-188 1h6m37 0h6m9 1h6m-68 1h6m-12 1h6m81 0h6m39 0h6m-47 1h6m-70 1h6m45 0h6m-76 1h6m2 0h6m129 0h6m-108 1h6m-8 1h6m-2 0h6m7 1h6m43 1h6m-66 2h6m25 0h6m-45 1h6m2 0h6m28 0h6m2 0h6m-91 1h6m9 0h6m14 0h6m3 0h6m-38 1h6m13 0h6m-16 2h6m-2 0h6m-18 1h6m-6 1h6m2 0h6m-2 0h6m21 1h6m-60 1h6m17 0h6m-25 1h6m81 1h6m31 1h6m-99 1h6m60 0h6m-88 1h6m68 0h6m10 0h6m-84 1h6m8 0h6m-5 0h6m-52 1h6m6 0h6m5 0h6m-19 1h6m7 0h6m0 0h6m29 1h6m23 0h6m-99 1h6m83 0h6m-35 1h6m-54 1h6m28 0h6m20 0h6m-16 1h6m-66 1h6m9 0h6m-35 1h6m10 0h6m17 0h6m25 0h6m-49 1h6m-2 0h6m-19 3h6m29 1h6m-30 1h6m27 4h6m2 0h6m-31 1h6m9 0h6m-60 2h6m23 3h6m-14 1h6m-7 2h6" stroke="#2171b5"/><path d="M2084 1222h6m248 79h6m2 10h6m-134 3h6m-84 5h6m-110 1h6m50 1h6m-54 17h6m11 1h6m93 0h6m122 2h6m-214 5h6m111 2h6m-78 1h6m-31 3h6m-78 1h6m66 1h6m-2 1h6m-65 15h6m6 1h6m77 4h6m-99 1h6m2 2h6m-19 7h6m60 1h6m-59 1h6m8 0h6m-18 1h6m52 0h6m8 1h6m-78 1h6m10 0h6m77 0h6m-51 2h6m115 0h6m-167 1h6m-53 2h6m62 3h6m60 0h6m-136 3h6m-4 1h6m42 2h6m-54 1h6m97 1h6m-109 1h6m19 0h6m227 0h6m-82 1h6m-194 2h6m270 1h6m-255 2h6m8 3h6m-31 3h6m27 0h6m-22 1h6m81 0h6m144 0h6m-268 1h6m58 1h6m2 0h6m-34 1h6m66 0h6m-107 2h6m97 0h6m6 0h6m25 0h6m-161 1h6m27 0h6m180 0h6m-219 1h6m89 0h6m1 0h6m-85 3h6m-29 1h6m5 1h6m-25 1h6m66 0h6m-86 1h6m0 1h6m-4 0h6m91 0h6m-76 1h6m27 0h6m-27 1h6m-39 1h6m157 0h6m-78 1h6m-76 1h6m0 0h6m44 0h6m165 0h6m-243 1h6m10 1h6m-4 1h6m-2 1h6m-5 0h6m24 0h6m108 0h6m-163 1h6m-6 1h6m39 0h6m9 0h6m35 0h6m-148 1h6m47 1h6m17 0h6m19 0h6m50 0h6m-163 1h6m21 0h6m4 0h6m-18 1h6m-17 1h6m71 0h6m-44 1h6m-34 1h6m-4 0h6m10 0h6m170 0h6m6 0h6m-227 1h6m11 0h6m-33 1h6m39 0h6m7 0h6m247 0h6m-284 1h6m192 0h6m-192 1h6m38 0h6m18 0h6m7 0h6m-134 2h6m50 0h6m0 0h6m74 0h6m-138 1h6m19 0h6m19 0h6m64 0h6m62 1h6m-198 1h6m8 1h6m9 0h6m15 0h6m123 0h6m-100 1h6m4 0h6m27 0h6m12 0h6m-125 1h6m-14 1h6m16 0h6m36 0h6m72 0h6m-171 1h6m10 1h6m27 0h6m-43 2h6m-20 1h6m49 0h6m11 1h6m42 0h6m-116 1h6m11 0h6m56 0h6m24 0h6m3 1h6m-120 1h6m31 0h6m116 0h6m-103 1h6m-76 1h6m0 0h6m35 0h6m25 0h6m-66 1h6m7 0h6m-43 1h6m16 0h6m-28 1h6m19 0h6m0 0h6m2 0h6m-4 1h6m33 0h6m-68 1h6m5 2h6m62 0h6m-87 1h6m3 1h6m10 1h6m19 1h6m-70 1h6m-2 1h6m-6 1h6m52 0h6m33 0h6m-66 1h6m31 0h6m-49 1h6m41 0h6m-68 1h6m11 0h6m43 0h6m-41 1h6m-1 0h6m-6 0h6m-64 2h6m14 0h6m11 0h6m25 0h6m-29 4h6m52 0h6m-51 1h6m-56 1h6m35 1h6m-35 5h6m-20 1h6m31 0h6m-25 1h6" stroke="#08519c"/><path d="M2298 1108h6m-226 33h6m198 47h6m-217 7h6m221 7h6m-150 13h6m-80 23h6m260 10h6m15 4h6m-318 3h6m103 9h6m132 3h6m-210 9h6m143 0h6m-35 8h6m-171 6h6m81 0h6m320 0h6m-419 2h6m244 3h6m-262 4h6m25 1h6m154 0h6m-195 4h6m70 0h6m126 0h6m27 2h6m-206 1h6m-20 3h6m196 0h6m-4 1h6m-136 4h6m39 4h6m-152 1h6m175 0h6m-200 1h6m60 0h6m180 0h6m-167 1h6m85 0h6m37 0h6m54 0h6m-270 3h6m295 0h6m-303 1h6m77 1h6m51 0h6m106 1h6m-279 1h6m38 0h6m153 1h6m16 1h6m-127 1h6m119 0h6m259 1h6m-394 4h6m-46 1h6m19 2h6m-107 2h6m322 1h6m-315 1h6m10 1h6m17 1h6m2 1h6m6 2h6m46 0h6m75 0h6m-99 1h6m159 0h6m-291 1h6m58 1h6m54 1h6m35 1h6m128 0h6m-245 1h6m-4 0h6m27 0h6m60 0h6m120 0h6m-243 1h6m-44 1h6m-4 2h6m224 0h6m-256 1h6m64 1h6m33 0h6m40 0h6m101 0h6m-268 2h6m45 1h6m77 0h6m-86 2h6m53 0h6m3 0h6m-79 1h6m11 0h6m27 0h6m-16 1h6m35 0h6m-50 3h6m-28 1h6m-74 1h6m52 0h6m12 0h6m293 0h6m-196 1h6m-142 1h6m-51 2h6m56 1h6m95 0h6m-126 1h6m89 0h6m-4 0h6m40 1h6m-192 1h6m4 1h6m50 0h6m79 0h6m-48 1h6m11 0h6m31 0h6m-163 1h6m204 0h6m-115 1h6m159 0h6m-222 1h6m24 0h6m-5 0h6m16 0h6m15 0h6m-82 1h6m35 0h6m14 0h6m50 0h6m-103 1h6m25 0h6m-53 1h6m2 0h6m46 2h6m18 0h6m15 0h6m246 0h6m-343 1h6m145 0h6m-219 1h6m48 0h6m83 0h6m4 0h6m87 0h6m-254 1h6m40 0h6m-23 1h6m40 0h6m186 0h6m12 0h6m21 0h6m-299 1h6m8 0h6m1 1h6m37 0h6m8 0h6m-64 2h6m244 0h6m-268 1h6m0 0h6m114 0h6m-146 1h6m12 0h6m9 0h6m12 0h6m7 0h6m0 0h6m2 0h6m21 0h6m-51 2h6m187 0h6m-230 1h6m27 0h6m155 0h6m-178 1h6m-80 1h6m66 0h6m2 0h6m23 0h6m13 0h6m-138 1h6m17 0h6m62 0h6m8 0h6m35 0h6m-121 1h6m85 0h6m80 0h6m-192 2h6m-1 0h6m6 0h6m299 0h6m-239 1h6m48 0h6m29 0h6m-198 2h6m29 0h6m73 0h6m-120 1h6m0 0h6m7 0h6m35 0h6m64 0h6m-103 1h6m-2 0h6m-8 1h6m11 0h6m41 0h6m27 0h6m58 1h6m-152 1h6m35 0h6m-89 1h6m0 0h6m3 0h6m0 0h6m2 0h6m-6 1h6m2 0h6m34 0h6m27 0h6m134 0h6m-229 1h6m-16 1h6m10 0h6m25 0h6m-45 1h6m4 0h6m3 0h6m43 0h6m-55 1h6m4 0h6m8 0h6m23 0h6m40 0h6m-47 1h6m-108 1h6m38 0h6m-6 0h6m43 0h6m7 0h6m-124 1h6m15 0h6m-4 0h6m10 0h6m4 0h6m28 0h6m31 0h6m-108 1h6m19 0h6m21 0h6m-2 0h6m46 0h6m0 0h6m122 0h6m-260 2h6m33 0h6m58 0h6m-68 1h6m-4 0h6m5 0h6m0 0h6m39 0h6m5 0h6m-132 1h6m29 0h6m-4 0h6m4 0h6m15 0h6m-4 0h6m-58 1h6m52 0h6m60 0h6m-130 1h6m9 0h6m35 0h6m4 0h6m5 0h6m97 0h6m2 0h6m-208 1h6m31 0h6m42 0h6m49 0h6m143 0h6m-264 1h6m-2 0h6m68 0h6m7 0h6m-79 1h6m19 0h6m-2 1h6m15 0h6m-82 1h6m23 0h6m-4 0h6m-58 1h6m79 0h6m-4 0h6m-2 0h6m-2 0h6m27 0h6m-122 1h6m1 0h6m20 0h6m27 0h6m-55 1h6m43 0h6m3 0h6m16 0h6m62 0h6m-167 1h6m61 0h6m-93 1h6m68 0h6m52 0h6m-47 1h6m-2 0h6m12 0h6m7 0h6m-138 1h6m12 0h6m52 0h6m15 0h6m52 0h6m6 0h6m-167 1h6m29 0h6m35 0h6m-2 0h6m29 0h6m48 0h6m-115 1h6m-4 0h6m-2 0h6m-45 1h6m52 0h6m45 0h6m-111 1h6m19 0h6m8 0h6m132 0h6m-152 1h6m0 0h6m29 0h6m48 0h6m39 0h6m-175 1h6m-2 0h6m99 0h6m48 0h6m-206 1h6m23 0h6m25 0h6m29 0h6m19 0h6m97 0h6m-207 1h6m23 0h6m-2 0h6m32 0h6m16 0h6m21 0h6m-142 1h6m17 0h6m8 0h6m13 0h6m23 0h6m-89 1h6m39 0h6m180 0h6m-200 1h6m2 0h6m7 0h6m-56 1h6m3 0h6m68 0h6m15 0h6m-124 1h6m50 0h6m53 0h6m-101 2h6m1 0h6m4 0h6m41 0h6m-61 1h6m4 0h6m23 0h6m41 0h6m19 0h6m33 0h6m-156 1h6m10 0h6m9 0h6m16 0h6m-2 0h6m-1 0h6m-27 1h6m39 0h6m-88 1h6m-2 0h6m-2 0h6m0 0h6m139 0h6m-171 2h6m20 0h6m15 0h6m2 0h6m5 0h6m2 0h6m31 0h6m-105 1h6m15 0h6m31 0h6m15 0h6m10 0h6m-138 1h6m33 0h6m39 0h6m-38 1h6m29 1h6m29 0h6m-118 1h6m69 0h6m-60 1h6m29 0h6m13 0h6m14 0h6m-105 1h6m4 0h6m-4 0h6m67 0h6m6 0h6m60 0h6m-155 1h6m5 0h6m14 0h6m5 0h6m80 0h6m-138 1h6m19 0h6m4 0h6m-6 0h6m-5 0h6m29 0h6m-72 1h6m14 0h6m-45 1h6m15 0h6m0 0h6m4 0h6m70 0h6m-1 0h6m-126 1h6m87 0h6m52 0h6m-149 1h6m27 0h6m75 0h6m-83 1h6m-4 0h6m23 0h6m3 0h6m12 0h6m-91 1h6m-1 0h6m25 0h6m-23 1h6m56 0h6m-4 0h6m11 0h6m-112 1h6m-6 0h6m21 0h6m54 0h6m-97 1h6m23 0h6m11 0h6m78 0h6m-78 1h6m13 0h6m-97 1h6m29 0h6m25 0h6m33 0h6m-109 1h6m0 0h6m23 0h6m27 0h6m-47 1h6m-2 0h6m-39 1h6m99 0h6m-109 1h6m31 0h6m4 0h6m-14 1h6m66 0h6m-88 1h6m-33 1h6m68 0h6m48 0h6m-132 1h6m-8 2h6m6 0h6m75 0h6m-19 1h6m-84 1h6m0 0h6m-16 2h6m82 0h6m-57 1h6m-6 0h6m-45 1h6m49 0h6m-49 2h6m15 3h6m25 0h6m-64 1h6m12 0h6m7 2h6m-39 6h6m4 2h6" stroke="#08306b"/><path d="M2053 1429h6m4 30h6m11 36h6m-54 15h6" stroke="#fff5f0"/><path d="M2331 1434h6m-235 1h6m-20 33h6m-54 2h6m98 3h6m-122 2h6m6 4h6m-1 2h6m47 12h6" stroke="#fee0d2"/><path d="M2269 1404h6m-177 10h6m-35 8h6m60 10h6m3 5h6m-19 2h6m-95 5h6m-30 3h6m82 3h6m-67 4h6m-27 2h6m64 1h6m-58 2h6m-18 1h6m-16 1h6m120 1h6m-134 3h6m6 1h6m46 2h6m12 2h6m-68 1h6m65 0h6m14 0h6m-105 1h6m9 2h6m18 0h6m56 1h6m-28 3h6m-64 5h6m-4 4h6m-41 1h6m14 0h6m-26 2h6m-6 0h6m93 0h6m-62 1h6m27 2h6m-80 3h6m-4 0h6m-10 2h6m8 1h6m42 3h6m18 0h6m-32 1h6m-40 5h6m17 3h6m-4 3h6m-51 5h6" stroke="#fcbba1"/><path d="M2018 1368h6m-6 1h6m153 13h6m-134 10h6m23 1h6m-37 7h6m35 1h6m-74 2h6m66 3h6m-64 3h6m9 1h6m-6 10h6m-21 5h6m71 0h6m58 0h6m-81 1h6m126 0h6m-185 6h6m-29 2h6m19 3h6m54 0h6m-101 2h6m29 1h6m-2 1h6m54 2h6m-78 1h6m130 3h6m-145 1h6m96 0h6m-60 2h6m-62 4h6m42 0h6m-39 1h6m-37 2h6m4 0h6m2 0h6m-24 1h6m60 0h6m91 0h6m-165 1h6m29 0h6m128 0h6m-171 1h6m-4 0h6m91 1h6m-51 1h6m-2 2h6m-8 1h6m18 0h6m-41 1h6m9 1h6m-62 1h6m0 0h6m17 0h6m17 0h6m16 0h6m-90 1h6m52 0h6m12 0h6m-45 1h6m46 1h6m-41 1h6m31 0h6m-91 1h6m13 1h6m142 0h6m-181 1h6m-4 0h6m43 2h6m34 2h6m-99 1h6m14 0h6m-22 2h6m130 1h6m-132 1h6m48 0h6m-23 1h6m-35 1h6m1 1h6m-29 1h6m-6 0h6m-2 0h6m10 0h6m-26 1h6m4 0h6m35 0h6m46 0h6m-86 1h6m8 1h6m-49 1h6m-6 1h6m12 0h6m2 0h6m-1 0h6m-6 0h6m6 0h6m-33 1h6m4 1h6m-3 0h6m-17 1h6m2 0h6m67 0h6m-74 1h6m27 0h6m8 1h6m-47 1h6m-39 2h6m-8 1h6m66 2h6m-78 1h6m10 0h6m-24 1h6m27 0h6m12 0h6m-22 1h6m-37 1h6m23 0h6m-4 2h6m-12 1h6m-31 1h6m4 0h6m11 1h6m-11 4h6" stroke="#fc9272"/><path d="M2082 1309h6m56 38h6m126 1h6m-260 1h6m97 1h6m-47 9h6m-45 4h6m62 0h6m78 11h6m-163 8h6m-22 10h6m155 5h6m-153 2h6m-18 1h6m-2 0h6m40 0h6m58 0h6m-35 11h6m357 0h6m-349 2h6m-119 2h6m51 2h6m199 0h6m-254 2h6m89 0h6m118 0h6m-171 2h6m109 2h6m-68 1h6m-78 1h6m281 0h6m-262 3h6m2 0h6m27 0h6m-90 1h6m-23 3h6m71 1h6m8 0h6m-86 1h6m-4 0h6m14 4h6m48 0h6m-20 1h6m-62 1h6m8 0h6m29 0h6m-88 2h6m23 0h6m76 0h6m-99 1h6m-4 0h6m38 0h6m-68 1h6m10 0h6m3 1h6m54 0h6m-77 3h6m5 0h6m45 0h6m-61 2h6m16 0h6m-47 1h6m-2 0h6m8 0h6m44 0h6m-4 0h6m-51 1h6m-37 1h6m-4 0h6m-6 0h6m-4 0h6m14 0h6m-28 1h6m157 0h6m-132 1h6m15 0h6m-68 1h6m6 0h6m39 0h6m-45 1h6m17 0h6m4 0h6m-14 1h6m4 0h6m143 0h6m-188 1h6m100 0h6m-103 1h6m58 0h6m31 0h6m70 0h6m-202 1h6m52 0h6m-54 1h6m46 1h6m-2 0h6m-74 1h6m60 0h6m85 0h6m-159 1h6m9 0h6m10 0h6m2 0h6m40 0h6m0 1h6m-101 3h6m-14 1h6m-6 0h6m-6 0h6m41 0h6m37 0h6m-38 1h6m-40 1h6m30 0h6m58 0h6m-112 1h6m21 0h6m7 0h6m4 0h6m47 0h6m-5 0h6m-128 1h6m-4 0h6m6 0h6m9 0h6m33 0h6m29 0h6m-101 1h6m8 0h6m63 0h6m29 0h6m-126 1h6m-4 0h6m2 1h6m7 0h6m-4 0h6m29 1h6m4 0h6m4 0h6m1 0h6m-2 0h6m-91 1h6m9 0h6m6 0h6m23 0h6m-4 0h6m0 0h6m9 0h6m-4 0h6m27 0h6m-116 1h6m50 0h6m4 0h6m-41 1h6m104 0h6m-141 1h6m-2 0h6m106 0h6m-33 1h6m-113 1h6m23 0h6m6 0h6m-6 0h6m99 0h6m-150 1h6m17 0h6m16 0h6m11 0h6m31 0h6m2 0h6m-53 1h6m-46 1h6m19 0h6m-2 0h6m38 0h6m-95 1h6m19 1h6m-4 0h6m6 0h6m77 0h6m-138 1h6m21 0h6m4 0h6m-41 1h6m0 0h6m56 0h6m35 0h6m-82 1h6m10 0h6m0 0h6m5 0h6m12 0h6m-2 0h6m-96 1h6m4 0h6m35 1h6m33 0h6m-86 1h6m-6 0h6m0 0h6m2 0h6m15 0h6m-49 2h6m27 0h6m4 0h6m4 0h6m-55 1h6m-10 2h6m-4 0h6m21 0h6m4 1h6m-2 0h6m-39 1h6m19 0h6m10 0h6m17 0h6m-66 1h6m4 0h6m-5 0h6m16 0h6m23 1h6m-82 2h6m6 0h6m-18 1h6m-4 0h6m-2 1h6m4 0h6m34 1h6m-58 1h6m0 0h6m13 0h6m-2 0h6m16 0h6m-55 1h6m29 0h6m2 0h6m-33 8h6m1 0h6m-31 4h6" stroke="#fb6a4a"/><path d="M2073 1319h6m182 32h6m-84 11h6m-149 1h6m127 4h6m-157 2h6m109 2h6m-107 1h6m3 1h6m-21 3h6m33 8h6m180 1h6m50 0h6m-237 2h6m-19 1h6m-10 1h6m7 1h6m20 0h6m234 2h6m219 3h6m-529 1h6m5 1h6m112 1h6m97 0h6m175 1h6m-317 4h6m29 0h6m-14 3h6m200 0h6m-179 1h6m-83 1h6m89 2h6m215 0h6m-404 1h6m6 0h6m281 0h6m-250 2h6m1 1h6m-4 0h6m14 1h6m153 1h6m-202 1h6m178 0h6m-4 1h6m-235 1h6m37 0h6m27 0h6m91 1h6m-186 1h6m13 0h6m4 0h6m81 0h6m-119 1h6m39 2h6m107 0h6m-164 1h6m-27 1h6m97 0h6m-105 1h6m6 0h6m17 0h6m46 0h6m95 0h6m-128 1h6m-12 2h6m0 0h6m-80 1h6m0 0h6m13 0h6m78 0h6m101 0h6m-191 1h6m-39 1h6m29 1h6m47 0h6m-61 1h6m128 0h6m45 0h6m-199 1h6m82 0h6m27 0h6m-146 1h6m0 0h6m-4 0h6m48 0h6m21 0h6m149 0h6m-242 1h6m4 1h6m36 0h6m196 0h6m-161 1h6m139 0h6m16 0h6m-251 1h6m-4 0h6m0 0h6m31 0h6m-84 1h6m56 0h6m37 0h6m159 0h6m-243 1h6m109 0h6m-154 1h6m0 0h6m25 0h6m6 0h6m13 0h6m-49 2h6m35 0h6m46 0h6m72 0h6m-149 1h6m13 0h6m-80 1h6m-2 0h6m10 0h6m11 0h6m167 0h6m-144 1h6m-70 1h6m-4 0h6m68 0h6m42 0h6m12 0h6m135 0h6m-233 1h6m58 0h6m-48 1h6m-26 1h6m192 0h6m12 0h6m-251 1h6m17 0h6m4 0h6m17 0h6m-2 0h6m-66 1h6m37 0h6m91 0h6m-175 1h6m-4 0h6m-4 0h6m6 0h6m-5 0h6m45 0h6m2 0h6m1 0h6m-87 1h6m52 0h6m8 0h6m5 0h6m-93 1h6m56 0h6m186 0h6m-219 1h6m73 0h6m-122 1h6m70 0h6m-72 1h6m42 0h6m-19 1h6m1 1h6m21 0h6m-4 0h6m-99 1h6m51 1h6m-45 2h6m36 0h6m78 0h6m-130 2h6m1 0h6m20 0h6m93 0h6m-134 1h6m23 0h6m93 0h6m-154 1h6m-6 0h6m23 0h6m31 0h6m4 0h6m2 0h6m-80 1h6m-6 0h6m-2 0h6m19 0h6m4 0h6m17 0h6m-76 1h6m25 0h6m-43 1h6m-2 0h6m16 0h6m89 0h6m-113 1h6m77 0h6m-85 1h6m5 0h6m29 0h6m18 0h6m5 0h6m10 0h6m3 1h6m-126 1h6m17 0h6m49 0h6m7 0h6m14 1h6m-109 1h6m19 0h6m35 0h6m-72 1h6m9 0h6m14 0h6m-41 1h6m8 0h6m3 0h6m-2 0h6m-4 0h6m21 0h6m-12 1h6m80 0h6m-127 1h6m-4 0h6m0 0h6m21 0h6m56 0h6m-106 1h6m15 0h6m4 0h6m-4 0h6m28 0h6m-39 1h6m47 0h6m-105 1h6m11 0h6m18 0h6m-6 0h6m15 0h6m-41 1h6m-31 1h6m7 0h6m-7 1h6m23 0h6m61 0h6m-114 1h6m2 0h6m5 0h6m19 0h6m4 0h6m-10 1h6m-60 1h6m6 0h6m11 0h6m6 0h6m1 0h6m-4 0h6m-4 0h6m6 0h6m-72 1h6m0 0h6m27 0h6m0 0h6m7 1h6m-56 1h6m23 0h6m44 0h6m25 0h6m-114 1h6m27 0h6m5 0h6m4 0h6m-78 1h6m29 0h6m2 0h6m13 0h6m39 0h6m-107 1h6m66 0h6m11 0h6m-85 1h6m60 0h6m-72 2h6m4 2h6m-3 0h6m6 0h6m-47 1h6m54 0h6m-64 2h6m16 0h6m-14 1h6m29 0h6m-35 1h6m-14 4h6m7 1h6m10 1h6m-2 1h6m-26 2h6" stroke="#ef3b2c"/><path d="M2261 1291h6m-241 6h6m306 4h6m-246 11h6m134 0h6m61 11h6m-171 2h6m26 7h6m-61 5h6m384 0h6m-464 12h6m-19 1h6m95 1h6m-45 3h6m-62 1h6m96 2h6m58 1h6m-101 1h6m117 0h6m-136 5h6m-65 1h6m-4 0h6m161 0h6m-72 1h6m-48 2h6m-82 2h6m52 1h6m126 1h6m-159 1h6m46 0h6m-95 1h6m37 0h6m195 1h6m-202 3h6m18 0h6m98 1h6m-165 1h6m-21 1h6m116 0h6m23 0h6m43 2h6m-148 1h6m37 0h6m-76 4h6m-31 1h6m1 1h6m130 0h6m-124 2h6m267 0h6m-221 1h6m252 0h6m-287 1h6m5 0h6m276 0h6m-276 2h6m-68 1h6m17 0h6m2 0h6m-31 1h6m-22 1h6m29 0h6m-72 2h6m95 0h6m-14 1h6m-35 1h6m50 1h6m-46 1h6m25 0h6m382 0h6m-421 1h6m32 1h6m0 0h6m-110 1h6m-3 0h6m22 0h6m11 0h6m66 0h6m-111 2h6m2 1h6m31 0h6m137 0h6m-12 1h6m-207 2h6m60 0h6m-74 1h6m9 0h6m0 0h6m13 0h6m202 0h6m-208 2h6m12 0h6m-74 1h6m13 0h6m-6 1h6m37 0h6m9 0h6m55 0h6m-125 1h6m2 0h6m-2 0h6m5 0h6m8 0h6m46 0h6m150 0h6m17 1h6m-258 1h6m33 0h6m188 0h6m-288 1h6m-6 0h6m50 0h6m-4 0h6m78 0h6m46 0h6m64 0h6m-188 1h6m19 0h6m-76 1h6m60 0h6m27 0h6m-103 2h6m58 0h6m138 0h6m-214 1h6m72 0h6m19 0h6m-99 1h6m23 1h6m0 0h6m60 0h6m-134 1h6m17 0h6m15 0h6m-62 1h6m42 0h6m-60 1h6m2 0h6m58 0h6m-39 1h6m19 0h6m-23 1h6m106 0h6m-144 1h6m0 1h6m6 0h6m-4 0h6m21 0h6m4 0h6m13 0h6m-68 1h6m44 0h6m8 0h6m-2 0h6m64 0h6m-148 1h6m15 0h6m-50 1h6m13 0h6m6 0h6m15 0h6m89 0h6m85 0h6m35 0h6m-283 1h6m9 0h6m72 0h6m-4 0h6m0 0h6m-1 0h6m101 0h6m-142 1h6m-4 0h6m-4 0h6m-74 1h6m23 0h6m2 0h6m0 0h6m-23 1h6m-3 0h6m-11 1h6m23 0h6m-4 0h6m29 0h6m52 0h6m-126 1h6m-5 0h6m58 0h6m-124 1h6m29 0h6m41 0h6m27 0h6m-121 1h6m39 0h6m3 0h6m4 0h6m29 0h6m19 0h6m-74 1h6m-33 1h6m2 0h6m4 0h6m1 0h6m-46 1h6m180 0h6m-181 1h6m37 0h6m12 0h6m63 0h6m-155 1h6m-4 0h6m-4 0h6m89 0h6m4 0h6m-72 1h6m40 0h6m10 0h6m17 0h6m44 1h6m-180 1h6m27 0h6m42 0h6m-60 1h6m-2 0h6m40 0h6m10 0h6m-6 0h6m167 0h6m-264 1h6m17 0h6m25 0h6m37 0h6m9 0h6m-56 1h6m-66 1h6m21 0h6m112 0h6m79 0h6m-186 1h6m-74 1h6m45 0h6m50 0h6m-93 1h6m15 0h6m46 0h6m93 0h6m-192 1h6m29 0h6m0 0h6m-2 0h6m15 0h6m2 0h6m21 0h6m-4 0h6m-113 1h6m85 0h6m60 0h6m-161 1h6m8 0h6m85 0h6m11 0h6m-101 1h6m17 0h6m-6 0h6m49 0h6m-115 1h6m-4 0h6m6 0h6m-6 0h6m36 0h6m14 0h6m-4 0h6m-82 1h6m79 0h6m-68 1h6m14 0h6m44 0h6m12 0h6m-47 1h6m7 0h6m31 0h6m-128 1h6m12 0h6m96 0h6m-97 1h6m142 0h6m-181 1h6m10 0h6m-1 0h6m29 0h6m8 0h6m-35 1h6m3 0h6m2 0h6m-58 1h6m7 0h6m16 0h6m17 0h6m-70 1h6m31 0h6m87 0h6m76 0h6m-129 1h6m-85 1h6m25 0h6m5 0h6m49 0h6m-78 1h6m-2 0h6m-53 1h6m-4 0h6m-2 0h6m52 0h6m-64 1h6m6 0h6m21 0h6m-29 1h6m60 0h6m13 0h6m-53 1h6m-6 0h6m10 0h6m23 0h6m-105 1h6m2 0h6m2 0h6m1 0h6m41 0h6m-2 0h6m42 0h6m2 0h6m62 0h6m-161 1h6m31 0h6m-74 1h6m11 0h6m29 0h6m70 0h6m-92 1h6m-39 1h6m16 0h6m-6 1h6m-4 0h6m17 0h6m-33 1h6m15 0h6m-6 0h6m8 0h6m-64 1h6m5 0h6m-6 0h6m29 0h6m-2 0h6m41 0h6m-117 2h6m25 0h6m-4 1h6m-49 1h6m31 1h6m12 0h6m36 0h6m-56 1h6m35 0h6m-68 1h6m11 0h6m-37 1h6m4 0h6m-2 0h6m9 1h6m-4 0h6m21 0h6m0 0h6m-74 1h6m25 0h6m0 0h6m6 0h6m36 1h6m-93 1h6m13 0h6m6 0h6m-41 2h6m29 0h6m17 0h6m-35 1h6m-2 1h6m-8 1h6m12 0h6m-36 1h6m-17 6h6m-2 0h6m-10 1h6" stroke="#cb181d"/><path d="M2073 1172h6m-39 39h6m91 22h6m89 8h6m9 22h6m-206 13h6m53 2h6m-20 4h6m122 5h6m-99 6h6m-80 20h6m322 0h6m-99 4h6m-227 7h6m126 4h6m120 11h6m-16 3h6m-198 2h6m192 0h6m-124 1h6m-158 2h6m144 1h6m265 1h6m-415 4h6m273 1h6m-322 1h6m8 0h6m-24 3h6m93 0h6m46 1h6m146 0h6m-270 1h6m25 0h6m134 1h6m-66 4h6m-98 2h6m31 1h6m0 0h6m97 0h6m-117 1h6m163 0h6m-227 1h6m-33 3h6m238 0h6m-258 2h6m74 3h6m230 0h6m-297 1h6m281 0h6m-227 1h6m204 0h6m-276 1h6m29 0h6m27 0h6m33 0h6m-144 1h6m87 1h6m-49 1h6m105 0h6m-84 1h6m-42 1h6m1 0h6m268 0h6m-270 1h6m87 0h6m-68 1h6m-10 2h6m66 0h6m-117 1h6m-60 1h6m6 1h6m31 0h6m1 0h6m12 0h6m19 0h6m-99 1h6m15 0h6m4 0h6m75 0h6m0 0h6m324 2h6m-452 1h6m35 1h6m-1 0h6m-27 2h6m173 0h6m96 0h6m-285 1h6m23 1h6m116 1h6m-176 2h6m1 0h6m21 0h6m45 0h6m56 1h6m97 0h6m-266 1h6m52 0h6m12 0h6m92 1h6m-126 1h6m35 0h6m-84 1h6m130 0h6m-21 2h6m-144 1h6m17 0h6m48 0h6m-89 1h6m52 0h6m14 0h6m-2 0h6m-53 1h6m29 0h6m2 0h6m19 0h6m9 0h6m-89 1h6m-2 0h6m130 0h6m42 0h6m-217 1h6m52 0h6m70 0h6m-117 1h6m2 0h6m1 0h6m-56 1h6m17 0h6m29 1h6m-4 0h6m37 0h6m-66 1h6m-6 0h6m-10 1h6m81 0h6m33 0h6m105 0h6m48 0h6m-322 1h6m83 0h6m149 0h6m-202 2h6m31 0h6m-64 1h6m-2 0h6m-45 1h6m77 0h6m-21 1h6m9 0h6m27 0h6m-6 0h6m-50 1h6m-63 2h6m8 0h6m29 0h6m93 0h6m-125 1h6m6 0h6m116 0h6m-138 1h6m4 0h6m132 0h6m-167 1h6m4 0h6m30 0h6m-79 1h6m137 0h6m-109 1h6m37 0h6m4 0h6m-6 0h6m-103 1h6m33 0h6m98 0h6m-85 1h6m25 0h6m13 0h6m35 0h6m-35 1h6m64 0h6m-134 1h6m7 0h6m-54 1h6m54 0h6m-93 1h6m1 0h6m31 0h6m2 0h6m-10 1h6m23 0h6m-23 1h6m19 0h6m-99 1h6m2 0h6m19 0h6m7 0h6m-4 0h6m6 0h6m-62 1h6m42 0h6m68 0h6m106 0h6m-211 1h6m9 0h6m51 0h6m-84 1h6m10 0h6m-18 1h6m35 0h6m19 0h6m50 0h6m-128 1h6m93 0h6m19 0h6m-173 1h6m91 0h6m23 0h6m0 0h6m-109 1h6m20 0h6m42 0h6m116 0h6m-225 1h6m4 0h6m23 0h6m17 0h6m-68 1h6m118 0h6m-29 1h6m35 0h6m9 1h6m-138 1h6m39 0h6m-4 0h6m9 0h6m-74 1h6m-2 0h6m12 0h6m31 0h6m7 0h6m21 0h6m-42 1h6m-6 1h6m-6 0h6m13 0h6m-111 1h6m35 0h6m9 0h6m-60 1h6m29 0h6m2 0h6m17 0h6m35 0h6m-92 1h6m0 0h6m12 0h6m-33 1h6m46 1h6m-2 0h6m77 0h6m-122 2h6m5 0h6m74 0h6m-118 1h6m11 0h6m29 0h6m2 0h6m34 1h6m68 0h6m-188 1h6m106 0h6m-132 1h6m14 0h6m50 1h6m2 0h6m-94 1h6m25 0h6m25 0h6m0 0h6m76 0h6m-2 0h6m9 0h6m15 0h6m29 0h6m-174 1h6m42 1h6m6 0h6m-103 1h6m114 0h6m-142 1h6m12 0h6m-1 0h6m25 0h6m0 0h6m20 1h6m-30 1h6m4 0h6m9 0h6m-70 1h6m4 1h6m149 0h6m-167 1h6m16 0h6m34 0h6m37 0h6m-103 1h6m-2 0h6m-4 0h6m27 0h6m33 0h6m-109 1h6m17 0h6m6 0h6m-24 1h6m10 0h6m29 0h6m11 0h6m-74 1h6m20 0h6m1 0h6m-66 1h6m8 0h6m71 0h6m-33 1h6m-64 1h6m37 0h6m-24 1h6m52 0h6m-66 1h6m23 0h6m54 0h6m-93 1h6m-4 0h6m-2 0h6m-2 0h6m-12 1h6m27 0h6m-76 1h6m16 0h6m9 0h6m17 0h6m-23 1h6m-35 1h6m38 1h6m-4 0h6m-44 4h6m-4 0h6m46 0h6m-58 1h6m25 1h6m5 0h6m-21 1h6m-45 3h6m7 1h6m39 0h6m-72 2h6m17 0h6m45 0h6m-80 1h6m-10 5h6" stroke="#a50f15"/><path d="M2238 1071h6m-199 99h6m210 28h6m-225 42h6m44 1h6m29 0h6m141 15h6m80 10h6m-332 2h6m36 0h6m35 3h6m70 4h6m-130 1h6m23 3h6m281 10h6m-270 1h6m-45 1h6m384 3h6m-415 3h6m66 0h6m17 3h6m4 0h6m50 0h6m-136 1h6m42 0h6m-40 3h6m-49 2h6m333 1h6m-219 3h6m-111 1h6m157 0h6m23 1h6m-85 3h6m93 1h6m-18 3h6m-183 1h6m367 0h6m-388 4h6m-14 1h6m285 1h6m-369 2h6m252 0h6m-35 1h6m-72 6h6m-33 1h6m-87 1h6m122 1h6m-109 2h6m106 0h6m-85 3h6m-103 1h6m52 0h6m-51 2h6m-23 2h6m71 1h6m-60 2h6m58 0h6m-17 1h6m265 0h6m-287 1h6m13 0h6m99 0h6m-144 1h6m35 0h6m4 0h6m1 3h6m-85 2h6m60 1h6m56 0h6m-150 2h6m-4 0h6m179 0h6m-146 1h6m116 0h6m64 0h6m-60 1h6m-200 1h6m104 0h6m-118 1h6m66 1h6m-49 1h6m33 0h6m29 0h6m-57 1h6m-37 1h6m-6 2h6m250 1h6m196 0h6m-487 1h6m60 0h6m182 1h6m-252 1h6m112 1h6m-115 1h6m206 0h6m3 0h6m27 0h6m-130 2h6m-109 1h6m6 0h6m74 1h6m166 0h6m-295 1h6m-25 1h6m132 1h6m-3 1h6m24 0h6m-152 1h6m-12 2h6m45 0h6m3 1h6m-46 1h6m230 0h6m-211 1h6m118 0h6m71 2h6m-248 1h6m17 0h6m-2 0h6m72 0h6m-136 1h6m67 0h6m-81 1h6m77 0h6m52 0h6m-4 1h6m-126 1h6m56 0h6m-105 1h6m33 0h6m8 0h6m13 0h6m167 0h6m-127 1h6m-134 1h6m18 0h6m73 0h6m-80 1h6m27 0h6m4 1h6m35 0h6m-88 3h6m0 0h6m6 0h6m31 0h6m32 0h6m55 0h6m-183 1h6m114 0h6m10 0h6m-6 0h6m-136 1h6m27 0h6m38 0h6m8 0h6m-51 1h6m150 0h6m-80 1h6m-91 1h6m11 0h6m42 0h6m-104 1h6m38 0h6m25 0h6m10 0h6m-39 1h6m164 0h6m-254 1h6m45 0h6m69 0h6m-114 1h6m96 0h6m95 2h6m-79 1h6m-55 1h6m0 0h6m9 0h6m-66 1h6m80 0h6m193 0h6m-186 1h6m33 0h6m-190 1h6m27 0h6m77 0h6m11 1h6m-141 1h6m-1 0h6m24 0h6m25 0h6m85 0h6m-183 1h6m12 0h6m1 0h6m37 0h6m-45 1h6m80 0h6m23 0h6m-55 1h6m202 1h6m-171 1h6m89 0h6m-231 1h6m60 0h6m15 0h6m149 0h6m41 0h6m-266 1h6m6 0h6m5 0h6m-2 0h6m10 0h6m-16 1h6m2 0h6m-80 2h6m17 0h6m-6 2h6m37 0h6m12 0h6m42 0h6m-132 1h6m-6 0h6m6 0h6m-16 1h6m7 0h6m18 0h6m122 1h6m-113 1h6m-47 2h6m8 0h6m21 0h6m8 0h6m-4 0h6m52 0h6m64 1h6m-154 2h6m31 0h6m-103 1h6m225 0h6m-218 1h6m165 0h6m-161 1h6m2 1h6m52 1h6m-58 1h6m-3 1h6m-4 0h6m35 0h6m-2 0h6m35 0h6m-130 1h6m13 0h6m29 1h6m2 0h6m44 0h6m-80 1h6m4 0h6m37 1h6m-107 1h6m-6 0h6m13 0h6m4 0h6m79 0h6m-103 1h6m-4 1h6m27 0h6m144 0h6m-200 1h6m-28 1h6m41 0h6m-26 1h6m-4 0h6m20 0h6m11 0h6m62 0h6m-138 1h6m37 0h6m7 0h6m2 0h6m85 0h6m-128 1h6m6 0h6m5 0h6m80 0h6m3 0h6m-165 1h6m20 0h6m48 1h6m79 0h6m-56 1h6m19 0h6m-14 3h6m-107 1h6m45 1h6m11 0h6m12 0h6m5 0h6m-74 1h6m10 0h6m-66 1h6m36 0h6m-42 1h6m93 0h6m23 0h6m-132 1h6m-4 0h6m23 0h6m-32 1h6m55 2h6m-88 1h6m29 0h6m-2 0h6m-37 2h6m25 0h6m-47 1h6m8 0h6m-24 1h6m50 0h6m57 0h6m-94 2h6m8 0h6m27 0h6m-80 1h6m54 0h6m6 0h6m-72 2h6m37 0h6m-4 0h6m-3 0h6m-64 1h6m43 1h6m0 1h6m-39 3h6m81 1h6m-115 2h6m29 0h6m8 0h6m17 2h6m-49 4h6m16 0h6m-2 0h6m-32 1h6" stroke="#67000d"/></g>
<polyline points="504.3,382.0 649.8,298.4" fill="none" stroke="#f3b446" stroke-width="1.25"/>
<path d="M504.3 382.0v-4M504.3 243.0v4M528.5 382.0v-4M528.5 243.0v4M552.8 382.0v-4M552.8 243.0v4M577.0 382.0v-4M577.0 243.0v4M601.3 382.0v-4M601.3 243.0v4M625.5 382.0v-4M625.5 243.0v4M649.8 382.0v-4M649.8 243.0v4M504.3 382.0h4M649.8 382.0h-4M504.3 363.5h4M649.8 363.5h-4M504.3 344.9h4M649.8 344.9h-4M504.3 326.4h4M649.8 326.4h-4M504.3 307.9h4M649.8 307.9h-4M504.3 289.3h4M649.8 289.3h-4M504.3 270.8h4M649.8 270.8h-4M504.3 252.3h4M649.8 252.3h-4" stroke="#000" stroke-width="0.8" fill="none"/>
<rect x="504.3" y="243.0" width="145.5" height="139.0" fill="none" stroke="#444" stroke-width="1.4"/>
<text x="499.6" y="385.8" font-size="12" font-family='"Liberation Sans", sans-serif' text-anchor="end" textLength="6.7" lengthAdjust="spacingAndGlyphs" fill="#000" stroke="#000" stroke-width="0.15">0</text>
<text x="499.6" y="367.3" font-size="12" font-family='"Liberation Sans", sans-serif' text-anchor="end" textLength="6.7" lengthAdjust="spacingAndGlyphs" fill="#000" stroke="#000" stroke-width="0.15">2</text>
<text x="499.6" y="348.7" font-size="12" font-family='"Liberation Sans", sans-serif' text-anchor="end" textLength="6.7" lengthAdjust="spacingAndGlyphs" fill="#000" stroke="#000" stroke-width="0.15">4</text>
<text x="499.6" y="330.2" font-size="12" font-family='"Liberation Sans", sans-serif' text-anchor="end" textLength="6.7" lengthAdjust="spacingAndGlyphs" fill="#000" stroke="#000" stroke-width="0.15">6</text>
<text x="499.6" y="311.7" font-size="12" font-family='"Liberation Sans", sans-serif' text-anchor="end" textLength="6.7" lengthAdjust="spacingAndGlyphs" fill="#000" stroke="#000" stroke-width="0.15">8</text>
<text x="499.6" y="293.1" font-size="12" font-family='"Liberation Sans", sans-serif' text-anchor="end" textLength="13.4" lengthAdjust="spacingAndGlyphs" fill="#000" stroke="#000" stroke-width="0.15">10</text>
<text x="499.6" y="274.6" font-size="12" font-family='"Liberation Sans", sans-serif' text-anchor="end" textLength="13.4" lengthAdjust="spacingAndGlyphs" fill="#000" stroke="#000" stroke-width="0.15">12</text>
<text x="499.6" y="256.1" font-size="12" font-family='"Liberation Sans", sans-serif' text-anchor="end" textLength="13.4" lengthAdjust="spacingAndGlyphs" fill="#000" stroke="#000" stroke-width="0.15">14</text>
<text x="504.3" y="395.0" font-size="12" font-family='"Liberation Sans", sans-serif' text-anchor="middle" textLength="6.7" lengthAdjust="spacingAndGlyphs" fill="#000" stroke="#000" stroke-width="0.15">0</text>
<text x="528.5" y="395.0" font-size="12" font-family='"Liberation Sans", sans-serif' text-anchor="middle" textLength="13.4" lengthAdjust="spacingAndGlyphs" fill="#000" stroke="#000" stroke-width="0.15">50</text>
<text x="552.8" y="395.0" font-size="12" font-family='"Liberation Sans", sans-serif' text-anchor="middle" textLength="20.1" lengthAdjust="spacingAndGlyphs" fill="#000" stroke="#000" stroke-width="0.15">100</text>
<text x="577.0" y="395.0" font-size="12" font-family='"Liberation Sans", sans-serif' text-anchor="middle" textLength="20.1" lengthAdjust="spacingAndGlyphs" fill="#000" stroke="#000" stroke-width="0.15">150</text>
<text x="601.3" y="395.0" font-size="12" font-family='"Liberation Sans", sans-serif' text-anchor="middle" textLength="20.1" lengthAdjust="spacingAndGlyphs" fill="#000" stroke="#000" stroke-width="0.15">200</text>
<text x="625.5" y="395.0" font-size="12" font-family='"Liberation Sans", sans-serif' text-anchor="middle" textLength="20.1" lengthAdjust="spacingAndGlyphs" fill="#000" stroke="#000" stroke-width="0.15">250</text>
<text x="649.8" y="395.0" font-size="12" font-family='"Liberation Sans", sans-serif' text-anchor="middle" textLength="20.1" lengthAdjust="spacingAndGlyphs" fill="#000" stroke="#000" stroke-width="0.15">300</text>
<text x="481.8" y="233.4" font-size="18.5" font-family='"Liberation Serif", serif' text-anchor="start" fill="#000" stroke="#000" stroke-width="0.25">F</text>
<rect x="509.5" y="248.4" width="46.3" height="35.3" fill="#fff"/>
<rect x="509.5" y="248.4" width="46.3" height="35.3" fill="#5a5a5a"/>
<g clip-path="url(#cF)"><polygon points="510.1,249.0 518.9,254.0 518.9,262.0 510.1,267.0 501.3,262.0 501.3,254.0" fill="#5a5a5a" stroke="#5a5a5a" stroke-width="0.5"/><polygon points="527.7,249.0 536.5,254.0 536.5,262.0 527.7,267.0 518.9,262.0 518.9,254.0" fill="#555" stroke="#555" stroke-width="0.5"/><polygon points="545.3,249.0 554.1,254.0 554.1,262.0 545.3,267.0 536.5,262.0 536.5,254.0" fill="#606060" stroke="#606060" stroke-width="0.5"/><polygon points="562.9,249.0 571.7,254.0 571.7,262.0 562.9,267.0 554.1,262.0 554.1,254.0" fill="#606060" stroke="#606060" stroke-width="0.5"/><polygon points="501.3,262.0 510.1,267.0 510.1,275.0 501.3,280.0 492.5,275.0 492.5,267.0" fill="#444" stroke="#444" stroke-width="0.5"/><polygon points="518.9,262.0 527.7,267.0 527.7,275.0 518.9,280.0 510.1,275.0 510.1,267.0" fill="#3a3a3a" stroke="#3a3a3a" stroke-width="0.5"/><polygon points="536.5,262.0 545.3,267.0 545.3,275.0 536.5,280.0 527.7,275.0 527.7,267.0" fill="#4a4a4a" stroke="#4a4a4a" stroke-width="0.5"/><polygon points="554.1,262.0 562.9,267.0 562.9,275.0 554.1,280.0 545.3,275.0 545.3,267.0" fill="#666" stroke="#666" stroke-width="0.5"/><polygon points="510.1,275.0 518.9,280.0 518.9,288.0 510.1,293.0 501.3,288.0 501.3,280.0" fill="#000" stroke="#000" stroke-width="0.5"/><polygon points="527.7,275.0 536.5,280.0 536.5,288.0 527.7,293.0 518.9,288.0 518.9,280.0" fill="#333" stroke="#333" stroke-width="0.5"/><polygon points="545.3,275.0 554.1,280.0 554.1,288.0 545.3,293.0 536.5,288.0 536.5,280.0" fill="#5a5a5a" stroke="#5a5a5a" stroke-width="0.5"/><polygon points="562.9,275.0 571.7,280.0 571.7,288.0 562.9,293.0 554.1,288.0 554.1,280.0" fill="#606060" stroke="#606060" stroke-width="0.5"/></g>
<rect x="509.5" y="248.4" width="46.3" height="35.3" fill="none" stroke="#222" stroke-width="1.1"/>
<rect x="652.6" y="243.0" width="6.2" height="139.0" fill="url(#gr)" stroke="#222" stroke-width="1"/>
<path d="M652.6 382.0h1.5M658.8 382.0h-1.5M652.6 365.5h1.5M658.8 365.5h-1.5M652.6 348.9h1.5M658.8 348.9h-1.5M652.6 332.4h1.5M658.8 332.4h-1.5M652.6 315.8h1.5M658.8 315.8h-1.5M652.6 299.3h1.5M658.8 299.3h-1.5M652.6 282.7h1.5M658.8 282.7h-1.5M652.6 266.2h1.5M658.8 266.2h-1.5M652.6 249.6h1.5M658.8 249.6h-1.5" stroke="#000" stroke-width="0.8"/>
<text x="662.4" y="385.8" font-size="12" font-family='"Liberation Sans", sans-serif' text-anchor="start" textLength="16.7" lengthAdjust="spacingAndGlyphs" fill="#000" stroke="#000" stroke-width="0.15">0.0</text>
<text x="662.4" y="369.3" font-size="12" font-family='"Liberation Sans", sans-serif' text-anchor="start" textLength="16.7" lengthAdjust="spacingAndGlyphs" fill="#000" stroke="#000" stroke-width="0.15">0.6</text>
<text x="662.4" y="352.7" font-size="12" font-family='"Liberation Sans", sans-serif' text-anchor="start" textLength="16.7" lengthAdjust="spacingAndGlyphs" fill="#000" stroke="#000" stroke-width="0.15">1.2</text>
<text x="662.4" y="336.2" font-size="12" font-family='"Liberation Sans", sans-serif' text-anchor="start" textLength="16.7" lengthAdjust="spacingAndGlyphs" fill="#000" stroke="#000" stroke-width="0.15">1.8</text>
<text x="662.4" y="319.6" font-size="12" font-family='"Liberation Sans", sans-serif' text-anchor="start" textLength="16.7" lengthAdjust="spacingAndGlyphs" fill="#000" stroke="#000" stroke-width="0.15">2.4</text>
<text x="662.4" y="303.1" font-size="12" font-family='"Liberation Sans", sans-serif' text-anchor="start" textLength="16.7" lengthAdjust="spacingAndGlyphs" fill="#000" stroke="#000" stroke-width="0.15">3.0</text>
<text x="662.4" y="286.5" font-size="12" font-family='"Liberation Sans", sans-serif' text-anchor="start" textLength="16.7" lengthAdjust="spacingAndGlyphs" fill="#000" stroke="#000" stroke-width="0.15">3.6</text>
<text x="662.4" y="270.0" font-size="12" font-family='"Liberation Sans", sans-serif' text-anchor="start" textLength="16.7" lengthAdjust="spacingAndGlyphs" fill="#000" stroke="#000" stroke-width="0.15">4.2</text>
<text x="662.4" y="253.4" font-size="12" font-family='"Liberation Sans", sans-serif' text-anchor="start" textLength="16.7" lengthAdjust="spacingAndGlyphs" fill="#000" stroke="#000" stroke-width="0.15">4.8</text>
<text x="574.5" y="409.5" font-size="11.5" font-family='"Liberation Serif", serif' text-anchor="middle" fill="#000">Ψ</text>
<text x="581.5" y="404.5" font-size="6.5" font-family='"Liberation Serif", serif' text-anchor="middle" fill="#000">u</text>
<g transform="translate(474.3,316) rotate(-90)">
<text x="0.0" y="3.8" font-size="11.5" font-family='"Liberation Serif", serif' text-anchor="middle" fill="#000">Φ</text>
<text x="7.5" y="-0.5" font-size="6.5" font-family='"Liberation Serif", serif' text-anchor="middle" fill="#000">u</text>
</g>
<rect x="188.8" y="426.2" width="103.2" height="7.9" fill="url(#bl)" stroke="#222" stroke-width="1"/>
<path d="M214.6 426.2v1.5M214.6 434.1v-1.5M240.4 426.2v1.5M240.4 434.1v-1.5M266.2 426.2v1.5M266.2 434.1v-1.5" stroke="#333" stroke-width="0.8"/>
<text x="188.8" y="446.5" font-size="12" font-family='"Liberation Sans", sans-serif' text-anchor="middle" textLength="6.7" lengthAdjust="spacingAndGlyphs" fill="#000" stroke="#000" stroke-width="0.15">0</text>
<text x="214.6" y="446.5" font-size="12" font-family='"Liberation Sans", sans-serif' text-anchor="middle" textLength="13.4" lengthAdjust="spacingAndGlyphs" fill="#000" stroke="#000" stroke-width="0.15">20</text>
<text x="240.4" y="446.5" font-size="12" font-family='"Liberation Sans", sans-serif' text-anchor="middle" textLength="13.4" lengthAdjust="spacingAndGlyphs" fill="#000" stroke="#000" stroke-width="0.15">40</text>
<text x="266.2" y="446.5" font-size="12" font-family='"Liberation Sans", sans-serif' text-anchor="middle" textLength="13.4" lengthAdjust="spacingAndGlyphs" fill="#000" stroke="#000" stroke-width="0.15">60</text>
<text x="292.0" y="446.5" font-size="12" font-family='"Liberation Sans", sans-serif' text-anchor="middle" textLength="13.4" lengthAdjust="spacingAndGlyphs" fill="#000" stroke="#000" stroke-width="0.15">80</text>
<text x="222.4" y="421.2" font-size="11" font-family='"Liberation Sans", sans-serif' text-anchor="start" textLength="25.5" lengthAdjust="spacingAndGlyphs" fill="#000" stroke="#000" stroke-width="0.15">Male</text>
<text x="251.5" y="421.5" font-size="12" font-family='"Liberation Serif", serif' text-anchor="start" font-style="italic" fill="#000">y</text>
<rect x="412.7" y="426.2" width="103.4" height="7.9" fill="url(#rd)" stroke="#222" stroke-width="1"/>
<path d="M438.6 426.2v1.5M438.6 434.1v-1.5M464.4 426.2v1.5M464.4 434.1v-1.5M490.2 426.2v1.5M490.2 434.1v-1.5" stroke="#333" stroke-width="0.8"/>
<text x="412.7" y="446.5" font-size="12" font-family='"Liberation Sans", sans-serif' text-anchor="middle" textLength="6.7" lengthAdjust="spacingAndGlyphs" fill="#000" stroke="#000" stroke-width="0.15">0</text>
<text x="438.6" y="446.5" font-size="12" font-family='"Liberation Sans", sans-serif' text-anchor="middle" textLength="13.4" lengthAdjust="spacingAndGlyphs" fill="#000" stroke="#000" stroke-width="0.15">20</text>
<text x="464.4" y="446.5" font-size="12" font-family='"Liberation Sans", sans-serif' text-anchor="middle" textLength="13.4" lengthAdjust="spacingAndGlyphs" fill="#000" stroke="#000" stroke-width="0.15">40</text>
<text x="490.2" y="446.5" font-size="12" font-family='"Liberation Sans", sans-serif' text-anchor="middle" textLength="13.4" lengthAdjust="spacingAndGlyphs" fill="#000" stroke="#000" stroke-width="0.15">60</text>
<text x="516.1" y="446.5" font-size="12" font-family='"Liberation Sans", sans-serif' text-anchor="middle" textLength="13.4" lengthAdjust="spacingAndGlyphs" fill="#000" stroke="#000" stroke-width="0.15">80</text>
<text x="439.2" y="421.2" font-size="11" font-family='"Liberation Sans", sans-serif' text-anchor="start" textLength="40.2" lengthAdjust="spacingAndGlyphs" fill="#000" stroke="#000" stroke-width="0.15">Female</text>
<text x="483.0" y="421.5" font-size="12" font-family='"Liberation Serif", serif' text-anchor="start" font-style="italic" fill="#000">y</text>
</svg></body></html>
